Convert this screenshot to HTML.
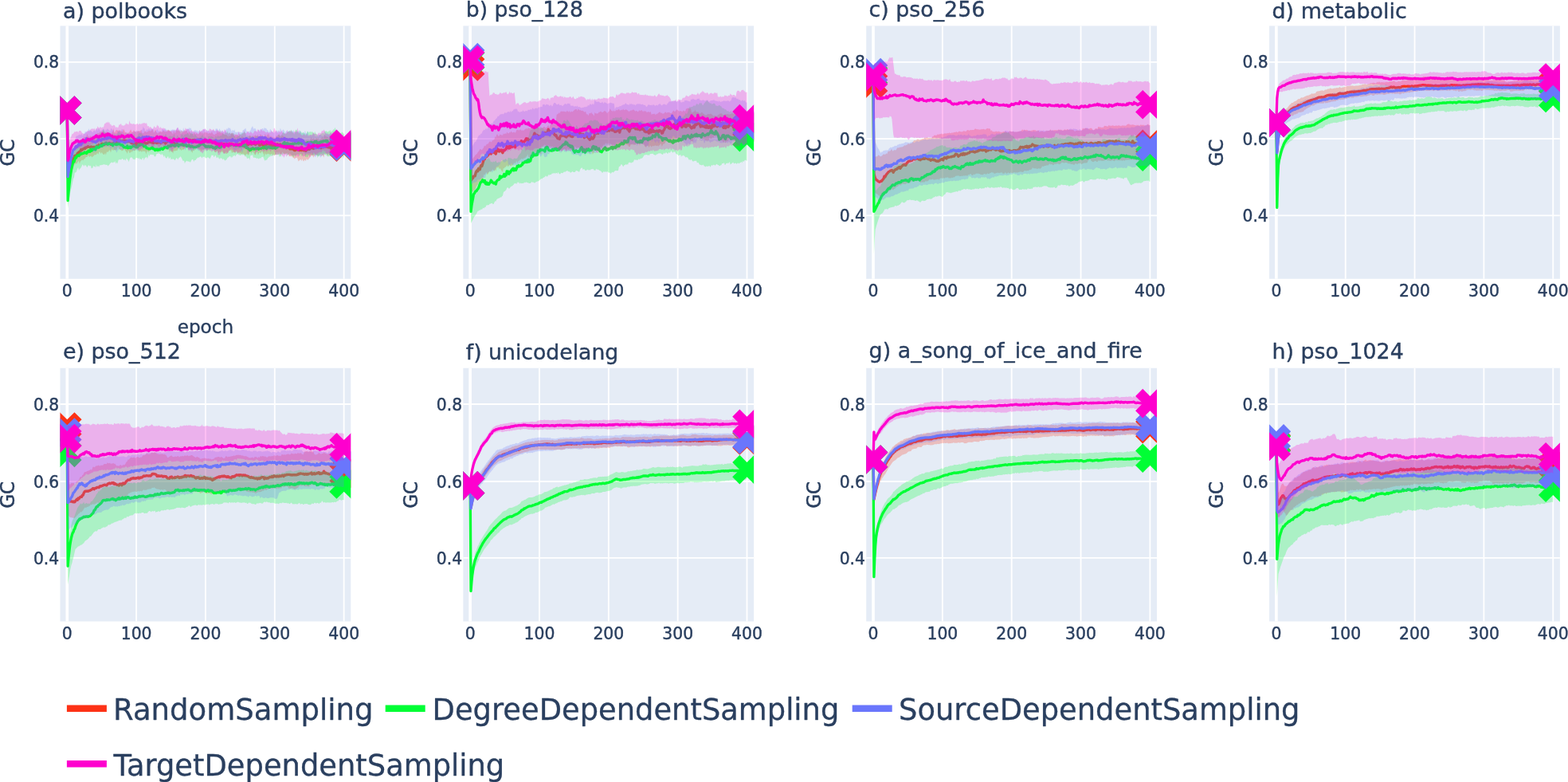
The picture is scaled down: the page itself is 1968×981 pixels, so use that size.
<!DOCTYPE html>
<html lang="en"><head><meta charset="utf-8"><title>GC vs epoch</title>
<style>html,body{margin:0;padding:0;background:#fff}body{width:1968px;height:981px;overflow:hidden}svg{display:block}text{font-family:"DejaVu Sans","Liberation Sans",sans-serif;white-space:pre}.bR{fill:#FD3216;fill-opacity:0.25;stroke:none}.lR{fill:none;stroke:#FD3216;stroke-width:3.333;stroke-linejoin:round;stroke-linecap:butt;vector-effect:non-scaling-stroke}.bG{fill:#00FE35;fill-opacity:0.25;stroke:none}.lG{fill:none;stroke:#00FE35;stroke-width:3.333;stroke-linejoin:round;stroke-linecap:butt;vector-effect:non-scaling-stroke}.bB{fill:#6A76FC;fill-opacity:0.25;stroke:none}.lB{fill:none;stroke:#6A76FC;stroke-width:3.333;stroke-linejoin:round;stroke-linecap:butt;vector-effect:non-scaling-stroke}.bM{fill:#FE00CE;fill-opacity:0.25;stroke:none}.lM{fill:none;stroke:#FE00CE;stroke-width:3.333;stroke-linejoin:round;stroke-linecap:butt;vector-effect:non-scaling-stroke}</style></head><body>
<svg width="1968" height="981" viewBox="0 0 1968 981">
<rect width="1968" height="981" fill="#fff"/>
<defs>
<clipPath id="ca"><rect x="75.48" y="32.44" width="364.8" height="317.35"/></clipPath>
<clipPath id="cb"><rect x="581.35" y="32.44" width="364.8" height="317.35"/></clipPath>
<clipPath id="cc"><rect x="1087.22" y="32.44" width="364.8" height="317.35"/></clipPath>
<clipPath id="cd"><rect x="1593.09" y="32.44" width="364.8" height="317.35"/></clipPath>
<clipPath id="ce"><rect x="75.48" y="461.72" width="364.8" height="317.8"/></clipPath>
<clipPath id="cf"><rect x="581.35" y="461.72" width="364.8" height="317.8"/></clipPath>
<clipPath id="cg"><rect x="1087.22" y="461.72" width="364.8" height="317.8"/></clipPath>
<clipPath id="ch"><rect x="1593.09" y="461.72" width="364.8" height="317.8"/></clipPath>
</defs>
<g id="p_a">
<rect x="75.48" y="32.44" width="364.8" height="317.35" fill="#E5ECF6"/>
<path d="M171.12,32.44v317.35M257.96,32.44v317.35M344.8,32.44v317.35M431.64,32.44v317.35M75.48,270.42h364.8M75.48,174.1h364.8M75.48,77.85h364.8" stroke="#fff" stroke-width="1.85" fill="none"/>
<path d="M84.28,32.44v317.35" stroke="#fff" stroke-width="3.6" fill="none"/>
<g clip-path="url(#ca)">
<g transform="translate(84.28,463.26) scale(0.8684,-0.24095)">
<path class="bR" d="M0 1348l1-328 1 19 1 14 1 13 1 13 1 13 1 10 1 14 1 11 1 3 1 17 1 0 1 3 1 10 1 0 1 0 1 7 1 8 1 13 1 5 1 6 1 0 1-3 1 14 1 0 1-3 1 4 1 4 1 11 1-11 1-4 1 1 1-3 1 9 1-6 1 0 1-3 1-1 1 6 1-4 1 12 1 2 1 1 1 6 1-2 1 1 1 4 1 2 1-1 1 3 1 3 1-1 1-1 1-7 1 3 1-2 1 2 1 3 1-7 1 1 1-1 1 1 1-2 1-3 1 10 1 0 1 18 1-21 1 0 1 8 1 3 1 2 1-5 1 2 1-2 1 2 1-2 1-4 1 2 1-6 1 15 1 0 1-7 1-9 1 1 1-3 1-5 1 8 1-4 1 7 1 6 1 6 1-9 1-6 1 3 1 8 1-3 1-6 1 2 1-6 1 10 1-5 1 3 1 2 1-3 1 3 1 5 1-14 1-3 1-1 1 3 1 6 1 3 1-7 1 1 1 2 1 0 1 6 1 0 1-5 1 3 1 2 1 4 1 1 1-16 1 1 1 16 1-5 1-10 1-1 1-7 1 6 1 4 1-2 1 5 1-3 1 0 1 1 1 7 1-3 1-4 1-1 1 3 1-4 1 10 1 0 1 3 1-6 1-5 1 4 1-7 1-6 1-5 1 18 1-6 1-6 1 7 1 12 1-5 1-3 1 8 1-9 1-2 1 2 1 5 1-3 1-4 1 4 1-4 1 10 1-8 1 3 1 2 1-13 1-3 1 15 1-11 1 1 1-8 1-1 1 1 1 1 1 1 1 11 1-15 1 2 1 2 1 2 1-7 1 3 1 10 1-6 1 9 1-4 1-9 1 12 1-12 1 7 1 4 1-3 1 0 1-1 1-1 1-6 1 6 1-3 1 2 1-3 1 10 1-6 1-8 1 0 1-4 1 6 1 1 1 0 1 17 1-13 1 5 1 4 1-1 1 3 1-12 1-1 1 5 1-10 1 1 1-4 1 1 1 0 1-3 1-4 1-5 1 10 1-7 1 2 1 16 1 1 1-5 1-6 1-3 1-4 1 4 1 13 1-11 1 1 1-2 1-4 1 4 1-12 1 0 1 5 1 4 1-5 1 0 1-8 1 0 1 8 1-4 1 4 1-3 1-3 1 11 1 3 1 0 1-12 1 7 1-2 1 2 1 5 1-4 1 9 1-10 1 5 1-5 1 11 1-15 1 3 1 12 1-2 1-4 1-1 1-17 1 5 1 6 1 15 1-6 1-10 1 14 1-5 1 11 1-11 1-8 1 4 1-1 1-5 1 3 1-7 1 4 1-4 1 1 1 11 1-4 1 4 1 6 1-3 1-3 1 0 1-14 1 18 1-5 1-1 1-2 1-4 1 2 1-1 1-6 1 2 1-4 1-8 1 1 1-5 1-7 1-1 1 6 1 5 1 2 1-7 1-4 1-6 1 6 1 11 1-7 1 1 1-2 1 8 1 0 1-9 1 6 1 1 1-13 1 2 1 6 1-2 1 6 1 4 1-11 1 15 1-10 1 0 1 3 1 10 1 7 1-14 1 5 1 3 1-3 1-5 1 0 1 10 1-3 1-4 1 8 1-16 1 7 1-1 1 2 1 9 1 3 1-10 1 8 1 10 1-3 1-5 1 2 1-3 1 0 1-7 1 8 1-4 1 1 1 12 1-9 1-6 1-11 1 6 1 4 1-4 1 5 1-4 1-13 1-2 1 0 1 2 1 9 1 2 1 8 1-6 1-3 1 5 0-87-1-1-1-5-1 5-1-16-1 3-1 1-1 4-1-3-1 9-1 2-1-5-1-3-1-2-1 15-1-8-1 11-1-15-1 16-1-10-1 0-1 11-1-6-1-8-1-1-1 15-1-5-1 0-1 6-1-24-1 7-1 6-1-2-1-5-1 10-1-4-1 6-1-7-1-1-1 3-1 0-1 2-1-7-1 1-1-9-1 8-1 4-1-3-1-4-1 0-1-9-1-3-1-6-1 3-1 5-1-13-1 4-1 3-1-9-1 3-1 12-1-14-1 9-1 2-1-8-1 1-1-5-1 15-1 6-1-3-1 1-1-7-1 5-1 2-1 2-1 7-1-3-1 2-1 0-1-2-1 8-1 8-1 3-1-4-1 3-1-2-1-5-1 6-1 4-1 4-1-10-1 0-1-1-1 5-1 9-1-22-1 16-1 2-1-14-1-1-1-5-1 4-1 7-1-12-1 13-1-2-1-2-1-3-1 7-1-3-1 4-1-3-1-2-1 0-1 8-1-23-1 19-1 1-1 12-1-4-1-8-1 3-1 3-1-6-1-10-1 14-1 8-1-15-1-6-1 2-1 8-1 7-1-3-1 3-1-12-1 13-1 0-1-13-1-6-1 3-1 6-1-3-1-4-1-4-1 5-1 7-1-3-1 3-1-4-1 2-1 4-1-4-1 6-1-5-1 5-1 9-1-2-1-10-1 3-1 4-1-2-1-1-1-3-1 13-1 1-1-2-1 0-1-5-1-5-1-6-1 0-1 3-1 0-1 1-1 1-1 2-1 5-1-6-1 4-1-4-1 6-1-8-1 2-1 11-1-7-1 0-1 0-1-2-1 12-1 3-1 6-1-2-1-1-1-3-1-10-1 9-1 3-1-9-1 0-1 6-1 0-1 4-1-2-1-3-1 2-1-7-1-3-1 8-1-5-1 8-1-1-1 2-1 4-1 2-1-9-1 0-1-3-1-5-1 7-1-17-1 7-1 5-1 9-1 3-1-6-1 7-1 6-1-1-1 9-1-14-1 3-1-7-1-6-1 3-1-2-1-4-1 8-1-6-1 15-1-5-1-3-1-10-1 2-1-1-1-2-1 0-1 2-1-15-1 9-1 1-1 0-1 7-1-12-1 14-1 2-1 0-1-1-1 0-1 3-1-4-1 5-1 3-1 5-1-8-1-7-1 0-1-6-1 0-1 1-1-9-1 15-1 2-1 8-1 3-1-4-1-6-1-5-1 13-1-10-1 1-1-6-1 0-1-6-1 1-1 7-1-8-1-11-1 14-1 1-1 0-1-1-1 4-1-8-1 4-1 3-1-3-1-1-1 5-1 6-1 3-1-4-1-2-1-3-1-1-1 3-1-1-1-10-1 8-1-8-1-1-1-2-1 12-1-1-1-15-1 8-1 4-1 4-1 7-1 0-1-5-1-2-1-2-1 5-1 1-1 3-1 1-1 12-1-1-1-9-1-9-1 2-1 0-1 1-1-2-1-1-1 6-1-5-1-12-1 11-1 2-1-6-1-5-1 3-1-3-1-16-1 13-1-7-1-3-1 3-1 4-1 7-1-8-1 4-1 7-1-4-1-11-1 6-1-1-1-8-1 2-1-3-1 1-1-7-1-1-1-5-1 6-1 1-1-1-1-5-1 9-1 0-1-8-1 0-1 0-1-7-1-2-1-3-1-7-1 5-1-2-1-5-1-3-1-12-1 14-1 0-1-6-1-7-1 3-1-5-1 3-1-10-1-11-1-10-1-11-1-7-1-3-1-10-1-11-1-9-1-9-1 368z"/>
<path class="lR" d="M0 1348l1-348 1 16 1 14 1 11 1 12 1 8 1 14 1 6 1 13 1 8 1 10 1 1 1 1 1 0 1 11 1 3 1 1 1 5 1 1 1 9 1-4 1 4 1 3 1 1 1 4 1-3 1 6 1 0 1 1 1 4 1-2 1-1 1-1 1 2 1 1 1-1 1-2 1 0 1 2 1-1 1 0 1 1 1 6 1 0 1-2 1 6 1-5 1 3 1 2 1 6 1 1 1-2 1-5 1 6 1 1 1-2 1 0 1-1 1 1 1 2 1 4 1-4 1-5 1 5 1 0 1-3 1 5 1 3 1 4 1 3 1 1 1-2 1 5 1-1 1-5 1 3 1 2 1-2 1-1 1 1 1 2 1-3 1 4 1-6 1 5 1-5 1 0 1 2 1 2 1-3 1-1 1-3 1-4 1-2 1 5 1-2 1-4 1 1 1-1 1-6 1 10 1 2 1 0 1 0 1 5 1-5 1-4 1 1 1 7 1-3 1-1 1 0 1-4 1-2 1 1 1 2 1 3 1 1 1 2 1-1 1 0 1-2 1 2 1-5 1 0 1 4 1 3 1-1 1-6 1 4 1-3 1 7 1-4 1 0 1-4 1 2 1 2 1 1 1 2 1 2 1-3 1-8 1 5 1 2 1 5 1-1 1 0 1-2 1 1 1-5 1 1 1 6 1-5 1 6 1-6 1-7 1 3 1 6 1-5 1 6 1 6 1-4 1 3 1 0 1 2 1-4 1 8 1-6 1 4 1 3 1-2 1 1 1-3 1 1 1 2 1-2 1 0 1-2 1-6 1 1 1 5 1 1 1-2 1 3 1-1 1-1 1 1 1-1 1-8 1 3 1 7 1-8 1 11 1-5 1-7 1 0 1-4 1 1 1 9 1-2 1 2 1-7 1 1 1 0 1 1 1-2 1 2 1-3 1-1 1 2 1 0 1 3 1-3 1-8 1 4 1-7 1 9 1-1 1 1 1-6 1 1 1-4 1-5 1 6 1-3 1-3 1 4 1-5 1 0 1 2 1-3 1 6 1-2 1 2 1 2 1-8 1 6 1 2 1-4 1-1 1 0 1-2 1-2 1 0 1 3 1 2 1-6 1 4 1 3 1-8 1 6 1-1 1 3 1-2 1 0 1-10 1 4 1 5 1-4 1 8 1-3 1-1 1 5 1 2 1 2 1-7 1 1 1 6 1-1 1-3 1 1 1-5 1 3 1 7 1-1 1-4 1-1 1-8 1 1 1 3 1 4 1 3 1-10 1 3 1-8 1 7 1 7 1-6 1 9 1-7 1 2 1-2 1 0 1-8 1 3 1-2 1-1 1 6 1-3 1-6 1 0 1 9 1 1 1 2 1-9 1 4 1-3 1 6 1-9 1 4 1-4 1 1 1 0 1 3 1-5 1-2 1 3 1 4 1-7 1-4 1-4 1-4 1 0 1 0 1 1 1-2 1 0 1-5 1-1 1 1 1 6 1 1 1-5 1 3 1-5 1-1 1 6 1-5 1-1 1 5 1-3 1-3 1 6 1-2 1-6 1 10 1-4 1 7 1-5 1 0 1 3 1 9 1 3 1-7 1-2 1-2 1 8 1 5 1-5 1 10 1 1 1-8 1-3 1 1 1-2 1 2 1-6 1 4 1 3 1-3 1 2 1 7 1-7 1 7 1-2 1-6 1-1 1-1 1 4 1-3 1-6 1 5 1 1 1-4 1-8 1 4 1 1 1-1 1-1 1-1 1-3 1-3 1 5 1 4 1-2 1 5 1 8 1-9 1 5 1 0"/>
</g>
<path fill="#FD3216" d="M84.28,147.61l9.15,9.15l9.15,-9.15l-9.15,-9.15l9.15,-9.15l-9.15,-9.15l-9.15,9.15l-9.15,-9.15l-9.15,9.15l9.15,9.15l-9.15,9.15l9.15,9.15ZM431.64,193.87l9.15,9.15l9.15,-9.15l-9.15,-9.15l9.15,-9.15l-9.15,-9.15l-9.15,9.15l-9.15,-9.15l-9.15,9.15l9.15,9.15l-9.15,9.15l9.15,9.15Z"/>
<g transform="translate(84.28,463.26) scale(0.8684,-0.24095)">
<path class="bG" d="M0 1348l1-450 1 52 1 45 1 38 1 28 1 28 1 19 1 21 1 11 1 0 1 9 1 9 1-3 1 7 1-3 1 11 1-5 1 10 1-2 1 4 1 3 1-5 1 8 1 5 1 2 1 1 1 1 1-10 1 0 1 2 1 10 1-16 1-1 1 15 1-1 1 3 1 0 1 0 1 11 1 10 1-10 1 1 1 9 1-5 1 2 1 0 1 10 1 6 1 0 1-2 1 1 1 21 1-1 1-10 1-7 1-1 1 2 1-5 1-7 1 7 1-4 1 0 1-1 1-2 1-6 1 1 1 0 1 11 1-6 1 0 1-1 1 4 1 6 1 8 1 0 1-1 1-10 1 8 1-8 1-11 1 1 1-5 1 4 1 1 1 0 1 4 1 16 1-13 1 5 1-13 1 6 1-2 1 4 1-2 1-2 1 1 1 10 1-26 1 4 1 1 1 6 1-1 1 12 1 6 1-3 1 2 1 1 1-6 1-5 1 1 1-10 1 6 1-3 1-6 1-7 1-11 1 3 1 1 1 7 1 2 1 0 1-6 1 6 1-11 1 3 1 8 1-9 1 1 1-7 1 5 1-15 1 16 1-4 1 5 1 8 1 4 1 3 1-10 1 23 1-8 1 1 1 8 1 0 1-11 1-13 1 11 1 0 1 2 1 5 1-7 1 3 1 1 1-4 1 10 1 5 1-21 1-3 1 6 1 10 1-1 1-7 1-4 1-5 1 11 1 13 1-6 1 8 1-16 1 10 1 2 1 0 1 1 1-1 1 11 1-8 1-6 1-6 1 14 1 1 1 5 1-4 1-10 1-10 1 12 1 2 1-6 1-5 1-3 1-4 1 3 1-7 1 14 1-11 1 14 1-4 1 8 1-13 1-1 1 2 1 0 1-6 1-3 1-4 1 17 1-4 1 4 1-6 1 3 1 2 1-4 1 0 1-6 1 2 1 2 1 10 1-11 1 5 1 7 1-7 1 0 1 4 1 0 1-1 1 6 1 8 1-4 1-4 1 7 1 5 1 1 1-5 1 14 1-15 1 0 1 7 1-11 1 2 1 4 1-2 1 0 1 2 1-15 1-8 1-3 1 7 1-2 1 6 1-3 1 11 1-1 1 1 1 3 1 5 1 0 1 1 1 5 1-3 1-10 1-13 1 8 1-5 1 1 1 1 1-4 1 3 1-5 1 6 1 2 1-7 1-8 1-3 1 15 1 0 1-3 1 6 1-7 1-11 1 4 1 11 1-5 1 0 1 10 1-6 1 0 1-1 1 1 1-4 1-16 1 6 1 12 1-2 1-6 1 3 1-5 1-5 1 6 1-5 1 3 1-11 1 3 1 2 1 6 1 13 1-7 1 13 1 1 1 5 1-11 1 0 1 6 1 7 1 4 1 5 1-9 1 1 1-7 1 5 1 6 1 3 1 2 1 5 1-6 1 4 1 7 1-12 1 1 1-4 1-11 1 8 1 16 1 1 1 0 1-14 1-3 1 9 1-7 1 12 1-8 1-4 1-2 1 5 1-2 1-6 1 2 1-9 1 7 1 12 1 0 1-7 1 3 1 4 1-2 1-3 1 5 1-5 1-2 1-5 1 12 1-11 1-4 1 0 1-6 1-9 1 10 1 2 1 0 1 9 1-5 1 6 1 1 1-7 1 14 1-1 1 4 1-3 1-1 1-3 1 6 1-2 1 7 1-5 1-7 1 12 1-5 1 10 1-5 1 14 1-10 1-8 1-1 1-3 1-6 1-2 1-3 1 2 1 1 1 6 1-3 1-2 1-8 0-115-1-11-1 13-1 5-1-6-1-3-1-3-1-1-1 10-1-5-1-5-1 7-1 2-1-10-1 1-1 10-1 6-1 7-1-7-1-5-1-6-1 3-1 0-1-6-1 13-1-9-1 14-1-9-1 8-1-2-1 9-1-16-1 10-1 1-1-2-1-8-1-4-1 0-1-8-1 11-1 7-1-5-1 10-1-9-1-1-1 2-1-2-1 0-1 3-1 2-1-8-1 4-1-7-1-6-1 6-1-3-1 1-1 10-1 11-1-17-1 2-1-4-1 11-1 2-1-12-1 6-1 5-1-1-1 1-1-7-1-1-1 0-1-1-1-8-1 5-1 5-1 1-1 4-1 8-1-7-1-2-1 0-1-5-1 13-1-4-1 0-1 3-1-2-1 1-1-7-1 6-1-16-1 5-1-7-1 11-1 5-1-4-1 1-1 4-1-4-1 1-1-5-1 3-1-3-1-4-1 2-1-1-1-4-1 2-1-7-1-1-1-8-1-3-1 0-1-4-1 6-1 9-1 7-1-2-1 0-1-7-1 2-1-1-1-4-1 2-1 4-1-5-1 5-1 0-1 2-1-2-1 2-1 14-1-4-1 0-1 0-1-25-1 12-1-1-1 0-1-2-1 10-1 1-1-1-1 9-1 0-1-1-1 1-1 4-1-8-1 2-1 1-1 0-1 7-1-4-1 4-1-9-1-5-1 7-1-5-1 3-1-11-1 6-1-8-1 9-1 0-1-2-1-4-1-1-1-6-1-7-1 0-1-4-1 7-1 5-1-7-1 7-1 2-1 0-1 0-1-5-1 5-1 7-1-5-1-1-1 10-1 5-1-8-1-3-1 11-1-2-1 3-1-8-1-8-1-5-1 6-1 2-1 1-1-3-1-2-1 1-1 4-1 4-1-3-1 2-1-8-1 5-1 5-1-4-1 1-1-6-1 4-1-5-1-2-1-8-1-1-1 0-1-8-1 12-1 2-1-3-1-8-1-7-1 6-1-2-1 3-1-1-1 4-1-4-1-2-1-9-1 15-1-1-1 1-1 10-1 6-1 7-1-6-1 0-1-5-1-8-1 9-1 2-1-6-1-8-1 3-1 4-1 2-1-2-1 1-1-3-1 13-1-6-1-3-1 13-1-3-1-8-1 2-1 2-1 12-1-10-1 9-1 3-1 7-1-8-1 2-1 6-1-1-1 7-1-8-1 3-1-4-1-11-1-2-1 1-1 8-1 3-1-4-1 4-1-2-1 2-1-12-1 13-1-13-1-11-1 9-1-1-1-2-1-3-1-12-1 13-1 2-1-11-1 2-1 4-1-5-1 11-1-8-1 5-1 1-1 0-1-2-1-10-1 6-1-2-1 2-1 8-1-1-1 2-1-4-1-9-1-12-1 12-1 1-1 8-1-7-1-8-1 10-1-7-1 5-1 4-1-2-1-4-1 1-1 1-1-2-1-1-1-20-1 10-1-10-1 6-1 8-1-8-1 3-1-5-1 4-1-1-1-2-1-4-1-5-1-3-1-6-1 8-1-1-1 2-1-2-1 4-1-2-1 1-1-3-1 1-1-3-1 0-1 0-1-10-1 6-1 0-1-6-1 15-1-17-1 6-1 0-1 3-1-10-1-2-1-1-1 15-1-4-1 2-1 5-1-6-1-7-1 4-1 10-1-7-1 8-1-11-1 9-1 3-1-11-1-6-1-5-1-2-1-9-1 16-1-4-1-11-1-9-1-2-1 0-1-25-1-6-1-17-1-18-1-16-1-13-1-17-1-23-1-26-1-26-1 511z"/>
<path class="lG" d="M0 1348l1-470 1 44 1 37 1 31 1 26 1 23 1 17 1 14 1 13 1-3 1 14 1 9 1-2 1 8 1 5 1 0 1-3 1 6 1 1 1 6 1-3 1 2 1 1 1 0 1 6 1-2 1-1 1-3 1 8 1-1 1 7 1-3 1-2 1 12 1-7 1 1 1 8 1-2 1 1 1 1 1-3 1 14 1 1 1-5 1 0 1 2 1 3 1 7 1 0 1-4 1 4 1 5 1 0 1 2 1 0 1 6 1-1 1-3 1-4 1 4 1 1 1-2 1-1 1-1 1-2 1-5 1 10 1 4 1-4 1-5 1 3 1-4 1 3 1 7 1-7 1 0 1-1 1-4 1 1 1 0 1-7 1-5 1 1 1-2 1-1 1 1 1 8 1-11 1 4 1-2 1 5 1-6 1 5 1 1 1 3 1 1 1 3 1-7 1-1 1-2 1 3 1-2 1 11 1 0 1-2 1 2 1 4 1-3 1 1 1-5 1-5 1 2 1 1 1-7 1-5 1 0 1-1 1-3 1 1 1 0 1 3 1 0 1 4 1-7 1 1 1-4 1-5 1 5 1-3 1 4 1-5 1 4 1 1 1-3 1 4 1 3 1 0 1-5 1 3 1 5 1 4 1 1 1-3 1 0 1-3 1 11 1-3 1 2 1 3 1-2 1 4 1 2 1-2 1-2 1-1 1-1 1 6 1-2 1 3 1 1 1-9 1 7 1 0 1 1 1-1 1 1 1 4 1-8 1 2 1-2 1 3 1-1 1-7 1 2 1 1 1 3 1-5 1-3 1 0 1 3 1-3 1 0 1-3 1 1 1 1 1-1 1 1 1 3 1 2 1-2 1 3 1 9 1-4 1 6 1 1 1 1 1-8 1-2 1-3 1-5 1-1 1 3 1-3 1 3 1 0 1-4 1 1 1 4 1-4 1 0 1-6 1 0 1 2 1-4 1 7 1-3 1 9 1 2 1-1 1-10 1 2 1 0 1 4 1 6 1 1 1-2 1 0 1 3 1 2 1-2 1 1 1 5 1-2 1-2 1 3 1-4 1 0 1 3 1-1 1-3 1 2 1-3 1-1 1-2 1 6 1-1 1-1 1 0 1-5 1 0 1 2 1 1 1-3 1 2 1 1 1-1 1 3 1-7 1-8 1 3 1-3 1-6 1-1 1-6 1 7 1-3 1 5 1 3 1-2 1-4 1 2 1-1 1 4 1-2 1-1 1 4 1-6 1 4 1-1 1 0 1 3 1 2 1 2 1-5 1 1 1 7 1-2 1-8 1 3 1 4 1 3 1-3 1-2 1 2 1-4 1 1 1-2 1 2 1-1 1 1 1-3 1 3 1 1 1 4 1 5 1-2 1 3 1-1 1-1 1 2 1 4 1 7 1-1 1 8 1-9 1 3 1-1 1 2 1-9 1 7 1-5 1-2 1 5 1-1 1 0 1 3 1-3 1 2 1 2 1 5 1-5 1 9 1-8 1 2 1-3 1 6 1-1 1-1 1-6 1 3 1 4 1 0 1-5 1 0 1-4 1 3 1 5 1 1 1-3 1 1 1 1 1-8 1 11 1-4 1-2 1 4 1-2 1 7 1-2 1 3 1-7 1-3 1 0 1 4 1-4 1 4 1 4 1-2 1 4 1-2 1 4 1-1 1-1 1 4 1-6 1 5 1-12 1 3 1-8 1 3 1-6 1 6 1 7 1-1 1-1 1-1 1 4 1-5 1-10 1 2 1 0 1-2 1-6 1-2 1-4 1 2 1 2 1-5 1 7 1 3"/>
</g>
<path fill="#00FE35" d="M84.28,147.61l9.15,9.15l9.15,-9.15l-9.15,-9.15l9.15,-9.15l-9.15,-9.15l-9.15,9.15l-9.15,-9.15l-9.15,9.15l9.15,9.15l-9.15,9.15l9.15,9.15ZM431.64,191.46l9.15,9.15l9.15,-9.15l-9.15,-9.15l9.15,-9.15l-9.15,-9.15l-9.15,9.15l-9.15,-9.15l-9.15,9.15l9.15,9.15l-9.15,9.15l9.15,9.15Z"/>
<g transform="translate(84.28,463.26) scale(0.8684,-0.24095)">
<path class="bB" d="M0 1348l1-325 1 32 1 20 1 20 1 26 1 23 1 13 1 16 1 13 1 3 1 4 1 9 1 12 1 1 1 0 1 2 1 5 1-3 1 5 1-7 1 11 1-12 1 1 1 12 1-5 1 15 1-3 1 4 1-6 1 6 1 13 1-7 1-2 1-2 1-2 1-3 1-4 1 8 1 2 1 2 1-9 1 13 1 7 1-15 1 11 1 2 1-9 1-2 1-5 1 8 1 1 1 3 1 1 1-5 1-9 1 14 1-8 1 10 1-3 1-4 1-3 1-5 1 11 1 7 1-9 1 0 1-4 1-15 1-2 1 5 1-6 1 5 1 14 1-8 1 8 1 1 1-10 1 6 1 10 1-2 1-12 1-7 1-4 1 5 1 5 1-10 1-5 1 7 1 4 1 1 1-4 1 1 1 2 1 0 1 3 1-1 1 6 1-3 1 2 1 1 1 5 1-10 1 7 1-5 1-1 1-2 1 15 1-6 1 7 1 15 1-12 1 1 1-17 1 4 1 10 1-5 1 1 1 8 1-3 1-8 1 10 1-5 1 4 1-4 1 0 1-15 1 6 1 1 1 4 1 5 1-4 1-6 1-1 1 3 1-2 1-10 1 17 1 3 1-1 1-3 1 2 1 8 1-7 1-13 1 10 1 2 1-11 1 8 1-8 1 11 1-4 1 6 1-5 1 3 1-3 1 3 1-6 1 2 1 15 1-1 1-12 1-7 1 13 1-7 1 1 1-5 1 1 1 17 1-15 1 0 1-5 1 3 1 8 1 4 1-5 1 9 1-1 1-5 1 6 1-17 1-4 1-3 1 6 1 4 1 2 1-2 1-2 1 2 1-5 1-2 1 9 1-6 1-4 1 11 1-9 1 7 1 5 1-5 1 11 1-6 1-8 1 4 1-9 1 7 1-2 1-5 1 0 1 10 1-10 1 8 1 0 1-4 1-1 1 4 1 11 1-5 1 4 1-14 1 3 1 10 1-6 1-4 1-6 1 9 1-6 1-5 1 1 1 3 1 6 1 2 1 9 1-8 1 12 1-6 1 4 1-6 1-7 1-8 1 10 1-3 1-3 1 8 1-15 1 2 1-1 1-2 1 6 1-6 1 3 1 0 1-3 1 2 1-1 1 11 1 0 1 4 1 3 1 3 1-13 1-7 1 1 1 4 1-5 1 7 1 1 1 13 1 5 1 6 1-11 1-6 1 6 1-3 1-6 1-10 1-4 1 13 1 0 1-3 1 7 1-4 1 3 1 5 1 0 1-8 1 14 1-6 1 1 1-2 1-7 1 0 1-5 1-8 1 14 1 4 1-10 1-5 1 2 1-5 1-5 1 9 1 1 1-6 1 15 1-11 1 6 1 3 1-11 1 22 1-8 1-13 1 8 1 6 1-4 1-3 1-17 1 15 1-1 1 8 1-14 1 7 1 2 1 1 1-10 1 8 1-1 1 2 1 2 1-8 1-4 1 5 1-6 1 9 1-2 1-2 1 7 1 1 1-7 1 2 1-14 1 5 1 5 1-12 1 10 1 10 1-16 1 3 1 2 1 8 1-25 1-4 1 9 1-1 1-2 1-2 1 6 1 4 1 1 1-15 1 1 1 3 1-6 1 5 1 10 1-5 1-1 1 4 1-2 1-5 1 1 1-4 1 9 1 1 1-1 1 13 1-4 1-4 1-2 1-2 1 0 1 3 1 8 1-13 1 5 1 1 1-2 1-7 1-1 1-5 1-4 1 2 1 10 1-12 1 5 1-7 1 1 1 5 1 0 1-3 1 5 1-6 0-83-1-11-1 6-1 0-1 3-1-2-1-5-1-4-1-6-1 16-1 2-1 5-1 2-1-4-1 6-1-3-1-10-1-5-1 10-1 4-1-1-1-2-1 1-1-2-1-9-1 6-1 4-1 2-1-5-1-10-1 6-1-4-1-5-1-3-1-4-1 9-1 4-1-8-1 7-1 2-1-6-1-3-1-4-1 18-1-2-1-1-1 8-1 3-1-3-1-2-1 0-1 3-1-7-1 7-1-3-1-4-1 0-1 8-1 11-1 3-1 0-1 6-1-3-1 3-1 2-1 2-1 6-1-10-1-4-1-6-1 7-1 10-1-2-1 6-1-4-1-9-1-1-1 0-1 3-1-2-1 5-1-3-1 5-1-9-1 0-1-1-1 7-1-2-1 7-1-10-1 3-1 0-1 11-1-9-1 9-1-14-1 8-1 1-1-19-1 29-1-6-1-1-1-14-1 10-1-4-1 8-1-1-1-18-1 5-1 0-1 6-1-6-1 5-1 3-1 9-1 5-1 8-1-8-1 8-1-21-1 5-1 2-1-4-1 1-1-4-1-3-1-7-1 4-1-3-1 9-1 4-1 2-1-8-1-1-1 8-1-3-1-3-1 1-1 3-1-15-1 11-1-1-1-1-1 8-1-7-1-4-1-9-1-11-1 9-1 10-1 5-1-1-1-3-1-2-1 7-1-10-1 2-1-1-1-4-1 6-1 4-1 7-1 2-1-3-1 2-1-9-1 1-1 4-1 4-1 4-1-3-1-3-1 0-1-1-1 0-1 1-1-9-1 3-1-9-1 5-1-1-1 5-1-6-1-2-1 2-1 6-1-2-1-12-1 10-1 5-1-12-1 14-1 6-1-7-1 4-1-13-1 4-1 2-1-13-1 1-1 14-1-2-1-1-1-5-1 2-1 1-1 1-1 1-1 9-1-16-1-2-1 4-1 5-1 1-1-6-1 7-1-1-1-8-1-2-1 3-1 1-1-10-1 11-1-4-1 10-1-7-1 12-1 2-1-4-1-11-1 3-1 19-1 4-1-7-1-2-1 2-1-13-1 5-1-5-1 6-1-8-1 16-1-6-1 3-1-1-1-3-1-2-1 4-1-10-1-3-1-2-1-3-1 6-1 2-1 1-1-3-1 8-1-8-1 10-1 4-1 5-1-3-1-4-1-3-1-6-1-10-1 14-1 2-1-7-1 0-1 11-1 1-1-7-1 0-1 5-1-4-1 6-1-4-1 4-1 1-1-2-1 0-1 8-1-8-1-12-1 18-1-12-1-4-1 11-1 5-1 3-1-5-1-7-1-1-1 1-1 1-1 3-1-17-1-5-1 9-1-9-1 14-1-7-1-5-1 4-1-4-1 5-1 2-1-2-1 0-1 6-1 7-1 1-1 1-1-1-1-7-1 3-1 6-1-5-1-13-1 4-1 3-1-3-1 0-1 0-1 5-1-9-1 1-1-13-1 3-1 14-1-4-1 0-1 13-1-1-1 2-1 0-1-18-1 17-1 5-1-2-1 3-1 0-1 0-1-5-1 6-1-2-1-1-1-7-1 6-1-2-1-4-1-1-1 7-1-1-1-7-1-4-1-4-1-7-1-3-1 2-1-2-1-4-1 9-1 10-1-1-1 4-1 4-1-9-1 9-1 1-1-5-1 3-1-8-1-6-1-1-1-6-1 5-1-1-1-7-1-7-1 1-1 9-1 7-1-19-1 2-1 6-1-12-1-4-1 1-1-8-1-3-1-2-1-11-1-17-1-18-1-17-1-18-1-13-1-22-1 365z"/>
<path class="lB" d="M0 1348l1-345 1 26 1 22 1 15 1 24 1 15 1 13 1 16 1 9 1 1 1 4 1 8 1 5 1-4 1 4 1 7 1 7 1-8 1 6 1-4 1 6 1 5 1 0 1 6 1 2 1 2 1 6 1 6 1-6 1 0 1 1 1-7 1 3 1 2 1-5 1 1 1-5 1-1 1 1 1-2 1-3 1 4 1 3 1 1 1 8 1 1 1-2 1-2 1-4 1 8 1 0 1 1 1-1 1 3 1 1 1 1 1-3 1 6 1-4 1 2 1 4 1-4 1-2 1 4 1-6 1-2 1 1 1-10 1-2 1 11 1-3 1-2 1 3 1-7 1 6 1-8 1-1 1 0 1 0 1-1 1-1 1-2 1 0 1-2 1 4 1 1 1 2 1 4 1-2 1 1 1 3 1-7 1 3 1 0 1-5 1-1 1 7 1 1 1 6 1 0 1 2 1-5 1 9 1 3 1-5 1 0 1 1 1-2 1 8 1-2 1 1 1 2 1-7 1 0 1 9 1-4 1-1 1 4 1-6 1-1 1 3 1-1 1-2 1 1 1 0 1-7 1-9 1 1 1-1 1 1 1 1 1 1 1-5 1 0 1 0 1-5 1 11 1 1 1 2 1-6 1 1 1 2 1 3 1-6 1 6 1-4 1-5 1 3 1-8 1 8 1-5 1 7 1-3 1 6 1-2 1 0 1-6 1 9 1 0 1-8 1 0 1-1 1 5 1 2 1-2 1 2 1-4 1 10 1-11 1-1 1-6 1 5 1 2 1 0 1 4 1-2 1-3 1 0 1 2 1-9 1 6 1-3 1 5 1 3 1 2 1-1 1 3 1-2 1 3 1-5 1 4 1 0 1 1 1 1 1-6 1 2 1-7 1 2 1 8 1 0 1-8 1 2 1 2 1 0 1-9 1 9 1 0 1 0 1-5 1 1 1-1 1-1 1 1 1 3 1 3 1-7 1 0 1 2 1-1 1 1 1-1 1 5 1 0 1-2 1 1 1-1 1-1 1 3 1 2 1-7 1 4 1-2 1 4 1-1 1 0 1 1 1-3 1 0 1 7 1-6 1 0 1-2 1 2 1-8 1 1 1 2 1 8 1-1 1 0 1 5 1-1 1-7 1-2 1 7 1 3 1 0 1 1 1 1 1 2 1-3 1-4 1 1 1-1 1 1 1 0 1 4 1 0 1 1 1 1 1-6 1-1 1 2 1 1 1 0 1 0 1-4 1 11 1-1 1 3 1-8 1 1 1 7 1-4 1-1 1 4 1-1 1 0 1-7 1 0 1 0 1-8 1 2 1 4 1 6 1-3 1-8 1 5 1-2 1 0 1-4 1 5 1 0 1 5 1-6 1 6 1-3 1-6 1 5 1-3 1 6 1-3 1 0 1 3 1 3 1-7 1 3 1 0 1-1 1-4 1 3 1 1 1 0 1-5 1 5 1-6 1 7 1-5 1-4 1 6 1-2 1-7 1 8 1-2 1 4 1 3 1-6 1-4 1 7 1-2 1-8 1 5 1-12 1-4 1-2 1-4 1 2 1 1 1 1 1-2 1 7 1-4 1-2 1 0 1-7 1-2 1 2 1-6 1-4 1-3 1 2 1 3 1-2 1 3 1-5 1 2 1 3 1 6 1-3 1-4 1 3 1-3 1 4 1-2 1 6 1 3 1-5 1 9 1 1 1-5 1 2 1 2 1-4 1 3 1-6 1 0 1 7 1-6 1 2 1-4 1-6 1 4 1-3 1 4 1-4 1-6 1 9 1-2 1 3 1-2 1-1"/>
</g>
<path fill="#6A76FC" d="M84.28,147.61l9.15,9.15l9.15,-9.15l-9.15,-9.15l9.15,-9.15l-9.15,-9.15l-9.15,9.15l-9.15,-9.15l-9.15,9.15l9.15,9.15l-9.15,9.15l9.15,9.15ZM431.64,192.91l9.15,9.15l9.15,-9.15l-9.15,-9.15l9.15,-9.15l-9.15,-9.15l-9.15,9.15l-9.15,-9.15l-9.15,9.15l9.15,9.15l-9.15,9.15l9.15,9.15Z"/>
<g transform="translate(84.28,463.26) scale(0.8684,-0.24095)">
<path class="bM" d="M0 1348l1-206 1 21 1 17 1 20 1 8 1 4 1 12 1 1 1 4 1 4 1 6 1-4 1 3 1 1 1 0 1-7 1 9 1 1 1 0 1-1 1-7 1-4 1-1 1-5 1 5 1-3 1 8 1-1 1 7 1 3 1-3 1-1 1 6 1 4 1 2 1 2 1-2 1 2 1-4 1 9 1-15 1 10 1 1 1 12 1-5 1-6 1 4 1 5 1-5 1-2 1 5 1-3 1 6 1 14 1-1 1 6 1 3 1-5 1 9 1-10 1 8 1-16 1 5 1-10 1 1 1-2 1 5 1-1 1-3 1-8 1 0 1 3 1-6 1 4 1 12 1 0 1 3 1 3 1-10 1 1 1-1 1-1 1 4 1 0 1 11 1-8 1 4 1-5 1 0 1 22 1-14 1-4 1 1 1-3 1 0 1 3 1-2 1-3 1 1 1 2 1 1 1 1 1-7 1 5 1 3 1-6 1 5 1-3 1 7 1-4 1 4 1-1 1-3 1 2 1 0 1-14 1-2 1 2 1-9 1 5 1-2 1-4 1-6 1 1 1 9 1 6 1-7 1-2 1 3 1 13 1-9 1 4 1-11 1-2 1 7 1-8 1 1 1-3 1 6 1-6 1 3 1-12 1 1 1 2 1-8 1 5 1-1 1-1 1 0 1-5 1 5 1 2 1-4 1 10 1-10 1 4 1 1 1 7 1 4 1 5 1-10 1-9 1 3 1-20 1 1 1 9 1-4 1 13 1-10 1 12 1 12 1-7 1 0 1-3 1 2 1 0 1-12 1 1 1 3 1 4 1-8 1 2 1 0 1-9 1 9 1-4 1-3 1 3 1-11 1 4 1 18 1-8 1 0 1 2 1 1 1 7 1 2 1-2 1-1 1 5 1-16 1 10 1-7 1-1 1 7 1 8 1-4 1 0 1-6 1 0 1 7 1-2 1-7 1-3 1 1 1 4 1 5 1-7 1 0 1-7 1-4 1-2 1 12 1-5 1 9 1-12 1 13 1 3 1-7 1-4 1-8 1 4 1-10 1 8 1-2 1-1 1-2 1-6 1 13 1-5 1-6 1 1 1-3 1-1 1-3 1 5 1 2 1 16 1-15 1-1 1-4 1 1 1 7 1-2 1 5 1 13 1-15 1 2 1-4 1 7 1 7 1-6 1-7 1 3 1 5 1-1 1-4 1-6 1 6 1 3 1 8 1-2 1 0 1-4 1 9 1 6 1-8 1-6 1 1 1 14 1-3 1-11 1 8 1-8 1 4 1-6 1-1 1-3 1 6 1-4 1 1 1-7 1 8 1-4 1 13 1-6 1-6 1 6 1 18 1-3 1-11 1-1 1-2 1-7 1-3 1 14 1-8 1-3 1 5 1 7 1-10 1-2 1-6 1 1 1-3 1 8 1-3 1 15 1-10 1 4 1-4 1 0 1 9 1-2 1-7 1-3 1-1 1 9 1-6 1 9 1-6 1 2 1 19 1-16 1-15 1 3 1 2 1-12 1 0 1-4 1 4 1 6 1-5 1-2 1-3 1 8 1 2 1-13 1 7 1-1 1 3 1-3 1 3 1-1 1 10 1 2 1-8 1-1 1 4 1-4 1-5 1 6 1 3 1 5 1-3 1-3 1 7 1 6 1 3 1-3 1 8 1-5 1-8 1-5 1-6 1-2 1 13 1-15 1 5 1 5 1 5 1-3 1-5 1 8 1 3 1-9 1 4 1 10 1-8 1 0 1-6 1 3 1 7 1-9 1 2 1-7 1-2 1-2 1-2 1 9 0-97-1 3-1-2-1-16-1 0-1 1-1-3-1-6-1 11-1-6-1 5-1 0-1-1-1 21-1-19-1 16-1-9-1 14-1-7-1-12-1-7-1 6-1 5-1-3-1 4-1-3-1 2-1 10-1 2-1-4-1 13-1-10-1-3-1-6-1 6-1-3-1-2-1 0-1-6-1 3-1-4-1-6-1 8-1 3-1 3-1-19-1 7-1 1-1-2-1-15-1 6-1 16-1-11-1 12-1-7-1-1-1-7-1 2-1-1-1-4-1 9-1 4-1 5-1-4-1 5-1-15-1-3-1 2-1 5-1-2-1-9-1 16-1-6-1 0-1 1-1-3-1 9-1-6-1-2-1 2-1 10-1-9-1-2-1-8-1 13-1-3-1-9-1-4-1 11-1-5-1 11-1-4-1 1-1 5-1-2-1 2-1-3-1-3-1 3-1-1-1 14-1 5-1 11-1-5-1 0-1-2-1-10-1 11-1 6-1-7-1-2-1-3-1-4-1 10-1-5-1 2-1-9-1 6-1 9-1-11-1 6-1 4-1-2-1 2-1-6-1-2-1-6-1 2-1-10-1 29-1-1-1-8-1-3-1 7-1-3-1-6-1-5-1 2-1-6-1-7-1 21-1 5-1 4-1-2-1-4-1 7-1 8-1-15-1-3-1-9-1-1-1 2-1-2-1-4-1-1-1 10-1-6-1 2-1-2-1-1-1 9-1 2-1 6-1-3-1 3-1-8-1 2-1-12-1-2-1 0-1 7-1-2-1-9-1 0-1 0-1 14-1 6-1-7-1 0-1-20-1 2-1-2-1 0-1 21-1 3-1-15-1 11-1 0-1 5-1-2-1-3-1-4-1 6-1 3-1 7-1 3-1-9-1-2-1 10-1-6-1-8-1 10-1-9-1-4-1-9-1 5-1 2-1 2-1 2-1 13-1 4-1-5-1 5-1 6-1-5-1 1-1 6-1-5-1-6-1 2-1-2-1 1-1-5-1-3-1-6-1 7-1 13-1 5-1 9-1-17-1 5-1-5-1-5-1 10-1 0-1 2-1-1-1 5-1-4-1-1-1 4-1 1-1-9-1 0-1-5-1 3-1-1-1-13-1-6-1 1-1 18-1-3-1 9-1-5-1 2-1 4-1 7-1-1-1 3-1-7-1-3-1 7-1 2-1 3-1-2-1-3-1-5-1-3-1 3-1 4-1 5-1 5-1-4-1 3-1-7-1-8-1 2-1 2-1-3-1 16-1-2-1-4-1-4-1 3-1-1-1 5-1-3-1-3-1-3-1 3-1-10-1-8-1 1-1 2-1-11-1 2-1 2-1-2-1 3-1 5-1 6-1-4-1 4-1 4-1-9-1 7-1 6-1 6-1 0-1 3-1 6-1 0-1-2-1 9-1-3-1-2-1 1-1-7-1 0-1 9-1 1-1 3-1-4-1 4-1-13-1 3-1-2-1 5-1-6-1 5-1-2-1-8-1 1-1 1-1 2-1 10-1-6-1 0-1-1-1 7-1 2-1-8-1 1-1-4-1-1-1-4-1 8-1 0-1 15-1-7-1 0-1-3-1-6-1 5-1-6-1-1-1 1-1-8-1 14-1 6-1-11-1 5-1-6-1-5-1 0-1 5-1-11-1-2-1-3-1 0-1-4-1 3-1-13-1 3-1 2-1 2-1-3-1 19-1-18-1-7-1 2-1 9-1-3-1 0-1 2-1 0-1-7-1-2-1 2-1-4-1 10-1-12-1-4-1-1-1-4-1-9-1-6-1-22-1-17-1-6-1 277z"/>
<path class="lM" d="M0 1348l1-261 1 7 1 20 1 25 1 12 1 9 1 8 1 8 1 0 1 5 1 0 1 1 1 8 1 0 1 1 1-5 1-1 1 0 1 0 1 3 1 1 1 0 1 6 1-5 1-4 1-4 1 3 1 7 1 0 1 7 1-4 1-2 1 3 1 3 1 2 1-1 1 1 1 7 1-3 1 5 1 4 1 3 1-7 1 3 1-2 1-3 1 6 1 1 1-2 1 2 1 11 1-5 1-1 1-7 1 3 1 6 1 1 1-5 1 8 1-5 1 2 1-5 1-2 1-1 1 1 1-7 1 0 1 0 1 1 1 0 1-2 1-7 1 6 1 5 1 0 1-2 1 0 1 2 1 5 1-1 1-2 1-8 1 2 1 2 1 3 1 0 1 4 1 0 1-6 1 5 1 1 1-1 1 2 1-8 1 0 1-6 1-4 1-2 1-8 1 5 1-1 1-6 1 2 1 3 1-6 1 1 1 0 1-2 1-2 1 7 1 6 1-2 1-2 1 7 1-1 1-4 1 4 1-1 1 4 1-5 1 2 1-10 1 3 1 3 1 5 1 2 1 0 1 0 1 7 1 3 1-7 1 1 1-2 1 6 1-1 1-1 1 1 1-5 1-2 1-2 1 5 1 0 1-6 1 2 1-8 1 1 1-2 1 2 1-5 1 1 1-8 1 1 1 8 1 9 1-3 1-2 1 0 1-5 1 0 1 6 1-4 1 7 1-5 1-5 1 0 1 5 1-6 1-4 1 0 1 4 1 7 1 6 1-4 1-6 1-5 1-3 1 8 1-3 1 0 1 2 1-1 1-6 1 3 1 2 1 3 1-8 1 1 1 1 1-2 1 2 1-1 1-3 1 2 1-3 1 3 1 6 1-1 1-5 1 12 1-2 1-4 1 1 1-6 1 1 1 0 1 8 1-4 1 1 1-7 1-4 1 2 1 2 1-4 1 4 1-10 1-2 1 5 1-2 1-3 1-8 1 8 1 3 1 2 1-2 1-4 1-7 1-6 1 8 1 9 1-2 1 0 1-7 1-3 1 13 1-4 1 3 1 0 1-1 1 0 1-2 1-5 1 2 1 3 1-2 1 2 1-2 1-3 1 1 1 2 1 2 1-3 1 5 1 7 1 5 1-6 1 7 1-2 1 4 1-2 1 5 1-12 1-3 1 4 1 0 1 6 1-9 1 5 1-6 1 3 1 5 1-1 1-6 1 5 1-2 1 1 1-1 1 5 1-3 1-1 1 4 1 1 1-1 1-1 1-9 1 5 1-2 1 7 1 2 1-1 1-6 1 1 1-5 1 2 1 4 1 2 1-1 1-7 1 0 1-1 1 0 1-4 1-2 1-2 1 1 1 0 1-1 1-1 1-2 1-4 1 4 1-4 1 2 1-6 1 3 1 0 1 3 1-10 1 5 1 3 1-4 1 5 1-3 1 3 1-2 1-3 1 4 1-4 1-4 1-2 1 1 1 3 1-4 1 2 1-10 1 7 1 4 1 0 1-3 1 8 1-7 1-5 1 0 1 3 1 1 1-6 1 6 1 5 1-2 1 15 1-9 1-5 1 3 1 4 1 0 1-2 1 9 1-6 1 2 1 1 1 1 1-2 1-7 1 7 1-1 1 2 1-1 1 3 1-1 1 3 1-3 1 3 1 0 1-1 1 1 1-6 1 4 1 0 1 3 1 4 1 4 1 0 1 7 1-2 1-2 1 0 1-7 1 2 1-2 1 0 1-4 1-2 1 1 1-2 1-5 1 3 1 0 1-2 1 8 1-1 1 2"/>
</g>
<path fill="#FE00CE" d="M84.28,147.61l9.15,9.15l9.15,-9.15l-9.15,-9.15l9.15,-9.15l-9.15,-9.15l-9.15,9.15l-9.15,-9.15l-9.15,9.15l9.15,9.15l-9.15,9.15l9.15,9.15ZM431.64,190.02l9.15,9.15l9.15,-9.15l-9.15,-9.15l9.15,-9.15l-9.15,-9.15l-9.15,9.15l-9.15,-9.15l-9.15,9.15l9.15,9.15l-9.15,9.15l9.15,9.15Z"/>
</g>
</g>
<g id="p_b">
<rect x="581.35" y="32.44" width="364.8" height="317.35" fill="#E5ECF6"/>
<path d="M676.99,32.44v317.35M763.83,32.44v317.35M850.67,32.44v317.35M937.51,32.44v317.35M581.35,270.42h364.8M581.35,174.1h364.8M581.35,77.85h364.8" stroke="#fff" stroke-width="1.85" fill="none"/>
<path d="M590.15,32.44v317.35" stroke="#fff" stroke-width="3.6" fill="none"/>
<g clip-path="url(#cb)">
<g transform="translate(590.15,463.26) scale(0.8684,-0.24095)">
<path class="bR" d="M0 1576l1-491 1 5 1 4 1 4 1 6 1 2 1 7 1 4 1 3 1 3 1 7 1 3 1 5 1 9 1-2 1-2 1-2 1 7 1 3 1 9 1 5 1-5 1 8 1 3 1 3 1 0 1 7 1 4 1 2 1-5 1 2 1 7 1 1 1 2 1 3 1 16 1-7 1 13 1 6 1-7 1-5 1 3 1 7 1-2 1-2 1 1 1-3 1 11 1-5 1 3 1 2 1-4 1 12 1-5 1-3 1 0 1 7 1-3 1 8 1-4 1-4 1 2 1 1 1 0 1-4 1 5 1 9 1 2 1-2 1 0 1-1 1 3 1 2 1-6 1 1 1 0 1-2 1 4 1 3 1 2 1 4 1-6 1 8 1-4 1 4 1-4 1-2 1 8 1 2 1 0 1-5 1 4 1 1 1-1 1 0 1-3 1 1 1 3 1-2 1-3 1-5 1 4 1 2 1 0 1-2 1 8 1 0 1-2 1-4 1 2 1 3 1 5 1 4 1-9 1 0 1 13 1 1 1 0 1 5 1-3 1 1 1-4 1 1 1 21 1 28 1 3 1 1 1 8 1-7 1 8 1 5 1 1 1-2 1 1 1 0 1-1 1 1 1-3 1 1 1 6 1-4 1-5 1 8 1-5 1-4 1 8 1-4 1 0 1 4 1 3 1 3 1 2 1 1 1-1 1-8 1 11 1-3 1-5 1 3 1-4 1-1 1 1 1-1 1-3 1-5 1 3 1 1 1-16 1 4 1-4 1-6 1 13 1 0 1-2 1 7 1-7 1-2 1-4 1-7 1 21 1-7 1 0 1-1 1 0 1 2 1 7 1-2 1 4 1 2 1-7 1 2 1-1 1 4 1 4 1-1 1-3 1-3 1-8 1 7 1 3 1 4 1 13 1-6 1-6 1 1 1-6 1 8 1-5 1 0 1 1 1 6 1-3 1 2 1 2 1 3 1-7 1 0 1 1 1 3 1-4 1 8 1-5 1-2 1 2 1 2 1-2 1-1 1-5 1-1 1-2 1 4 1 2 1 0 1 0 1 4 1 0 1-3 1-3 1-3 1 4 1-2 1-4 1 1 1 6 1 0 1-3 1 4 1 0 1-4 1-5 1 7 1-4 1 1 1 1 1-6 1-2 1 5 1-1 1-5 1 6 1-2 1-15 1 3 1 2 1-2 1 3 1-2 1-6 1 8 1-3 1 4 1 3 1 2 1 4 1-5 1-3 1 2 1-5 1 1 1 1 1 3 1 6 1-4 1-4 1 6 1-3 1 2 1-2 1-2 1-1 1-1 1 6 1 6 1 4 1-5 1-1 1 4 1 4 1 3 1-4 1-3 1-3 1 1 1 2 1 0 1-6 1 3 1 6 1-4 1-1 1 0 1 11 1 2 1 2 1 0 1-1 1-1 1 3 1-7 1-16 1-1 1 4 1 1 1 1 1 10 1-8 1-4 1-1 1 2 1-2 1-6 1-2 1 0 1 7 1-2 1-1 1-6 1 1 1-6 1 0 1-2 1 4 1 1 1 3 1-2 1 0 1 2 1 0 1-2 1-5 1 0 1-6 1 5 1-1 1-2 1 0 1 0 1 5 1 2 1 1 1 4 1 0 1 1 1-1 1-8 1 2 1 1 1 1 1 2 1-2 1 2 1-2 1 4 1-7 1 4 1 0 1 1 1 3 1 1 1-4 1 1 1 4 1-5 1-16 1-6 1 3 1 0 1 5 1 0 1-1 1 3 1 0 1 0 1 2 1 3 1 9 1 1 1-7 1-2 1 4 0-157-1 2-1-6-1 20-1-1-1-8-1 12-1 1-1-3-1-2-1-2-1 5-1 0-1 1-1 6-1 1-1 1-1-7-1-4-1 5-1 0-1 5-1 3-1-4-1 2-1 0-1 2-1-9-1-3-1 1-1-3-1-7-1 12-1-3-1-8-1 8-1 5-1-2-1 2-1 0-1 6-1-9-1 14-1 10-1 3-1-5-1 3-1 4-1-14-1 4-1-1-1-6-1 0-1 0-1 8-1-16-1-2-1-2-1 5-1-4-1 3-1 0-1 7-1-3-1 1-1 2-1 7-1-8-1 11-1 5-1 3-1-4-1-6-1-4-1 1-1 2-1-12-1 14-1-26-1 6-1 0-1-4-1 8-1 5-1-1-1-3-1 6-1-4-1-7-1 4-1 13-1-10-1 9-1-9-1-6-1 12-1-3-1-2-1 2-1 1-1-2-1 4-1-3-1-3-1 2-1 2-1-7-1-9-1 8-1-6-1-9-1-1-1 5-1 2-1 7-1 6-1-8-1-1-1-5-1-7-1-1-1 0-1-8-1-7-1 13-1 4-1-12-1 4-1-8-1 4-1 0-1-2-1 3-1 0-1-2-1-2-1 3-1-3-1-4-1 5-1 4-1-8-1-2-1 10-1-3-1 2-1-10-1 4-1 3-1 10-1-2-1 1-1 7-1 2-1-6-1-9-1 7-1 2-1-1-1-1-1 5-1-9-1 5-1-7-1 2-1 6-1-5-1 2-1-1-1-11-1 0-1 0-1 9-1-2-1 6-1-4-1 4-1-2-1 2-1 3-1-3-1-3-1-4-1-6-1-8-1 9-1 0-1 1-1-8-1 10-1-4-1 3-1 2-1 8-1-12-1 5-1 7-1 0-1 7-1-12-1 8-1 5-1-11-1 8-1 2-1-7-1-5-1 3-1-4-1-10-1-5-1 7-1-3-1-4-1 6-1-10-1-2-1-2-1 3-1 1-1-6-1-13-1-3-1-6-1 11-1 2-1 3-1-13-1 7-1-1-1 7-1 0-1 0-1-2-1-2-1 1-1 6-1 4-1-1-1 7-1-1-1 2-1 5-1 1-1-1-1 3-1-8-1 7-1 4-1-1-1-12-1 0-1-6-1 3-1-1-1 1-1 8-1-7-1-2-1 7-1 1-1-16-1 8-1 6-1-1-1-2-1-1-1-11-1 7-1 0-1 3-1-11-1 5-1 1-1-4-1 4-1 7-1-2-1 2-1 3-1 7-1 5-1 0-1-4-1 5-1 1-1-7-1 12-1-3-1 0-1-1-1 1-1 4-1 0-1-6-1-8-1 6-1-37-1-2-1-2-1 8-1-5-1 2-1 5-1-4-1-1-1 2-1 7-1-13-1 0-1-1-1-15-1 0-1-7-1 8-1-3-1 3-1 15-1-13-1-1-1-5-1-3-1 2-1-7-1 3-1-3-1 4-1-7-1 1-1-7-1 0-1-5-1-7-1 13-1-8-1-8-1 7-1-5-1-6-1-3-1-1-1-5-1 1-1 9-1-11-1 3-1-6-1 11-1-8-1-4-1 0-1-7-1 3-1-23-1 6-1 3-1 9-1 4-1-6-1 13-1-6-1 5-1-6-1-16-1 10-1-10-1 3-1 8-1-5-1-2-1-7-1-1-1 5-1-6-1-7-1-6-1 8-1 6-1-9-1-6-1 4-1-16-1-9-1-10-1-2-1-5-1-9-1 4-1 6-1-13-1-4-1-4-1-12-1-6-1-4-1-1-1-6-1 3-1-5-1 1-1 652z"/>
<path class="lR" d="M0 1576l1-593 1 4 1 7 1 2 1 9 1 1 1 0 1 16 1 9 1 4 1-4 1 14 1-2 1-3 1 15 1 8 1-5 1 12 1 13 1 16 1-5 1 9 1 12 1-7 1 4 1 3 1 9 1 6 1-4 1-4 1 5 1 4 1 4 1-3 1-5 1 7 1-13 1 19 1 9 1-13 1 7 1-9 1 6 1 1 1 1 1-10 1-5 1 14 1-2 1 2 1 4 1 2 1 14 1-7 1 4 1-7 1 12 1-9 1 9 1-3 1-2 1 5 1 3 1-4 1-6 1 9 1 14 1-5 1 1 1 5 1-7 1 4 1 4 1 8 1-3 1-8 1-4 1 12 1 2 1 7 1 7 1-8 1 7 1-7 1 1 1-9 1-4 1 13 1-8 1 19 1 3 1 9 1 11 1-11 1 3 1-1 1-2 1-6 1-1 1 2 1-8 1 4 1 6 1 4 1-5 1 16 1-2 1 4 1-6 1 3 1 2 1 7 1 11 1-13 1 4 1-2 1-7 1 4 1-1 1-3 1-4 1-7 1-3 1 2 1-8 1-7 1-3 1 2 1-5 1 13 1 6 1 1 1-2 1 1 1 2 1-4 1 5 1-10 1-1 1 14 1-7 1 3 1 1 1 4 1-10 1 5 1-8 1 0 1 8 1 3 1 19 1 0 1-3 1-11 1 3 1-3 1 6 1 0 1-3 1-8 1-1 1-3 1 6 1-7 1-11 1 10 1-1 1-4 1 2 1-2 1-8 1-4 1-4 1 17 1-4 1-7 1-1 1 3 1 6 1 14 1 3 1 4 1-2 1 2 1-2 1 12 1-1 1-5 1 8 1-12 1 12 1 4 1 16 1-14 1 3 1 8 1-8 1-11 1 11 1-2 1-7 1 15 1-6 1-2 1-5 1 0 1 9 1-8 1-9 1 0 1 14 1-11 1 15 1-7 1 3 1-17 1 15 1 6 1 0 1 2 1 7 1-5 1-3 1 2 1 2 1 1 1-9 1-1 1-6 1-6 1 10 1 7 1 2 1 1 1 4 1-4 1 1 1 1 1-9 1 13 1-8 1-6 1 6 1 0 1-9 1 1 1 16 1-2 1-13 1 0 1 1 1-11 1 1 1-5 1 1 1 0 1 6 1-13 1 1 1 18 1-1 1-12 1 4 1 6 1-8 1 4 1-3 1-3 1 5 1 2 1-4 1-3 1 8 1 0 1-2 1-1 1-11 1 1 1 11 1 5 1 6 1 11 1 2 1-3 1 12 1-10 1-9 1 2 1-5 1 2 1 3 1 10 1-2 1 6 1 5 1-4 1 1 1 3 1 13 1-14 1 0 1-1 1 3 1 4 1-5 1-16 1 7 1 13 1-12 1 8 1-13 1-1 1 10 1 3 1-6 1 2 1 0 1-8 1-4 1-4 1 6 1-2 1 8 1-8 1 15 1 3 1-4 1 6 1 1 1-1 1 1 1-6 1-11 1 13 1-10 1-2 1 1 1-1 1-3 1 6 1-9 1 12 1-11 1-2 1 4 1 5 1-8 1-4 1 3 1 17 1 0 1-10 1 9 1-3 1-3 1 6 1-9 1 5 1 3 1 10 1-2 1-4 1 4 1-3 1-11 1-9 1 3 1 7 1-11 1 4 1 7 1-4 1-1 1 11 1-3 1 6 1-4 1 3 1-2 1-11 1-6 1 1 1 7 1 12 1-6 1 5 1-8 1-6 1-2 1-6 1 2 1-7 1 8 1 2 1-2 1 18 1 4 1-22 1 6 1-2"/>
</g>
<path fill="#FD3216" d="M590.15,92.67l9.15,9.15l9.15,-9.15l-9.15,-9.15l9.15,-9.15l-9.15,-9.15l-9.15,9.15l-9.15,-9.15l-9.15,9.15l9.15,9.15l-9.15,9.15l9.15,9.15ZM937.51,168.81l9.15,9.15l9.15,-9.15l-9.15,-9.15l9.15,-9.15l-9.15,-9.15l-9.15,9.15l-9.15,-9.15l-9.15,9.15l9.15,9.15l-9.15,9.15l9.15,9.15Z"/>
<g transform="translate(590.15,463.26) scale(0.8684,-0.24095)">
<path class="bG" d="M0 1609l1-727 1 52 1 40 1 29 1 15 1 10 1 7 1 2 1 9 1 1 1 2 1 8 1 3 1 6 1-6 1 6 1 6 1-1 1 11 1-1 1 0 1 8 1 3 1-3 1 12 1-6 1 6 1-6 1-9 1-8 1 4 1-4 1 0 1 5 1-5 1 4 1 5 1-8 1-4 1 1 1 2 1 3 1-6 1 6 1 2 1 1 1 5 1 3 1-2 1 3 1 4 1-1 1-9 1 6 1 9 1-1 1-2 1 1 1-2 1-1 1-4 1 1 1 2 1 4 1-3 1 1 1-1 1 2 1 7 1 8 1 4 1 5 1 2 1 11 1 11 1-6 1 12 1 6 1 8 1 10 1 8 1 8 1 5 1 11 1 11 1 15 1 9 1 2 1 0 1 5 1 4 1 10 1 5 1 1 1 1 1 0 1 0 1-2 1-7 1 0 1 2 1-4 1-2 1-4 1 4 1-8 1-5 1 2 1-1 1 3 1-2 1 0 1 3 1-2 1 0 1-6 1 5 1-6 1 0 1 2 1-4 1-2 1-3 1-3 1 11 1-2 1 4 1 9 1 4 1 0 1 10 1 5 1 9 1 2 1 11 1 2 1-2 1-5 1 2 1 9 1-4 1-3 1-5 1-9 1-2 1-5 1-10 1-6 1 2 1-2 1 2 1-2 1 10 1 4 1-8 1-3 1-8 1 6 1-5 1 0 1 3 1 9 1 3 1 3 1 5 1 5 1-1 1 0 1 2 1 2 1 0 1 9 1 1 1 2 1 1 1-2 1-2 1 1 1 5 1-2 1 2 1-4 1 0 1 1 1-6 1-3 1-10 1 5 1-4 1 6 1-14 1 0 1-1 1 0 1 2 1 3 1 7 1-1 1 4 1-2 1 3 1 8 1 8 1-1 1-2 1 11 1-2 1 0 1 1 1 3 1 2 1-5 1 4 1 1 1-6 1 3 1 3 1 0 1 2 1-18 1 4 1 0 1-5 1 0 1 5 1 8 1-1 1-2 1-5 1-1 1 0 1-2 1 4 1-3 1 1 1-3 1 1 1-2 1 1 1-1 1 1 1 2 1-5 1-5 1 5 1-3 1 5 1-2 1-2 1-2 1-7 1 5 1-5 1-2 1 0 1 0 1 8 1-2 1 5 1-4 1 1 1 2 1 6 1-5 1 4 1 6 1-5 1 4 1-8 1 1 1 2 1-4 1 4 1-3 1 5 1-9 1-5 1-1 1-7 1 0 1-3 1-2 1 0 1-3 1 1 1 4 1 1 1 2 1-1 1-7 1 1 1 7 1 0 1-2 1 5 1-2 1-2 1 3 1-5 1 11 1-1 1 3 1 5 1 3 1 9 1 4 1 10 1-3 1 8 1-1 1 12 1-2 1-2 1 5 1 12 1 15 1 6 1-3 1 1 1 2 1-1 1 4 1 3 1 1 1-4 1 6 1 5 1 2 1-4 1-2 1 6 1 5 1-5 1 5 1-6 1-8 1 3 1 7 1 3 1 5 1 3 1 5 1-3 1-3 1-5 1-3 1-2 1 2 1-6 1 2 1 0 1 3 1-1 1-3 1-9 1 1 1-1 1-2 1 4 1 2 1-3 1-3 1-1 1-9 1 1 1-4 1 1 1-6 1 2 1-3 1-6 1 0 1-1 1-1 1-5 1 4 1 6 1-10 1 3 1-5 1-1 1-3 1 1 1 3 1-5 1 5 1 1 1-4 1-1 1 0 1-5 1-1 1-1 1-2 1-1 1 4 1 1 1-7 1 0 1 0 0-235-1 1-1 3-1 0-1-5-1-4-1 5-1-11-1 7-1-5-1 1-1-6-1 1-1 3-1-3-1-3-1 4-1 1-1-3-1 1-1 6-1-3-1-3-1-3-1-3-1 14-1-4-1-5-1 4-1-3-1 1-1-7-1-2-1 13-1-6-1 1-1 0-1-9-1-1-1-3-1-1-1 6-1 0-1 3-1 2-1-4-1-5-1 4-1 2-1-3-1-3-1 5-1-7-1-6-1 7-1 0-1-4-1 3-1-3-1 3-1-5-1 4-1 1-1 8-1-2-1-1-1 0-1 2-1 0-1 3-1 8-1 1-1-3-1 10-1 2-1-2-1 1-1-3-1 0-1 2-1 8-1 1-1-6-1 6-1-2-1 8-1 5-1-1-1 3-1-4-1 8-1 1-1 4-1-5-1 3-1-8-1 14-1-4-1-1-1-3-1 6-1 3-1 1-1 3-1 9-1-2-1 1-1-4-1 1-1 8-1-3-1-5-1-3-1 5-1-7-1-1-1 4-1 3-1-5-1-3-1 6-1-7-1-4-1 3-1 3-1 1-1 2-1-3-1 2-1-4-1-1-1-1-1-6-1 3-1 0-1 3-1 5-1-2-1 1-1-2-1 2-1-9-1 0-1 2-1-2-1 4-1-1-1-3-1 3-1-6-1-5-1-5-1-3-1 0-1 0-1-6-1 3-1 0-1-7-1 1-1 1-1-1-1 3-1-2-1-9-1-4-1 1-1-4-1 1-1 3-1-3-1 3-1-13-1 4-1-5-1 5-1-5-1 1-1-6-1-5-1 8-1 5-1 0-1-9-1-2-1-2-1-19-1-1-1-1-1 1-1 0-1-2-1-3-1-5-1 2-1 1-1-5-1-4-1 7-1-2-1 1-1 3-1 4-1-5-1 3-1-1-1-1-1 3-1-4-1-4-1 5-1 4-1 2-1 1-1 4-1 2-1 1-1-1-1 5-1-10-1 2-1-1-1 7-1 1-1-3-1 2-1-3-1-4-1 3-1-3-1 5-1-3-1-1-1-2-1 1-1 6-1 1-1-5-1 11-1 0-1-3-1-4-1-13-1-2-1 4-1 1-1 1-1 3-1-8-1-2-1 0-1 0-1 5-1-4-1-1-1-4-1 6-1 1-1 0-1 3-1 3-1-5-1 1-1-6-1 4-1-3-1-4-1-1-1 2-1-2-1-5-1 1-1 3-1 7-1-9-1 4-1 1-1-4-1 1-1 3-1-4-1 1-1-1-1-5-1-1-1 1-1-4-1 4-1-10-1-1-1 1-1 5-1-8-1-1-1-2-1-2-1-5-1 2-1-2-1-4-1-3-1-5-1 1-1-2-1-2-1-1-1-4-1 0-1-1-1 5-1-3-1 5-1-6-1-2-1-1-1 0-1 3-1 0-1 1-1 3-1-4-1 3-1-4-1 0-1-2-1 0-1-1-1 4-1-5-1 3-1 7-1-7-1 6-1-12-1 6-1-3-1 3-1-7-1-3-1-4-1-1-1-3-1-3-1-6-1-2-1 5-1 1-1-2-1-10-1-3-1-4-1-1-1-6-1-16-1-2-1-8-1 3-1-4-1-2-1-1-1-2-1-1-1-5-1-8-1 2-1-7-1-8-1-2-1 4-1 2-1-2-1-2-1 0-1-6-1 1-1-3-1 3-1-5-1-8-1 2-1-8-1 4-1-4-1-6-1 3-1-4-1-2-1 0-1-4-1 0-1-6-1-9-1-4-1-7-1-3-1-6-1-10-1-6-1-6-1-6-1 848z"/>
<path class="lG" d="M0 1609l1-788 1 30 1 21 1 19 1 21 1 3 1 8 1 5 1 0 1 7 1 3 1 6 1 9 1 12 1 7 1 4 1 2 1 8 1-10 1 1 1 6 1-16 1-3 1 8 1-9 1 4 1-4 1 7 1 2 1 12 1-4 1-5 1-4 1-3 1 4 1-1 1-7 1 14 1 5 1 3 1 1 1 1 1 18 1-10 1 3 1 5 1-1 1 2 1 11 1-12 1 11 1-4 1 20 1-1 1 0 1-13 1 10 1-2 1 9 1 3 1 6 1 3 1-11 1 10 1-5 1-3 1 8 1 12 1-2 1 6 1-5 1 3 1-1 1 6 1 0 1 11 1-2 1 4 1 4 1-3 1 6 1-6 1 10 1 3 1-11 1 7 1-2 1 15 1 13 1-6 1 19 1-12 1 0 1 1 1 4 1-4 1 2 1 20 1-3 1 1 1 9 1-4 1 3 1-1 1 0 1-2 1 2 1-8 1 18 1 4 1 2 1-4 1-12 1-1 1-2 1 0 1 0 1-1 1 8 1-6 1 1 1 7 1-3 1 5 1-8 1-1 1 6 1-4 1 5 1 7 1 0 1 5 1 4 1 4 1 2 1 3 1-2 1 12 1-9 1 5 1-9 1-5 1 2 1-2 1-8 1 5 1 0 1-5 1-16 1-5 1-7 1 6 1 4 1-3 1-3 1 2 1-3 1 3 1 10 1 6 1 5 1-10 1-13 1 12 1-7 1-9 1 5 1 12 1-5 1-1 1 8 1-5 1-4 1 2 1 0 1 3 1 14 1 3 1-9 1 6 1-13 1 12 1-8 1-4 1 3 1 2 1-11 1-5 1 0 1-3 1 7 1 4 1 6 1 1 1 6 1-5 1-9 1 5 1-3 1 5 1-1 1 3 1 1 1 5 1 0 1-8 1 8 1-2 1 3 1-4 1 4 1 9 1-5 1 0 1 1 1 8 1 2 1 0 1 7 1-3 1-4 1 3 1 15 1-4 1 2 1-6 1 6 1-4 1 18 1 3 1 3 1-4 1-2 1 5 1-9 1 8 1 0 1 1 1-12 1-10 1 0 1-3 1 3 1 0 1-3 1 8 1-1 1-7 1 5 1 9 1 8 1-6 1 1 1 2 1 0 1-3 1-4 1 10 1-6 1 1 1 6 1 2 1-3 1 13 1-3 1 0 1-4 1 12 1 5 1-5 1 2 1-3 1-12 1 2 1-2 1-2 1-4 1-11 1 10 1-2 1 2 1-4 1 5 1-5 1-5 1 0 1-6 1 0 1 5 1-5 1-1 1-4 1-3 1 13 1-8 1 6 1-2 1 0 1 3 1 0 1-2 1 11 1-7 1 4 1-4 1 6 1-2 1 16 1-2 1 3 1-14 1 11 1 2 1 4 1 0 1-6 1-2 1-5 1 6 1 10 1-10 1 3 1 2 1 4 1 2 1-6 1 9 1-5 1-5 1 4 1 0 1-2 1 3 1-11 1 10 1 9 1-6 1-2 1-2 1 1 1 3 1 1 1 4 1-5 1 6 1 2 1 5 1 9 1-2 1-11 1 3 1-6 1-2 1 0 1 14 1-6 1-4 1-8 1-9 1-16 1 4 1-1 1 5 1 5 1 9 1 1 1-1 1-16 1-3 1 12 1 5 1-2 1 2 1-6 1 1 1-4 1-8 1 8 1-6 1 2 1 3 1-3 1 8 1-6 1-14 1 5 1 2 1-2 1-4 1 5 1-6 1 5 1 2 1 5 1 1 1 1 1-4 1 10 1 1 1-4"/>
</g>
<path fill="#00FE35" d="M590.15,84.82l9.15,9.15l9.15,-9.15l-9.15,-9.15l9.15,-9.15l-9.15,-9.15l-9.15,9.15l-9.15,-9.15l-9.15,9.15l9.15,9.15l-9.15,9.15l9.15,9.15ZM937.51,181.34l9.15,9.15l9.15,-9.15l-9.15,-9.15l9.15,-9.15l-9.15,-9.15l-9.15,9.15l-9.15,-9.15l-9.15,9.15l9.15,9.15l-9.15,9.15l9.15,9.15Z"/>
<g transform="translate(590.15,463.26) scale(0.8684,-0.24095)">
<path class="bB" d="M0 1623l1-476 1 7 1 5 1 8 1 5 1 8 1 4 1 1 1 7 1 6 1 10 1 6 1 6 1-3 1 9 1-1 1 6 1 9 1 3 1 5 1-4 1 7 1 4 1-8 1 7 1 5 1 16 1 3 1-3 1 5 1-1 1-1 1 7 1 8 1 1 1 4 1 6 1 1 1 7 1 8 1-4 1 6 1 4 1 2 1-1 1 3 1-1 1-2 1 5 1 5 1-3 1 0 1 2 1 4 1 2 1-1 1-4 1 10 1-10 1 7 1 0 1 3 1 8 1-3 1 5 1-3 1 3 1-4 1-13 1 4 1-4 1-3 1 5 1 0 1-1 1 8 1-4 1-3 1 1 1 2 1 2 1-4 1 5 1 4 1-2 1 1 1 2 1 0 1-2 1 9 1-1 1-7 1 4 1 3 1 0 1 1 1-4 1 6 1 1 1 4 1-4 1 5 1-1 1-2 1 14 1 0 1 1 1-3 1-3 1 6 1-1 1-1 1-1 1-2 1-5 1 6 1 1 1-8 1 2 1 8 1 7 1 1 1 0 1-5 1-4 1 0 1 2 1 3 1-7 1-2 1 3 1-2 1-4 1 1 1 4 1 3 1 4 1-1 1-3 1 2 1 3 1 0 1-3 1 4 1-12 1-1 1 1 1-1 1 1 1-7 1 4 1 1 1-3 1 1 1 4 1-10 1 4 1 0 1-4 1-1 1-3 1 4 1-1 1 1 1 2 1 0 1-1 1 6 1-5 1 9 1 0 1-1 1 8 1 0 1-4 1 1 1 6 1-6 1 2 1 24 1-7 1-3 1-2 1 1 1-2 1 4 1-6 1-2 1 0 1 1 1 6 1-7 1-4 1 8 1-3 1 0 1-3 1-2 1-2 1 5 1-1 1 1 1 2 1-2 1 0 1-3 1 2 1-2 1-30 1 7 1 6 1-3 1 2 1 0 1 0 1 6 1-1 1 0 1 4 1 1 1 3 1 0 1 0 1 5 1 3 1-6 1-2 1 1 1-3 1 1 1 8 1-7 1 6 1-6 1 4 1-6 1 3 1-1 1-5 1 6 1 2 1 0 1 1 1-2 1 2 1-1 1-2 1-1 1 3 1-3 1-2 1-1 1 1 1-7 1-2 1 3 1 7 1 1 1-1 1-2 1 0 1 2 1-4 1 6 1-3 1 1 1-5 1 1 1 2 1 2 1-5 1 7 1 1 1 3 1-3 1-4 1-3 1 4 1 2 1 2 1-1 1-2 1-1 1-1 1 8 1 1 1 7 1 3 1-1 1 2 1-2 1 5 1-6 1 0 1 4 1 2 1-4 1 0 1-3 1 7 1-4 1 3 1 4 1-11 1-2 1 0 1 2 1 2 1-3 1 11 1-2 1 2 1-3 1 2 1-4 1 1 1-2 1-3 1 15 1-4 1 3 1 3 1-3 1-2 1 1 1-4 1 4 1 2 1 2 1-1 1 2 1-9 1 1 1-4 1 3 1 0 1 2 1-3 1-2 1 0 1 5 1-4 1 6 1-7 1-6 1 3 1 3 1 1 1 1 1 0 1 1 1 2 1-2 1-3 1 0 1 0 1-3 1 4 1-8 1 9 1-7 1-2 1 3 1 1 1 1 1 1 1 3 1-4 1 1 1 1 1-3 1 5 1-1 1-4 1-2 1 5 1 1 1 12 1 4 1 1 1-2 1 0 1 0 1 0 1-6 1-1 1 3 1-8 1 2 1-1 1-6 1 1 1 2 1 3 1-7 1 3 1 1 1-8 1-4 1 2 0-215-1 1-1 10-1-21-1 2-1-3-1-1-1 16-1 1-1-4-1-2-1-3-1-1-1 8-1 0-1 1-1 7-1 4-1 1-1-2-1-1-1-1-1-7-1-5-1 0-1 8-1-1-1 2-1-8-1 5-1 1-1-3-1 2-1 0-1 0-1-3-1 4-1-5-1 3-1-2-1 11-1-9-1 9-1-5-1 3-1 2-1 3-1-1-1 0-1-5-1 0-1-2-1 0-1-6-1 8-1-2-1 11-1-9-1-2-1 8-1-3-1-11-1 0-1 14-1 0-1-3-1 1-1 3-1-2-1 7-1 1-1 1-1-4-1-9-1-12-1 8-1-3-1-3-1 4-1 8-1-1-1-1-1-17-1 2-1 3-1 3-1-5-1-9-1 11-1-1-1 6-1 0-1 10-1-4-1 6-1 1-1 9-1 14-1-3-1-13-1 6-1-3-1 2-1-7-1 12-1 2-1 3-1 0-1-6-1-11-1 2-1 1-1-3-1 0-1-3-1 8-1-12-1 1-1 0-1 3-1-7-1 2-1-6-1 5-1 16-1-11-1 3-1-20-1 2-1 7-1 4-1-5-1-8-1 8-1 1-1 12-1-6-1-6-1 5-1 4-1-7-1 4-1-21-1-9-1 2-1-8-1 6-1-1-1 7-1 2-1 3-1-2-1 3-1-2-1 1-1 1-1 4-1-4-1-6-1-5-1 12-1-7-1 2-1 1-1 1-1 5-1-10-1 7-1 0-1-6-1-2-1 10-1-2-1 6-1-2-1 10-1 1-1-7-1-6-1 3-1 3-1 0-1-5-1 2-1 2-1 0-1-2-1 7-1-9-1 6-1-20-1-5-1 7-1-1-1 5-1-1-1 2-1 0-1-7-1 2-1 2-1-1-1 2-1-7-1 0-1-3-1-2-1-3-1 3-1 7-1-18-1 6-1-13-1-3-1 9-1 2-1-6-1-7-1-4-1-4-1 2-1 1-1 2-1 5-1-6-1-9-1 1-1 0-1-1-1 7-1-2-1-4-1 9-1-10-1-7-1 7-1 7-1-6-1 2-1-7-1-6-1-2-1 2-1 4-1 2-1 3-1-1-1-3-1 3-1 2-1-5-1 3-1 3-1-1-1 15-1-2-1 2-1 4-1-6-1 4-1-1-1-8-1 8-1-5-1 3-1 4-1 2-1-5-1-5-1-3-1 11-1-11-1 14-1-3-1 0-1 4-1-7-1-3-1 6-1 3-1 1-1-15-1 9-1 5-1-3-1-4-1-15-1 3-1 1-1-17-1 2-1-4-1 1-1 2-1 13-1 6-1-12-1-2-1-8-1 8-1 5-1-1-1-1-1 0-1 10-1-14-1 5-1 7-1-3-1-3-1-15-1-3-1 7-1-4-1-13-1 3-1-17-1 10-1-3-1 5-1-5-1-2-1-1-1 7-1-2-1-11-1 2-1 9-1-9-1-7-1 4-1-13-1 3-1 5-1-5-1 2-1 3-1-2-1-3-1 3-1 7-1 1-1-12-1 5-1-1-1 2-1 29-1-13-1 1-1-5-1-1-1 0-1 1-1 8-1 2-1-2-1-10-1-11-1 0-1-7-1-2-1 0-1-2-1-6-1-6-1-7-1-1-1-2-1-9-1 4-1 5-1-5-1 2-1-4-1-1-1-2-1-8-1 2-1-17-1-3-1 1-1-3-1 2-1-1-1 1-1-5-1-4-1 1-1-2-1 2-1-10-1-4-1 1-1-4-1 0-1-1-1-1-1-3-1-2-1-1-1 659z"/>
<path class="lB" d="M0 1623l1-578 1 5 1 2 1 9 1 2 1 7 1 0 1 10 1-1 1 1 1 8 1-3 1 1 1-5 1 9 1 2 1 4 1 6 1-7 1 6 1 0 1 6 1 10 1-5 1 16 1 4 1-3 1 15 1-10 1 7 1-10 1 0 1 6 1 8 1 1 1 2 1 1 1 12 1 1 1 5 1 9 1-8 1-3 1 0 1 10 1 4 1-8 1-12 1 12 1-3 1 4 1 1 1 0 1 14 1-10 1-3 1 2 1-2 1 3 1 3 1-9 1-3 1 10 1 2 1 8 1-8 1 1 1-15 1 3 1 12 1-5 1-3 1 4 1-9 1-5 1 8 1 2 1-1 1-2 1-2 1 2 1-3 1 15 1-5 1 3 1-11 1 21 1 1 1-6 1 13 1 12 1-5 1 8 1-5 1-4 1 12 1-13 1-4 1 4 1 7 1-2 1 2 1 7 1-2 1 19 1-17 1 11 1-3 1-3 1 3 1-3 1 7 1 2 1-10 1-3 1 11 1 8 1-5 1-2 1 22 1-1 1-2 1-11 1 1 1 7 1-3 1 3 1 5 1-14 1 2 1 2 1-8 1-7 1 0 1-1 1-1 1 1 1 10 1-13 1 12 1-1 1-4 1 7 1-4 1-2 1-2 1-4 1 1 1 3 1-7 1-1 1 2 1-1 1 2 1 2 1-14 1 2 1 1 1-3 1 7 1-7 1 8 1-1 1-2 1 3 1-6 1 10 1 8 1-3 1-1 1-5 1-11 1 6 1 16 1-4 1 6 1 6 1-6 1 1 1-5 1-1 1 6 1-1 1 11 1-4 1-1 1-8 1 4 1-5 1-2 1 9 1-8 1-3 1 10 1 1 1 9 1-4 1 12 1-4 1 7 1-5 1 1 1 13 1-2 1 1 1 1 1-5 1 2 1-13 1-2 1 3 1 1 1 12 1-10 1 8 1-3 1-4 1 3 1 7 1 4 1-3 1 7 1 1 1 10 1 0 1-19 1 4 1-3 1 2 1-3 1 2 1 1 1 2 1-9 1 14 1-9 1 8 1-9 1-1 1 11 1-13 1 10 1 3 1 1 1 2 1 0 1-6 1 0 1-7 1 5 1-2 1-5 1-6 1-6 1-4 1 10 1 3 1 12 1-3 1-5 1 13 1-3 1-6 1 8 1 2 1 0 1-2 1-5 1 10 1 0 1-2 1-1 1-1 1 4 1-2 1 8 1-5 1 8 1 4 1 3 1-3 1-13 1 2 1 5 1 10 1-11 1 15 1 1 1-1 1 2 1-1 1 15 1-14 1 2 1-8 1-1 1-17 1 6 1 0 1 8 1-3 1 14 1 7 1-20 1 1 1 5 1-8 1 7 1-7 1 2 1 3 1-2 1-10 1 11 1 3 1-1 1-4 1-8 1 14 1 0 1-9 1-7 1 1 1 1 1 8 1-6 1 1 1 6 1 11 1-9 1 1 1-8 1 2 1-7 1-4 1 1 1 2 1-7 1 5 1 5 1-2 1-1 1 4 1 12 1-15 1-4 1 1 1 13 1-9 1-2 1 1 1 8 1-9 1 4 1-5 1 2 1-13 1 5 1-3 1 11 1-20 1 10 1-7 1 8 1 8 1-6 1 4 1-1 1 0 1 6 1-10 1 4 1 0 1 1 1 4 1-6 1-5 1 4 1 8 1-1 1 0 1 0 1-3 1-3 1-7 1 3 1 3 1-7 1 3 1 5 1 1 1 4 1-2 1-10 1 2 1-3 1 3 1 1 1-5 1-3"/>
</g>
<path fill="#6A76FC" d="M590.15,81.30l9.15,9.15l9.15,-9.15l-9.15,-9.15l9.15,-9.15l-9.15,-9.15l-9.15,9.15l-9.15,-9.15l-9.15,9.15l9.15,9.15l-9.15,9.15l9.15,9.15ZM937.51,166.89l9.15,9.15l9.15,-9.15l-9.15,-9.15l9.15,-9.15l-9.15,-9.15l-9.15,9.15l-9.15,-9.15l-9.15,9.15l9.15,9.15l-9.15,9.15l9.15,9.15Z"/>
<g transform="translate(590.15,463.26) scale(0.8684,-0.24095)">
<path class="bM" d="M0 1611l1-64 1-1 1-4 1-2 1-1 1 0 1-4 1-3 1 0 1 7 1 2 1 4 1-1 1-2 1 2 1-3 1 6 1 2 1 3 1-2 1-2 1 5 1-2 1-3 1-2 1 4 1-70 1-59 1 9 1-3 1 6 1-3 1 10 1 0 1-1 1-6 1 0 1 1 1-6 1 4 1-2 1 4 1 6 1 0 1-5 1 1 1 2 1 0 1 4 1-4 1 4 1 3 1-9 1-5 1 3 1 3 1 10 1-11 1 6 1-4 1-1 1-2 1 5 1 1 1-34 1-30 1 5 1 3 1 1 1-2 1-7 1-3 1 5 1 1 1 2 1 5 1-1 1 6 1-3 1 1 1-5 1 1 1 0 1 3 1 0 1 7 1-1 1 0 1-5 1 6 1-5 1 7 1-3 1-1 1 3 1-6 1 4 1-1 1 4 1 0 1 4 1-3 1 6 1 7 1-3 1 1 1-2 1 0 1-2 1 1 1 2 1 4 1-3 1-2 1-10 1 15 1 0 1 1 1 2 1-4 1 10 1 2 1 3 1 1 1-4 1-5 1 0 1-2 1 3 1 1 1 3 1-4 1-4 1 8 1-13 1 8 1-1 1-4 1 0 1 1 1-1 1 0 1 3 1 2 1 1 1-5 1-4 1 6 1 4 1-10 1-4 1 1 1-2 1 8 1-3 1 1 1 10 1-8 1 7 1-3 1 3 1-2 1-3 1 2 1-3 1-4 1-3 1-9 1 8 1-1 1 0 1-2 1 8 1-12 1 8 1-10 1 12 1-7 1-1 1 7 1-6 1 2 1-1 1 3 1 4 1-1 1 0 1-4 1 3 1 1 1-3 1 6 1 1 1-2 1 1 1-3 1 2 1-2 1-1 1 2 1 6 1 0 1 3 1-2 1 1 1 3 1-4 1-3 1-3 1 2 1 16 1 2 1-8 1 5 1 2 1 0 1 5 1 3 1-1 1 2 1-3 1-1 1 0 1-2 1 1 1 5 1-1 1 0 1 2 1-5 1 0 1 1 1 2 1 6 1-4 1 0 1-2 1 3 1-2 1 2 1-4 1-8 1 7 1 0 1-10 1 4 1-3 1 1 1 0 1-2 1 3 1-4 1 5 1 0 1-6 1 4 1-4 1 1 1-5 1 7 1-5 1 0 1 1 1-2 1-1 1 6 1 0 1-4 1-6 1 5 1 5 1 6 1 3 1-7 1-3 1 3 1-4 1 1 1 0 1-3 1 0 1-1 1 4 1-1 1 4 1-8 1 0 1-5 1-4 1-8 1-12 1 6 1-1 1 3 1-1 1-2 1 9 1-7 1-8 1 11 1 4 1-3 1 2 1-3 1-1 1 4 1 7 1 2 1-2 1 3 1 3 1 9 1-2 1-3 1-1 1-2 1 7 1 2 1-1 1 7 1 0 1-2 1-1 1 0 1 0 1-4 1 4 1 1 1 9 1-7 1-5 1 7 1 3 1 4 1 0 1 9 1-9 1 1 1-6 1 1 1-3 1 5 1-1 1-4 1-7 1 6 1 2 1 2 1-1 1-4 1 1 1 0 1 6 1-2 1 0 1-3 1 5 1-25 1 4 1-3 1 1 1 6 1-9 1 6 1-5 1 6 1-3 1 10 1-5 1 2 1-3 1-4 1 8 1-2 1 1 1 10 1-5 1-2 1-4 1 4 1 0 1 0 1-6 1-2 1 22 1 6 1 2 1 0 1-3 1-6 1 4 1 7 1 1 1 1 1 0 1-9 1 4 1-10 1 3 1-1 0-273-1 8-1-2-1-1-1-6-1 5-1-1-1 0-1 8-1 0-1-14-1-3-1-3-1 2-1 3-1-3-1-5-1 1-1 7-1 3-1-2-1-1-1 0-1-1-1 6-1-5-1-3-1-2-1 1-1 2-1-11-1 0-1 8-1-5-1 2-1-3-1 3-1-4-1 3-1-5-1-1-1 14-1 0-1-3-1-4-1 2-1 1-1-1-1-4-1 2-1 2-1-3-1 2-1-4-1 3-1-5-1-1-1 8-1-6-1 3-1-6-1 6-1-5-1-3-1 10-1-6-1 6-1-1-1-3-1-1-1-1-1 6-1-8-1 3-1-1-1 5-1-4-1 1-1 18-1-2-1 6-1-8-1 3-1-6-1-5-1 8-1-11-1 4-1 3-1 0-1-6-1 0-1 5-1 4-1-25-1-3-1 1-1 9-1-7-1-1-1-6-1 3-1 4-1 0-1-7-1 9-1 3-1-2-1 8-1-11-1 0-1 12-1-6-1-4-1 1-1 4-1 1-1-2-1-3-1-1-1-6-1 12-1-7-1-1-1 4-1 1-1-2-1 2-1-8-1 0-1-3-1 2-1-2-1 0-1-1-1 5-1 3-1-9-1 5-1 0-1-4-1-1-1 3-1-3-1-2-1-3-1 4-1-4-1-2-1-2-1 1-1 1-1 0-1-5-1 0-1-5-1 6-1 1-1-9-1 3-1-4-1 15-1-1-1 12-1 2-1-2-1 5-1-1-1 1-1-7-1 0-1 4-1 0-1 5-1-2-1-8-1 5-1 3-1 3-1-5-1-1-1 8-1-6-1-2-1 3-1-3-1-1-1-1-1 0-1 2-1-1-1 0-1 2-1-2-1-3-1 2-1 4-1 0-1-4-1 1-1 4-1-3-1-5-1-3-1 2-1 1-1 1-1 2-1-1-1-1-1 0-1 5-1-2-1-7-1-5-1 1-1-4-1 2-1 3-1 9-1 2-1-1-1 1-1-1-1-5-1 4-1 4-1 13-1-4-1-4-1-3-1-6-1 2-1-15-1 1-1 3-1-4-1 7-1 2-1-1-1 3-1 15-1-6-1 7-1-6-1 2-1-5-1-2-1-1-1 2-1-2-1 4-1-3-1-1-1-1-1-6-1 2-1 3-1 0-1-1-1 1-1-6-1 4-1 3-1 4-1-3-1 0-1-7-1 2-1-1-1 3-1-1-1 3-1 0-1 11-1-3-1 5-1 0-1-2-1-3-1 4-1-1-1-1-1 2-1-4-1 6-1-1-1 1-1 9-1-7-1 5-1-4-1-5-1 3-1 7-1-2-1-1-1 1-1-10-1-3-1 1-1 1-1 2-1-1-1-1-1 3-1-5-1 3-1-6-1-3-1-5-1 5-1 0-1-6-1 5-1 0-1 2-1 2-1-4-1 1-1-10-1 24-1 1-1-3-1-2-1-9-1-3-1 4-1 5-1-9-1-2-1 3-1 7-1-5-1 2-1-5-1 5-1 4-1 0-1-2-1-2-1-4-1-5-1 8-1 2-1-9-1-5-1 5-1 1-1-7-1-2-1 3-1-3-1 5-1-2-1 4-1 5-1-6-1 3-1-5-1 2-1 10-1-6-1 1-1-13-1 6-1-1-1-6-1-7-1 5-1-4-1 5-1 2-1-11-1 2-1-3-1 10-1 4-1-11-1 2-1 1-1 1-1 1-1 0-1-4-1-4-1-23-1 7-1 0-1-10-1-10-1 3-1 0-1 3-1-3-1-9-1 2-1-6-1-2-1-2-1 546z"/>
<path class="lM" d="M0 1611l1-99 1-25 1-22 1-15 1-16 1-4 1-7 1-11 1-2 1-8 1 3 1-17 1-29 1-21 1-15 1-8 1-6 1 4 1-2 1-3 1-4 1-7 1-6 1-8 1-9 1 1 1-8 1 0 1 0 1-8 1 4 1-19 1 13 1 10 1-1 1-12 1 6 1 2 1 0 1-9 1-7 1 8 1 7 1 15 1-10 1 1 1 8 1-7 1 11 1-12 1 4 1 12 1 0 1-20 1 15 1-3 1 1 1-18 1 12 1-6 1 2 1-2 1 11 1-12 1-2 1-1 1 7 1 9 1 1 1-4 1-6 1 11 1 0 1 0 1 1 1 9 1 6 1-5 1-4 1-7 1 0 1 0 1-3 1 9 1-6 1-8 1 0 1-1 1-6 1 1 1-4 1 3 1-6 1 3 1 12 1-10 1 11 1-2 1 0 1 9 1 0 1 12 1 10 1-3 1-8 1 4 1-5 1-2 1 11 1-6 1 9 1 9 1-11 1-9 1-3 1 3 1-3 1-5 1 9 1 6 1-5 1-8 1 4 1-2 1-6 1 0 1-7 1-3 1 2 1-7 1-1 1-5 1 0 1 10 1-7 1 10 1-9 1-8 1-5 1 6 1-1 1-6 1 0 1 10 1-13 1 11 1-12 1 6 1 5 1-16 1-2 1 1 1-4 1 10 1-6 1-2 1 6 1 3 1 3 1-6 1-3 1 12 1-1 1-8 1 9 1-2 1-5 1 2 1 7 1 2 1 6 1 1 1-3 1-14 1 0 1-10 1 9 1-1 1-13 1 13 1-2 1-2 1 8 1-10 1 5 1 0 1-2 1 10 1 10 1-9 1 0 1 6 1 3 1-11 1 10 1-11 1 5 1 8 1 5 1-2 1 7 1-9 1 14 1 2 1 7 1-2 1 3 1-6 1 0 1 1 1 4 1 4 1-10 1-3 1-7 1 9 1-11 1 12 1-5 1 6 1-9 1 1 1-9 1-2 1-1 1 3 1 4 1-1 1 3 1-11 1-2 1 13 1 1 1 5 1-10 1-2 1 12 1-9 1 4 1 1 1 4 1-12 1 4 1-10 1-4 1 5 1 5 1 4 1-3 1 5 1-2 1 3 1 0 1 0 1 2 1 2 1 0 1-6 1 1 1-1 1-2 1-3 1-11 1 14 1-1 1 1 1 6 1 3 1-5 1 0 1 7 1-13 1 11 1 1 1 0 1-3 1-1 1 4 1 4 1-14 1 8 1 3 1 1 1 10 1-10 1-3 1 1 1 9 1-4 1-12 1-3 1 5 1-12 1 7 1-2 1-12 1 11 1-9 1-7 1 10 1 9 1 2 1 15 1-16 1 7 1-1 1 10 1 7 1-8 1 9 1 4 1 1 1 4 1-11 1 4 1-6 1 10 1 8 1-2 1 16 1-15 1 8 1-12 1 1 1 1 1-5 1 7 1-9 1 26 1-18 1 0 1 3 1 0 1 0 1 0 1 4 1-8 1 3 1-9 1 5 1-8 1 2 1 9 1-17 1-6 1 8 1 1 1 6 1 2 1 1 1-5 1-10 1 14 1 4 1 4 1-4 1 1 1-6 1 1 1 1 1-6 1 13 1-6 1 1 1-5 1 8 1-2 1 12 1-20 1 7 1 3 1-17 1 13 1-10 1-11 1 21 1-5 1 0 1-6 1 5 1-4 1 1 1-17 1 1 1 3 1-2 1 9 1 3 1-1 1 0 1 9 1 6 1-8 1 7 1 2 1 2 1 1 1-6 1 4 1-2"/>
</g>
<path fill="#FE00CE" d="M590.15,84.14l9.15,9.15l9.15,-9.15l-9.15,-9.15l9.15,-9.15l-9.15,-9.15l-9.15,9.15l-9.15,-9.15l-9.15,9.15l9.15,9.15l-9.15,9.15l9.15,9.15ZM937.51,158.21l9.15,9.15l9.15,-9.15l-9.15,-9.15l9.15,-9.15l-9.15,-9.15l-9.15,9.15l-9.15,-9.15l-9.15,9.15l9.15,9.15l-9.15,9.15l9.15,9.15Z"/>
</g>
</g>
<g id="p_c">
<rect x="1087.22" y="32.44" width="364.8" height="317.35" fill="#E5ECF6"/>
<path d="M1182.86,32.44v317.35M1269.7,32.44v317.35M1356.54,32.44v317.35M1443.38,32.44v317.35M1087.22,270.42h364.8M1087.22,174.1h364.8M1087.22,77.85h364.8" stroke="#fff" stroke-width="1.85" fill="none"/>
<path d="M1096.02,32.44v317.35" stroke="#fff" stroke-width="3.6" fill="none"/>
<g clip-path="url(#cc)">
<g transform="translate(1096.02,463.26) scale(0.8684,-0.24095)">
<path class="bR" d="M0 1488l1-382 1 0 1 0 1 1 1 2 1-2 1 8 1-1 1-2 1-4 1 0 1 2 1 2 1 5 1 3 1 0 1-2 1 3 1 4 1-4 1 10 1 6 1-3 1 2 1 2 1 7 1-1 1-8 1 1 1 5 1-2 1 1 1 0 1 8 1 5 1-1 1 1 1 0 1 4 1-3 1 3 1-1 1 3 1 1 1 5 1-1 1 0 1 3 1 0 1 7 1 0 1-2 1 2 1 1 1 1 1 2 1 3 1 6 1 3 1 2 1-2 1 1 1 4 1 2 1 0 1-3 1-1 1 1 1 2 1 1 1 3 1 0 1 1 1 3 1 0 1 1 1 1 1 0 1 0 1-2 1 0 1 1 1-1 1 0 1 1 1 8 1-2 1 7 1-1 1 0 1 0 1 1 1 4 1 0 1-2 1 4 1-1 1 0 1 5 1-6 1 1 1 2 1 2 1-1 1 1 1-1 1 1 1 3 1-2 1 4 1-3 1 0 1 1 1 2 1-2 1 2 1 2 1-1 1 1 1 2 1-1 1-3 1 4 1 2 1 0 1-1 1-2 1 2 1-2 1 4 1 1 1-1 1-1 1-1 1 5 1 2 1 1 1-2 1-1 1 2 1 1 1-1 1 1 1 0 1 0 1 1 1 5 1 0 1-2 1-1 1-1 1 3 1-6 1 4 1-1 1 0 1 3 1-3 1 3 1-1 1-1 1-2 1 4 1 1 1 3 1-3 1 1 1 0 1-2 1-11 1 5 1-6 1-1 1-1 1 0 1 0 1 2 1 0 1-1 1-1 1 3 1-3 1 1 1-4 1 2 1-2 1 2 1 2 1-1 1-1 1 4 1-4 1 0 1-5 1 5 1-2 1 7 1 0 1-4 1 1 1 0 1 0 1-1 1-2 1 2 1-1 1 0 1 0 1 1 1 1 1 1 1-1 1 3 1 0 1 6 1 1 1-5 1 5 1-2 1 0 1-2 1 3 1-2 1-5 1 1 1 1 1-1 1 2 1 0 1 1 1 1 1 1 1-1 1 0 1-1 1-2 1-3 1 6 1-2 1-8 1 2 1 2 1 0 1 1 1 0 1-4 1 1 1-1 1 4 1 1 1 0 1 0 1 1 1 0 1 1 1 6 1-4 1-3 1 2 1 1 1-2 1 3 1-1 1 0 1 0 1-1 1 2 1 3 1-3 1 1 1 0 1 0 1-4 1 1 1 1 1 2 1 2 1-2 1-2 1 5 1-1 1-2 1-1 1 2 1-1 1-1 1 2 1-1 1-2 1-1 1-5 1 0 1 4 1-1 1 2 1-1 1 0 1-1 1 1 1 0 1-1 1 6 1 9 1-5 1 0 1 3 1 0 1-1 1 0 1-2 1 0 1 0 1 1 1 2 1 0 1-1 1-8 1-2 1 2 1 3 1 4 1 0 1 0 1-3 1 13 1-1 1 0 1-2 1 1 1-3 1 3 1-3 1 4 1 6 1-1 1 0 1-1 1-1 1-1 1 6 1 0 1-3 1 2 1-2 1 2 1 1 1-2 1 0 1-1 1 0 1 4 1-4 1 1 1 1 1 1 1-1 1-3 1 2 1-1 1 3 1-1 1 0 1 0 1-1 1 0 1 3 1 4 1 1 1 1 1 0 1-5 1 1 1 1 1-3 1 4 1-2 1-1 1-1 1 0 1-3 1 5 1-3 1 3 1-5 1 1 1 4 1 0 1-2 1 2 1-2 1 2 1-4 1 0 1 0 1 2 1 2 1 4 1-4 1-1 1-1 0-177-1-1-1 4-1-1-1 0-1-1-1-6-1 0-1 1-1 4-1 0-1-1-1-2-1-3-1 2-1 1-1-1-1 4-1-5-1-1-1 0-1 1-1 2-1-2-1 1-1 3-1-3-1 0-1 3-1-2-1 0-1-1-1 2-1-3-1 1-1-1-1-1-1-3-1 2-1 1-1-4-1 3-1 1-1-2-1 1-1 0-1 0-1 0-1 0-1 3-1-2-1-4-1-1-1 3-1 1-1 1-1-4-1 1-1 0-1 1-1 1-1-1-1 1-1 5-1-1-1-4-1-1-1 0-1-2-1 1-1-1-1 3-1-1-1-1-1 2-1-2-1-5-1 0-1 3-1 2-1-2-1-1-1-3-1 1-1 3-1 1-1 10-1-2-1-1-1-3-1-6-1-8-1 1-1-1-1 0-1 1-1-3-1 0-1-2-1-3-1 4-1 3-1-3-1 1-1 0-1-5-1 2-1 3-1-1-1-5-1-1-1 2-1 0-1 2-1-2-1 4-1-1-1 3-1-3-1 2-1 4-1-1-1 2-1-2-1-1-1 1-1 0-1 3-1-3-1-4-1-2-1-2-1 2-1 2-1-1-1 2-1-6-1 4-1-1-1-4-1-2-1 3-1 1-1 1-1-2-1 5-1-3-1-7-1 2-1-2-1 0-1-2-1 0-1-1-1-3-1 2-1-1-1-7-1-3-1-2-1 2-1 0-1-1-1-2-1 1-1 4-1-4-1 3-1-1-1 3-1 0-1-8-1 0-1-3-1 1-1-2-1-4-1 2-1 0-1-4-1 3-1 1-1-3-1-4-1-2-1 1-1 1-1 0-1 1-1-3-1 0-1-2-1 0-1 1-1-2-1 2-1 0-1 0-1-2-1-1-1-1-1 4-1-3-1-1-1 1-1 3-1-4-1-2-1 1-1 6-1-4-1-4-1 2-1-1-1 7-1-3-1 2-1-4-1 2-1-1-1 2-1-1-1-1-1-1-1-2-1 1-1 0-1 6-1-3-1 4-1-5-1 1-1-4-1-1-1 0-1 3-1-5-1 0-1 0-1 2-1 0-1-4-1-1-1 0-1 1-1 0-1 4-1-1-1 2-1 1-1-2-1 2-1-2-1-4-1 1-1 1-1-6-1 1-1 1-1 6-1-1-1-4-1 1-1-2-1-6-1 1-1 3-1-2-1-1-1 2-1-1-1-3-1 2-1-2-1 0-1-1-1 4-1-1-1 0-1 0-1-1-1 0-1-4-1-3-1 1-1-3-1-1-1 3-1-5-1 2-1-1-1 0-1 5-1-1-1-2-1 2-1-2-1-3-1 2-1 0-1-3-1 3-1-1-1 0-1-3-1-7-1 6-1-1-1-3-1 4-1-4-1 0-1 0-1 0-1 4-1-2-1 0-1-3-1 4-1-2-1-4-1-4-1-2-1 0-1 2-1-2-1-5-1 1-1 0-1-1-1 1-1 0-1-5-1 13-1 2-1-2-1 0-1-3-1 1-1 2-1-5-1 0-1 2-1-2-1 0-1 1-1-4-1-5-1 1-1 0-1-1-1-1-1 0-1-3-1-3-1 3-1 0-1-1-1 2-1-3-1-5-1 0-1 3-1-2-1-5-1-3-1-2-1-1-1-6-1-2-1-1-1-6-1 2-1 3-1-3-1-3-1-3-1 0-1-2-1-6-1 0-1-6-1-2-1-1-1 0-1-2-1-2-1-7-1-4-1 2-1-1-1 4-1 3-1 3-1 4-1 1-1 2-1 3-1 2-1 3-1 565z"/>
<path class="lR" d="M0 1488l1-469 1-15 1-10 1-6 1-3 1-2 1-4 1-2 1-2 1 2 1 3 1-1 1 5 1 4 1 4 1 13 1-4 1 6 1 8 1 3 1 5 1 4 1 2 1 2 1 3 1 1 1 2 1-4 1-8 1 8 1 3 1 4 1 2 1-1 1 6 1 0 1 5 1 1 1-7 1 5 1 5 1 3 1 5 1-1 1 4 1-4 1-1 1 8 1 6 1 3 1 4 1 1 1 1 1 1 1 1 1 1 1 6 1 1 1 0 1-2 1 3 1 0 1 2 1 2 1-4 1-4 1 1 1-3 1 10 1-6 1 4 1 2 1-5 1 0 1 3 1 0 1 1 1-2 1-2 1-2 1 0 1-1 1-5 1 4 1 0 1 3 1-5 1 2 1-1 1-5 1 0 1-2 1 2 1-2 1 2 1 2 1 4 1 1 1 3 1-4 1-2 1 10 1 4 1-3 1 2 1-5 1 8 1 1 1-3 1 1 1 1 1 1 1 0 1 2 1 1 1 1 1-1 1 5 1 7 1-1 1-1 1-4 1-7 1 5 1 0 1 3 1 5 1 0 1-5 1 8 1-1 1-6 1 6 1-2 1 0 1 3 1 2 1 0 1 1 1 6 1 1 1 1 1-1 1 1 1-3 1 0 1-2 1 4 1-1 1 3 1-1 1 7 1-3 1 9 1-1 1-6 1 1 1-3 1 3 1-1 1 1 1 0 1-8 1 4 1 1 1 0 1 2 1 7 1-1 1-5 1 4 1 2 1 2 1-3 1-2 1-1 1-3 1 5 1 0 1-3 1 2 1 0 1-8 1-1 1-1 1 2 1-1 1 4 1-3 1 0 1 3 1-1 1-2 1-6 1 8 1-2 1 2 1-4 1 1 1-2 1 2 1 1 1 3 1-2 1 2 1-2 1-2 1 3 1 3 1-3 1 2 1 12 1 5 1-3 1 1 1 1 1-5 1 4 1 3 1 1 1-4 1 6 1-1 1-8 1 2 1 7 1-1 1 1 1 4 1 5 1-3 1-1 1-5 1 0 1 2 1-1 1-5 1 4 1-2 1-1 1 0 1 3 1-2 1 3 1-1 1-4 1 2 1 2 1 2 1-3 1-1 1 0 1-1 1 3 1 4 1-1 1-1 1-3 1-3 1 3 1 1 1 4 1-6 1-2 1 2 1 3 1 4 1-2 1-5 1 6 1-3 1 6 1 2 1-4 1 3 1 2 1 0 1 2 1-2 1 1 1 1 1-3 1 4 1 1 1 1 1-4 1 3 1-2 1 0 1-3 1 1 1 0 1 3 1-4 1 3 1 3 1 2 1-3 1 4 1-3 1-4 1 4 1 2 1-2 1-1 1-3 1-2 1 7 1-8 1 0 1 3 1-1 1 3 1 2 1 2 1-3 1 0 1-2 1 0 1 1 1 1 1 1 1 0 1 0 1 4 1 0 1-1 1 0 1-5 1-1 1 2 1 0 1 3 1 1 1-3 1 4 1 2 1 2 1-2 1 2 1 3 1-3 1 2 1-6 1 5 1 1 1-4 1 1 1 0 1-3 1 8 1-5 1-5 1 7 1 1 1-3 1-8 1 5 1-2 1 1 1 1 1-1 1-3 1-1 1 0 1 9 1-8 1 6 1 2 1-4 1-4 1 1 1 2 1 0 1 8 1-8 1-2 1 0 1-1 1-1 1-2 1 1 1-1 1-3 1-3 1-1 1 0 1-1 1 9 1-2 1 3 1-5 1-1 1 1 1 4 1 1 1-2 1 3 1-3 1-2"/>
</g>
<path fill="#FD3216" d="M1096.02,113.88l9.15,9.15l9.15,-9.15l-9.15,-9.15l9.15,-9.15l-9.15,-9.15l-9.15,9.15l-9.15,-9.15l-9.15,9.15l9.15,9.15l-9.15,9.15l9.15,9.15ZM1443.38,190.02l9.15,9.15l9.15,-9.15l-9.15,-9.15l9.15,-9.15l-9.15,-9.15l-9.15,9.15l-9.15,-9.15l-9.15,9.15l9.15,9.15l-9.15,9.15l9.15,9.15Z"/>
<g transform="translate(1096.02,463.26) scale(0.8684,-0.24095)">
<path class="bG" d="M0 1530l1-518 1-51 1-33 1 4 1 3 1 6 1 2 1 6 1 4 1-3 1 10 1 10 1 5 1 6 1 7 1 7 1 3 1 4 1 5 1 6 1 6 1 4 1 3 1 7 1 3 1 5 1 0 1 2 1 8 1 4 1 4 1-2 1 4 1-1 1 4 1 2 1 2 1 2 1 0 1 2 1-1 1 0 1 1 1-5 1 4 1-4 1 1 1 0 1 0 1 3 1 2 1-5 1 1 1 1 1 4 1-2 1 4 1 3 1 0 1 1 1 7 1 2 1-1 1 4 1 1 1 10 1 6 1-3 1 3 1 1 1 0 1 5 1 3 1 4 1-1 1 4 1 2 1 0 1 3 1 3 1 0 1 4 1 6 1-3 1 4 1 2 1 2 1 2 1 3 1-1 1 5 1 3 1-2 1 2 1 1 1 2 1 2 1-1 1 3 1-1 1-1 1-6 1 5 1 0 1-8 1 1 1-3 1 1 1-1 1 2 1-1 1-2 1 1 1-2 1-1 1 3 1 2 1-2 1 2 1-1 1-3 1 1 1-2 1 2 1 2 1 10 1 0 1-1 1 2 1 4 1 1 1 0 1-1 1-2 1 5 1 0 1 10 1-2 1 2 1 2 1 1 1 0 1 1 1 2 1 0 1 3 1-1 1-4 1 2 1 2 1-4 1-4 1 3 1 1 1-6 1 2 1-5 1-2 1 6 1 1 1 1 1 1 1 3 1 2 1-1 1 3 1 2 1 2 1 0 1 0 1 3 1 7 1 2 1 3 1-3 1 4 1 1 1 5 1 2 1 1 1-1 1 5 1-4 1 2 1 3 1 5 1-1 1 3 1-2 1 4 1-3 1 1 1 1 1-3 1 4 1-5 1-3 1-7 1 1 1-5 1 1 1-4 1-1 1-5 1-6 1-9 1-3 1 2 1-4 1 0 1-1 1 10 1 2 1 2 1-1 1 0 1 2 1 1 1 5 1 0 1 0 1 1 1-1 1 2 1 4 1-1 1-3 1 3 1 0 1-2 1 5 1 3 1-10 1 3 1-2 1-1 1 2 1-2 1 0 1-1 1 0 1 0 1-2 1 1 1 1 1 3 1-6 1-6 1 0 1 2 1 3 1-4 1 1 1-1 1 4 1-3 1 1 1 4 1-1 1 0 1 0 1 3 1-2 1 4 1-2 1 1 1-6 1 1 1 0 1 3 1-3 1 0 1-2 1 3 1-6 1 4 1-1 1 2 1 5 1 1 1 2 1 2 1-1 1-1 1 1 1-3 1-1 1-2 1 0 1-3 1-2 1 5 1-4 1 1 1 2 1-3 1-1 1-6 1 0 1 0 1 1 1-1 1-7 1-2 1 0 1-3 1 0 1-1 1 4 1 0 1 0 1-1 1 2 1-5 1 2 1-1 1 0 1 2 1-2 1 5 1 0 1-4 1 3 1 0 1 1 1-1 1 1 1 1 1-6 1 3 1 8 1 8 1-6 1 5 1-3 1-3 1 1 1-1 1 2 1-4 1 2 1 1 1-1 1 1 1-1 1 1 1-1 1 1 1-1 1 0 1 5 1-2 1 4 1 0 1 4 1 0 1-8 1-2 1-3 1 1 1 0 1-1 1 1 1 2 1-2 1-2 1 5 1 3 1 7 1 3 1 3 1 7 1-1 1-1 1-1 1 2 1-3 1-4 1-1 1 4 1-2 1 0 1 1 1-1 1-2 1-1 1 1 1-6 1 2 1-1 1 0 1 0 1-1 1 2 1 0 1-3 1 3 1-6 1 8 1 1 0-233-1 0-1 7-1-3-1 2-1-1-1-1-1 0-1-1-1 1-1-6-1-1-1-4-1 0-1-1-1 1-1 1-1-2-1 0-1 2-1-2-1 0-1 1-1-4-1-1-1-1-1-3-1-2-1 1-1 6-1 6-1 9-1 4-1 8-1 7-1-5-1 3-1-1-1-7-1 2-1 2-1 2-1-3-1 5-1 1-1-3-1 5-1-1-1-1-1-3-1-3-1 0-1 1-1 1-1-1-1 1-1-3-1 1-1-2-1 1-1 1-1-3-1-5-1 0-1 2-1 2-1-1-1 1-1 2-1-1-1-1-1 3-1 0-1-2-1 0-1 4-1-2-1 0-1-3-1-2-1 0-1 1-1-1-1 0-1 3-1-1-1 0-1 0-1-6-1 1-1-1-1-3-1 2-1-1-1-1-1-6-1 0-1 5-1 3-1-2-1-4-1 3-1-5-1 3-1-6-1-2-1-2-1-2-1 1-1-4-1-3-1-1-1-1-1-1-1 3-1-2-1-2-1-3-1 5-1 2-1-1-1-1-1 3-1 0-1 0-1-1-1 1-1 1-1 1-1-1-1-5-1 2-1 0-1 0-1-9-1-4-1-1-1-1-1 6-1-1-1-2-1-1-1 2-1-2-1 1-1 0-1 1-1 0-1 5-1-1-1 5-1-2-1 1-1 0-1-1-1-2-1-2-1-2-1 0-1 1-1-3-1 5-1-2-1-2-1 1-1 1-1 0-1-1-1 0-1-1-1-8-1 2-1-1-1-1-1 0-1 1-1 1-1 0-1-5-1-1-1 4-1-3-1 1-1 0-1 2-1-3-1-1-1 1-1-1-1 0-1 4-1 5-1-1-1-1-1-2-1-5-1 1-1-3-1 3-1 0-1 3-1 3-1-4-1-1-1 4-1 3-1-1-1 1-1 2-1-2-1 0-1 3-1-2-1-1-1 2-1 3-1 2-1-4-1-1-1 3-1-2-1-2-1 1-1 1-1-3-1 2-1-2-1 1-1 1-1 3-1-5-1 1-1-1-1 2-1 2-1 2-1-6-1 2-1 1-1-3-1-3-1 1-1 1-1-4-1 3-1 0-1 1-1-3-1-2-1 1-1 2-1-2-1 2-1-1-1-3-1 1-1-1-1 0-1-2-1 0-1 2-1 0-1 0-1 1-1 2-1-1-1-3-1 1-1 2-1 0-1-2-1-3-1 1-1-3-1-3-1 1-1 0-1 0-1-7-1 3-1 1-1-2-1-2-1 0-1-2-1 0-1-2-1 0-1-3-1 3-1 0-1 0-1 3-1-2-1 2-1-3-1-8-1-1-1-3-1-5-1-3-1-2-1 6-1-2-1 2-1 2-1-5-1 3-1-5-1 2-1 2-1-6-1 0-1-2-1-1-1-6-1 1-1-2-1 0-1 2-1-2-1-1-1 1-1-4-1-2-1-3-1 0-1-1-1 2-1 0-1-1-1-4-1-5-1 4-1 2-1 2-1 3-1 0-1 0-1-2-1 0-1 5-1-3-1 3-1-2-1 2-1-2-1 5-1-4-1 0-1-1-1 1-1-5-1-3-1-3-1-4-1 1-1 0-1 5-1-2-1-6-1-4-1-4-1 0-1-4-1 1-1-3-1 0-1 3-1-3-1-5-1 1-1-1-1-1-1-1-1 0-1-3-1-1-1-2-1-5-1 1-1 2-1-3-1 3-1-7-1-5-1-7-1-5-1-1-1-3-1-3-1-9-1-10-1-10-1-11-1-12-1-12-1-14-1-54-1-73-1 931z"/>
<path class="lG" d="M0 1530l1-709 1 6 1 7 1 8 1 7 1 7 1 8 1 2 1 13 1 6 1 7 1 9 1 4 1 8 1-1 1 7 1 2 1 1 1 3 1 7 1 4 1 6 1 1 1-2 1 8 1 2 1 5 1 4 1-1 1 0 1-1 1 6 1 4 1 0 1 1 1 4 1 1 1-2 1 2 1 0 1 8 1 0 1-1 1 2 1 0 1 2 1 1 1-4 1 2 1-2 1-5 1 5 1 8 1 0 1 4 1-3 1 1 1-7 1 2 1 2 1 1 1-2 1 2 1 0 1 0 1-1 1-4 1 5 1 2 1 6 1-1 1 3 1 0 1 5 1 3 1-2 1 5 1 4 1-2 1 2 1 1 1 0 1 2 1 4 1 0 1 7 1 2 1-3 1 3 1 10 1-2 1 3 1 6 1-1 1 4 1-1 1-3 1 6 1-2 1 1 1 5 1-2 1-3 1-2 1 0 1 3 1 0 1 1 1-3 1-6 1 2 1-2 1 0 1 5 1 3 1-1 1 2 1 3 1-3 1-1 1-2 1 0 1-4 1 2 1-1 1-4 1 8 1 5 1-3 1 0 1 4 1 3 1 2 1 6 1-3 1 6 1-4 1-3 1 5 1 4 1-8 1 3 1 2 1-4 1 4 1 1 1 1 1 5 1 1 1-2 1 2 1-2 1 8 1-1 1-4 1 3 1-3 1 3 1 2 1 0 1 3 1 2 1-6 1 1 1 2 1-4 1 0 1-2 1 1 1 4 1 1 1-3 1 1 1 0 1 1 1-2 1 9 1 2 1-1 1 2 1 6 1-3 1 5 1 5 1-5 1 3 1-2 1-6 1 7 1-5 1 1 1-2 1-2 1-4 1 1 1-2 1-1 1-2 1 0 1-1 1-5 1-6 1 0 1 2 1 1 1 3 1 1 1-5 1-2 1-2 1 6 1 2 1-2 1-4 1-3 1 4 1 3 1 2 1 1 1-3 1 0 1 2 1 5 1 1 1 1 1-4 1 6 1 4 1 1 1-3 1 1 1 3 1-3 1 1 1 4 1-4 1-4 1 0 1-1 1 0 1 5 1-2 1-1 1 2 1-4 1 0 1 1 1 4 1 1 1 0 1-3 1-2 1-3 1 1 1-1 1 2 1-2 1-2 1 4 1-1 1-6 1 4 1-3 1 0 1 4 1-1 1 4 1-1 1 3 1-3 1 8 1 1 1 3 1-5 1 5 1-3 1-5 1 8 1-8 1-1 1-2 1 2 1-4 1 3 1-5 1 0 1 2 1 0 1 3 1 3 1 1 1-5 1 3 1-4 1 0 1 6 1-1 1 1 1 1 1 2 1-4 1-1 1 3 1 2 1 1 1 5 1-1 1-1 1-4 1-1 1 5 1-1 1-1 1 4 1-2 1 3 1 0 1-1 1 6 1-5 1 0 1 9 1-2 1 0 1-1 1-2 1 0 1 1 1 2 1-6 1 1 1-2 1-2 1-3 1-3 1-1 1 5 1-1 1 6 1 5 1-6 1-3 1 0 1-4 1 2 1 3 1-2 1 1 1-3 1 1 1 2 1 0 1 1 1-1 1-6 1 4 1 1 1 9 1 2 1-4 1-1 1 3 1-3 1-1 1-2 1 5 1-4 1 1 1 0 1-3 1 1 1-2 1-3 1 2 1 1 1-3 1-1 1 3 1 0 1-6 1 0 1 0 1 2 1-4 1 3 1-1 1 3 1-2 1 2 1-2 1 8 1-1 1 1 1 1 1-3 1 6 1-2 1 5 1-6 1-2"/>
</g>
<path fill="#00FE35" d="M1096.02,103.76l9.15,9.15l9.15,-9.15l-9.15,-9.15l9.15,-9.15l-9.15,-9.15l-9.15,9.15l-9.15,-9.15l-9.15,9.15l9.15,9.15l-9.15,9.15l9.15,9.15ZM1443.38,205.92l9.15,9.15l9.15,-9.15l-9.15,-9.15l9.15,-9.15l-9.15,-9.15l-9.15,9.15l-9.15,-9.15l-9.15,9.15l9.15,9.15l-9.15,9.15l9.15,9.15Z"/>
<g transform="translate(1096.02,463.26) scale(0.8684,-0.24095)">
<path class="bB" d="M0 1545l1-345 1-9 1-9 1-6 1-10 1-9 1-7 1-3 1-9 1-6 1-6 1 7 1-2 1 4 1 4 1-2 1 3 1 0 1 0 1 0 1 0 1 3 1 7 1 2 1 5 1-3 1 1 1 3 1 0 1 2 1 3 1 1 1-2 1 2 1 5 1-1 1 5 1 0 1-1 1 2 1 1 1 1 1 0 1 1 1 2 1 2 1 3 1-2 1-1 1 1 1-1 1-4 1 5 1 1 1-2 1 4 1 0 1-2 1-4 1 1 1 4 1 1 1 3 1-1 1-1 1-2 1 3 1 4 1-2 1 3 1 0 1 3 1-1 1 3 1 2 1-2 1-3 1 0 1 2 1 1 1 3 1-3 1 1 1 4 1-2 1 4 1-3 1-2 1 0 1 2 1 2 1-1 1 1 1-4 1 3 1 2 1-1 1 3 1 2 1 0 1-1 1 2 1 1 1 2 1-2 1 4 1 3 1 0 1 3 1-2 1 3 1-2 1 0 1 0 1 1 1 0 1-1 1-1 1-3 1 1 1 0 1 2 1 4 1-3 1 0 1 2 1 1 1-2 1-3 1 1 1 2 1 1 1-2 1-3 1 3 1-2 1 4 1 6 1-11 1 2 1-4 1-1 1-1 1 3 1-1 1 3 1-2 1 0 1 3 1 1 1 2 1 0 1-4 1 3 1 1 1-1 1 1 1 1 1 1 1 2 1-2 1 0 1 0 1-5 1-9 1 6 1 2 1 0 1 0 1 6 1 1 1 3 1-4 1-1 1 1 1-2 1 3 1 4 1 0 1-2 1 1 1 3 1-3 1-1 1-2 1 5 1 0 1 2 1-1 1 11 1 0 1 2 1-4 1 2 1-2 1 0 1-1 1 0 1 0 1 0 1-1 1 3 1-1 1-2 1-2 1 2 1-1 1 1 1 0 1 0 1 3 1-1 1 3 1-3 1 0 1-2 1 4 1 4 1-3 1 1 1-4 1 2 1-1 1 3 1 1 1-3 1-1 1-2 1 0 1-3 1 5 1 0 1-1 1-2 1 0 1 4 1-1 1 4 1-2 1 3 1-2 1 0 1 0 1-2 1 1 1 3 1-4 1 1 1-3 1 4 1 0 1 0 1-2 1 3 1-1 1 2 1-1 1-2 1 2 1 0 1-4 1 1 1-3 1 4 1-1 1-1 1 4 1 1 1 2 1-4 1 2 1-1 1-1 1-1 1 0 1 2 1 3 1-4 1 2 1-1 1 4 1-2 1 2 1 3 1 1 1 0 1-2 1-3 1 7 1-3 1 0 1 0 1-1 1 0 1-2 1-6 1 4 1 3 1 0 1-3 1-2 1 1 1 2 1 2 1 2 1 1 1 5 1 0 1 1 1-3 1-3 1-5 1 1 1-3 1 0 1 1 1 2 1-3 1 0 1 1 1 1 1 5 1-2 1-3 1 4 1 2 1-1 1-1 1-2 1-2 1 2 1-1 1 2 1 0 1-4 1 1 1-1 1 4 1 0 1 0 1 3 1 5 1 0 1-4 1 1 1-1 1-1 1-1 1 0 1 2 1-3 1 3 1-5 1 7 1-2 1 1 1-1 1 5 1-1 1-2 1 0 1-1 1 5 1-3 1-1 1 0 1 3 1 0 1-2 1 0 1 1 1-3 1 8 1-3 1 1 1-1 1 0 1 2 1 1 1 4 1-1 1 0 1 2 1-2 1 1 1-6 1 5 1 0 1 2 1-4 1 2 1 0 1 6 1-3 1 3 1 2 1-2 1-3 1 0 1 1 0-215-1 2-1 1-1-2-1 0-1 1-1 3-1-2-1 2-1-2-1 2-1-1-1-1-1-1-1 2-1-1-1 0-1-1-1 0-1 2-1-1-1-3-1-4-1 0-1 0-1 0-1-1-1 3-1 2-1 1-1 1-1 1-1 2-1-10-1-2-1-1-1 1-1 2-1-3-1 1-1 1-1 0-1 2-1-4-1 3-1-2-1 1-1-4-1 2-1 6-1-1-1-2-1-2-1 0-1-2-1 0-1 2-1 0-1 3-1-1-1-4-1 0-1-2-1-3-1-1-1 3-1 1-1-1-1 1-1-3-1 3-1-3-1 3-1 3-1 0-1 0-1 3-1 1-1-1-1-4-1-2-1-4-1-2-1 1-1 2-1 1-1 0-1-1-1 2-1 1-1-2-1 3-1-7-1 3-1-2-1 7-1 0-1-4-1 2-1-6-1 2-1 1-1 0-1-2-1-4-1-3-1-2-1 1-1 1-1 0-1 2-1 3-1-3-1 2-1 6-1 0-1-1-1 2-1 2-1-5-1 1-1-1-1-1-1 1-1 2-1 0-1-2-1-5-1 1-1 0-1 2-1-1-1 0-1 0-1-5-1 1-1 0-1 1-1-5-1 3-1-1-1 1-1-1-1-1-1-1-1-2-1 4-1-2-1-3-1 0-1-2-1 3-1-2-1-1-1-3-1 3-1-1-1 2-1 1-1-1-1-2-1 1-1-2-1-2-1 0-1 0-1 0-1 0-1-1-1 1-1-3-1 1-1 2-1-1-1-5-1 5-1 0-1-3-1 1-1 1-1 1-1 0-1-1-1 0-1-6-1 1-1 0-1 4-1-4-1-3-1 0-1 1-1-1-1 8-1-4-1 2-1 2-1 2-1-1-1-5-1-1-1 3-1-2-1 1-1-4-1 0-1-1-1-1-1 1-1 2-1 1-1-3-1 0-1-1-1 0-1 1-1-1-1 3-1-3-1-2-1-3-1 2-1-4-1 1-1 1-1-2-1-5-1 3-1-1-1-2-1-2-1-4-1 1-1-1-1 4-1-5-1 7-1 3-1 1-1-4-1 3-1-1-1 0-1 1-1 0-1-6-1 2-1-2-1 1-1 1-1 4-1-3-1-1-1-2-1 2-1 1-1 0-1-2-1 2-1 5-1 2-1-1-1 2-1-13-1-1-1 0-1 0-1-2-1-2-1 4-1-2-1 1-1-2-1 0-1-5-1 4-1-5-1 1-1 0-1-2-1 2-1-3-1 2-1 1-1-1-1-1-1-1-1 0-1 3-1-3-1 0-1 0-1-3-1 0-1-1-1 0-1 1-1-4-1-2-1-1-1 3-1-2-1-2-1 0-1-1-1 1-1-5-1 1-1 2-1 3-1-1-1-1-1-2-1-5-1 4-1 1-1-1-1 0-1-2-1 1-1 0-1-3-1-1-1 0-1-1-1 4-1-3-1 2-1-2-1-4-1 1-1-1-1 4-1-1-1-2-1-4-1-1-1-3-1-2-1-1-1 3-1-5-1-2-1-2-1 3-1-4-1 3-1-2-1-1-1-4-1-8-1 6-1-4-1-1-1 0-1-2-1-1-1-2-1 1-1 0-1-1-1-4-1-2-1 0-1-3-1-2-1-2-1 1-1-1-1-3-1-1-1-4-1-1-1 1-1-2-1-1-1-6-1 4-1 0-1-4-1 3-1 0-1-6-1 2-1-8-1 0-1-2-1 1-1-3-1-4-1-3-1 4-1 4-1 6-1 4-1 1-1 3-1 2-1 3-1 3-1 642z"/>
<path class="lB" d="M0 1545l1-500 1-4 1-1 1 4 1-1 1 0 1-1 1 2 1-5 1 0 1 1 1 7 1-2 1 5 1 1 1 0 1 9 1-2 1 6 1-3 1-7 1 8 1-1 1-5 1 7 1-6 1 8 1-1 1 2 1 6 1-2 1 0 1 1 1 0 1 10 1 3 1 3 1-2 1 4 1 3 1-3 1-4 1 2 1 0 1 2 1 4 1 3 1-1 1 5 1-2 1 5 1 1 1-2 1 0 1-7 1 6 1 0 1 3 1-2 1-3 1-1 1 6 1 1 1 2 1-3 1-1 1 3 1 3 1-4 1 4 1-1 1 6 1 1 1-1 1 2 1-5 1-3 1 1 1-3 1 4 1 2 1-3 1 1 1 2 1 0 1-2 1-6 1 4 1 2 1 0 1 0 1 0 1-2 1-7 1 5 1 8 1 2 1-2 1 4 1 1 1-1 1 1 1 5 1 1 1-5 1 3 1 4 1 1 1 2 1 3 1 1 1 4 1-3 1 3 1 3 1 2 1-4 1 1 1-1 1-5 1 5 1-2 1 4 1-5 1 3 1-3 1 3 1 2 1 1 1 0 1 8 1-5 1 0 1 0 1 1 1 6 1 0 1-2 1-2 1 1 1-5 1 2 1 0 1 4 1 1 1-1 1-1 1-2 1 1 1 2 1 2 1 2 1-1 1 2 1 1 1 2 1-5 1 2 1 1 1 2 1-1 1-1 1 1 1-5 1 1 1-3 1 0 1 1 1-2 1 1 1 1 1 4 1 0 1-2 1-5 1 2 1 1 1-1 1 4 1-6 1 1 1 3 1 3 1 0 1-4 1 5 1-4 1 4 1-8 1-2 1-10 1-1 1 2 1 1 1-7 1-3 1 1 1 0 1 2 1 0 1 0 1 1 1 0 1 2 1-8 1 5 1 1 1-5 1 6 1-2 1 3 1-5 1 7 1-4 1 2 1 2 1 6 1-3 1 2 1-3 1 0 1 2 1-1 1 1 1 3 1 0 1-2 1 3 1-7 1-1 1 7 1-1 1 7 1-1 1 1 1 3 1-6 1 7 1 3 1 4 1-4 1 4 1 0 1 1 1 0 1 3 1-4 1 1 1 2 1 1 1 5 1-7 1 6 1-2 1-2 1 3 1-3 1-4 1 2 1-2 1-2 1-5 1 3 1 3 1-3 1 2 1 2 1 6 1-2 1-1 1 1 1 2 1-2 1-2 1-3 1 4 1 2 1-1 1 3 1-2 1 0 1-3 1 0 1 3 1 0 1-1 1 0 1-2 1-3 1-3 1 1 1 3 1-1 1 2 1-3 1 3 1-1 1 6 1-5 1-1 1-2 1 0 1 2 1 8 1 1 1 1 1 1 1-8 1 5 1-2 1 1 1 0 1 1 1-5 1 5 1-2 1-2 1-1 1 1 1 5 1-1 1-1 1-1 1 0 1-2 1 4 1 0 1 0 1 1 1-3 1-1 1 6 1-3 1 0 1-2 1-1 1-2 1 7 1 0 1 2 1 3 1 1 1 0 1 3 1-3 1-1 1 0 1-3 1 1 1-1 1 3 1-2 1-1 1 7 1-4 1 1 1 1 1-2 1-1 1 1 1-2 1-1 1 3 1-4 1-3 1 3 1 2 1 1 1-3 1 1 1 0 1-4 1-2 1-5 1 3 1 2 1 0 1 0 1-1 1 5 1 4 1-1 1 6 1-8 1-2 1-2 1-3 1 0 1 0 1 1 1-2 1 4 1 4 1-1 1-1 1 1 1-6 1 0 1-4 1 0"/>
</g>
<path fill="#6A76FC" d="M1096.02,100.19l9.15,9.15l9.15,-9.15l-9.15,-9.15l9.15,-9.15l-9.15,-9.15l-9.15,9.15l-9.15,-9.15l-9.15,9.15l9.15,9.15l-9.15,9.15l9.15,9.15ZM1443.38,192.91l9.15,9.15l9.15,-9.15l-9.15,-9.15l9.15,-9.15l-9.15,-9.15l-9.15,9.15l-9.15,-9.15l-9.15,9.15l9.15,9.15l-9.15,9.15l9.15,9.15Z"/>
<g transform="translate(1096.02,463.26) scale(0.8684,-0.24095)">
<path class="bM" d="M0 1522l1 71 1 0 1 2 1-1 1 1 1 0 1 2 1 2 1 3 1-2 1 1 1-1 1 0 1 3 1-2 1 0 1 1 1 1 1-1 1 0 1 2 1 10 1 5 1 7 1-5 1 1 1 2 1 1 1-31 1-31 1-24 1 0 1-2 1-4 1 1 1-4 1 1 1 1 1-6 1-5 1 2 1-2 1 1 1 2 1 1 1-3 1 2 1-6 1 2 1 0 1 0 1 2 1-3 1 0 1 2 1-6 1 2 1-5 1 1 1 2 1-3 1 1 1 1 1 0 1-4 1 1 1 4 1-2 1-1 1-1 1 3 1-4 1-4 1-1 1 1 1-3 1 0 1 1 1 0 1 4 1-2 1-1 1 1 1 0 1 0 1-8 1 9 1 0 1 0 1-2 1 0 1 2 1-1 1 1 1-2 1 0 1-2 1 3 1-4 1 3 1 1 1 3 1 0 1 1 1 1 1-2 1 0 1-3 1-1 1 5 1 1 1-12 1-2 1 0 1 0 1-2 1 6 1-1 1 2 1-5 1-2 1 0 1 1 1 2 1-4 1 10 1-4 1 3 1-2 1 0 1 3 1-3 1-3 1 5 1 1 1-5 1-1 1 0 1 0 1 0 1-4 1 4 1 3 1 1 1-2 1-1 1 1 1 1 1 2 1-1 1 1 1-1 1 3 1 1 1 0 1 3 1-2 1 1 1 3 1 1 1 3 1-1 1-1 1 0 1-1 1 2 1-2 1-1 1-1 1 3 1 3 1-13 1 1 1 0 1 4 1 2 1 2 1 0 1-1 1 0 1-2 1 5 1-1 1-1 1 3 1 1 1 3 1-2 1 1 1 0 1-1 1-3 1-1 1 1 1-10 1 3 1-1 1 1 1 7 1 0 1 0 1-1 1-3 1 13 1-4 1 0 1 4 1-7 1-1 1-1 1 1 1 4 1-1 1-1 1 0 1-6 1 3 1 3 1 2 1 2 1 1 1-8 1 0 1-4 1 4 1-3 1 2 1 0 1-3 1 2 1 1 1 1 1-3 1-1 1-1 1 2 1 2 1-2 1-3 1 4 1-3 1 0 1 0 1-2 1 1 1-1 1-2 1 5 1-1 1-2 1-1 1-4 1-3 1 0 1-7 1-3 1-1 1-4 1 2 1-1 1 3 1-2 1 2 1-2 1 3 1-1 1-1 1 3 1-3 1 2 1 3 1 1 1-2 1 0 1 1 1 4 1-3 1 1 1-2 1-2 1 5 1 0 1-5 1 2 1 0 1-2 1 0 1 0 1 6 1 1 1-1 1 0 1-1 1 4 1-1 1-5 1-1 1 1 1 3 1 3 1-5 1-5 1 6 1 0 1-2 1 0 1 1 1 3 1-4 1-1 1-1 1 2 1 2 1-5 1 0 1 1 1 1 1-2 1 1 1-3 1-3 1 2 1 1 1-1 1-1 1 3 1-4 1-3 1 2 1-6 1 1 1 4 1-4 1 3 1-1 1 2 1-2 1 3 1-4 1-1 1 1 1 4 1-1 1 4 1-4 1-2 1 1 1 8 1 0 1 3 1-1 1 1 1 1 1 3 1-1 1 2 1-4 1 0 1 0 1 1 1 2 1-4 1 1 1-3 1 4 1-4 1 3 1 2 1 6 1-1 1 0 1-1 1 2 1-4 1-2 1 0 1 3 1-2 1 0 1 6 1-3 1-2 1 0 1 0 1 0 1 1 1-1 1-1 1-2 1 2 1 0 1 3 1-1 1 2 1-5 1 3 1 0 1-2 1-5 1-3 0-279-1 1-1 7-1 0-1-1-1-1-1 1-1-1-1 1-1-6-1-1-1 2-1 0-1 1-1-2-1 3-1-1-1 3-1-1-1 2-1-1-1 1-1 5-1 0-1-5-1-2-1-4-1-1-1 12-1-2-1 0-1-1-1-2-1 2-1-1-1-3-1 3-1 1-1-2-1 0-1-1-1 1-1 1-1 4-1 1-1-2-1 2-1-5-1 2-1-1-1 1-1 1-1-4-1 2-1 1-1-4-1 5-1-3-1-1-1 3-1 0-1-3-1 3-1 1-1 1-1-1-1 1-1 5-1-7-1-2-1-5-1-1-1 0-1 6-1 6-1 3-1 0-1 1-1-2-1-3-1-3-1 4-1 2-1-3-1 7-1-3-1-1-1 2-1 0-1-6-1 5-1-5-1 3-1-9-1-3-1 0-1 0-1 2-1 0-1 0-1 0-1-2-1 1-1-2-1 1-1 2-1 2-1-1-1-2-1 0-1 1-1-1-1-2-1 3-1-1-1 1-1 4-1-2-1 5-1-3-1 2-1 2-1-5-1-1-1 1-1 1-1-1-1 1-1 0-1 4-1-4-1 1-1 9-1 0-1-5-1 6-1 0-1-7-1-11-1-3-1-1-1 2-1-6-1-1-1 4-1-1-1-2-1 1-1 1-1 1-1 0-1 2-1 0-1-2-1-3-1 1-1-1-1-2-1 2-1 2-1-1-1-1-1 2-1 1-1 2-1-4-1-2-1-3-1 0-1 4-1 2-1-3-1 0-1 2-1-1-1 3-1 3-1-2-1 2-1 1-1-6-1-1-1-1-1-1-1 0-1 1-1-1-1-1-1 3-1-3-1 2-1-7-1 1-1 3-1-3-1 4-1-2-1 0-1 2-1-13-1 0-1-2-1 3-1-2-1 3-1-2-1 2-1 1-1-4-1 1-1 2-1-1-1 2-1-4-1 1-1-1-1 0-1 2-1-1-1 0-1-3-1 5-1 1-1-3-1 3-1-1-1-1-1-1-1-1-1 5-1 0-1-2-1 0-1 1-1 0-1-2-1 4-1 7-1-3-1 1-1 3-1 3-1-3-1-1-1-3-1 3-1-1-1-1-1 0-1-1-1 0-1 0-1 7-1-2-1-2-1 6-1-6-1 1-1 4-1-5-1 6-1 0-1-5-1-6-1 3-1-3-1 0-1 2-1-3-1 0-1 5-1-4-1 2-1-2-1 2-1 0-1-1-1-1-1-3-1 2-1 1-1 0-1-2-1-2-1 0-1 0-1 1-1-1-1 11-1 1-1 1-1-3-1-1-1 3-1-1-1-1-1 2-1-1-1-2-1 3-1-2-1-3-1 4-1 2-1 0-1 1-1 1-1-1-1-1-1 0-1 1-1 2-1-1-1 1-1-2-1 0-1 1-1 2-1 0-1-1-1 3-1-2-1-1-1-2-1 3-1-5-1 0-1 5-1-2-1-1-1 1-1 1-1-5-1 4-1-2-1 3-1-2-1 0-1 1-1 1-1-1-1-3-1 5-1-1-1 2-1-1-1 0-1-3-1-9-1-2-1 3-1 8-1 1-1 2-1-6-1 4-1-1-1 1-1-2-1 4-1 0-1 0-1-1-1-3-1 3-1-3-1 2-1 1-1 0-1 0-1 0-1 16-1 39-1 40-1 14-1 0-1 4-1-11-1 3-1 0-1-1-1 2-1-2-1 1-1-1-1 0-1 1-1-5-1 0-1 2-1-4-1 1-1 4-1-1-1-1-1 0-1 1-1-6-1-8-1-6-1 233z"/>
<path class="lM" d="M0 1522l1-61 1-18 1-11 1-10 1-7 1-6 1 1 1 0 1 2 1-4 1 1 1 4 1-5 1 7 1-1 1-1 1 1 1 1 1 6 1-9 1 2 1 4 1 4 1 5 1-5 1 1 1 0 1 2 1 1 1 2 1 0 1 1 1-4 1-1 1 1 1 0 1 0 1 1 1 1 1 1 1 1 1 0 1 1 1-4 1 0 1 0 1 0 1-4 1 1 1-2 1-1 1 0 1-7 1 5 1 2 1 1 1-1 1-1 1-8 1-4 1-2 1 2 1-6 1-1 1 2 1-3 1 9 1-5 1 0 1 3 1 2 1-6 1-4 1 0 1 0 1-1 1-2 1 5 1 1 1 0 1-2 1 3 1 2 1-1 1-2 1-3 1-2 1 5 1-2 1 3 1 2 1-2 1 1 1-1 1-1 1-1 1-1 1-2 1-1 1 3 1 2 1-2 1-1 1 8 1 1 1-7 1 1 1-5 1-3 1 3 1 0 1-8 1-2 1-5 1 0 1-2 1 4 1-1 1-1 1 1 1-2 1 2 1 0 1 5 1-2 1 3 1 0 1 0 1-4 1 3 1 0 1 4 1-1 1 3 1-2 1-1 1-3 1-6 1 5 1-1 1 2 1 2 1 0 1 2 1 4 1-5 1-1 1 2 1-3 1-3 1 5 1-1 1 1 1 0 1-3 1 3 1 2 1-1 1 12 1-9 1 0 1-2 1-2 1-1 1-8 1 3 1 0 1 0 1-3 1-2 1 5 1-9 1 0 1 1 1 6 1 0 1-4 1 4 1-2 1-3 1-1 1 0 1-2 1 1 1 0 1 0 1 0 1 3 1-2 1-2 1-1 1 2 1 1 1-4 1-3 1 5 1-5 1 5 1 3 1 5 1-4 1 1 1-2 1 5 1 0 1 3 1-1 1-1 1 0 1 1 1-2 1 12 1-4 1-2 1-2 1-3 1 0 1 6 1 1 1-4 1 5 1 1 1-4 1-1 1-1 1-3 1 0 1-4 1 0 1 3 1-3 1-1 1-1 1 4 1-3 1 1 1 3 1-8 1 1 1 6 1-2 1-4 1-1 1 0 1-1 1 3 1-1 1 2 1-3 1 1 1 0 1-5 1 6 1 1 1-1 1 0 1-3 1-1 1 1 1-1 1 0 1-1 1 3 1 1 1-3 1 4 1 0 1-5 1-3 1 3 1 3 1-3 1 5 1-4 1-1 1 2 1-5 1 0 1 4 1 2 1 0 1 4 1-9 1 1 1-1 1-2 1-3 1 1 1 0 1 2 1-4 1 1 1-2 1 6 1-4 1-2 1-1 1-1 1 6 1 3 1 2 1-3 1 2 1-5 1 2 1 5 1-5 1 1 1-2 1 2 1-1 1 7 1 1 1-4 1 1 1 1 1 0 1 3 1-1 1 3 1-2 1 0 1 2 1 4 1-5 1-2 1 4 1-3 1-1 1-3 1 3 1 0 1-5 1 2 1 1 1 2 1-5 1 2 1-5 1 1 1 10 1-5 1 1 1 1 1-6 1 1 1 4 1-1 1 4 1 2 1-3 1 4 1 2 1-2 1-3 1 2 1 0 1-2 1 1 1-3 1 4 1-2 1 0 1-1 1-1 1 2 1 6 1-5 1 4 1 4 1-1 1 0 1 0 1-6 1 0 1 2 1 9 1-5 1-2 1 1 1-3 1-5 1 1 1 5 1 3 1-4 1 5 1-5 1 1 1 2 1-2 1 10 1-2 1 1 1-3 1 1 1-3 1-1 1-6 1-1"/>
</g>
<path fill="#FE00CE" d="M1096.02,105.68l9.15,9.15l9.15,-9.15l-9.15,-9.15l9.15,-9.15l-9.15,-9.15l-9.15,9.15l-9.15,-9.15l-9.15,9.15l9.15,9.15l-9.15,9.15l9.15,9.15ZM1443.38,140.38l9.15,9.15l9.15,-9.15l-9.15,-9.15l9.15,-9.15l-9.15,-9.15l-9.15,9.15l-9.15,-9.15l-9.15,9.15l9.15,9.15l-9.15,9.15l9.15,9.15Z"/>
</g>
</g>
<g id="p_d">
<rect x="1593.09" y="32.44" width="364.8" height="317.35" fill="#E5ECF6"/>
<path d="M1688.73,32.44v317.35M1775.57,32.44v317.35M1862.41,32.44v317.35M1949.25,32.44v317.35M1593.09,270.42h364.8M1593.09,174.1h364.8M1593.09,77.85h364.8" stroke="#fff" stroke-width="1.85" fill="none"/>
<path d="M1601.89,32.44v317.35" stroke="#fff" stroke-width="3.6" fill="none"/>
<g clip-path="url(#cd)">
<g transform="translate(1601.89,463.26) scale(0.8684,-0.24095)">
<path class="bR" d="M0 1284l1-141 1 46 1 34 1 26 1 23 1 18 1 16 1 9 1 11 1 6 1 7 1 6 1 4 1 6 1 3 1 3 1 6 1 4 1 5 1 3 1 2 1 6 1 0 1 0 1 4 1 3 1 2 1 1 1 2 1 3 1 3 1 3 1-1 1 1 1 3 1 4 1-1 1 0 1 1 1 2 1 2 1 2 1 2 1 2 1 1 1 0 1 1 1 2 1 2 1 0 1 5 1 0 1-3 1 3 1 0 1 0 1 3 1 6 1 1 1 2 1-1 1 1 1 1 1 2 1 1 1 0 1 1 1-3 1 1 1 4 1 1 1 0 1 0 1 3 1 2 1-2 1 2 1 3 1-2 1-1 1-1 1 2 1 0 1 2 1-1 1 1 1 1 1 1 1-2 1 2 1 2 1 2 1-4 1-1 1 2 1 1 1 0 1 1 1 1 1 1 1 0 1 2 1 1 1 0 1-1 1 1 1 3 1 0 1 0 1-1 1 1 1-3 1 1 1 0 1 2 1-1 1 1 1 0 1 1 1 0 1 2 1 0 1 0 1 3 1 1 1 0 1 0 1 2 1-1 1-3 1 1 1 1 1 2 1 0 1 2 1 1 1 1 1 1 1 0 1 1 1 0 1-1 1-1 1-1 1 4 1 4 1-4 1 4 1 0 1-3 1-2 1 4 1-2 1 0 1 0 1-1 1 1 1 0 1 2 1-1 1 0 1-1 1 3 1 1 1 1 1 0 1 0 1-1 1 2 1 2 1-3 1-3 1 0 1-1 1 1 1 3 1 1 1-2 1 1 1-2 1 5 1 1 1 1 1 0 1 1 1-2 1 0 1 2 1 0 1 5 1-4 1 2 1-1 1 0 1-2 1 3 1 0 1 1 1-3 1 3 1-1 1 3 1-2 1 2 1 1 1-1 1-2 1 8 1 0 1 0 1 1 1 5 1 2 1-1 1-1 1 0 1-2 1-1 1 3 1-3 1 1 1-1 1-2 1 0 1 1 1 0 1 0 1-1 1 0 1 0 1 0 1 0 1 1 1-1 1 0 1-2 1 1 1-1 1-1 1 1 1 0 1 0 1-3 1 1 1 1 1 0 1 0 1-2 1-1 1-1 1 2 1-1 1 0 1 1 1-2 1 1 1 1 1-9 1 1 1-2 1 1 1-1 1 0 1 1 1 2 1-2 1 3 1 0 1 0 1 0 1 2 1-1 1-1 1 3 1-4 1 2 1 0 1 2 1-1 1-2 1 2 1 2 1 0 1 0 1-1 1 0 1 3 1 0 1-2 1-2 1-3 1 2 1 3 1-5 1 1 1 0 1 1 1 2 1 1 1-1 1-1 1 1 1-1 1-3 1 1 1 1 1 0 1-3 1-1 1 1 1 0 1 0 1-1 1 5 1-1 1-1 1 2 1-2 1 1 1 0 1-1 1 4 1 1 1 2 1 0 1-4 1-3 1-3 1 0 1-1 1-6 1 2 1-4 1-1 1 4 1-1 1-1 1 1 1 2 1-1 1 1 1 0 1 1 1 0 1 2 1-2 1 1 1 2 1-1 1 1 1 0 1 2 1 1 1 2 1-1 1 0 1 0 1 1 1-1 1-1 1 0 1-1 1 3 1 2 1-2 1 2 1 1 1 0 1-3 1 0 1 0 1 4 1-2 1-1 1 1 1-1 1-2 1 0 1 1 1 0 1 0 1 2 1-1 1 0 1 2 1 1 1-2 1 2 1 0 1-2 1 1 1-3 1-1 1 2 1 0 1 1 1 0 1 3 1-2 1 1 0-57-1 0-1 1-1-3-1 2-1-3-1 2-1-2-1 1-1-2-1 0-1 1-1 1-1 1-1-2-1 2-1 1-1-1-1 1-1 1-1-2-1 2-1-2-1 3-1-3-1 0-1-2-1 2-1 2-1 0-1 2-1-1-1 0-1 0-1 0-1-3-1 4-1 2-1-4-1-1-1 4-1-5-1-2-1-2-1-1-1 2-1 0-1-2-1 1-1 0-1 0-1 1-1 0-1-1-1 1-1-1-1 0-1-1-1-2-1-1-1 2-1-5-1 7-1 3-1 1-1 0-1 0-1-2-1-1-1-2-1 0-1 2-1 0-1 1-1-2-1-1-1-1-1 1-1 1-1 3-1-1-1-1-1-1-1 3-1-2-1-1-1 3-1 0-1 0-1 1-1-1-1 2-1-2-1 2-1 0-1-1-1 1-1-1-1 2-1-1-1 0-1-1-1-3-1-1-1 1-1 3-1-2-1 0-1 0-1 0-1 0-1-1-1 2-1 1-1-2-1 3-1 1-1 1-1-1-1-2-1 0-1 2-1 0-1-1-1 1-1-3-1-2-1-3-1 1-1-1-1 0-1-2-1-1-1 3-1 0-1-1-1-3-1 2-1 7-1-1-1-5-1 2-1 3-1-1-1 0-1 2-1 1-1-1-1 0-1-2-1 0-1 1-1 0-1-2-1 2-1 0-1 2-1-1-1-2-1 2-1-2-1 1-1 0-1-1-1 0-1 0-1 0-1-2-1 0-1 4-1 0-1-1-1-3-1-1-1 3-1 2-1-1-1 1-1-4-1 1-1 0-1 1-1-1-1 0-1 2-1 0-1 1-1-4-1 0-1 3-1-2-1 1-1 1-1-1-1-1-1-2-1-1-1-2-1 1-1-1-1 1-1-1-1-1-1 0-1-1-1 0-1 0-1-2-1-2-1 3-1 0-1-2-1-1-1 1-1-1-1 0-1-4-1 2-1 1-1-2-1-4-1 0-1-1-1 6-1-3-1 1-1 1-1-3-1 2-1-2-1 3-1 0-1-2-1 1-1 2-1-1-1-1-1-1-1-1-1 1-1 0-1-2-1-1-1-1-1-1-1 0-1 3-1-1-1 2-1-2-1 0-1 0-1 1-1-2-1-1-1 1-1 1-1 0-1-2-1-5-1 2-1-1-1 5-1-1-1 1-1-2-1-3-1 2-1-2-1-2-1-1-1 1-1 0-1-1-1-1-1-2-1 1-1-1-1-1-1 4-1-1-1 0-1-3-1 0-1-1-1 0-1 0-1 1-1-4-1-1-1 1-1-1-1 1-1 2-1-4-1 0-1 1-1-1-1-4-1 1-1-1-1-2-1 0-1-1-1 0-1-1-1 1-1-3-1 2-1 0-1-1-1-2-1-1-1 1-1-5-1 0-1 1-1-3-1 2-1-2-1 0-1 0-1-4-1 0-1-1-1 0-1-2-1-1-1 1-1-3-1 7-1-5-1-2-1 0-1 1-1-1-1 0-1 1-1-2-1 2-1-3-1 1-1-2-1-2-1 0-1-5-1 0-1-2-1 2-1-1-1-1-1-5-1-2-1-2-1-1-1-3-1-2-1-1-1-5-1 0-1-5-1-4-1-1-1 0-1-2-1-2-1 1-1-2-1 2-1-7-1 0-1-1-1-3-1 0-1 0-1-4-1-3-1 0-1 1-1-4-1-4-1 2-1-3-1-1-1-3-1 0-1-5-1-2-1-6-1-5-1-8-1-4-1-7-1-9-1-13-1-16-1-20-1-23-1-30-1-41-1 165z"/>
<path class="lR" d="M0 1284l1-153 1 43 1 32 1 26 1 20 1 17 1 13 1 10 1 10 1 5 1 7 1 5 1 4 1 4 1 6 1 0 1 4 1 4 1 3 1 4 1 3 1 4 1 1 1 2 1 3 1 2 1 0 1 1 1 1 1 3 1 1 1 6 1-2 1 1 1 2 1 1 1 1 1 1 1 3 1 2 1 3 1 0 1 3 1 2 1 2 1 1 1 2 1 0 1 3 1-1 1 3 1 0 1 0 1 3 1 0 1 1 1 2 1 2 1 1 1 3 1 1 1 1 1 0 1 0 1 1 1-1 1 1 1-2 1 2 1 3 1 0 1 3 1 2 1 0 1 2 1-1 1 1 1 1 1-2 1 1 1 2 1-2 1 0 1 1 1-1 1 1 1-1 1 3 1 0 1 5 1-1 1 3 1-1 1-1 1 0 1 0 1 0 1 1 1 1 1 0 1 2 1 1 1 2 1 0 1-1 1 1 1 2 1 0 1 1 1 0 1 0 1-2 1 3 1-2 1 1 1 1 1 0 1 0 1 2 1-2 1 2 1-1 1 1 1 2 1 0 1 2 1-1 1 1 1 0 1 0 1 2 1 0 1 0 1 0 1 3 1 1 1 0 1 1 1-1 1 1 1 0 1-1 1 1 1 0 1 1 1 0 1-1 1 2 1 0 1-2 1 0 1 2 1-2 1 1 1-1 1 1 1 1 1-1 1 3 1 0 1 1 1 1 1 0 1 1 1 2 1 2 1-2 1-1 1 2 1 1 1-3 1-1 1 0 1 0 1 1 1 0 1 1 1-2 1 1 1 1 1 2 1 2 1 1 1-1 1 2 1-1 1-1 1 1 1 0 1 1 1 0 1-1 1 0 1 0 1-1 1 3 1-2 1 0 1 0 1 2 1-1 1 1 1-2 1 3 1-2 1 3 1 0 1 1 1-1 1 1 1 2 1-1 1 1 1-1 1-1 1 1 1-2 1 0 1 1 1-1 1 1 1-2 1 2 1-2 1 1 1-1 1-1 1 0 1 1 1 1 1 0 1-2 1 0 1 1 1-2 1 2 1 0 1 1 1 0 1 0 1 1 1-1 1 0 1 1 1 1 1-1 1-1 1-2 1 2 1 0 1 0 1 2 1 1 1 0 1-3 1 2 1 0 1 0 1-1 1 0 1 1 1-2 1 1 1-1 1 1 1-2 1 1 1-3 1 4 1 0 1 1 1-1 1 0 1 2 1-2 1 2 1-1 1 0 1 1 1 0 1 0 1 1 1 1 1-1 1 1 1 0 1 0 1 1 1-2 1 2 1-1 1 2 1 0 1-3 1 3 1-1 1-1 1 1 1 0 1 0 1 0 1-1 1 0 1 0 1 0 1 1 1-1 1-1 1-2 1 0 1 2 1-1 1-1 1 0 1-2 1 0 1 0 1-1 1 1 1 1 1 0 1 0 1-1 1 0 1 0 1 1 1-2 1 1 1 1 1-2 1 0 1 2 1-2 1 2 1 0 1-1 1-1 1-2 1 3 1 0 1-1 1 3 1-1 1-1 1 2 1 0 1-1 1 2 1 0 1-1 1-1 1 0 1 0 1 3 1-1 1 0 1 2 1-1 1 1 1 0 1-2 1 1 1 1 1-1 1 0 1 1 1 1 1-2 1 0 1 0 1 1 1 1 1-2 1-2 1 1 1 2 1 1 1 0 1 0 1 0 1-1 1 1 1-1 1 0 1-2 1 1 1-1 1 0 1 1 1-2 1 0 1 3 1-2 1 2 1-1 1 1 1-1 1 2 1 0 1 1"/>
</g>
<path fill="#FD3216" d="M1601.89,163.03l9.15,9.15l9.15,-9.15l-9.15,-9.15l9.15,-9.15l-9.15,-9.15l-9.15,9.15l-9.15,-9.15l-9.15,9.15l9.15,9.15l-9.15,9.15l9.15,9.15ZM1949.25,114.84l9.15,9.15l9.15,-9.15l-9.15,-9.15l9.15,-9.15l-9.15,-9.15l-9.15,9.15l-9.15,-9.15l-9.15,9.15l9.15,9.15l-9.15,9.15l9.15,9.15Z"/>
<g transform="translate(1601.89,463.26) scale(0.8684,-0.24095)">
<path class="bG" d="M0 1284l1-430 1 147 1 75 1 28 1 16 1 15 1 14 1 16 1 10 1 11 1 9 1 8 1 5 1 6 1 5 1 5 1 5 1 6 1 5 1 2 1 2 1 3 1 5 1 3 1 3 1 5 1 2 1 6 1 0 1 2 1 3 1 0 1 2 1 2 1 3 1-1 1 0 1 4 1-3 1-1 1 1 1 3 1 3 1-3 1 0 1 5 1 2 1-2 1 1 1 1 1 1 1 0 1 1 1 2 1 2 1 3 1 1 1 3 1 1 1-1 1 2 1 3 1 2 1 1 1 4 1-1 1 6 1 2 1 0 1 4 1 4 1 2 1 5 1 2 1 3 1 2 1 1 1 2 1 2 1-1 1 1 1-1 1 3 1 0 1-2 1 1 1 3 1 0 1 1 1 2 1 0 1 2 1 0 1 1 1-1 1 0 1 0 1 1 1 1 1 1 1 1 1 1 1-1 1 3 1 1 1-3 1 1 1 0 1 1 1 1 1 0 1 4 1 0 1-5 1-1 1 2 1-1 1 1 1 0 1 1 1 2 1 0 1 0 1 0 1 1 1 4 1-2 1 2 1 4 1 1 1-1 1 1 1 0 1 0 1 2 1 0 1 1 1 0 1-3 1 2 1 0 1 1 1 1 1-1 1-1 1-2 1 4 1-4 1 1 1 3 1-3 1 2 1 5 1-1 1 2 1 0 1-1 1 0 1 2 1 0 1 6 1 3 1-1 1-4 1 0 1 1 1 0 1-4 1 1 1 0 1 3 1-2 1 1 1-2 1-2 1 0 1 0 1 3 1 2 1-1 1-1 1 1 1 2 1 0 1 1 1 0 1-1 1 0 1 1 1 1 1-1 1 3 1 1 1-2 1-1 1 0 1 3 1-1 1 1 1-1 1 2 1 0 1-1 1 8 1 1 1-1 1-2 1-1 1 3 1-1 1 1 1-2 1-1 1 2 1 1 1 7 1 0 1 0 1 1 1 0 1 0 1 0 1-4 1 1 1 1 1-7 1 3 1 1 1 0 1-1 1-1 1-2 1-3 1 6 1-4 1 2 1-1 1 0 1 2 1-1 1-1 1-5 1 2 1 0 1 3 1 1 1-1 1 1 1 2 1 0 1-1 1 1 1 1 1 0 1-3 1 5 1-3 1 3 1-3 1 0 1 2 1 1 1 3 1-1 1-2 1-1 1-2 1 3 1 0 1 0 1 1 1-6 1 0 1 1 1 0 1 1 1 2 1 3 1-1 1 0 1-1 1-1 1 1 1-1 1-3 1 2 1 0 1 0 1 2 1-3 1 2 1 0 1 2 1 1 1 3 1 0 1 1 1-2 1 0 1 2 1 4 1-2 1 1 1 0 1-1 1 0 1 2 1 2 1 1 1-2 1 4 1 0 1 0 1 0 1 0 1 6 1 1 1-1 1-2 1 3 1 3 1-3 1 2 1 0 1 2 1-1 1 2 1-3 1 0 1 0 1 0 1 1 1-2 1 1 1-1 1-1 1 1 1-1 1-5 1 1 1 1 1 0 1 1 1 0 1 0 1 0 1 1 1-3 1 2 1-3 1 0 1 0 1 3 1 0 1-1 1 0 1 4 1-2 1-1 1-3 1-2 1 2 1 0 1 0 1 2 1-3 1 1 1 0 1 1 1-3 1 5 1-1 1-1 1 0 1-1 1-2 1 3 1 0 1-1 1 1 1 0 1-3 1 1 1 1 1 0 1 1 1 1 1 3 1-1 1 0 1 0 1 0 1 0 1 3 1 0 1 1 1 0 1-2 1 2 1 1 0-69-1-2-1 2-1-1-1 0-1 1-1 4-1-4-1-1-1 2-1 0-1 0-1-2-1 1-1 1-1 0-1-2-1-2-1-1-1 2-1 1-1-3-1-6-1 0-1 2-1-1-1 5-1 1-1-4-1 2-1-1-1 1-1 1-1-1-1-1-1 0-1-5-1 2-1 2-1-3-1 3-1-2-1 5-1-1-1 3-1 0-1-1-1 0-1-1-1 4-1-3-1 3-1 0-1-1-1-1-1-1-1 0-1 2-1-2-1 2-1-1-1-1-1-2-1 1-1 1-1-1-1 2-1 0-1 2-1 0-1-4-1 3-1 0-1 2-1-2-1-1-1-1-1 0-1 0-1 3-1-4-1-1-1 2-1-5-1 1-1-3-1 0-1 0-1 1-1 0-1-3-1-1-1 1-1-1-1 0-1 2-1-2-1 0-1-1-1 1-1-2-1 2-1 0-1 0-1-1-1-1-1-1-1-2-1 0-1-2-1 1-1 4-1-1-1 1-1-9-1 2-1 1-1-2-1-1-1 1-1 0-1 1-1 1-1-3-1-3-1-1-1-2-1 5-1 1-1-2-1-3-1 2-1 1-1 0-1 1-1-2-1 1-1-2-1 0-1-1-1-2-1 4-1-2-1 1-1 0-1-4-1 3-1-1-1 2-1-2-1-1-1-1-1 1-1 1-1-4-1 1-1 0-1 4-1 1-1 1-1-1-1 1-1-2-1 1-1 0-1-1-1 4-1-4-1-2-1 1-1 0-1-1-1-2-1 3-1-4-1 3-1-1-1-3-1 0-1 1-1-1-1-2-1 0-1-1-1-1-1 0-1-2-1 2-1 0-1-2-1-1-1-2-1 1-1-3-1 6-1 1-1-2-1 0-1 1-1-2-1-1-1 5-1-3-1 1-1-1-1 2-1-1-1-1-1-4-1-1-1 0-1 2-1-1-1-1-1 0-1 4-1-5-1 3-1-4-1 2-1 4-1 2-1-2-1-1-1 0-1 0-1 2-1 0-1-4-1-3-1-3-1 1-1 0-1 3-1-5-1 2-1 1-1 2-1-1-1-3-1 2-1-1-1-2-1 2-1 0-1-1-1-3-1 1-1 0-1-1-1 0-1 0-1 2-1-2-1-2-1 2-1-1-1 1-1-1-1 0-1-2-1 1-1 0-1-2-1 0-1-1-1 2-1-3-1 1-1 0-1 1-1-3-1 2-1-2-1-3-1 1-1-2-1-1-1-1-1-1-1 2-1-4-1 0-1-1-1-1-1 0-1-1-1 0-1 1-1 0-1-3-1 4-1-3-1-1-1 1-1 0-1-1-1-1-1-1-1 0-1 1-1-2-1-2-1-1-1 1-1-4-1 0-1 0-1 0-1 0-1-2-1-2-1 0-1-3-1 2-1 1-1-2-1 2-1-1-1-3-1-1-1 1-1-3-1-1-1-1-1 2-1-4-1-3-1 2-1-2-1-6-1-2-1-2-1-5-1-2-1 3-1-3-1 0-1-2-1-1-1-2-1-3-1-2-1-4-1-1-1 0-1-1-1-1-1-4-1 1-1-4-1 0-1 1-1-1-1-1-1-2-1 0-1 2-1 0-1-1-1-3-1-1-1 1-1-2-1-1-1 0-1-3-1 3-1-4-1-1-1-2-1-2-1-2-1-2-1-5-1-3-1-4-1-4-1-3-1-1-1-3-1-2-1-3-1-5-1-2-1-3-1-5-1-4-1-9-1-6-1-12-1-8-1-9-1-12-1-11-1-12-1-14-1-25-1-73-1-141-1 454z"/>
<path class="lG" d="M0 1284l1-442 1 145 1 75 1 26 1 15 1 15 1 15 1 12 1 10 1 9 1 10 1 6 1 6 1 5 1 6 1 5 1 1 1 7 1 5 1 2 1 2 1 3 1 3 1 3 1 4 1 5 1 4 1 3 1 3 1 1 1 3 1 1 1 3 1 1 1 2 1 1 1-1 1 3 1 0 1 1 1 1 1 2 1 2 1-2 1 1 1-1 1 3 1-2 1 2 1-1 1 3 1 0 1 1 1 1 1 1 1 2 1 3 1 3 1 0 1 4 1 2 1 1 1 3 1 2 1 2 1 2 1 3 1 2 1 1 1 2 1 2 1 2 1 0 1 4 1 1 1 2 1 1 1 1 1 2 1 1 1-1 1 0 1 4 1-1 1 1 1 0 1 1 1 0 1 1 1 1 1 2 1 1 1 1 1 1 1 0 1 2 1-1 1 2 1 1 1 0 1 0 1 1 1-1 1 2 1 0 1 0 1 1 1 0 1 1 1 1 1 1 1 4 1-1 1 0 1 0 1 0 1-1 1 0 1 1 1 0 1 3 1 0 1-1 1 1 1 1 1-1 1 1 1 3 1 0 1 4 1 0 1 0 1 0 1 1 1 0 1 0 1 0 1 3 1-1 1 0 1 0 1 0 1 0 1 0 1-1 1-2 1 3 1-1 1-1 1 1 1 0 1-1 1 1 1 0 1-1 1 3 1-2 1 1 1 2 1 0 1 1 1 0 1 0 1-1 1 0 1-1 1 1 1 1 1 0 1-2 1 2 1 1 1 3 1-4 1 0 1 2 1 1 1-1 1 2 1 0 1 0 1 1 1 2 1-1 1 0 1 0 1-1 1 1 1 0 1-1 1 1 1 1 1 2 1-1 1 0 1 0 1 1 1 1 1-1 1 0 1 2 1 2 1 0 1 0 1 1 1 0 1-2 1 0 1 0 1 0 1 2 1-1 1 1 1 1 1 1 1-1 1 0 1 0 1 1 1 2 1 0 1-1 1 1 1 0 1 1 1-2 1 3 1-1 1 1 1 1 1 0 1-1 1 0 1 3 1-1 1 2 1 0 1 0 1 0 1 1 1 1 1-1 1 1 1-1 1 0 1 0 1 2 1 0 1 0 1 0 1 1 1 0 1-1 1 0 1-2 1 3 1 0 1 0 1-1 1-2 1 2 1 1 1 2 1 1 1 0 1-1 1-1 1-1 1 0 1 0 1 1 1 0 1-1 1 1 1 0 1 1 1 0 1 2 1-1 1-1 1 0 1-1 1 1 1 0 1-2 1 0 1 0 1 1 1 1 1-3 1 2 1 0 1 1 1 0 1 1 1 0 1 4 1-1 1 1 1-1 1 1 1 0 1 1 1 0 1 0 1 0 1 1 1 2 1 0 1 2 1 2 1-1 1 0 1-1 1 3 1 1 1-2 1 0 1-1 1 0 1 4 1 2 1-1 1 3 1-1 1 2 1 0 1-3 1 0 1 0 1 0 1-1 1-2 1 2 1-1 1 0 1 1 1 0 1 1 1 0 1 0 1 0 1 0 1 0 1 1 1-1 1 2 1-1 1 1 1-2 1 1 1 0 1 0 1-2 1 0 1-1 1 2 1 0 1 0 1-1 1-2 1 1 1 0 1-2 1 3 1-3 1 1 1 2 1 0 1-1 1 1 1-1 1 1 1 1 1-2 1 0 1 0 1 1 1-1 1 1 1 0 1-3 1 1 1 1 1 1 1-1 1 0 1 0 1 0 1 0 1 1 1 0 1-1 1 4 1 0 1 1 1 0 1-1 1 0 1 0"/>
</g>
<path fill="#00FE35" d="M1601.89,163.03l9.15,9.15l9.15,-9.15l-9.15,-9.15l9.15,-9.15l-9.15,-9.15l-9.15,9.15l-9.15,-9.15l-9.15,9.15l9.15,9.15l-9.15,9.15l9.15,9.15ZM1949.25,132.19l9.15,9.15l9.15,-9.15l-9.15,-9.15l9.15,-9.15l-9.15,-9.15l-9.15,9.15l-9.15,-9.15l-9.15,9.15l9.15,9.15l-9.15,9.15l9.15,9.15Z"/>
<g transform="translate(1601.89,463.26) scale(0.8684,-0.24095)">
<path class="bB" d="M0 1284l1-146 1 46 1 33 1 27 1 21 1 17 1 15 1 10 1 11 1 1 1 7 1 9 1 7 1 0 1 8 1 0 1 3 1 3 1 2 1 4 1 1 1 4 1 2 1 1 1 2 1 2 1 5 1 1 1 1 1 3 1 0 1 0 1 2 1 3 1 4 1 1 1-1 1 4 1 2 1 1 1 2 1 2 1 1 1-3 1 3 1 3 1-2 1 2 1 1 1 0 1 1 1 5 1 3 1-4 1 4 1 0 1-2 1 3 1 1 1 2 1-2 1 2 1 1 1 1 1-4 1 3 1 0 1 3 1-1 1 0 1-1 1 4 1 1 1 3 1 0 1 0 1 2 1 0 1 1 1 0 1 1 1 3 1-1 1 2 1-3 1 0 1 2 1 2 1 0 1 1 1 3 1 1 1 0 1-1 1 0 1 1 1 0 1 0 1 0 1 0 1 1 1 0 1 1 1 0 1 1 1 4 1-2 1 0 1 4 1 0 1 3 1-1 1 2 1-1 1-4 1 3 1 0 1 2 1-1 1 1 1 0 1 3 1 3 1 0 1 0 1 1 1-3 1 0 1-1 1 7 1 1 1-3 1 5 1 0 1 1 1 2 1 1 1-2 1-1 1 2 1 0 1 3 1 1 1 1 1-1 1 0 1-2 1-2 1 1 1 2 1 3 1 1 1-1 1 0 1-1 1-1 1 2 1 1 1 1 1-5 1 1 1-2 1 1 1 0 1-2 1-1 1-1 1 0 1-1 1 2 1-2 1 1 1 1 1-1 1 1 1 0 1 0 1-2 1 0 1 1 1 1 1-6 1 2 1 0 1-2 1-1 1 2 1 0 1 1 1 1 1 0 1 0 1 2 1 3 1 1 1 1 1-4 1 1 1 0 1 3 1 0 1-1 1-2 1 1 1 0 1 3 1-1 1 3 1-1 1-2 1 0 1 1 1 1 1-1 1 0 1-1 1 1 1-1 1-1 1 3 1-1 1 1 1 1 1 1 1 2 1-3 1 3 1-2 1 2 1 1 1 0 1-1 1-1 1 0 1-1 1 2 1 1 1 2 1 0 1 1 1-3 1 1 1 0 1-1 1 2 1 1 1 1 1 0 1-7 1 0 1 1 1 1 1-5 1-1 1 1 1 1 1-3 1 1 1 1 1-2 1 2 1 5 1-1 1 2 1 1 1 0 1-1 1-1 1 1 1 2 1-1 1 0 1 2 1-1 1 3 1 3 1-1 1-2 1 2 1-2 1 0 1 0 1 1 1 0 1 1 1-1 1-1 1 3 1-1 1 0 1 2 1 0 1 0 1-1 1 2 1-1 1 1 1 0 1-3 1 0 1 1 1-2 1 5 1-1 1 2 1 0 1 1 1-1 1-1 1 2 1-1 1 0 1 0 1-2 1 0 1 2 1-1 1-3 1 5 1-7 1 2 1 0 1 0 1 0 1 0 1 1 1-2 1 1 1 1 1 1 1-4 1 2 1 0 1-1 1 1 1 1 1 2 1-1 1 0 1 0 1 0 1 1 1-2 1 3 1-2 1 0 1-1 1 3 1-3 1 1 1-1 1-1 1-1 1 1 1 2 1 3 1-1 1 4 1 0 1-1 1 2 1 0 1-2 1-1 1-1 1 0 1 3 1 0 1-2 1-1 1-2 1 1 1-4 1 2 1 0 1 1 1-1 1 0 1 2 1-4 1 0 1-1 1 0 1 2 1 1 1-2 1-1 1-1 1 2 1-1 1-2 1 3 1-2 1 3 1 0 1-1 1 0 1-1 1-1 1 2 0-83-1 2-1-2-1 1-1-1-1 1-1 0-1 1-1-2-1 2-1 0-1 0-1-1-1-1-1-1-1 1-1 1-1 0-1 0-1-1-1 0-1-2-1 0-1 2-1-4-1 1-1 0-1-1-1 0-1 1-1 0-1 2-1-1-1 3-1 4-1-1-1-2-1-1-1 2-1 1-1-1-1-2-1 6-1-3-1 0-1 4-1-3-1-1-1 2-1 0-1 2-1 0-1-2-1-1-1 0-1 1-1-1-1 1-1 0-1 3-1 0-1-3-1 1-1 0-1 2-1 0-1-3-1-1-1 2-1 0-1 2-1-2-1 3-1-4-1 1-1 2-1-1-1-1-1-1-1 0-1 2-1 2-1 1-1-2-1 1-1 1-1-1-1 2-1 1-1 0-1-1-1 1-1 0-1 1-1-2-1 1-1-1-1 1-1 2-1 0-1-1-1-2-1-1-1 1-1-1-1 2-1 0-1 1-1-1-1 0-1 0-1 1-1-1-1-1-1-2-1 1-1 1-1 0-1-1-1-1-1 1-1 1-1 1-1 0-1-3-1 0-1 1-1 1-1-2-1 2-1 0-1-2-1 0-1 0-1-1-1 0-1-4-1-1-1 2-1 0-1 1-1 1-1 1-1-2-1-2-1 0-1-1-1 0-1 0-1 1-1 0-1 0-1 0-1 0-1-3-1 0-1-2-1 3-1 2-1 2-1-1-1 1-1-2-1-2-1-1-1 1-1-1-1 1-1 2-1 0-1 1-1 1-1-4-1 4-1 2-1-1-1-1-1-2-1 2-1 1-1-1-1 1-1-1-1 3-1-4-1-1-1-2-1-1-1 3-1-1-1 0-1 0-1 1-1 0-1 2-1 0-1 0-1 0-1 1-1-2-1 2-1-4-1-1-1 3-1 1-1 0-1-2-1 2-1-1-1-1-1-1-1 1-1-6-1 2-1-3-1 1-1 1-1-1-1-1-1 1-1-1-1 2-1-1-1 1-1 0-1 0-1-1-1 0-1 3-1-1-1-8-1-3-1 0-1 3-1 1-1-7-1-2-1 1-1 0-1 1-1 4-1 1-1-4-1 1-1-2-1 0-1 2-1 0-1 1-1-1-1-3-1 1-1-2-1 2-1 0-1 1-1 1-1-2-1 0-1-1-1 3-1 0-1-1-1 0-1-1-1-1-1 2-1 1-1-2-1-1-1 0-1 1-1-1-1-7-1 1-1 1-1 0-1-2-1-2-1 0-1 0-1-1-1-1-1 0-1-1-1 1-1 1-1-2-1-2-1 1-1 0-1 0-1-1-1 0-1-3-1-1-1-2-1-2-1-1-1 0-1 0-1 2-1 0-1 1-1-1-1 1-1-2-1 1-1-3-1-2-1-2-1-1-1-3-1-1-1 1-1-2-1-1-1 1-1 5-1-1-1-1-1 0-1-1-1-3-1 0-1-1-1 0-1-1-1-2-1 1-1-3-1 3-1-2-1 1-1-2-1-2-1 0-1-2-1 0-1-3-1 2-1-3-1-1-1-1-1-1-1 0-1 1-1 0-1-9-1-1-1-2-1 3-1-2-1-3-1-2-1 0-1 1-1-2-1-4-1-1-1 0-1-2-1 1-1-3-1-1-1-4-1-3-1-2-1-3-1 2-1-2-1-1-1-1-1-2-1-1-1 0-1 0-1-1-1-3-1-2-1-3-1-2-1-1-1-4-1 1-1-6-1-2-1-1-1-5-1-4-1-5-1-6-1-7-1-11-1-11-1-15-1-18-1-23-1-29-1-38-1 178z"/>
<path class="lB" d="M0 1284l1-158 1 43 1 32 1 25 1 20 1 17 1 13 1 11 1 10 1 9 1 6 1 4 1 5 1 1 1 2 1 7 1 1 1 2 1 4 1 2 1 4 1 3 1 0 1 3 1 1 1 2 1 0 1 2 1 2 1 2 1 0 1 1 1 3 1 2 1 1 1 2 1 1 1 4 1 2 1 0 1 1 1-1 1 3 1 3 1-1 1 2 1 1 1 2 1 0 1-1 1 4 1 1 1 2 1 2 1 1 1 0 1-1 1 3 1-1 1 1 1-1 1 2 1 2 1 0 1 1 1 3 1 0 1 0 1 2 1-1 1 0 1 2 1 0 1 0 1 3 1 1 1 2 1 0 1 0 1-2 1 2 1 2 1 0 1-2 1 1 1-1 1 0 1 1 1 2 1 2 1 1 1 1 1 2 1-1 1 1 1 1 1 0 1-2 1 1 1 0 1 1 1 1 1 1 1 0 1 4 1 1 1-2 1 2 1 1 1-2 1 1 1 0 1 1 1 2 1-2 1 1 1 1 1-1 1 2 1 1 1 0 1 1 1 2 1-1 1 1 1 1 1 0 1-1 1 0 1 2 1 1 1 1 1 2 1 2 1 1 1 0 1-2 1 0 1 0 1 1 1 0 1 0 1-2 1 4 1-3 1 2 1-1 1-1 1 0 1 2 1 1 1 1 1 0 1 0 1-2 1 1 1-1 1 2 1 2 1 0 1 0 1-3 1 1 1 0 1 0 1 1 1-1 1 0 1 1 1 0 1 0 1 1 1 1 1 2 1-3 1 2 1 1 1-2 1 0 1 0 1 1 1 0 1 1 1 1 1 0 1-3 1 3 1 0 1 0 1 3 1 1 1-1 1 1 1 1 1 1 1 2 1-3 1-2 1-1 1 3 1-2 1 3 1-2 1 0 1 1 1 1 1-2 1 1 1-1 1 1 1 0 1 1 1 0 1 0 1 1 1 1 1 2 1-2 1 0 1-1 1 1 1-1 1 0 1 1 1 2 1-1 1 0 1-3 1 1 1 1 1 0 1-1 1-1 1 0 1 0 1 1 1 2 1 1 1-1 1 0 1-1 1 1 1-1 1 0 1 1 1-1 1 3 1-1 1 2 1-1 1-2 1 1 1 2 1-1 1 0 1-1 1 1 1-1 1 1 1 0 1 2 1-1 1-1 1 2 1-2 1 1 1 1 1 0 1 1 1 2 1-1 1-2 1 1 1 1 1 0 1 1 1 1 1-2 1 1 1-1 1 1 1 0 1 1 1 2 1-1 1-2 1 0 1 2 1 0 1-1 1 0 1 0 1 0 1-2 1 2 1-1 1 1 1 0 1-1 1-1 1 1 1-1 1 1 1 0 1 1 1-1 1 1 1 0 1 0 1-1 1-1 1 2 1-2 1-1 1 2 1 1 1-2 1 0 1 1 1-3 1 1 1-1 1 0 1 0 1 1 1-3 1 0 1 3 1-1 1 2 1-3 1 1 1 0 1 0 1 0 1 0 1-2 1 1 1 0 1 2 1-1 1-1 1 1 1-1 1 0 1-1 1-1 1 1 1 1 1-1 1-1 1 0 1-1 1 2 1 2 1-3 1 0 1 1 1 0 1 2 1 0 1 0 1-1 1 0 1 0 1 1 1 2 1-4 1 2 1-2 1-2 1 0 1-2 1 2 1-2 1 3 1-1 1-1 1 1 1 0 1 0 1 1 1-2 1 0 1 2 1-1 1 0 1 1 1 0 1-2 1 0 1 0 1 0 1 1 1 0 1 0 1 0 1-1 1-1 1 1"/>
</g>
<path fill="#6A76FC" d="M1601.89,163.03l9.15,9.15l9.15,-9.15l-9.15,-9.15l9.15,-9.15l-9.15,-9.15l-9.15,9.15l-9.15,-9.15l-9.15,9.15l9.15,9.15l-9.15,9.15l9.15,9.15ZM1949.25,120.14l9.15,9.15l9.15,-9.15l-9.15,-9.15l9.15,-9.15l-9.15,-9.15l-9.15,9.15l-9.15,-9.15l-9.15,9.15l9.15,9.15l-9.15,9.15l9.15,9.15Z"/>
<g transform="translate(1601.89,463.26) scale(0.8684,-0.24095)">
<path class="bM" d="M0 1284l1 139 1 36 1 19 1 7 1 6 1 1 1 3 1 3 1 4 1 2 1 2 1 0 1 2 1 3 1 3 1 0 1 0 1 5 1 2 1 3 1-2 1 3 1 0 1 7 1 0 1 2 1-1 1 0 1 2 1 2 1-2 1 1 1 2 1 2 1 1 1-1 1 0 1 1 1 2 1-1 1-1 1 1 1-1 1 1 1-1 1 3 1 0 1-5 1 5 1 0 1 0 1-2 1 2 1-4 1 1 1-2 1 4 1-4 1 1 1 2 1 0 1 0 1 1 1-1 1-1 1 2 1-1 1-1 1 2 1-1 1 1 1-1 1 2 1 1 1 3 1-3 1 2 1-2 1 0 1 1 1-5 1 0 1 1 1 0 1 0 1 0 1 0 1 0 1 4 1 0 1 1 1 2 1-1 1 0 1 0 1 1 1-1 1-1 1-1 1 1 1-2 1 3 1 0 1 0 1-4 1 1 1 2 1 0 1 0 1 0 1 2 1-2 1-1 1 0 1-2 1 2 1 0 1 0 1 0 1 0 1-1 1 0 1 1 1 1 1-6 1 8 1 1 1-4 1 1 1 0 1 2 1 1 1-9 1 1 1 1 1 1 1-1 1 4 1-4 1-1 1 2 1 0 1 0 1 0 1 1 1-6 1-2 1 2 1-2 1 2 1 0 1-2 1 2 1 1 1-5 1 3 1 1 1 0 1-2 1 0 1-3 1 0 1-1 1 0 1-1 1 1 1 5 1-2 1 3 1-1 1 0 1 1 1-2 1 1 1 4 1-1 1 2 1-1 1 0 1-1 1-3 1 1 1 1 1 1 1-2 1 1 1-1 1-1 1 0 1 0 1-1 1 4 1-3 1-2 1-1 1 0 1 1 1-1 1 1 1 4 1 1 1 0 1 1 1-4 1 2 1 0 1-3 1-2 1 1 1 3 1-1 1 1 1 0 1 2 1-2 1 3 1-1 1 0 1 2 1 0 1 2 1 3 1 0 1-2 1-1 1 2 1 0 1 1 1-2 1 0 1-1 1 2 1-1 1-1 1 0 1-1 1 0 1-1 1 1 1-4 1 4 1 0 1-2 1 1 1 4 1 0 1 2 1-1 1-1 1 0 1 1 1-1 1 1 1-1 1 2 1 2 1-3 1 1 1-1 1 2 1-3 1-1 1 1 1-2 1 2 1 0 1-1 1 0 1 0 1 0 1 1 1 1 1 0 1-1 1 2 1-2 1 0 1 1 1-1 1 1 1-1 1 0 1 2 1-1 1-1 1 1 1 1 1-2 1-2 1 4 1-1 1 0 1 1 1-1 1-2 1 4 1 0 1 3 1-4 1 3 1 1 1-2 1-1 1 0 1-6 1 1 1-1 1-1 1 1 1-2 1-1 1-2 1-2 1 0 1 1 1-1 1 6 1-1 1 2 1 1 1 0 1-2 1-2 1 2 1 3 1 0 1-1 1-2 1 0 1 3 1-3 1 1 1-1 1 1 1 2 1 1 1-1 1-2 1 3 1-1 1 0 1-3 1 0 1 1 1-2 1-1 1 1 1 2 1-1 1 0 1-1 1-1 1 0 1 1 1 2 1 0 1-1 1 0 1-3 1 0 1-1 1 3 1 1 1 2 1-2 1 1 1 0 1-1 1 1 1 2 1-1 1 2 1-2 1 1 1 0 1-2 1 0 1 2 1-1 1 1 1 0 1 0 1 2 1-2 1 2 1 1 1 0 1 1 1 0 1-4 1 0 1 1 1 3 1-1 1 2 1 1 1 0 1 1 1 0 1-5 0-72-1 0-1 0-1-1-1-2-1 2-1-1-1-1-1 0-1-2-1-1-1 2-1 0-1 3-1 2-1-1-1-3-1 2-1-2-1 1-1 2-1-4-1 2-1 0-1-1-1 3-1-2-1 1-1-1-1-2-1 1-1 0-1 0-1-2-1 3-1-1-1-2-1 3-1-1-1 1-1-3-1 3-1-4-1 1-1-1-1 0-1-1-1 0-1-1-1 5-1 2-1-1-1 0-1-1-1-2-1-1-1 2-1 1-1 0-1 1-1-1-1-1-1 1-1-1-1-2-1 2-1-1-1 0-1 1-1 1-1-2-1 3-1 3-1-2-1-3-1 1-1-1-1 1-1 2-1 0-1-2-1 0-1-1-1 0-1 2-1 4-1 0-1 1-1 1-1-1-1-1-1 0-1 0-1-2-1 1-1 1-1 0-1-1-1 3-1-1-1 0-1-2-1 2-1-2-1-1-1 0-1 0-1-4-1-2-1-1-1 2-1 1-1-1-1 2-1-1-1-2-1 1-1 1-1-2-1-3-1 3-1 1-1 0-1-1-1 0-1 0-1-1-1-1-1-1-1 2-1-1-1-1-1-1-1-1-1 3-1 4-1-1-1-1-1-2-1 2-1-1-1 4-1 0-1 3-1 1-1-1-1 1-1 0-1 0-1 0-1-2-1 0-1 1-1 0-1-1-1 1-1-3-1-2-1-1-1-1-1 2-1 1-1 0-1 0-1 4-1 1-1-2-1 2-1-1-1 1-1 0-1 0-1 1-1 0-1-2-1 1-1 2-1 1-1 0-1-2-1 0-1 0-1-1-1 0-1 2-1-2-1 1-1-2-1-4-1 1-1 0-1 2-1 4-1 1-1 1-1-4-1-1-1-1-1 1-1 2-1-1-1 0-1 0-1 2-1-1-1-1-1 0-1 0-1 0-1-3-1 4-1 1-1-1-1 3-1-1-1-2-1 4-1-6-1 0-1-3-1 0-1-1-1 1-1 3-1-2-1-1-1 1-1-2-1 1-1-2-1 1-1 1-1 0-1-2-1-1-1 0-1 5-1-2-1 2-1 1-1 2-1-1-1 2-1 1-1 0-1 1-1 0-1 1-1-1-1 0-1 0-1 2-1 0-1 1-1-1-1 1-1 2-1-1-1-2-1 1-1-1-1 2-1 3-1-2-1-1-1 1-1-1-1 0-1-1-1 1-1 1-1 0-1 0-1 1-1 1-1-2-1 1-1-1-1-1-1 3-1 0-1 4-1-2-1-2-1 1-1-2-1-1-1 2-1-2-1 1-1 2-1-5-1-1-1-5-1-1-1-2-1 1-1 1-1-1-1-3-1 0-1 3-1 3-1 0-1-2-1-2-1 2-1-2-1 3-1 2-1 0-1-2-1 0-1 0-1-3-1 3-1-1-1-2-1 3-1 0-1 2-1-1-1-2-1 0-1-4-1 1-1-2-1 2-1-1-1-2-1 2-1 1-1-1-1-1-1 2-1 2-1 0-1-1-1-1-1-1-1 2-1-3-1 0-1 1-1-1-1 2-1-1-1-3-1 1-1-1-1 0-1-1-1-1-1 2-1 0-1-2-1-2-1 0-1 2-1-5-1 0-1 0-1-2-1 0-1 0-1 0-1-1-1 2-1-2-1 0-1 1-1-1-1-1-1-2-1 2-1 1-1-1-1-1-1-2-1 0-1 0-1-4-1 1-1 2-1-3-1-2-1 1-1-2-1-2-1 1-1-1-1-2-1-2-1 2-1-1-1 1-1 0-1-5-1-13-1-29-1-114z"/>
<path class="lM" d="M0 1284l1 126 1 33 1 17 1 6 1 2 1 1 1 1 1 3 1 3 1 1 1 0 1 1 1 3 1 3 1 1 1 2 1 2 1 0 1 3 1 0 1 0 1 2 1 2 1 0 1 2 1 1 1 0 1 0 1 1 1 1 1 1 1 1 1 0 1 0 1 2 1 0 1 1 1 1 1 2 1 0 1 0 1 1 1-2 1 3 1 0 1 3 1-1 1 0 1 1 1 1 1 0 1 1 1 0 1 2 1-2 1 0 1 1 1 0 1 2 1 1 1-2 1 2 1 2 1 1 1-1 1-2 1-1 1-1 1-1 1 1 1-1 1 1 1 0 1 0 1 0 1 1 1 2 1 0 1-3 1 1 1 1 1-2 1 1 1 0 1 2 1 0 1 0 1 1 1 3 1-1 1 1 1-1 1-1 1 1 1-1 1 1 1-1 1 1 1-1 1-2 1 0 1 2 1 0 1 1 1-1 1 0 1 0 1-2 1 1 1 2 1-1 1 0 1 2 1-2 1 1 1 0 1-3 1 1 1 2 1-1 1 0 1-2 1 0 1 1 1-1 1 0 1 1 1 0 1 0 1 0 1 0 1 2 1-1 1 0 1-1 1 2 1 0 1 2 1-2 1-2 1 1 1-1 1 1 1 0 1-1 1 1 1-1 1-1 1 0 1 0 1 0 1-1 1 1 1-2 1-3 1 0 1 0 1-2 1 1 1-1 1 0 1-1 1-2 1-1 1 0 1 0 1 3 1 1 1 1 1-1 1 0 1 1 1-2 1 1 1 0 1 2 1 0 1-1 1-1 1 1 1 1 1 1 1-3 1 4 1-2 1-1 1 1 1-1 1 0 1 0 1-2 1 0 1 1 1-2 1 1 1-1 1 0 1 1 1 0 1 2 1-1 1-2 1 1 1 0 1 0 1-1 1 0 1 0 1-1 1 1 1 0 1 0 1-2 1 2 1 1 1 1 1-1 1 1 1 1 1 0 1 0 1 2 1 1 1-1 1-1 1-1 1 1 1 1 1-3 1 2 1 0 1-1 1-1 1 0 1 1 1-1 1 0 1-2 1 1 1 0 1 0 1-1 1-1 1 1 1 1 1-1 1 3 1-1 1 0 1 0 1 1 1-1 1 1 1 1 1-1 1-1 1-2 1 0 1 0 1-2 1 0 1-3 1 3 1-1 1 1 1 1 1-2 1 0 1 0 1 3 1-1 1 0 1 0 1 0 1 2 1-1 1 0 1 0 1 0 1 2 1-4 1 1 1 1 1 1 1 0 1-1 1 1 1-1 1 0 1-1 1 1 1 2 1 1 1-2 1 0 1-1 1 1 1 1 1-3 1 2 1 2 1-2 1 0 1 1 1-1 1 2 1 0 1 2 1-1 1 1 1 1 1 2 1-3 1 0 1 0 1-1 1-1 1-3 1 1 1 0 1 0 1 0 1-1 1 1 1 2 1 0 1 1 1-2 1-1 1 2 1 0 1 1 1-3 1 1 1 2 1 0 1 0 1 0 1-1 1 1 1 0 1-2 1-1 1 0 1 0 1 0 1 1 1 0 1 0 1-2 1 2 1 0 1-1 1 0 1-1 1 1 1 0 1 1 1-2 1 1 1 0 1-1 1 0 1 1 1 2 1-1 1 0 1 0 1 1 1 0 1-1 1 2 1 1 1-1 1 0 1-1 1 3 1-1 1-2 1 1 1-1 1 2 1 1 1-3 1 1 1 1 1-1 1 1 1 1 1-4 1 1 1 1 1 0 1 1 1-2 1-1 1 2 1 4 1-1 1-1"/>
</g>
<path fill="#FE00CE" d="M1601.89,163.03l9.15,9.15l9.15,-9.15l-9.15,-9.15l9.15,-9.15l-9.15,-9.15l-9.15,9.15l-9.15,-9.15l-9.15,9.15l9.15,9.15l-9.15,9.15l9.15,9.15ZM1949.25,106.65l9.15,9.15l9.15,-9.15l-9.15,-9.15l9.15,-9.15l-9.15,-9.15l-9.15,9.15l-9.15,-9.15l-9.15,9.15l9.15,9.15l-9.15,9.15l9.15,9.15Z"/>
</g>
</g>
<g id="p_e">
<rect x="75.48" y="461.72" width="364.8" height="317.8" fill="#E5ECF6"/>
<path d="M171.12,461.72v317.8M257.96,461.72v317.8M344.8,461.72v317.8M431.64,461.72v317.8M75.48,699.94h364.8M75.48,604h364.8M75.48,506.96h364.8" stroke="#fff" stroke-width="1.85" fill="none"/>
<path d="M84.28,461.72v317.8" stroke="#fff" stroke-width="3.6" fill="none"/>
<g clip-path="url(#ce)">
<g transform="translate(84.28,892.77) scale(0.8684,-0.24095)">
<path class="bR" d="M0 1483l1-295 1-1 1-2 1-1 1 0 1 6 1-1 1 1 1 1 1-3 1-6 1 6 1 8 1 4 1-1 1 6 1 1 1 9 1 7 1 1 1-1 1 10 1 1 1 8 1 6 1 1 1 0 1 2 1 2 1 1 1 2 1 2 1 1 1 5 1-5 1 4 1 11 1 2 1-3 1 1 1 4 1 3 1-1 1 1 1 3 1-1 1-5 1 6 1-1 1 1 1 0 1 1 1 5 1 1 1 0 1 0 1-1 1 8 1-3 1-1 1 1 1 1 1-4 1-1 1 4 1-3 1 4 1-5 1 2 1-5 1-5 1-4 1 3 1-2 1-1 1 6 1 1 1-1 1-5 1 2 1 6 1-3 1 2 1 3 1 8 1 4 1 3 1 10 1-2 1 4 1 4 1 5 1-2 1 0 1-1 1 2 1 1 1-4 1-1 1 5 1 0 1 3 1-3 1-3 1 0 1 4 1-2 1 2 1 6 1 2 1 1 1-1 1 4 1 4 1 2 1-2 1 0 1-2 1 2 1-1 1 6 1 0 1 3 1-2 1-1 1 4 1 0 1-4 1-1 1-4 1 1 1-1 1-3 1 2 1 1 1-1 1 2 1-2 1-1 1 0 1 1 1-4 1-1 1-6 1-7 1 0 1 2 1 3 1 3 1 1 1 2 1-6 1-1 1-1 1 1 1 2 1-1 1-1 1 2 1 2 1-2 1-5 1 4 1 3 1-3 1 4 1-2 1-1 1 3 1 1 1 0 1-2 1 2 1 2 1-5 1 1 1 1 1 0 1 3 1 0 1-1 1-3 1-2 1-3 1-1 1-3 1 4 1 2 1-4 1 0 1-2 1-5 1-1 1 1 1 1 1 1 1-1 1 3 1-1 1 0 1-2 1-1 1 0 1 2 1-3 1 1 1 0 1-3 1 0 1 0 1 2 1 0 1 5 1 2 1 1 1 1 1 0 1 2 1 0 1-1 1-3 1 2 1 2 1-3 1-2 1-4 1 2 1 0 1 10 1-1 1-1 1-4 1 4 1-1 1 0 1 2 1-1 1 3 1-1 1 1 1 3 1-3 1 2 1 2 1 0 1 2 1-2 1 3 1-3 1 1 1-2 1 0 1-2 1 2 1-3 1-2 1 2 1-2 1 2 1-5 1 1 1-3 1-3 1 1 1-1 1 2 1-1 1 3 1-4 1 0 1 6 1-1 1 1 1-2 1-5 1 5 1 1 1-4 1 8 1 0 1-2 1 2 1 1 1-1 1-4 1 5 1-5 1-1 1-1 1 2 1 3 1 1 1-1 1 0 1 0 1 2 1-1 1 0 1 6 1-4 1 1 1-3 1 5 1-1 1 0 1-4 1 2 1 0 1-2 1 10 1-1 1 0 1-4 1 6 1-5 1 2 1 2 1 1 1 0 1 2 1-6 1 3 1 0 1 7 1-4 1 1 1-2 1 0 1 2 1 1 1-2 1 0 1 4 1-1 1 0 1-1 1 1 1 2 1-6 1-1 1-3 1 7 1 9 1-1 1 3 1-1 1 1 1-3 1 0 1 1 1 2 1 0 1 3 1-6 1 0 1 1 1-11 1-4 1-1 1 0 1 2 1 2 1 3 1 4 1-4 1-1 1-4 1 4 1 1 1-1 1 6 1-3 1-2 1 1 1-4 1-1 1 1 1 2 1 0 1 1 1-1 1 1 1 2 1-4 1 3 1-6 1 0 1-1 1 1 1 0 1 3 1-1 1 0 1 0 1-3 1-3 1 6 1-2 1-1 1-1 0-170-1-1-1 2-1 0-1-3-1-1-1 4-1-2-1 6-1-4-1-3-1 1-1 5-1 2-1 0-1 2-1 2-1-1-1 1-1-1-1 1-1-3-1 5-1 0-1 0-1 0-1 2-1-1-1 4-1 4-1-6-1-9-1 3-1 1-1 6-1-6-1 9-1-2-1-3-1 4-1-4-1 1-1-4-1 1-1 0-1 2-1-3-1 6-1-8-1 3-1-7-1-2-1-1-1 5-1-1-1-1-1 2-1-2-1 3-1 3-1-2-1-1-1-1-1 3-1-1-1-2-1-9-1-1-1-1-1-5-1 3-1-5-1 2-1 2-1 3-1-1-1 2-1-4-1 0-1 3-1-3-1 13-1-1-1 3-1-2-1-3-1-1-1-2-1 2-1 5-1-10-1-3-1 1-1 2-1-7-1 5-1 1-1-5-1 3-1 0-1 1-1 8-1-10-1-1-1 2-1-2-1 2-1 0-1-2-1 0-1-2-1 0-1-6-1 2-1 1-1 0-1-5-1 0-1 0-1-4-1-1-1-2-1 0-1 0-1 1-1-4-1 1-1-5-1 1-1 2-1 1-1 2-1-2-1 2-1 2-1-3-1 2-1 0-1 0-1 3-1-1-1 3-1 1-1 4-1-2-1-1-1 4-1 1-1 0-1 0-1 3-1 2-1 1-1-3-1 1-1 2-1-2-1 0-1-9-1 1-1-5-1 6-1-3-1-5-1 2-1 2-1 3-1 2-1-3-1-2-1 2-1 3-1-1-1 1-1-3-1 1-1-2-1-1-1 0-1 0-1-1-1 1-1-1-1-4-1 1-1-1-1-5-1 5-1-5-1 0-1-4-1-3-1 4-1-1-1 1-1 4-1-3-1 1-1-2-1 1-1-2-1 9-1 3-1-1-1-3-1-2-1-1-1-3-1 2-1 3-1 3-1 0-1 0-1 1-1-2-1 1-1 1-1 3-1 1-1 0-1 1-1 0-1-3-1 1-1 2-1-1-1 1-1 2-1-1-1 8-1-2-1-3-1-1-1-4-1 1-1-3-1 1-1 2-1-7-1 0-1 3-1 0-1 0-1-1-1-4-1-2-1 4-1 1-1-5-1 9-1-2-1-1-1-1-1-5-1 1-1 6-1 0-1 6-1 4-1 1-1-1-1 0-1-4-1 5-1-1-1-2-1 3-1-1-1 3-1-1-1 1-1 1-1 2-1 2-1 4-1-3-1 0-1 1-1-3-1-4-1 1-1-1-1-1-1 1-1-2-1-2-1-1-1 0-1-1-1 3-1-2-1-2-1-6-1 3-1 1-1-2-1-2-1 4-1-2-1-3-1 0-1 0-1 3-1-2-1 0-1-2-1 0-1-3-1 0-1-1-1-4-1 1-1-7-1-4-1-5-1-1-1-6-1-4-1-1-1 1-1-4-1-3-1 4-1-6-1 2-1-5-1 1-1 5-1-1-1 3-1 1-1 5-1-1-1-1-1-2-1 1-1 2-1-4-1-3-1 6-1-2-1-1-1-2-1-5-1 1-1-1-1-2-1-2-1-1-1-1-1 1-1-3-1 3-1-6-1-4-1-1-1 6-1-2-1-5-1 0-1-2-1-3-1 2-1 1-1-3-1-2-1 3-1-8-1 1-1-4-1-1-1 0-1-3-1-3-1 4-1-6-1-3-1-9-1-2-1-6-1 1-1 0-1-7-1-3-1 0-1-8-1 0-1-7-1-1-1-7-1 3-1-1-1-1-1 4-1-1-1 0-1 2-1 4-1 5-1 6-1 455z"/>
<path class="lR" d="M0 1483l1-375 1-6 1-3 1-3 1-2 1 1 1 0 1-3 1 3 1-4 1 1 1 5 1 4 1 5 1-4 1 9 1-3 1 6 1 4 1 1 1-1 1 9 1 0 1 11 1 6 1 4 1 0 1-1 1 2 1-2 1 2 1 2 1 0 1 3 1 1 1 3 1 4 1 0 1-4 1 4 1 2 1 0 1 4 1 0 1 0 1-1 1 6 1 2 1-2 1 3 1 0 1 3 1 0 1 2 1-1 1-1 1-1 1 5 1 4 1 0 1 3 1-3 1 2 1 0 1 3 1-3 1 3 1-7 1 3 1-3 1-2 1-2 1-1 1 0 1-2 1 7 1 0 1 1 1-7 1 5 1 6 1-5 1 1 1 4 1 7 1 4 1 2 1 4 1-1 1 0 1 2 1 5 1 0 1 2 1 0 1 2 1-3 1 1 1-1 1 2 1 1 1 0 1 2 1-4 1 1 1 4 1-1 1 0 1 3 1 3 1 3 1-2 1 1 1 1 1 1 1-1 1 0 1-1 1 2 1-2 1 1 1 5 1 5 1-1 1 1 1-1 1-1 1 0 1-3 1-7 1 0 1 3 1-3 1 1 1-1 1 2 1 0 1-4 1-1 1 3 1-1 1-1 1 1 1-5 1-5 1 0 1-1 1 0 1 8 1-1 1 2 1-7 1 2 1 0 1-1 1 4 1-3 1 3 1 1 1 2 1-4 1-3 1 4 1-1 1-1 1 4 1-2 1 3 1-1 1 6 1 1 1-7 1 4 1 1 1 0 1-1 1-2 1 2 1 3 1-2 1-4 1 2 1-1 1-4 1-3 1-3 1 4 1-1 1 2 1 0 1-6 1 0 1 0 1 2 1 0 1-2 1 3 1 4 1-1 1-7 1 2 1 1 1-2 1 0 1-1 1-1 1 2 1-3 1-3 1-3 1 6 1-2 1 5 1-1 1 4 1 1 1 2 1 0 1 3 1-3 1 5 1-2 1 2 1 2 1-3 1 1 1 3 1-4 1 1 1-3 1-1 1 4 1-1 1-4 1 0 1-1 1-3 1 6 1 3 1-3 1 4 1-2 1 4 1 3 1 2 1-2 1 0 1 2 1-4 1 4 1-2 1 1 1-4 1 3 1 1 1-3 1 3 1-4 1 0 1-1 1-1 1-1 1-4 1-1 1-2 1 3 1-2 1-1 1 1 1-3 1-1 1-1 1 1 1 0 1-4 1 4 1 0 1-2 1 2 1 4 1 0 1 2 1 0 1-1 1-8 1 6 1-3 1-1 1 2 1-1 1 2 1 2 1 3 1 0 1-1 1 4 1-4 1 1 1 7 1-4 1 1 1-3 1 4 1 0 1-3 1 0 1 4 1 0 1-3 1 2 1 4 1-2 1-4 1 7 1-2 1 2 1 2 1-1 1 1 1 0 1 0 1 0 1-2 1 1 1-2 1 2 1-1 1 1 1-1 1 1 1-1 1 1 1 3 1-1 1 4 1-1 1 2 1 0 1-1 1-1 1-1 1 1 1-3 1 2 1 1 1-3 1 3 1-2 1 2 1 1 1 1 1 1 1 3 1-8 1 3 1-1 1 4 1-5 1 2 1 0 1 3 1-1 1 4 1 0 1-7 1 3 1-3 1 3 1 0 1 2 1 9 1-6 1-5 1 2 1-2 1-2 1-1 1 0 1-2 1 2 1 1 1 2 1 2 1-2 1 4 1-2 1-2 1 0 1-2 1-1 1 2 1 1 1-3 1 2 1-4 1 2 1 3 1-1 1-1 1 1"/>
</g>
<path fill="#FD3216" d="M84.28,544.59l9.15,9.15l9.15,-9.15l-9.15,-9.15l9.15,-9.15l-9.15,-9.15l-9.15,9.15l-9.15,-9.15l-9.15,9.15l9.15,9.15l-9.15,9.15l9.15,9.15ZM431.64,603.14l9.15,9.15l9.15,-9.15l-9.15,-9.15l9.15,-9.15l-9.15,-9.15l-9.15,9.15l-9.15,-9.15l-9.15,9.15l9.15,9.15l-9.15,9.15l9.15,9.15Z"/>
<g transform="translate(84.28,892.77) scale(0.8684,-0.24095)">
<path class="bG" d="M0 1348l1-530 1 47 1 33 1 32 1 22 1 20 1 17 1 10 1 5 1 10 1 8 1 10 1 10 1 10 1 9 1 7 1 3 1 6 1 4 1 4 1-6 1 5 1 0 1 9 1-10 1-3 1 6 1 0 1-3 1 0 1 1 1-2 1 2 1 8 1 4 1 0 1 4 1 6 1 5 1 5 1 6 1 8 1 5 1 3 1 10 1-1 1 2 1 6 1-2 1 6 1 8 1 0 1 1 1 1 1 0 1 3 1 3 1-3 1-2 1-3 1 1 1 2 1 2 1 3 1 0 1 2 1-4 1 3 1 0 1-4 1 2 1 6 1 3 1-3 1 3 1 0 1 2 1-4 1 4 1 1 1-6 1 4 1-1 1-2 1 0 1 2 1 12 1-2 1-1 1-1 1-1 1-1 1 2 1-2 1-1 1 4 1 0 1 0 1-3 1 0 1 2 1 2 1 1 1-2 1 0 1 4 1-2 1 10 1 0 1 2 1-1 1-4 1-1 1 1 1 2 1 0 1 3 1 1 1 3 1 3 1-3 1-3 1 2 1-1 1 1 1 4 1 0 1 0 1 1 1-3 1 7 1-5 1-1 1-2 1 0 1 6 1-6 1 2 1 0 1-1 1 0 1 0 1 7 1 0 1-1 1-1 1 0 1-2 1 1 1 1 1 0 1 5 1 0 1-3 1-1 1 3 1 9 1-3 1-3 1 4 1-4 1-1 1 3 1-1 1 2 1-1 1 1 1 1 1-2 1 1 1 1 1-3 1 3 1 3 1 0 1-4 1-4 1 4 1-4 1-1 1 4 1 2 1-3 1 3 1-2 1 1 1 0 1 0 1-3 1 9 1 0 1 3 1-1 1-3 1-1 1-3 1 3 1 3 1-4 1-2 1-2 1 1 1-1 1 3 1-4 1 1 1 2 1-4 1 3 1-2 1-2 1-7 1-1 1 1 1 0 1-5 1 0 1 2 1-3 1 0 1-3 1-6 1 0 1 7 1 2 1-1 1-2 1 2 1-2 1 1 1 2 1-4 1 2 1 7 1 0 1 0 1 3 1 4 1-3 1 0 1-2 1 2 1-2 1 3 1 2 1 1 1 3 1 1 1 0 1 3 1 2 1 2 1-4 1 0 1-3 1 0 1 1 1-1 1 0 1-1 1 0 1 4 1 0 1 0 1-5 1 4 1-6 1 2 1 2 1 3 1 1 1-2 1 0 1-2 1 0 1-1 1 6 1-1 1-1 1 7 1-1 1-3 1-8 1 6 1 2 1 1 1-5 1 4 1 1 1-3 1 0 1 3 1 0 1 1 1 3 1-2 1 1 1 1 1-2 1 2 1 1 1-1 1 1 1 2 1 0 1 1 1-1 1-2 1-1 1 5 1 4 1-3 1 2 1-1 1 2 1 4 1 2 1-1 1 2 1 1 1 1 1 1 1 0 1-1 1-5 1 0 1-1 1 0 1 5 1-4 1 6 1-2 1 0 1 4 1 0 1 1 1-2 1-1 1 5 1-7 1 7 1-2 1-6 1 2 1 3 1 0 1-1 1-5 1 1 1-1 1-3 1 2 1 6 1-2 1 1 1-3 1-1 1 6 1-1 1-2 1-4 1 0 1 1 1 0 1-2 1 5 1-5 1 2 1-1 1-2 1 4 1-3 1-4 1 3 1 0 1-1 1 1 1-1 1-10 1-3 1 2 1 5 1-7 1 6 1-1 1 2 1 1 1-2 1 0 1 3 1-1 1 2 1-4 1-1 1 10 1 0 1-7 1 3 1 0 1-11 0-134-1 2-1 0-1-2-1-1-1 3-1 1-1 1-1-8-1 1-1-3-1-2-1-3-1 2-1 0-1-3-1 2-1 0-1-2-1 0-1 0-1 0-1 0-1 1-1-1-1 1-1-3-1 2-1 3-1-3-1 1-1 7-1-1-1-9-1 1-1-2-1-5-1 4-1 2-1-2-1 0-1-1-1 4-1-2-1-5-1 2-1 1-1-4-1-1-1-3-1 2-1 0-1 1-1 3-1 0-1-1-1 1-1-1-1-2-1-1-1 4-1 0-1-1-1-3-1 9-1-2-1-2-1-3-1 0-1 1-1 1-1-2-1 1-1 0-1-1-1 4-1 5-1-4-1-3-1-1-1 4-1 0-1-1-1 3-1-1-1 0-1 0-1 1-1 2-1-1-1-3-1 0-1 1-1 0-1-6-1 3-1 0-1 1-1-1-1 0-1 1-1 1-1 3-1-2-1 2-1-2-1 0-1 2-1 2-1 0-1 0-1 3-1 1-1-5-1 5-1-3-1 1-1-8-1 0-1-1-1 4-1-2-1 2-1-3-1 1-1-2-1 2-1-6-1-1-1 2-1 1-1 1-1-2-1 3-1 0-1 4-1 0-1 2-1-3-1-4-1 1-1 5-1-2-1 1-1 3-1-1-1 0-1-1-1-2-1 1-1 1-1 1-1 1-1 3-1-2-1-3-1 0-1-2-1 5-1-3-1 0-1 0-1 2-1-1-1-2-1 4-1 0-1-7-1 3-1 2-1 0-1-1-1 2-1-2-1 1-1-5-1-2-1 0-1-2-1 1-1-1-1-2-1 3-1 0-1 3-1-4-1 4-1-6-1 1-1 1-1 2-1-1-1-1-1 0-1-3-1-1-1 5-1-2-1 0-1 0-1-1-1-5-1 6-1-2-1 1-1-4-1 2-1 1-1-2-1 1-1 2-1-3-1-2-1 0-1 3-1 0-1-1-1-1-1-1-1-1-1-1-1-5-1 2-1 4-1 2-1-4-1-3-1-1-1-1-1-3-1-3-1 2-1 1-1-1-1 3-1-3-1-2-1 4-1-2-1 1-1 1-1-2-1 0-1-3-1-1-1-2-1 0-1-2-1 1-1-2-1 1-1-2-1-1-1 1-1 2-1 1-1-3-1 0-1-3-1 2-1-1-1-2-1 0-1 2-1-2-1-2-1-5-1 4-1-1-1 0-1-3-1 1-1-4-1 10-1-3-1-1-1 1-1 0-1-1-1-4-1 6-1 0-1-2-1-2-1-7-1 0-1 0-1-1-1-2-1 2-1 4-1 0-1 0-1-2-1-4-1 5-1-5-1 1-1 1-1-1-1-2-1 3-1 0-1-3-1-3-1-4-1-1-1 1-1-2-1 0-1-2-1-3-1-2-1 3-1-3-1-7-1 3-1-1-1-3-1-4-1 0-1-5-1-1-1 1-1-2-1 1-1-3-1-1-1-2-1 0-1-3-1 1-1-3-1-1-1-3-1 0-1-1-1-5-1-2-1-1-1 1-1-2-1-6-1-1-1-1-1-4-1 1-1 0-1 0-1-3-1-1-1-3-1-4-1 0-1 0-1 0-1-5-1-5-1 0-1 1-1-2-1-3-1-3-1-6-1-5-1-5-1-4-1 1-1-6-1-4-1-4-1-4-1-2-1-2-1-3-1-4-1-7-1-1-1-4-1-3-1 0-1-4-1-1-1-4-1 1-1-4-1-3-1-5-1-1-1-15-1-16-1-17-1-10-1-17-1-9-1-16-1-19-1-24-1-21-1-23-1 687z"/>
<path class="lG" d="M0 1348l1-590 1 44 1 33 1 30 1 22 1 19 1 14 1 11 1 5 1 12 1 4 1 13 1 9 1 8 1 7 1 6 1 2 1 7 1-1 1 4 1 0 1 3 1 1 1 4 1-2 1 1 1 2 1-1 1 1 1-1 1 2 1 0 1 1 1 4 1 3 1 5 1 2 1 6 1 10 1 2 1 6 1 8 1 4 1-1 1 8 1 1 1 3 1 4 1 2 1 5 1 6 1 4 1 1 1 0 1-1 1 0 1 4 1-3 1 3 1-1 1-1 1 1 1 1 1 3 1 0 1 2 1-5 1 2 1-1 1-5 1 2 1 3 1 4 1-2 1 6 1-6 1 1 1 1 1 4 1 2 1-6 1 1 1 1 1 4 1-5 1 3 1 4 1 0 1-1 1-4 1-1 1-1 1 4 1 0 1-2 1 4 1-2 1 6 1-4 1-1 1 0 1 3 1 0 1 4 1 0 1-3 1 2 1 1 1-1 1 2 1-2 1-2 1-1 1 0 1 3 1-1 1 3 1 0 1 0 1 4 1-3 1 2 1-2 1 1 1-1 1 5 1 3 1-4 1 4 1-2 1 4 1-4 1 0 1 1 1 4 1 4 1-1 1-3 1 0 1 1 1 1 1-1 1 2 1 1 1 0 1 1 1 0 1-3 1 0 1 2 1 0 1 2 1-1 1 3 1-1 1 7 1 5 1-2 1 1 1 3 1-4 1-3 1 3 1-1 1 0 1 0 1-1 1 4 1-3 1 2 1 1 1 0 1 0 1 2 1 0 1-2 1-3 1 0 1-3 1 2 1 1 1 5 1-2 1 5 1-6 1 0 1 2 1 0 1-4 1 3 1-2 1 2 1-1 1 1 1 0 1-1 1 0 1 2 1-5 1 2 1-5 1 4 1 2 1 1 1-6 1 2 1 2 1-3 1 2 1-5 1-3 1-5 1 1 1 1 1-2 1 2 1 2 1-1 1 1 1-1 1 4 1-7 1 1 1 6 1 4 1-2 1-1 1 3 1-4 1-1 1 2 1 3 1-3 1 7 1 0 1 0 1-1 1-2 1 1 1 2 1-1 1-1 1 2 1 1 1 0 1 2 1 3 1 1 1-3 1 3 1-5 1 2 1 2 1-2 1 1 1 1 1 0 1 3 1-2 1-2 1 1 1 4 1-1 1-1 1-5 1 2 1-1 1 0 1 0 1 1 1-1 1-4 1 4 1 1 1 1 1 1 1 4 1 2 1-2 1 3 1 1 1 2 1-4 1 5 1-2 1 5 1-4 1 6 1-2 1-3 1 1 1-4 1 1 1 4 1-1 1 1 1-1 1 4 1-4 1-1 1 4 1 0 1 0 1 4 1 0 1-4 1 1 1 1 1 2 1 1 1 2 1 3 1-2 1-1 1 5 1-4 1 3 1-4 1 3 1 3 1-6 1 0 1 5 1 0 1-3 1 0 1-2 1-1 1 5 1-4 1 2 1 3 1-1 1 5 1-4 1 6 1-3 1 1 1 1 1-4 1 2 1 1 1-4 1 2 1 0 1 1 1 0 1-4 1 2 1 2 1-1 1 2 1 2 1 1 1-3 1-1 1-2 1 4 1-3 1-2 1-7 1 2 1-1 1 3 1 1 1 4 1-3 1 1 1-1 1-3 1-1 1 3 1-5 1 1 1 2 1-4 1 4 1 0 1-1 1-1 1 0 1 4 1-1 1 3 1-6 1 5 1 0 1-2 1 5 1 3 1-3 1 3 1-4 1-1 1-2 1-1 1-3 1 2 1 0 1 1"/>
</g>
<path fill="#00FE35" d="M84.28,577.12l9.15,9.15l9.15,-9.15l-9.15,-9.15l9.15,-9.15l-9.15,-9.15l-9.15,9.15l-9.15,-9.15l-9.15,9.15l9.15,9.15l-9.15,9.15l9.15,9.15ZM431.64,616.64l9.15,9.15l9.15,-9.15l-9.15,-9.15l9.15,-9.15l-9.15,-9.15l-9.15,9.15l-9.15,-9.15l-9.15,9.15l9.15,9.15l-9.15,9.15l9.15,9.15Z"/>
<g transform="translate(84.28,892.77) scale(0.8684,-0.24095)">
<path class="bB" d="M0 1454l1-144 1 3 1 4 1 3 1 6 1 1 1-1 1 4 1-1 1-1 1 1 1 1 1-2 1-1 1-1 1 2 1-4 1 2 1-1 1 3 1-2 1-1 1-2 1 2 1 2 1-2 1 7 1-3 1-3 1 0 1 2 1-4 1 4 1-1 1-3 1 3 1 0 1 3 1-8 1 1 1-6 1-1 1-1 1 3 1 1 1 3 1 1 1-4 1 1 1 3 1-1 1 3 1-1 1-2 1-2 1 3 1 0 1 3 1 2 1 1 1 1 1 1 1-3 1 1 1-2 1-1 1 3 1 0 1 1 1 4 1-3 1-2 1 0 1-4 1 2 1 1 1 0 1 0 1 2 1-2 1 3 1-3 1 0 1-1 1-3 1 3 1 2 1 4 1 2 1-1 1-4 1 4 1 0 1 1 1 2 1-2 1 1 1-2 1 6 1-2 1 1 1 1 1 0 1-4 1 1 1 4 1 2 1-1 1-4 1 2 1 2 1-1 1-1 1 4 1 6 1-2 1 2 1 1 1-3 1 0 1 0 1 4 1-5 1 3 1-2 1 1 1 0 1 0 1 1 1 1 1-4 1 3 1-1 1 2 1 0 1-1 1-6 1 5 1-1 1 0 1 3 1-2 1 2 1 1 1 1 1 6 1-3 1-2 1 3 1-3 1 1 1-1 1 0 1 0 1 2 1-3 1 0 1 1 1-1 1-1 1 1 1 4 1-2 1-1 1 0 1 3 1-2 1 0 1-3 1-3 1-1 1 4 1 2 1 1 1-3 1 2 1 2 1 0 1-3 1 3 1 0 1-1 1-2 1 2 1 0 1 4 1-3 1 1 1-1 1 1 1 0 1 5 1-1 1-2 1-1 1-1 1 2 1 1 1 2 1-1 1-1 1 1 1-1 1-3 1 2 1-1 1 2 1-3 1-1 1 4 1-1 1-4 1 2 1-2 1-2 1 0 1 3 1-5 1 4 1 0 1 1 1 1 1 2 1 0 1 0 1-3 1 0 1 3 1-1 1 1 1-4 1 3 1 1 1 2 1 1 1 1 1-2 1-2 1-1 1 0 1-3 1 4 1 4 1 0 1-1 1 0 1 0 1-3 1 1 1-2 1 2 1 1 1 3 1-1 1 1 1-2 1 0 1-1 1 0 1 0 1-5 1 1 1 3 1-3 1-2 1 1 1-3 1 2 1 3 1 0 1 0 1 0 1 0 1-4 1 0 1 1 1 1 1 1 1-1 1 0 1-2 1-1 1 1 1 1 1-1 1 2 1 0 1-1 1 4 1-3 1 1 1-2 1-1 1-2 1-4 1 2 1 3 1-1 1 0 1 0 1-1 1-3 1 1 1 5 1 1 1-2 1-1 1-4 1 8 1 3 1 1 1-1 1 1 1 3 1-3 1 0 1-4 1 2 1 2 1-3 1 2 1 2 1-3 1-2 1 1 1 0 1 7 1 0 1 1 1 2 1-3 1 0 1-1 1-2 1 2 1-1 1 1 1-2 1 2 1-7 1-3 1-2 1 3 1-1 1 0 1 0 1 3 1-4 1 1 1 2 1-2 1 1 1-2 1-3 1 1 1 9 1 0 1 0 1 1 1-4 1 1 1-1 1 0 1 1 1-1 1-1 1 2 1-5 1 0 1 1 1 1 1-2 1 1 1-1 1-4 1-1 1 1 1 7 1 0 1-1 1-2 1 6 1-1 1-7 1 3 1 2 1 0 1-1 1 0 1 1 1-1 1 3 1 2 1-3 1-2 1-1 1 1 1 3 1 0 1 0 0-185-1-3-1 0-1 0-1 2-1 2-1-5-1-1-1 2-1 3-1-1-1 2-1 0-1-1-1-8-1 0-1 1-1 1-1 0-1 0-1 0-1 0-1 2-1 1-1 1-1 0-1-1-1 1-1-11-1 4-1-3-1-1-1 1-1 0-1 1-1-4-1-3-1 2-1-1-1 4-1 0-1-6-1 1-1 5-1 0-1 0-1 2-1-1-1-1-1-2-1 3-1 0-1-2-1 3-1-3-1 3-1-2-1-1-1 4-1-4-1 1-1-1-1-1-1 2-1 2-1-5-1-1-1 1-1 2-1 0-1-6-1 4-1-1-1 1-1 0-1 2-1 1-1 2-1-5-1 1-1-2-1 1-1 0-1-4-1-2-1 0-1 0-1 1-1-2-1 0-1 0-1-6-1 0-1-3-1-2-1-13-1-11-1-6-1 0-1 0-1 0-1 5-1 0-1 2-1-2-1 2-1-1-1 0-1-2-1-1-1 0-1 0-1 2-1 3-1-5-1 1-1 0-1-1-1 5-1 2-1-3-1-5-1 13-1 0-1 3-1-3-1-4-1 5-1 1-1-3-1-1-1-1-1-1-1 0-1 3-1 1-1 2-1-3-1-5-1 3-1 3-1-1-1 2-1 2-1-3-1 0-1 0-1 0-1 3-1-2-1 3-1 0-1-1-1-3-1 5-1 0-1 0-1 4-1-2-1-1-1-4-1 1-1 1-1 1-1 0-1-1-1-2-1 1-1-5-1 4-1 6-1 3-1 10-1 8-1-1-1-1-1 1-1 0-1 0-1-7-1 1-1 2-1-8-1 2-1 2-1-1-1 3-1-1-1 2-1-2-1 1-1 0-1 0-1 1-1-3-1 0-1 5-1 5-1-2-1 1-1-6-1 1-1-4-1-1-1 0-1 0-1 3-1 0-1 1-1 1-1-1-1 1-1 0-1-2-1-2-1 5-1-1-1-5-1 3-1-13-1 2-1-1-1 0-1 3-1-2-1-1-1-1-1 0-1 3-1-5-1-3-1 4-1 1-1 0-1-1-1-1-1 4-1-11-1 3-1-2-1 4-1-5-1-1-1 1-1-8-1 0-1 3-1 0-1-1-1-1-1 2-1 2-1-5-1 0-1 4-1 1-1 0-1-4-1 2-1-3-1-2-1 2-1 0-1-2-1 1-1-3-1-3-1 3-1 3-1-1-1 4-1-3-1-2-1 3-1-1-1-5-1-3-1-2-1 2-1-2-1 1-1 0-1-1-1 2-1-3-1-2-1 1-1-8-1 5-1-3-1-2-1 3-1 0-1-5-1-2-1 0-1-2-1 3-1-4-1 6-1 1-1 0-1-2-1-2-1-4-1 2-1 3-1-2-1-1-1-7-1 4-1-3-1-2-1 3-1-1-1-3-1-2-1-2-1-2-1 2-1 3-1-6-1 1-1 0-1-3-1 0-1 1-1-4-1 2-1-1-1 1-1-1-1 3-1 0-1-3-1-2-1 0-1-2-1-3-1-5-1-3-1-2-1-1-1 1-1 0-1-2-1 0-1-2-1-2-1-1-1-4-1-3-1 0-1 2-1-3-1 1-1 0-1-4-1-2-1-3-1-2-1 0-1 2-1-3-1 2-1 0-1-4-1-4-1-3-1-3-1-1-1-4-1-2-1 0-1 2-1-1-1-2-1-3-1-2-1-1-1-1-1-3-1-2-1-2-1 0-1-10-1 3-1-5-1-2-1-2-1-1-1-2-1-5-1-6-1-1-1-2-1-4-1-4-1-3-1-1-1 508z"/>
<path class="lB" d="M0 1454l1-366 1 4 1 6 1 6 1 5 1 7 1 4 1 9 1 11 1 2 1 5 1 6 1 4 1 8 1 0 1 12 1 2 1 8 1-5 1 5 1 3 1-2 1-7 1-2 1-1 1-4 1 7 1-4 1 8 1 2 1 3 1 3 1 4 1 3 1 0 1 4 1-2 1 4 1 1 1-2 1 2 1 7 1-2 1 5 1 0 1-1 1 6 1-2 1 0 1 1 1 2 1 1 1 6 1-3 1 4 1 3 1-2 1 1 1 2 1 0 1 3 1 3 1 0 1 4 1-4 1 5 1-1 1 0 1-6 1 8 1-2 1-2 1-2 1-3 1 4 1 1 1-1 1-1 1 0 1 3 1-5 1-1 1 1 1 5 1-5 1 5 1 1 1 0 1 2 1-1 1 3 1-2 1 7 1 0 1-4 1-1 1 6 1 0 1-1 1 2 1-1 1 2 1-2 1-2 1 5 1-1 1 3 1 1 1-3 1 0 1-1 1 2 1-5 1 6 1 1 1 1 1 2 1-3 1-1 1 4 1-3 1 5 1-2 1-1 1 2 1 3 1-1 1-2 1 5 1 2 1 2 1-5 1 0 1 0 1-2 1 3 1-3 1 5 1 1 1-3 1 0 1-2 1-2 1 2 1 1 1 0 1-1 1 0 1 2 1 1 1 0 1 0 1-1 1-1 1-1 1-2 1 2 1-3 1 3 1 2 1 1 1 3 1-1 1-1 1-1 1 0 1 1 1 2 1-6 1-3 1 1 1 1 1 3 1 4 1-3 1-1 1 0 1 0 1 0 1 6 1-2 1-3 1-2 1 4 1 5 1-3 1-3 1 3 1-1 1 0 1 5 1-1 1 1 1-1 1-1 1-2 1 3 1 0 1 5 1 0 1-7 1-1 1 2 1-4 1 0 1-1 1 3 1-4 1 2 1 4 1 2 1 0 1 2 1 0 1 1 1-7 1 8 1-9 1 4 1 0 1-2 1 9 1 2 1 1 1 0 1-1 1-1 1 3 1-3 1 4 1-2 1 1 1 2 1-2 1 5 1-1 1-2 1-1 1 1 1-1 1 0 1 3 1-1 1-4 1 0 1 2 1-3 1-2 1 2 1-2 1-1 1 5 1 0 1 0 1 3 1-4 1 5 1-1 1-7 1-1 1-2 1-3 1 5 1 1 1 1 1 4 1-5 1 2 1 1 1 2 1 0 1 1 1-1 1-5 1 4 1 0 1 1 1 2 1-4 1 2 1 2 1-2 1 2 1 1 1-2 1-2 1 5 1-4 1 8 1 0 1-2 1 0 1 3 1-1 1-3 1 2 1 2 1-3 1 0 1 3 1-4 1-4 1-3 1 8 1 0 1 2 1 0 1-5 1 3 1 1 1 0 1-5 1 3 1-4 1 1 1 0 1-6 1 10 1 0 1-2 1-1 1-1 1 4 1-3 1 3 1-1 1-5 1 5 1-3 1-1 1 5 1-3 1 1 1-1 1 4 1 0 1-5 1-1 1 0 1 1 1-7 1 0 1 8 1 2 1-3 1-2 1 4 1-4 1-1 1 3 1-3 1-4 1 1 1 2 1-1 1 1 1-1 1-5 1 0 1 0 1 9 1-8 1 4 1-2 1-1 1 7 1 2 1 2 1-2 1-2 1 3 1-5 1 2 1-4 1 3 1 0 1-1 1 3 1-5 1 2 1-2 1 4 1-4 1-1 1 0 1-1 1 1 1 1 1 1 1-3 1 0 1-2 1-2 1-1 1 2 1 2 1-5 1 0 1-2 1 3"/>
</g>
<path fill="#6A76FC" d="M84.28,551.58l9.15,9.15l9.15,-9.15l-9.15,-9.15l9.15,-9.15l-9.15,-9.15l-9.15,9.15l-9.15,-9.15l-9.15,9.15l9.15,9.15l-9.15,9.15l9.15,9.15ZM431.64,593.50l9.15,9.15l9.15,-9.15l-9.15,-9.15l9.15,-9.15l-9.15,-9.15l-9.15,9.15l-9.15,-9.15l-9.15,9.15l9.15,9.15l-9.15,9.15l9.15,9.15Z"/>
<g transform="translate(84.28,892.77) scale(0.8684,-0.24095)">
<path class="bM" d="M0 1422l1 67 1 0 1 0 1-1 1 1 1 3 1 0 1 2 1-4 1 2 1 0 1 2 1-6 1 2 1-1 1-1 1 0 1 3 1 5 1-3 1 3 1-1 1 3 1-4 1 2 1 1 1 1 1 1 1-2 1 1 1 0 1-3 1 0 1-5 1 5 1 0 1 4 1-1 1-1 1-1 1-1 1-4 1 6 1 2 1 0 1-4 1-1 1 4 1-2 1 1 1-1 1 2 1-2 1 4 1-2 1-1 1 0 1 5 1-5 1 0 1-1 1-1 1 1 1 2 1-4 1 0 1-1 1 9 1-2 1-2 1-1 1 3 1-1 1 1 1 1 1-7 1 6 1 0 1 1 1-1 1-1 1 1 1-3 1 3 1 0 1-1 1 0 1-1 1 2 1-1 1-4 1-8 1-6 1 1 1-5 1 2 1-1 1 0 1 2 1-1 1 5 1-1 1 1 1 0 1-7 1-2 1 3 1 5 1-1 1-2 1 3 1 3 1 2 1 3 1-3 1 2 1-3 1-2 1 4 1 0 1 3 1 4 1-2 1-3 1-5 1 2 1-2 1 1 1 1 1-1 1 0 1 3 1 0 1-3 1-2 1 1 1 0 1-1 1-1 1-1 1-1 1-3 1 2 1 6 1-2 1 3 1-2 1-4 1 3 1-6 1-1 1 0 1 2 1 1 1 0 1-2 1-3 1 5 1 1 1-1 1 1 1-3 1 8 1 2 1-3 1 1 1 0 1 2 1 2 1-1 1-1 1 1 1 2 1-4 1 3 1 1 1-3 1 4 1-4 1-1 1 0 1 1 1-3 1 5 1-3 1 2 1-4 1 0 1 1 1-2 1-1 1 2 1 1 1 1 1 8 1-10 1 1 1-2 1 2 1-1 1 3 1-2 1 2 1-4 1 2 1-2 1-2 1 3 1 0 1 2 1 0 1-2 1 0 1-2 1-1 1-3 1 8 1-1 1-3 1-1 1-1 1 0 1-1 1 3 1-2 1 2 1-6 1 0 1-1 1 3 1-4 1 1 1 0 1 0 1-1 1 1 1-1 1-3 1 2 1-3 1 4 1-4 1 4 1-3 1-2 1-1 1 3 1 0 1 1 1-3 1 4 1-1 1-4 1 3 1-3 1 2 1 2 1-1 1 0 1 2 1-1 1 0 1 1 1 0 1-1 1 0 1-1 1 1 1 2 1-3 1 2 1-11 1 2 1 0 1-4 1 3 1 2 1 0 1-3 1 0 1-2 1 0 1 0 1 5 1 0 1-7 1 1 1 0 1 3 1 1 1 1 1-4 1 4 1-4 1 1 1 3 1-2 1 3 1-1 1-1 1 1 1-2 1 2 1 0 1-5 1 3 1 1 1-7 1-3 1-4 1-4 1-5 1 4 1-1 1-1 1-5 1 3 1 2 1 10 1-2 1 0 1 1 1-2 1 0 1 0 1-2 1 2 1-1 1-1 1-3 1 2 1 1 1-2 1-1 1-2 1 2 1 0 1 5 1 0 1 0 1-1 1-1 1-2 1 2 1-3 1 1 1 0 1 0 1 0 1 1 1-1 1-3 1 3 1 1 1 0 1-5 1 2 1-1 1 0 1 5 1-4 1-1 1-2 1 0 1 0 1 2 1 0 1 0 1 4 1-2 1 2 1-2 1-2 1 1 1 2 1-2 1 2 1 0 1-1 1 8 1-1 1 2 1-3 1 0 1-2 1-2 1 2 1-3 1 2 1 0 1 5 1-5 1-1 1 3 1-1 1 0 1 1 1-2 1 0 1-2 0-137-1-2-1 0-1 3-1-4-1 0-1 0-1 0-1-2-1 3-1-4-1 4-1 3-1-1-1 2-1-1-1 2-1-3-1 4-1-3-1-1-1-6-1 5-1 0-1-5-1 1-1 0-1 0-1-3-1 1-1 0-1 0-1-4-1 3-1 0-1-1-1 5-1 1-1 1-1 0-1 1-1 1-1 0-1-2-1 0-1 1-1-1-1-1-1-4-1 2-1-2-1 1-1-1-1 0-1 0-1 4-1 2-1 0-1 0-1 2-1 2-1 0-1 1-1-2-1-1-1-3-1-1-1 1-1 0-1 2-1 0-1-1-1 3-1-1-1 0-1 2-1-1-1-6-1 0-1 2-1-1-1 0-1 0-1-5-1 0-1 2-1-1-1 4-1 0-1-1-1 3-1-4-1-1-1 1-1 5-1-4-1 0-1 0-1 3-1 0-1-1-1 2-1 1-1-3-1 0-1 1-1-1-1 0-1-2-1-2-1 0-1-2-1-1-1 5-1-4-1-2-1 3-1 5-1-1-1 1-1-3-1 0-1-1-1 1-1 5-1 1-1 3-1 0-1-4-1-2-1-2-1 2-1-2-1 6-1-2-1-1-1 1-1 0-1 0-1 0-1 4-1-2-1-1-1 1-1 3-1 0-1 2-1-1-1-1-1 4-1-2-1 1-1-1-1 2-1 0-1-9-1 3-1 3-1-3-1 0-1-9-1 3-1-1-1-3-1 4-1-4-1-1-1 3-1-1-1 2-1-1-1 0-1 1-1 1-1-3-1 6-1-3-1-6-1 0-1 0-1 4-1-4-1-2-1 1-1 11-1-4-1 3-1 2-1-7-1 1-1-1-1-3-1 3-1-3-1 3-1 1-1-3-1 4-1-2-1 2-1-2-1 2-1-1-1 0-1-9-1 3-1-1-1 1-1 5-1-4-1-2-1 9-1-3-1-2-1 0-1 1-1 0-1 1-1-1-1 0-1 2-1 1-1 0-1-2-1 0-1 0-1 1-1-1-1 1-1-2-1 3-1-6-1 0-1-1-1 1-1-1-1-1-1 1-1 3-1 2-1-2-1 3-1-2-1-1-1 0-1-1-1 1-1-2-1 0-1 0-1 4-1 1-1-1-1 2-1-5-1-3-1-4-1 3-1 1-1-3-1 1-1-1-1-1-1-2-1 0-1 0-1 4-1-1-1-3-1 1-1 3-1-3-1-5-1 1-1-2-1 1-1 0-1-2-1-1-1 0-1 5-1 1-1-10-1 6-1-2-1-3-1 5-1-1-1-1-1 2-1-2-1 0-1-2-1 1-1 0-1 0-1-2-1-2-1 1-1 0-1-2-1-3-1 5-1-2-1 0-1-6-1 3-1-1-1 5-1-7-1 0-1 1-1-5-1 1-1 2-1 5-1-4-1-4-1 2-1-2-1 2-1-4-1-1-1-1-1-2-1 3-1 3-1-4-1 0-1 5-1 0-1-5-1-3-1 2-1-3-1-1-1 0-1-2-1 0-1 1-1-2-1 2-1 3-1-4-1-4-1 4-1 1-1-2-1 0-1 2-1-1-1 0-1-3-1 1-1 0-1-6-1 1-1-2-1 1-1-1-1 0-1 0-1-1-1-4-1-1-1-1-1-2-1-2-1-1-1-4-1 1-1 0-1 4-1-3-1-5-1-3-1-5-1 1-1-8-1 3-1-7-1 0-1-6-1-1-1-6-1-4-1-3-1 0-1-3-1-3-1-6-1 0-1-5-1-3-1-5-1-2-1-3-1-5-1-5-1-3-1 273z"/>
<path class="lM" d="M0 1422l1-90 1-2 1 0 1-1 1 0 1 1 1-1 1-2 1-1 1-3 1-2 1 2 1 0 1 1 1-1 1 0 1 3 1 5 1 5 1 1 1 3 1 0 1 5 1-5 1 3 1 8 1 0 1 3 1-3 1-3 1 1 1-1 1-6 1-3 1 1 1-9 1 1 1 1 1-2 1 2 1-3 1-1 1-1 1 3 1-3 1 3 1 0 1 6 1 0 1-2 1 5 1 1 1-5 1 4 1-2 1 1 1 0 1 5 1-1 1-1 1 4 1-5 1 1 1 3 1-4 1-4 1 1 1 6 1-4 1-1 1 4 1 2 1-1 1 6 1 4 1-2 1 2 1 0 1-2 1 5 1-3 1 2 1-3 1 2 1 1 1 0 1 1 1-4 1 2 1 0 1-1 1 5 1-5 1 8 1-6 1 1 1 0 1-2 1 1 1 0 1-1 1 1 1 1 1 0 1 4 1-3 1-1 1 1 1 1 1 0 1 1 1 1 1 0 1 5 1-5 1 1 1 0 1-4 1 7 1-3 1 2 1 2 1-2 1 4 1-5 1 1 1 3 1-5 1-1 1 6 1-5 1 6 1-3 1 2 1 1 1 0 1-3 1 1 1 2 1-2 1-1 1-3 1 1 1 1 1 0 1 7 1-4 1-3 1 1 1 1 1-1 1-1 1 5 1 0 1 1 1-3 1 1 1 0 1 1 1-3 1 2 1-1 1-2 1 1 1-4 1 5 1-2 1 1 1 2 1 6 1-7 1 1 1-2 1 0 1 3 1 4 1-1 1 1 1-3 1 2 1-3 1 2 1 0 1 0 1 4 1-4 1 0 1-2 1 4 1 0 1-2 1 2 1 0 1-4 1 3 1 0 1-1 1 1 1 4 1-1 1 2 1 0 1 2 1-4 1 2 1-2 1 1 1 1 1 1 1 0 1 4 1-4 1 5 1 4 1-5 1 1 1 1 1-4 1-3 1 3 1 0 1 1 1-4 1 9 1-3 1-3 1 0 1 1 1-1 1 1 1 0 1 2 1 4 1-2 1 1 1 2 1-5 1 2 1-3 1 2 1 1 1-2 1 4 1-8 1 1 1 0 1-4 1 1 1 2 1-3 1 2 1-3 1 1 1 3 1-2 1 1 1 3 1 0 1-1 1 0 1-1 1-1 1 1 1 2 1 0 1-1 1 2 1-1 1 5 1-6 1 6 1-2 1 1 1 2 1 1 1 2 1 0 1-1 1-1 1-3 1 3 1-6 1 4 1-1 1-2 1 1 1-1 1-7 1 0 1 6 1 2 1-5 1 2 1-3 1 0 1 2 1 1 1 0 1 0 1-2 1 1 1-3 1-1 1 2 1 0 1 2 1 2 1 1 1-1 1 1 1-4 1 0 1 1 1-3 1-4 1 2 1 5 1 0 1-1 1 3 1 2 1-3 1-4 1 2 1 6 1-1 1-2 1-1 1-1 1-5 1 3 1 5 1 1 1-3 1 0 1 0 1 3 1 4 1-4 1 5 1-5 1 1 1-6 1 2 1-2 1-5 1 3 1 0 1 1 1-5 1-3 1-2 1 5 1 0 1-1 1-2 1 3 1 2 1-1 1 0 1-4 1 1 1-3 1 0 1-5 1 3 1 0 1 1 1 1 1 1 1 3 1-4 1 6 1-4 1 7 1-1 1 5 1-2 1-2 1 5 1 1 1 4 1-5 1-2 1-1 1-2 1 1 1-1 1 3 1-7 1 4 1-3 1 1 1 3 1 3 1-2 1 0 1-2 1 1 1-2"/>
</g>
<path fill="#FE00CE" d="M84.28,559.29l9.15,9.15l9.15,-9.15l-9.15,-9.15l9.15,-9.15l-9.15,-9.15l-9.15,9.15l-9.15,-9.15l-9.15,9.15l9.15,9.15l-9.15,9.15l9.15,9.15ZM431.64,570.37l9.15,9.15l9.15,-9.15l-9.15,-9.15l9.15,-9.15l-9.15,-9.15l-9.15,9.15l-9.15,-9.15l-9.15,9.15l9.15,9.15l-9.15,9.15l9.15,9.15Z"/>
</g>
</g>
<g id="p_f">
<rect x="581.35" y="461.72" width="364.8" height="317.8" fill="#E5ECF6"/>
<path d="M676.99,461.72v317.8M763.83,461.72v317.8M850.67,461.72v317.8M937.51,461.72v317.8M581.35,699.94h364.8M581.35,604h364.8M581.35,506.96h364.8" stroke="#fff" stroke-width="1.85" fill="none"/>
<path d="M590.15,461.72v317.8" stroke="#fff" stroke-width="3.6" fill="none"/>
<g clip-path="url(#cf)">
<g transform="translate(590.15,892.77) scale(0.8684,-0.24095)">
<path class="bR" d="M0 1176l1-104 1 21 1 18 1 17 1 15 1 14 1 15 1 12 1 12 1 8 1 7 1 10 1 7 1 6 1 6 1 2 1 6 1 7 1 4 1 6 1 6 1 3 1 5 1 4 1 5 1 5 1 5 1 5 1 4 1 5 1 6 1 4 1 5 1 2 1 2 1 4 1 3 1 4 1 3 1 2 1 5 1 1 1 1 1 1 1 3 1 2 1-1 1 4 1 0 1 0 1 2 1 3 1-1 1 1 1 3 1 1 1 0 1 1 1 2 1 3 1 2 1 0 1 0 1 3 1 1 1 1 1-1 1 2 1 1 1 1 1 2 1 0 1 3 1 1 1 0 1 3 1 1 1 0 1 2 1 2 1 1 1-1 1 2 1 1 1-1 1 0 1 2 1 0 1 1 1 1 1-2 1 0 1 2 1 3 1-1 1 1 1-1 1 2 1 2 1-2 1 0 1 1 1 0 1 1 1 0 1 0 1-1 1 3 1-2 1-1 1 2 1-1 1-1 1 2 1-2 1 0 1 0 1 0 1 2 1-2 1-1 1 0 1-1 1 2 1 0 1-1 1 6 1 0 1 0 1-1 1 0 1 1 1 0 1 0 1 1 1 0 1 0 1 1 1 0 1 0 1 0 1-1 1 0 1 1 1 0 1-1 1 1 1 1 1 2 1-1 1 0 1 1 1-1 1 0 1 0 1 0 1 0 1-2 1 4 1 1 1 3 1-3 1-1 1 0 1-3 1 1 1 0 1-1 1 3 1 0 1 0 1-1 1 1 1-1 1-1 1 0 1-5 1 1 1-2 1 1 1 0 1 2 1 1 1-2 1 1 1 2 1 0 1 1 1-2 1 1 1 1 1 1 1-2 1 2 1 0 1 1 1-1 1 0 1 1 1-1 1 0 1 0 1 2 1 0 1 0 1 2 1 0 1 1 1 1 1-1 1-2 1 2 1-1 1 0 1-1 1-2 1 1 1 1 1 4 1 1 1 0 1 0 1-1 1 0 1 1 1-1 1 0 1 0 1 1 1-1 1 1 1-1 1 0 1-2 1 3 1-4 1 1 1 0 1 2 1 0 1 1 1-2 1 1 1 0 1 2 1-1 1 0 1-2 1 2 1 1 1 0 1 1 1-1 1-2 1 1 1 1 1 0 1-4 1 1 1 1 1-1 1-1 1 6 1 0 1 0 1 1 1 1 1-2 1 1 1 1 1-2 1 0 1 1 1 1 1 1 1 0 1 0 1-1 1 2 1-1 1 0 1 0 1 1 1-2 1 0 1 3 1-2 1-2 1 1 1 0 1-1 1 2 1 0 1-1 1 2 1-2 1 1 1-1 1 0 1 0 1 0 1 1 1 2 1 1 1 0 1 0 1 1 1 1 1-2 1-1 1 0 1-1 1-2 1 1 1-1 1 1 1 0 1-1 1 3 1 2 1 1 1 2 1-2 1 1 1 0 1 0 1-1 1-1 1-1 1-1 1 0 1 0 1 0 1 2 1-2 1 1 1-2 1 0 1 1 1-1 1 0 1 1 1-1 1 2 1-1 1 0 1 0 1 0 1-3 1 1 1-1 1 2 1 2 1 0 1-1 1 0 1 0 1 1 1-1 1 1 1 0 1-2 1 0 1 1 1 1 1 1 1 0 1 0 1-1 1 0 1 0 1-1 1 0 1 2 1-1 1 0 1 1 1-1 1 1 1-2 1 1 1 1 1 1 1-2 1 1 1-1 1-1 1-1 1-3 1 0 1 0 1-1 1 2 1 1 1-3 1 2 1 2 1-2 1-1 1-4 0-48-1 2-1 0-1 0-1-1-1 1-1 1-1-1-1 1-1 1-1 1-1 0-1 1-1 0-1 1-1 1-1 0-1 1-1-2-1 1-1-2-1-3-1 0-1 0-1-1-1 0-1 2-1-1-1 2-1-1-1-1-1 1-1-1-1 1-1 0-1-2-1-1-1 0-1-2-1 2-1 0-1-1-1 2-1-2-1 3-1-1-1 1-1-1-1 0-1 1-1-3-1 3-1 0-1 1-1 0-1-1-1 0-1 1-1 0-1 1-1-3-1 1-1-1-1-1-1-1-1 0-1 2-1-2-1 0-1-1-1-1-1 2-1 1-1 0-1 1-1 0-1 0-1-2-1 1-1 1-1-2-1-2-1 0-1 1-1 0-1 0-1 2-1 0-1 1-1-1-1 3-1-2-1 3-1-1-1-4-1 0-1-1-1 0-1 1-1 0-1-1-1-1-1 2-1 1-1-2-1 2-1-3-1 1-1 4-1-3-1 2-1-1-1-1-1 0-1 0-1 0-1-2-1 3-1 3-1-1-1 1-1 1-1-2-1 1-1-2-1-4-1 1-1-1-1 1-1-1-1 2-1 0-1-1-1 0-1 1-1-1-1 0-1 1-1-3-1-1-1 0-1 1-1 1-1 1-1-2-1 0-1 0-1 0-1 2-1-1-1 1-1-1-1 0-1 0-1 1-1 0-1-2-1 1-1-2-1 1-1 0-1 1-1-2-1 1-1-1-1 1-1 0-1 0-1-1-1-2-1-1-1-1-1 1-1 1-1 6-1-2-1 0-1 0-1 1-1 1-1-3-1 1-1-1-1 0-1 2-1 0-1-1-1-1-1 1-1 0-1 2-1 1-1-2-1-1-1-2-1-1-1 0-1 0-1-5-1 1-1 0-1 1-1 0-1-2-1 0-1 2-1-1-1 1-1 0-1-2-1 0-1 0-1 0-1-1-1-1-1 0-1 0-1 2-1-2-1-1-1 0-1 1-1 2-1 0-1-1-1-1-1 2-1 1-1-2-1 0-1 0-1 2-1-3-1 2-1-1-1-1-1 0-1 1-1-1-1 2-1-2-1 0-1-1-1 3-1-1-1 0-1-1-1 1-1 0-1 0-1 0-1-1-1 2-1-3-1 0-1 1-1 0-1 0-1-1-1 2-1 1-1-1-1 0-1-4-1-4-1 1-1-2-1 0-1 1-1-2-1 2-1 0-1 1-1 0-1-1-1-1-1 0-1 0-1 0-1-1-1 1-1 2-1-3-1 2-1-2-1 2-1-1-1 2-1 0-1 0-1-1-1-1-1 0-1 2-1 0-1-1-1 1-1-1-1 1-1-1-1 1-1 0-1 0-1-3-1 1-1-1-1 0-1 1-1-2-1 0-1-1-1-1-1 0-1-1-1 1-1-2-1-2-1-1-1-1-1 0-1-1-1-1-1 0-1-1-1-1-1-2-1 0-1-2-1-1-1 0-1-2-1 1-1-1-1-1-1-1-1-4-1 0-1-1-1-2-1-1-1-2-1-1-1-2-1 1-1-1-1-2-1-2-1-2-1 0-1-2-1 0-1-4-1 0-1-2-1-5-1 0-1-2-1-1-1 0-1-3-1-2-1-3-1-3-1-4-1-2-1-2-1-4-1-4-1-3-1-5-1-5-1-4-1-4-1-7-1-5-1-5-1-4-1-3-1-8-1-3-1-8-1-5-1-5-1-3-1-4-1-2-1-6-1-7-1-4-1-8-1-9-1-8-1-10-1-11-1-11-1-12-1-11-1-14-1-16-1-16-1 124z"/>
<path class="lR" d="M0 1176l1-114 1 19 1 16 1 15 1 14 1 13 1 13 1 12 1 9 1 8 1 8 1 8 1 5 1 7 1 6 1 3 1 3 1 6 1 4 1 7 1 6 1 5 1 7 1 4 1 4 1 4 1 6 1 5 1 5 1 5 1 6 1 4 1 4 1 2 1 4 1 4 1 2 1 5 1 2 1 3 1 3 1 2 1 0 1 1 1 1 1 2 1 3 1 2 1 0 1 2 1 1 1 0 1 1 1 1 1 2 1 3 1 2 1-1 1 2 1 2 1 2 1 1 1 1 1 2 1 1 1 0 1 0 1 2 1 1 1-1 1 3 1 1 1 3 1 1 1 0 1 1 1 1 1 2 1 1 1 1 1 0 1 0 1 2 1 0 1 1 1 4 1-1 1 2 1 1 1 0 1 0 1 0 1 2 1 0 1 0 1 0 1-1 1 2 1 1 1 0 1-1 1 1 1 0 1 1 1 0 1 1 1-1 1 2 1-1 1 1 1 1 1-1 1 0 1 0 1-1 1-1 1 0 1-2 1 4 1-2 1-1 1 0 1-1 1 1 1 1 1 0 1 1 1-1 1 0 1-1 1-1 1 1 1 1 1 0 1 1 1 0 1-1 1 2 1-1 1 0 1 1 1 0 1 0 1 1 1 0 1-2 1 1 1 2 1 0 1-2 1 1 1 1 1-2 1 0 1 2 1 1 1 0 1-2 1 1 1 1 1 2 1-1 1 0 1-1 1-1 1 2 1 0 1-1 1 2 1-2 1 2 1-1 1 1 1-2 1 1 1 1 1-1 1 0 1-3 1 1 1 0 1 2 1 0 1-1 1 0 1 1 1 0 1 2 1-2 1 1 1 1 1 1 1 1 1-1 1 1 1 0 1-2 1 1 1-1 1 0 1 1 1-1 1 0 1 0 1 0 1 1 1 1 1 1 1 0 1 1 1-2 1 1 1 1 1-1 1 0 1 0 1 0 1 0 1 3 1 0 1 0 1 0 1-1 1 0 1 0 1 0 1 2 1-2 1 0 1 1 1 1 1-1 1 0 1 0 1 1 1-1 1 1 1 0 1 1 1-1 1 1 1-1 1 0 1 0 1 2 1-1 1 0 1-1 1 0 1 2 1-2 1 1 1-2 1-1 1 1 1-1 1 1 1 0 1-1 1 1 1 1 1 1 1 1 1 0 1 0 1 3 1 0 1-1 1 0 1 1 1-2 1 1 1-1 1 2 1-1 1 0 1 2 1-2 1 2 1-1 1-1 1 0 1 1 1-1 1 1 1 1 1-1 1-1 1 2 1-1 1 0 1 0 1 1 1-1 1 1 1-2 1 2 1-1 1 0 1-1 1 1 1 0 1-1 1-1 1 1 1 2 1 0 1 1 1-2 1 2 1-2 1-1 1-1 1 1 1 0 1 0 1 1 1-2 1 0 1 3 1 0 1-1 1-1 1 2 1 1 1-1 1-2 1 1 1 0 1-2 1 1 1 1 1-2 1 1 1-1 1 1 1 0 1 1 1 1 1 1 1 0 1-1 1 1 1-1 1 0 1 2 1-1 1-1 1-1 1-1 1 1 1 1 1 1 1 0 1-1 1 1 1-2 1 3 1-1 1 1 1 1 1 0 1 0 1 1 1 0 1 1 1 0 1-1 1 1 1 0 1-1 1 1 1 0 1 1 1-1 1 1 1-1 1 0 1 0 1-2 1 1 1 1 1 1 1 0 1 0 1-1 1-1 1 1 1 0 1-2 1 1 1-2 1 0 1 0 1-1 1 1 1 1 1-1 1-1 1-1"/>
</g>
<path fill="#FD3216" d="M590.15,618.56l9.15,9.15l9.15,-9.15l-9.15,-9.15l9.15,-9.15l-9.15,-9.15l-9.15,9.15l-9.15,-9.15l-9.15,9.15l9.15,9.15l-9.15,9.15l9.15,9.15ZM937.51,561.70l9.15,9.15l9.15,-9.15l-9.15,-9.15l9.15,-9.15l-9.15,-9.15l-9.15,9.15l-9.15,-9.15l-9.15,9.15l9.15,9.15l-9.15,9.15l9.15,9.15Z"/>
<g transform="translate(590.15,892.77) scale(0.8684,-0.24095)">
<path class="bG" d="M0 1176l1-536 1 53 1 41 1 30 1 24 1 19 1 17 1 11 1 7 1 12 1 8 1 6 1 9 1 7 1 7 1 8 1 4 1 7 1 6 1 5 1 6 1 5 1 7 1 2 1 8 1 6 1 8 1 4 1 5 1 4 1 5 1 3 1 5 1 3 1 5 1 3 1 4 1 2 1 5 1 4 1 4 1 2 1 4 1 3 1 4 1 5 1 5 1 0 1 4 1 0 1 1 1 1 1 4 1 2 1 4 1 1 1 3 1-1 1 1 1 0 1 2 1 0 1 3 1 1 1 1 1 3 1 0 1 1 1 4 1 1 1 3 1 2 1 7 1 5 1 2 1 1 1 1 1 4 1 0 1 1 1 3 1 2 1 3 1 1 1 2 1 0 1 0 1 0 1 0 1 2 1-1 1 4 1-1 1 4 1 1 1 2 1-1 1 3 1 2 1 2 1-1 1 1 1 0 1 3 1 2 1 1 1 5 1 0 1 2 1 0 1 2 1 0 1 3 1 1 1 2 1 2 1 1 1 1 1 2 1 5 1-1 1 2 1 2 1 2 1 1 1 1 1-4 1 2 1 1 1 3 1 0 1 2 1 1 1 1 1 0 1 3 1 0 1-1 1 3 1 0 1 2 1-1 1 4 1 1 1 1 1-1 1 2 1 0 1 3 1 0 1 1 1 1 1 1 1 3 1 1 1 1 1 1 1 1 1 4 1 1 1-2 1 1 1 1 1 0 1 3 1-1 1 0 1 0 1-1 1 2 1 0 1 1 1 1 1 2 1-1 1 2 1 0 1 1 1 1 1-1 1 2 1-3 1 1 1 2 1 3 1 1 1-1 1 1 1 0 1-1 1 2 1-1 1 0 1 1 1 0 1 0 1 0 1 1 1 0 1 3 1 2 1 4 1 0 1 2 1 2 1 0 1 3 1 2 1 1 1 3 1 1 1 0 1-2 1-1 1 0 1 0 1 0 1 2 1 1 1-1 1 1 1-2 1-1 1 1 1 0 1 1 1 2 1 2 1 1 1-2 1 2 1 1 1-1 1 1 1 1 1 2 1 0 1 1 1 0 1 1 1 3 1-2 1 0 1-1 1 3 1-2 1 1 1 1 1 1 1 3 1 1 1-2 1 2 1-3 1 1 1-1 1 1 1 1 1 1 1 2 1-1 1 3 1 1 1 2 1 0 1-2 1-1 1 1 1 0 1 2 1 1 1 0 1 0 1-1 1-1 1 0 1-1 1 1 1 0 1-1 1 1 1-1 1 1 1 1 1 2 1-1 1-1 1 0 1 2 1-1 1-1 1 2 1 0 1-2 1 0 1-1 1-1 1 3 1-1 1 0 1 2 1 0 1 1 1-2 1 0 1-4 1 0 1 6 1-2 1 2 1 0 1 0 1 1 1-1 1 1 1 1 1 0 1 1 1 0 1 1 1 1 1-1 1 0 1-1 1 1 1-2 1 1 1 0 1-1 1 1 1 3 1-1 1 1 1 0 1 0 1 6 1 1 1-3 1 1 1 2 1-2 1 1 1-4 1 0 1 2 1-2 1-1 1 2 1-1 1 1 1 0 1 1 1 1 1-1 1 1 1 1 1 0 1 0 1 0 1 1 1-1 1 0 1 1 1 2 1-4 1 0 1 1 1 3 1-1 1-1 1 3 1 0 1 0 1 1 1-1 1 2 1-1 1-2 1 0 1 1 1-1 1 0 1 1 1 0 1 0 1-1 1 2 1-1 1 2 1 2 1 1 1-2 1 2 1 0 1-1 1 2 1-2 1 2 1-1 1 1 0-86-1-2-1-1-1 0-1 0-1 0-1 1-1-2-1-1-1 3-1 0-1-2-1-1-1 1-1-2-1 1-1 0-1-1-1 0-1-1-1 3-1-1-1-2-1 2-1-2-1 0-1-1-1-2-1 2-1 0-1-1-1 0-1-2-1-1-1 1-1 0-1-2-1 1-1-2-1 0-1-3-1 2-1-2-1 0-1-1-1 0-1 7-1 0-1-2-1-3-1 2-1 2-1 0-1-2-1 0-1-1-1-1-1 1-1-1-1 0-1 1-1 0-1 1-1-2-1 1-1-2-1-1-1 1-1-1-1 1-1-2-1 1-1-1-1 0-1 1-1-1-1 0-1 2-1 1-1-1-1 1-1 1-1-1-1-2-1 1-1-2-1 1-1-1-1 0-1 1-1-1-1-2-1-1-1 0-1 0-1 0-1 0-1 0-1-2-1 2-1-1-1 2-1-2-1 0-1-1-1-1-1 1-1 2-1 0-1 0-1 0-1 0-1-1-1-1-1 0-1 2-1-1-1 1-1 1-1-2-1 1-1-1-1-1-1 1-1 0-1-1-1 1-1 3-1-2-1-1-1 0-1 0-1-3-1 2-1-1-1 3-1 0-1-1-1 1-1 0-1 0-1-4-1 0-1-2-1 0-1 0-1 1-1 1-1-1-1 0-1-1-1 0-1-1-1 0-1-4-1 0-1-2-1 1-1-3-1 1-1-1-1 0-1 0-1 0-1 0-1 1-1-3-1 2-1-1-1-1-1-3-1 2-1-1-1-2-1-1-1-2-1 2-1-1-1 0-1 0-1-2-1-3-1 1-1-1-1 4-1-1-1 2-1-1-1 2-1 0-1-2-1 0-1-2-1-1-1-3-1-3-1-4-1-1-1 0-1-3-1 1-1-2-1 2-1-3-1 0-1-3-1 0-1 1-1-1-1-1-1-3-1 0-1-1-1 0-1-1-1 3-1-1-1 1-1-1-1-1-1-2-1-2-1 1-1 0-1 1-1-3-1-1-1-2-1 1-1 0-1-1-1-1-1 0-1-1-1-3-1 1-1 2-1-2-1 2-1-1-1 0-1-1-1-1-1 0-1-1-1 0-1-1-1-2-1-1-1-2-1 0-1 0-1-3-1 0-1 1-1 1-1-1-1-5-1-5-1-2-1-1-1-2-1 0-1-1-1 1-1-2-1 0-1-3-1-2-1 1-1-2-1-2-1 0-1-2-1-3-1-2-1-1-1-1-1-3-1-2-1 3-1-3-1-2-1-2-1-2-1-3-1 1-1-1-1-2-1-1-1-2-1 0-1-3-1-6-1-1-1-4-1-1-1-3-1 2-1-4-1 0-1-4-1 0-1-2-1-1-1 1-1-2-1-4-1-1-1 0-1-2-1 0-1 1-1-2-1-1-1-1-1-1-1-2-1-1-1-3-1 0-1-3-1-1-1-4-1-2-1-1-1-2-1-6-1-2-1-2-1-4-1-3-1-2-1-2-1 0-1-3-1-2-1-2-1-2-1-1-1-3-1 1-1 0-1 0-1-2-1-4-1-1-1 1-1-4-1-1-1-3-1-2-1-1-1-4-1-3-1-3-1-3-1-3-1-6-1-3-1-1-1-5-1-4-1-4-1-3-1-3-1-2-1-5-1-5-1-3-1-3-1-6-1-8-1-3-1-5-1-5-1-5-1-3-1-6-1-3-1-5-1-8-1-5-1-7-1-6-1-6-1-8-1-9-1-8-1-7-1-7-1-9-1-8-1-6-1-10-1-14-1-17-1-23-1-30-1-40-1 560z"/>
<path class="lG" d="M0 1176l1-548 1 47 1 36 1 26 1 22 1 16 1 14 1 8 1 11 1 9 1 9 1 5 1 9 1 8 1 7 1 7 1 6 1 8 1 5 1 6 1 6 1 4 1 6 1 3 1 6 1 4 1 5 1 4 1 5 1 3 1 5 1 3 1 4 1 6 1 4 1 1 1 5 1 3 1 4 1 3 1 5 1 2 1 5 1 3 1 3 1 3 1 3 1 3 1 2 1 2 1 2 1 0 1 5 1 2 1 1 1 1 1 3 1 0 1 0 1-1 1 3 1 1 1 3 1 2 1 1 1 3 1 0 1 2 1 2 1 2 1 4 1 2 1 3 1 5 1 2 1 1 1 2 1 5 1-1 1 3 1 2 1 2 1 2 1 2 1 1 1 1 1 0 1 0 1 1 1 3 1 0 1 1 1 1 1 3 1 0 1 2 1 1 1 1 1 1 1 4 1 1 1 1 1-1 1 4 1 1 1 1 1 3 1 1 1 2 1 2 1 3 1 0 1 2 1 2 1 0 1 4 1 1 1 1 1 1 1 3 1 1 1 1 1 2 1 2 1 2 1 0 1 2 1 4 1 0 1 1 1 2 1 2 1 0 1 4 1-1 1 4 1 0 1 0 1 0 1 0 1 3 1 0 1 4 1 2 1 1 1-2 1 1 1 1 1 1 1 2 1 1 1 1 1 2 1 2 1 0 1 1 1 2 1-1 1 1 1 2 1-1 1 0 1 2 1 2 1 0 1-1 1 2 1 1 1 0 1 0 1 1 1 1 1 2 1 1 1 0 1 2 1 0 1 1 1 1 1-1 1 2 1 0 1-1 1 0 1 1 1 2 1 1 1-1 1 0 1 0 1 2 1 0 1 0 1-1 1 0 1 2 1 0 1 2 1 0 1 1 1 1 1 2 1 0 1 2 1 1 1 3 1 2 1 2 1 2 1 2 1 1 1 0 1-2 1-1 1 0 1-1 1-2 1 1 1 0 1 1 1 2 1 0 1 0 1 0 1 0 1 1 1 1 1 0 1 1 1 0 1 3 1 0 1 1 1 0 1 2 1-1 1 0 1 1 1 0 1 0 1 2 1-2 1 3 1-2 1 3 1-1 1 3 1 0 1 2 1 1 1 1 1-1 1 1 1 0 1-1 1-1 1 0 1 3 1 1 1 2 1 0 1-1 1 1 1 3 1-2 1-2 1 0 1-1 1 1 1 1 1 1 1 0 1 2 1-2 1-1 1 1 1 0 1 0 1 0 1 1 1-2 1 2 1 1 1-1 1 2 1-1 1-1 1 0 1 2 1 0 1-1 1 2 1 0 1-1 1-1 1 0 1 0 1 1 1 1 1-1 1 1 1-2 1 1 1 0 1 0 1 1 1 0 1 1 1-1 1 1 1 0 1-1 1 0 1 0 1 1 1 0 1 0 1 2 1 1 1 1 1-1 1 0 1 1 1 0 1 0 1 2 1 0 1 1 1-1 1-1 1 1 1-1 1 0 1 1 1-1 1 3 1-1 1-2 1 0 1 2 1-1 1 1 1 0 1 0 1 0 1 1 1-1 1 1 1-1 1 2 1 1 1-1 1 2 1 0 1 0 1 1 1 0 1 1 1 1 1-1 1 0 1 1 1 1 1 0 1 0 1 1 1-2 1 1 1 1 1-1 1 0 1 1 1-2 1 2 1 1 1 0 1 0 1 0 1 1 1 0 1-2 1 1 1 0 1-1 1 1 1-1 1 1 1-2 1 2 1 1 1 2 1-1 1 1 1 1 1-1 1 1 1 0 1 0 1 0 1 1"/>
</g>
<path fill="#00FE35" d="M590.15,618.56l9.15,9.15l9.15,-9.15l-9.15,-9.15l9.15,-9.15l-9.15,-9.15l-9.15,9.15l-9.15,-9.15l-9.15,9.15l9.15,9.15l-9.15,9.15l9.15,9.15ZM937.51,598.32l9.15,9.15l9.15,-9.15l-9.15,-9.15l9.15,-9.15l-9.15,-9.15l-9.15,9.15l-9.15,-9.15l-9.15,9.15l9.15,9.15l-9.15,9.15l9.15,9.15Z"/>
<g transform="translate(590.15,892.77) scale(0.8684,-0.24095)">
<path class="bB" d="M0 1176l1-108 1 24 1 20 1 19 1 16 1 14 1 15 1 13 1 14 1 8 1 13 1 6 1 7 1 9 1 5 1 6 1 4 1 6 1 3 1 5 1 5 1 6 1 6 1 5 1 4 1 6 1 3 1 5 1 6 1 3 1 5 1 5 1 5 1 5 1 2 1 5 1 6 1 3 1 2 1 3 1-3 1 4 1 1 1 0 1 1 1 1 1 1 1 4 1 2 1 0 1 3 1 2 1 1 1 2 1 0 1 1 1 2 1 3 1-1 1 1 1 2 1 1 1 1 1 0 1 2 1 3 1 0 1-3 1 2 1 0 1 3 1 3 1 0 1 2 1 2 1 1 1 1 1 2 1 1 1 0 1 1 1 2 1 2 1 0 1 2 1-1 1 2 1 0 1 2 1 1 1 0 1-1 1 2 1 1 1-1 1 0 1 2 1 0 1 1 1 0 1 0 1 0 1-2 1 0 1 0 1 1 1-1 1 1 1-1 1 0 1 0 1 1 1-1 1-2 1 4 1-2 1-4 1 1 1 0 1-1 1 1 1-2 1 0 1 1 1 0 1 1 1 2 1-1 1 1 1 2 1 0 1 0 1-1 1 2 1 1 1-2 1-1 1 3 1-2 1 1 1-1 1 0 1 1 1 2 1 1 1-1 1-1 1-1 1 1 1-1 1 2 1-2 1 0 1 2 1 0 1 0 1 1 1 1 1-3 1 1 1 3 1 2 1-2 1 2 1 0 1-1 1 2 1 0 1 0 1 0 1-1 1 0 1 0 1 1 1 0 1-1 1 2 1-1 1-3 1 3 1-1 1 3 1 0 1 0 1-1 1-1 1-3 1 2 1 0 1 2 1-1 1 2 1-2 1 0 1 0 1 1 1 0 1-2 1 3 1-2 1 1 1 0 1-1 1 1 1-1 1-1 1 1 1 0 1 2 1 2 1 0 1-1 1-1 1 0 1 0 1 1 1 1 1-1 1 0 1 1 1 2 1 0 1 2 1-1 1-1 1 0 1-1 1 0 1 0 1-1 1 1 1 2 1-1 1-1 1-1 1 1 1-1 1 0 1 3 1 0 1 0 1 1 1-1 1 0 1 0 1-1 1 1 1 2 1-2 1 3 1 0 1-2 1 0 1 2 1-1 1-2 1 0 1 1 1 1 1-1 1 2 1-1 1-3 1 1 1 1 1 3 1 0 1-3 1 1 1-2 1 3 1-1 1 0 1 0 1-1 1-1 1 1 1 0 1-1 1 1 1 0 1-1 1-1 1 1 1-1 1-5 1 0 1 0 1 2 1 1 1 0 1 0 1 0 1 4 1-2 1-4 1 3 1 1 1-2 1 3 1 0 1 1 1 1 1 0 1 2 1-1 1 1 1 0 1 0 1 1 1-1 1 0 1 0 1-1 1 0 1 0 1 0 1 3 1 0 1 2 1 0 1-2 1 1 1 0 1 2 1-1 1-2 1 1 1 0 1 0 1 1 1-1 1 0 1 1 1 1 1 0 1 0 1 0 1-3 1 0 1 3 1-1 1-1 1 0 1-3 1 1 1 1 1-2 1 0 1 0 1 1 1-2 1-1 1 2 1-1 1 0 1 0 1 0 1 1 1 1 1 0 1-1 1-1 1 2 1-1 1 2 1-1 1 0 1 0 1 1 1-1 1 2 1-1 1-1 1-1 1 1 1 0 1 0 1-4 1 2 1 0 1-1 1 0 1-1 1 1 1 0 1 0 1 0 1 4 1-2 1 1 1 0 1-1 1 0 1 2 1 1 1-1 1-3 1 2 1 2 0-65-1-1-1 0-1 0-1 1-1 0-1-2-1 1-1 3-1 1-1-2-1 1-1 0-1 0-1 0-1 2-1-2-1 0-1-2-1 3-1 0-1 2-1 0-1 0-1 1-1-1-1-1-1 0-1 1-1 0-1 2-1-3-1 0-1 0-1 2-1-1-1-1-1 1-1 0-1 1-1 0-1 0-1-4-1-2-1 1-1-1-1 0-1 0-1 2-1-2-1 0-1 0-1 1-1 1-1-1-1 1-1 0-1 0-1-2-1 0-1 0-1 0-1 2-1-1-1 0-1 0-1-1-1-1-1-2-1 3-1-1-1-2-1 1-1 0-1 1-1 1-1 1-1 0-1-1-1 1-1-1-1-2-1 1-1 0-1 2-1-3-1 2-1 0-1 0-1 0-1 2-1 0-1-2-1-1-1-1-1 2-1-1-1 1-1 2-1-3-1 0-1-2-1 1-1 1-1 0-1-2-1 1-1 0-1-2-1 1-1 0-1-1-1 1-1 0-1 0-1-2-1 4-1 1-1-1-1-1-1-1-1 1-1 1-1 0-1-1-1-1-1 2-1-3-1 1-1 0-1-1-1-1-1-2-1 0-1 1-1-1-1 0-1 5-1 1-1-2-1-1-1 1-1 0-1-2-1 1-1-1-1 2-1-1-1 0-1 1-1 1-1-2-1-1-1 1-1 0-1 0-1 3-1-1-1 0-1-2-1 1-1-1-1-2-1-1-1 1-1 2-1-3-1 2-1 1-1-1-1-1-1 1-1 2-1-2-1 1-1 0-1 1-1 1-1 0-1-1-1-2-1 2-1 1-1 1-1-1-1-1-1 2-1-1-1 0-1 1-1-1-1-3-1 1-1-2-1 2-1 0-1 1-1-1-1-1-1 0-1-2-1 0-1 1-1-4-1 2-1 0-1 0-1-1-1 1-1-1-1-1-1 1-1 3-1-1-1-3-1 1-1-1-1 1-1-3-1-1-1-1-1 1-1-1-1 0-1 0-1 1-1 1-1 0-1-3-1 0-1 2-1 0-1 0-1 2-1-2-1 1-1 0-1-4-1-2-1-1-1-1-1 0-1 0-1 0-1 0-1 3-1 0-1 1-1-1-1 1-1-1-1 0-1-1-1 1-1 0-1-1-1 1-1 1-1-1-1-1-1 2-1-2-1 1-1-3-1 0-1 1-1-1-1-2-1 0-1-1-1 3-1 0-1-2-1 1-1 0-1 0-1-2-1 0-1-2-1 2-1-5-1 0-1 1-1-1-1 1-1 0-1-1-1 2-1-1-1 0-1 0-1-1-1 1-1 1-1-1-1-2-1 1-1-1-1 0-1 0-1-1-1 1-1 1-1-2-1-1-1 0-1 0-1-3-1 0-1-1-1-3-1 1-1 1-1-2-1 0-1 2-1-2-1-1-1-2-1 4-1 0-1 0-1-3-1-1-1-4-1 0-1 0-1-1-1 0-1-3-1-1-1-4-1 0-1 0-1-2-1-3-1 0-1-1-1-4-1-3-1-1-1 1-1 0-1-6-1 1-1-1-1-3-1-2-1 1-1-4-1-3-1-1-1 0-1-2-1 1-1-3-1-1-1-1-1-2-1 0-1-2-1-3-1-3-1-3-1-5-1-5-1-2-1-7-1-4-1-4-1-5-1-4-1-4-1-5-1-5-1-6-1-5-1-6-1-6-1-5-1-5-1-2-1-6-1-4-1 0-1-6-1-6-1-4-1-7-1-6-1-8-1-7-1-12-1-9-1-11-1-10-1-12-1-11-1-14-1-15-1 128z"/>
<path class="lB" d="M0 1176l1-118 1 19 1 17 1 16 1 15 1 13 1 13 1 10 1 14 1 6 1 12 1 4 1 7 1 7 1 5 1 6 1 3 1 5 1 3 1 4 1 5 1 5 1 6 1 6 1 3 1 6 1 4 1 5 1 4 1 4 1 4 1 5 1 4 1 7 1 1 1 7 1 5 1 1 1 3 1 3 1 2 1 2 1 2 1 0 1 0 1 0 1 2 1 2 1 2 1 0 1 2 1 3 1 3 1 0 1 1 1 2 1-1 1 4 1 0 1 1 1 2 1 2 1 1 1 1 1 1 1 3 1 1 1 0 1 2 1 2 1 1 1 2 1 1 1 1 1 2 1 1 1 1 1 1 1 2 1 0 1 2 1-1 1 1 1 1 1 0 1-1 1 2 1 1 1 0 1 0 1 3 1-1 1-1 1 2 1 1 1-1 1 0 1 2 1 0 1-1 1 1 1 0 1 0 1 0 1-1 1 1 1 1 1 1 1-2 1 1 1-2 1 0 1 2 1-2 1 2 1-1 1 0 1 0 1-1 1 1 1 1 1-3 1 1 1 1 1 1 1 1 1 0 1 0 1 1 1 1 1 0 1 0 1 1 1 0 1 1 1 0 1 0 1 3 1 0 1 1 1-1 1 1 1-1 1 1 1 0 1-1 1 1 1-1 1 0 1-2 1 1 1 0 1 1 1 1 1-1 1-1 1 1 1 0 1-1 1-1 1 1 1 2 1 1 1 2 1-1 1-2 1 2 1 0 1 0 1 0 1 0 1 0 1 0 1 1 1 1 1-2 1 1 1 0 1-1 1 0 1 0 1 2 1 0 1-1 1 2 1-1 1 0 1 1 1 0 1 1 1 0 1 1 1-1 1 0 1 0 1 1 1-2 1-1 1 0 1 1 1 0 1 1 1-2 1 0 1-1 1 2 1-1 1 1 1 1 1 2 1 0 1 0 1-1 1 0 1-1 1 2 1 0 1 1 1-1 1-1 1 3 1-2 1 1 1-2 1-1 1-2 1 1 1 1 1-1 1 0 1-1 1 2 1-1 1 0 1 1 1 0 1-1 1 0 1 1 1 3 1-2 1 2 1-1 1 2 1-1 1 0 1 0 1 1 1 0 1 2 1-1 1-2 1-1 1 0 1-1 1 1 1 0 1 3 1-2 1 0 1 2 1-2 1 0 1 1 1 0 1 2 1 0 1 0 1 2 1-2 1 2 1-1 1 1 1-2 1-1 1 0 1-1 1 1 1 0 1 0 1 0 1 2 1 0 1 0 1-1 1 1 1 0 1-2 1 0 1 0 1 0 1-1 1 2 1 3 1-1 1 0 1 0 1 0 1 1 1 0 1 1 1 1 1 0 1 0 1 1 1-1 1 0 1-1 1 0 1 2 1-3 1 1 1 0 1 0 1-2 1 3 1-1 1 1 1 0 1-1 1 1 1 0 1 0 1 1 1 1 1-1 1-2 1 0 1 1 1 0 1 2 1-1 1 1 1-1 1 0 1 1 1 1 1 0 1-2 1 2 1 0 1-1 1 1 1 0 1-1 1 0 1 2 1-2 1-1 1 0 1 1 1 0 1-1 1 0 1 0 1 0 1-1 1 1 1 1 1 0 1 0 1-1 1 1 1-2 1 1 1 1 1-1 1 0 1 0 1 2 1-2 1 1 1-2 1 0 1 1 1 0 1 0 1-1 1 0 1 0 1 1 1-2 1 0 1-1 1 2 1-2 1 1 1-2 1 1 1 0 1 1 1 0 1 0 1-2 1 1 1 0 1 0 1-1 1 3 1 1"/>
</g>
<path fill="#6A76FC" d="M590.15,618.56l9.15,9.15l9.15,-9.15l-9.15,-9.15l9.15,-9.15l-9.15,-9.15l-9.15,9.15l-9.15,-9.15l-9.15,9.15l9.15,9.15l-9.15,9.15l9.15,9.15ZM937.51,560.49l9.15,9.15l9.15,-9.15l-9.15,-9.15l9.15,-9.15l-9.15,-9.15l-9.15,9.15l-9.15,-9.15l-9.15,9.15l9.15,9.15l-9.15,9.15l9.15,9.15Z"/>
<g transform="translate(590.15,892.77) scale(0.8684,-0.24095)">
<path class="bM" d="M0 1176l1 46 1 28 1 22 1 17 1 15 1 11 1 11 1 8 1 8 1 8 1 7 1 6 1 6 1 8 1 9 1 9 1 6 1 5 1 5 1 5 1 5 1 3 1 4 1 6 1 5 1 8 1 4 1 6 1 6 1 3 1 4 1 5 1 4 1 3 1 2 1 2 1 3 1 1 1 1 1 0 1 1 1 0 1 3 1 2 1 0 1-2 1 3 1 1 1-1 1 2 1-1 1 2 1-1 1 1 1 1 1 1 1 0 1 2 1 2 1 0 1-1 1 0 1 0 1 3 1-5 1-1 1 1 1 0 1 1 1 0 1 2 1-3 1 1 1 1 1 1 1 1 1 1 1 0 1-2 1 2 1-1 1 0 1 0 1-1 1 1 1 1 1 0 1 2 1-1 1 1 1-1 1-2 1 2 1-1 1 0 1 2 1 3 1 1 1 1 1 0 1 2 1 1 1-1 1 0 1-1 1 2 1 1 1-1 1-1 1 1 1-1 1 1 1 0 1-1 1-1 1 0 1 0 1 1 1 1 1 0 1-2 1-1 1 2 1-2 1 1 1 1 1 2 1-2 1 1 1 0 1 1 1 1 1 0 1 2 1-2 1 1 1-1 1 0 1 1 1-1 1 0 1 0 1 0 1-1 1 0 1-2 1 0 1-2 1 1 1-2 1 1 1 1 1-1 1 1 1 0 1 0 1 2 1 1 1-2 1 1 1-2 1 0 1-2 1 0 1 1 1 1 1 2 1-1 1-1 1 0 1-2 1 3 1 0 1 2 1-1 1 0 1-2 1 0 1 1 1-1 1 0 1 0 1 1 1 0 1-1 1 1 1 0 1-1 1 2 1-3 1 2 1 2 1 0 1-1 1 0 1 0 1-2 1 2 1 0 1-1 1 1 1 0 1 0 1-1 1 3 1-2 1 2 1-1 1 1 1 1 1-1 1 1 1 0 1 0 1-1 1-2 1-3 1 3 1 2 1-1 1 1 1-1 1-3 1-1 1 0 1 1 1 0 1-1 1 0 1 0 1 0 1 0 1 2 1 0 1-1 1 0 1 0 1-1 1 1 1 1 1-2 1 0 1 1 1 0 1 0 1 2 1-1 1 0 1-1 1-1 1 2 1-1 1-3 1 1 1 1 1-3 1-1 1 2 1 0 1-1 1 1 1-1 1 1 1 2 1 0 1 0 1 1 1-1 1 3 1 0 1-1 1 3 1-1 1 0 1-2 1 0 1 1 1-3 1 3 1 5 1 1 1-2 1 1 1-1 1-1 1 1 1 0 1 2 1-1 1-3 1 3 1-1 1 0 1 0 1-1 1 1 1-1 1 2 1-1 1 0 1 0 1 1 1 0 1-1 1 0 1 0 1-1 1 1 1 2 1-2 1 0 1-1 1 1 1-1 1 1 1 0 1 0 1 2 1 1 1 0 1-2 1 1 1-2 1 0 1 4 1-1 1 2 1-1 1 0 1 1 1 0 1 1 1-1 1 0 1 1 1-1 1-1 1 2 1-2 1 0 1-2 1-1 1 1 1 0 1-1 1-3 1 4 1 0 1 0 1 1 1-1 1 0 1 0 1 1 1-1 1 0 1 0 1-3 1 0 1 0 1-2 1 3 1-1 1-6 1 3 1-1 1-1 1 0 1 2 1 0 1 1 1-1 1-1 1 0 1 3 1-3 1 1 1-1 1 6 1 1 1-2 1 0 1-2 1 1 1 0 1 2 1 0 1 2 1-1 1-1 1 0 1 0 1 1 1 0 1-1 1-1 1 3 1 0 1-4 1 1 0-47-1 2-1 1-1 1-1-2-1 3-1-1-1 0-1 1-1-2-1 1-1 1-1-1-1 0-1-2-1 1-1-1-1-1-1 2-1-1-1 1-1-1-1 1-1-2-1 1-1 1-1-5-1 1-1 3-1-1-1 2-1 0-1-2-1 1-1-1-1 2-1-2-1 0-1-1-1 0-1 3-1 1-1-3-1 1-1-1-1 2-1-2-1-1-1 2-1 0-1 2-1-1-1 0-1-2-1 0-1 0-1 0-1-3-1-2-1 1-1 1-1-1-1 0-1-3-1 4-1 1-1 0-1-1-1 1-1 0-1 1-1-1-1-2-1 0-1 2-1-2-1 0-1 0-1 0-1 1-1 1-1 3-1-1-1-2-1 0-1-1-1-2-1 1-1 0-1 1-1 0-1 1-1-3-1 0-1 1-1-2-1 0-1 0-1 1-1 0-1 1-1 0-1 0-1-3-1 2-1 0-1 0-1 5-1-2-1 1-1 1-1-1-1-3-1 2-1 1-1-3-1 2-1 0-1-1-1 1-1 0-1 0-1 2-1 2-1-1-1-2-1 1-1-1-1-1-1-1-1 1-1 0-1 1-1-2-1 1-1-1-1 0-1-1-1 2-1 2-1 0-1-1-1 2-1-3-1 0-1-1-1 3-1 0-1-2-1 4-1 0-1 1-1 1-1-1-1 2-1 0-1-2-1-2-1 4-1 0-1 1-1-4-1-1-1 0-1-1-1 1-1 2-1 0-1-1-1-2-1 0-1-1-1 1-1 2-1 1-1 0-1-1-1-2-1 0-1 1-1 1-1 1-1-6-1-1-1 2-1 0-1 0-1-2-1 1-1-1-1 0-1-1-1-1-1 0-1 0-1 0-1-2-1 1-1 0-1 1-1-1-1 0-1-1-1 2-1 1-1-1-1 1-1 2-1-1-1 0-1-2-1 0-1 1-1 3-1-3-1 1-1 1-1-1-1 1-1 1-1-2-1 0-1 0-1 0-1 0-1 1-1-1-1-1-1-3-1 1-1 2-1-1-1-1-1 0-1 1-1 2-1 0-1-2-1 0-1-1-1 3-1 0-1-1-1 0-1 0-1-2-1-1-1 3-1 0-1-3-1 1-1-2-1-1-1-1-1 2-1-1-1 0-1 0-1 5-1-1-1-1-1-2-1 1-1 2-1 0-1-2-1 3-1-1-1 1-1-1-1 1-1-1-1 0-1-2-1 2-1 0-1 0-1 0-1-4-1 1-1 2-1 0-1-1-1 1-1-2-1 1-1-1-1 1-1-2-1 1-1 0-1 2-1 0-1 0-1-1-1-2-1 0-1 1-1 1-1-2-1 1-1-2-1 1-1 0-1 2-1 0-1-1-1-1-1-1-1 3-1-1-1-1-1 2-1 0-1-1-1 0-1 0-1 2-1 0-1 1-1 1-1-2-1 2-1 0-1-1-1-1-1 0-1-4-1 2-1 1-1 0-1 0-1-1-1-1-1-1-1 0-1-1-1 0-1 1-1-3-1-1-1 1-1 0-1-3-1 2-1-1-1 1-1-2-1-1-1 1-1-1-1-1-1-1-1 0-1-2-1 2-1 3-1-2-1 1-1-1-1-1-1-3-1 1-1-2-1-3-1 0-1-2-1-5-1-3-1-6-1-3-1-4-1-5-1-7-1-4-1-5-1-5-1-3-1-5-1-7-1-3-1-3-1-6-1-5-1-8-1-8-1-9-1-5-1-8-1-6-1-9-1-7-1-6-1-6-1-9-1-10-1-12-1-16-1-20-1-24-1-30z"/>
<path class="lM" d="M0 1176l1 38 1 26 1 20 1 16 1 14 1 11 1 10 1 7 1 7 1 7 1 7 1 7 1 8 1 7 1 9 1 9 1 5 1 4 1 6 1 4 1 4 1 4 1 3 1 5 1 6 1 6 1 5 1 7 1 6 1 3 1 2 1 7 1 4 1 3 1 2 1 1 1 2 1 2 1 0 1 2 1 1 1 1 1 0 1 2 1 0 1-2 1 2 1 0 1 1 1 3 1-1 1 1 1-1 1 1 1 0 1 2 1-2 1 3 1 1 1 1 1-1 1 2 1 0 1 2 1 1 1 0 1-1 1 1 1 1 1 0 1 1 1-1 1 0 1 1 1-1 1 1 1 2 1-1 1 0 1 0 1-1 1-1 1 0 1 0 1-1 1 1 1 0 1-1 1 0 1 0 1-1 1-2 1 3 1 0 1 0 1 0 1 0 1-1 1 0 1 1 1 1 1 0 1 0 1-1 1-2 1 2 1 2 1-2 1 1 1 0 1 1 1-1 1 0 1-1 1-1 1 1 1 1 1 0 1 0 1 0 1-2 1-1 1 3 1-1 1 2 1 1 1-1 1-1 1 2 1-1 1 0 1 0 1-1 1-1 1 0 1 2 1-1 1 1 1 0 1 0 1 0 1 0 1 0 1 0 1-1 1-1 1 0 1 0 1 1 1 0 1 1 1 0 1 0 1 0 1 0 1 1 1 1 1-1 1 1 1-1 1 0 1 0 1-1 1 0 1 0 1 0 1 0 1 1 1-2 1 1 1-2 1 1 1 1 1 2 1 0 1 0 1-1 1 1 1 0 1-1 1 1 1 0 1 0 1-1 1-1 1 1 1 3 1-2 1 0 1-3 1 4 1 0 1-1 1 0 1-1 1-1 1 0 1 1 1 1 1 0 1 1 1 0 1-1 1 0 1 1 1-2 1 2 1-1 1 2 1 1 1 0 1 0 1 0 1-2 1 0 1-1 1-1 1 3 1 0 1-2 1 2 1 0 1-1 1 1 1 0 1 2 1-2 1 0 1-1 1-1 1 1 1 1 1 2 1-1 1-2 1 0 1 2 1-1 1 0 1 0 1 0 1 2 1 0 1 0 1-1 1 3 1-3 1-1 1 0 1 0 1 1 1-1 1 1 1 0 1-1 1-1 1 0 1 1 1-2 1 0 1 1 1 0 1-1 1 1 1 1 1-1 1 1 1-1 1-1 1 2 1-1 1 2 1 0 1 0 1-2 1 3 1-1 1 0 1 0 1-1 1 3 1-2 1 1 1-2 1 0 1 3 1-2 1 1 1 1 1-2 1-1 1-1 1 2 1 1 1-1 1-1 1 1 1 2 1 0 1 0 1 0 1 1 1-1 1-2 1 1 1 0 1 1 1 0 1 3 1-2 1 0 1-1 1-1 1 0 1 2 1 0 1 2 1 0 1 0 1-1 1-1 1 0 1 0 1-1 1 0 1-1 1 0 1-1 1 2 1 1 1-2 1-1 1 1 1 0 1-1 1 0 1 0 1 2 1-1 1 1 1-1 1-1 1 0 1 0 1 0 1-3 1 3 1 0 1 2 1 0 1-2 1 1 1 0 1 1 1 0 1 0 1 0 1-2 1 0 1 0 1-2 1 2 1 1 1-2 1 4 1-3 1 1 1 0 1 0 1 0 1 0 1 0 1 0 1 0 1 1 1 0 1 0 1 2 1 0 1-1 1 0 1 1 1-2 1 0 1 1 1 1 1 0 1 0 1 0 1 1 1-1 1 0 1 1 1 1 1 0 1-2 1 1 1-1 1-1 1-1"/>
</g>
<path fill="#FE00CE" d="M590.15,618.56l9.15,9.15l9.15,-9.15l-9.15,-9.15l9.15,-9.15l-9.15,-9.15l-9.15,9.15l-9.15,-9.15l-9.15,9.15l9.15,9.15l-9.15,9.15l9.15,9.15ZM937.51,540.98l9.15,9.15l9.15,-9.15l-9.15,-9.15l9.15,-9.15l-9.15,-9.15l-9.15,9.15l-9.15,-9.15l-9.15,9.15l9.15,9.15l-9.15,9.15l9.15,9.15Z"/>
</g>
</g>
<g id="p_g">
<rect x="1087.22" y="461.72" width="364.8" height="317.8" fill="#E5ECF6"/>
<path d="M1182.86,461.72v317.8M1269.7,461.72v317.8M1356.54,461.72v317.8M1443.38,461.72v317.8M1087.22,699.94h364.8M1087.22,604h364.8M1087.22,506.96h364.8" stroke="#fff" stroke-width="1.85" fill="none"/>
<path d="M1096.02,461.72v317.8" stroke="#fff" stroke-width="3.6" fill="none"/>
<g clip-path="url(#cg)">
<g transform="translate(1096.02,892.77) scale(0.8684,-0.24095)">
<path class="bR" d="M0 1312l1-196 1 23 1 19 1 18 1 18 1 16 1 14 1 14 1 10 1 11 1 11 1 9 1 8 1 9 1 6 1 8 1 5 1 11 1 5 1 6 1 7 1 4 1 5 1 5 1 4 1 5 1 6 1 6 1 1 1 3 1 4 1 3 1 4 1 1 1 3 1 4 1 0 1 3 1 3 1 2 1 1 1 0 1 2 1 5 1 1 1 1 1 2 1 2 1 0 1 0 1 2 1 0 1 1 1 1 1 2 1 2 1 3 1 1 1-1 1-1 1 3 1 1 1 2 1 2 1 0 1 1 1 0 1 1 1 0 1 0 1 1 1 2 1 3 1-1 1 1 1 0 1 1 1 2 1-2 1 2 1-1 1-1 1-1 1 1 1 2 1 0 1 1 1 0 1 1 1 1 1 0 1 0 1 2 1 0 1 0 1 1 1 0 1 2 1-1 1 2 1 0 1 2 1-1 1 0 1 2 1 2 1-1 1 1 1-1 1-3 1 3 1 0 1 1 1 2 1-2 1 2 1 3 1-2 1-1 1-2 1 0 1 0 1 2 1 0 1 0 1 1 1 1 1-1 1 0 1 0 1 1 1-1 1-1 1 2 1 0 1 1 1 1 1 1 1-1 1-2 1-1 1-1 1 1 1-1 1 1 1 0 1 2 1 1 1-1 1-2 1 3 1 2 1 0 1-1 1 2 1-1 1 1 1 1 1 0 1 0 1-1 1 0 1-1 1-1 1 0 1 0 1 1 1 1 1 0 1 2 1 1 1-1 1-1 1 1 1-2 1 2 1 3 1-1 1 0 1 1 1 1 1 1 1 0 1 0 1-1 1 3 1-1 1 2 1-2 1 3 1 0 1-1 1 2 1 0 1 0 1 2 1-3 1 1 1-1 1 2 1-1 1 1 1 0 1 1 1-2 1 1 1 2 1-3 1-1 1 2 1 0 1-3 1 0 1 1 1 0 1 1 1 1 1 1 1-1 1-2 1-2 1 6 1-1 1 1 1 1 1 1 1-1 1-1 1-1 1-2 1-1 1 2 1 1 1-1 1 1 1 0 1-2 1 2 1-1 1 3 1-1 1 1 1-2 1-2 1 2 1 2 1 0 1-2 1 2 1 0 1-2 1 3 1-1 1-1 1 0 1 2 1 2 1-2 1 0 1 0 1 0 1-2 1 1 1 2 1-3 1 0 1 0 1 3 1 0 1-1 1 3 1 2 1-1 1 0 1 1 1 0 1-1 1 1 1-3 1-1 1 2 1-1 1-1 1 2 1 0 1 1 1 0 1 1 1 0 1-1 1 0 1 1 1-3 1 1 1 1 1 0 1 0 1 0 1 0 1-1 1 4 1-2 1 2 1-1 1 0 1-2 1 1 1 2 1-2 1 2 1 1 1 1 1-1 1-1 1 2 1 0 1 1 1-1 1 2 1-1 1-1 1 0 1 1 1 2 1-2 1 1 1-3 1 1 1-2 1 1 1 2 1 0 1-3 1 1 1 0 1 1 1 0 1 0 1 0 1 0 1 0 1 0 1 1 1 1 1-2 1-1 1 1 1 1 1 0 1 0 1-1 1 1 1 3 1-2 1-3 1 0 1 0 1 0 1-1 1 3 1 0 1 2 1-1 1 1 1-1 1 1 1-1 1-1 1-2 1 3 1 2 1-2 1 1 1 0 1 2 1-2 1 1 1-3 1-2 1 0 1-1 1 2 1 0 1 1 1 0 1-1 1 1 1-1 1-1 1 4 1-1 1-3 1 1 1 0 1 1 1 1 1-1 1 2 1-1 1-2 0-63-1 0-1-1-1 0-1-1-1 0-1 0-1 2-1-2-1 2-1 2-1-1-1 1-1-2-1-1-1-1-1 0-1 0-1 2-1-1-1 0-1 1-1-1-1 4-1 0-1 1-1 0-1-1-1-2-1 1-1 1-1-1-1 0-1 1-1-2-1 0-1-1-1 0-1 3-1-2-1 2-1 0-1 0-1-1-1-1-1 0-1 1-1-3-1 1-1-1-1 0-1-2-1-1-1-2-1 1-1 1-1-1-1 1-1-1-1 0-1 1-1 0-1-1-1 0-1 0-1-1-1 0-1 3-1 3-1 0-1-3-1 1-1 1-1-1-1-2-1 1-1 0-1 1-1-2-1 1-1 0-1 1-1 0-1-1-1 1-1 1-1-1-1 0-1-1-1 0-1 2-1-3-1-3-1 1-1 2-1-1-1-3-1 2-1 0-1 1-1 1-1 0-1 0-1-1-1 0-1-1-1-1-1 2-1 1-1-1-1 2-1-1-1 1-1-1-1 0-1-1-1 0-1 0-1-1-1 0-1 1-1-1-1 2-1 0-1-2-1 1-1 0-1 0-1 2-1 1-1-3-1 3-1-2-1-1-1 0-1 1-1-1-1-1-1 1-1 3-1 0-1-2-1-2-1 1-1 0-1-2-1 0-1-1-1-1-1 1-1-1-1 1-1 0-1-1-1 1-1-1-1-1-1 0-1-2-1 0-1 0-1-2-1 1-1 0-1-1-1 2-1-3-1 1-1 0-1 0-1 2-1-1-1 0-1 2-1 2-1-3-1 2-1-4-1-1-1 0-1 0-1 1-1-2-1 0-1 3-1-2-1-1-1 0-1 0-1 0-1 2-1-2-1 1-1-1-1-1-1 0-1 1-1 0-1-2-1-1-1 2-1 0-1 3-1-2-1 0-1 0-1 0-1-2-1-1-1 1-1-3-1 0-1 2-1 0-1 0-1-2-1 0-1-2-1 0-1 0-1 1-1-2-1 1-1 1-1-2-1-1-1 0-1 1-1 0-1 0-1 1-1-2-1 1-1-2-1 1-1 1-1-1-1 0-1 0-1-3-1 0-1-1-1 1-1-3-1 2-1 0-1 0-1-6-1 1-1 1-1-2-1 2-1 0-1 0-1 1-1-2-1-1-1-1-1-1-1 1-1 0-1 0-1 0-1-1-1-2-1-1-1-2-1 1-1-1-1 2-1 3-1 0-1 0-1 0-1-1-1-2-1 3-1-1-1 0-1-2-1 0-1 1-1-2-1 3-1 0-1-2-1 0-1 0-1-2-1 1-1-1-1 0-1 0-1 3-1-1-1-1-1 0-1 2-1-3-1 2-1 0-1-2-1 0-1-1-1-1-1-1-1 0-1 1-1-2-1-1-1 0-1 0-1-1-1-2-1-1-1 0-1-1-1 1-1-1-1 2-1-1-1 1-1 1-1 0-1-3-1 1-1-1-1 1-1-3-1-1-1-6-1-1-1 0-1 1-1 0-1 0-1-1-1-5-1-2-1 0-1-1-1 0-1-1-1-1-1-2-1-7-1-2-1-1-1 0-1-1-1-2-1-4-1-3-1-2-1-1-1-1-1-1-1-3-1 0-1-3-1-3-1-2-1-4-1-1-1-2-1-1-1-4-1-4-1-3-1-3-1-2-1-3-1-3-1-5-1-5-1-7-1-3-1-7-1-4-1-7-1-7-1-6-1-7-1-5-1-4-1-6-1-6-1-4-1-6-1-7-1-9-1-9-1-9-1-11-1-11-1-12-1-13-1-11-1-13-1-13-1 220z"/>
<path class="lR" d="M0 1312l1-208 1 19 1 17 1 16 1 16 1 13 1 15 1 13 1 10 1 11 1 9 1 8 1 8 1 7 1 7 1 6 1 5 1 6 1 6 1 7 1 6 1 5 1 5 1 6 1 3 1 7 1 6 1 3 1 3 1 4 1 3 1 4 1 4 1 1 1 3 1 2 1 1 1 3 1 4 1 1 1 2 1 1 1 0 1 4 1 0 1 1 1 2 1 2 1 2 1 1 1 2 1 1 1 0 1 0 1 2 1 2 1 3 1 2 1 1 1-1 1 1 1 0 1 3 1 1 1 1 1 0 1 1 1 0 1 1 1-1 1 3 1 0 1 3 1 0 1 2 1 0 1 0 1 2 1-2 1 0 1 1 1 0 1-1 1 0 1 3 1 0 1 2 1 1 1 0 1-1 1 0 1 2 1 4 1-3 1 0 1 0 1 1 1 2 1 0 1 1 1 1 1 1 1 1 1-2 1 2 1 1 1 1 1-2 1-1 1 0 1 0 1-1 1 1 1 3 1-3 1 3 1 0 1-1 1 1 1-2 1 0 1 0 1 2 1 1 1-1 1 1 1 1 1 0 1-1 1 1 1 2 1-2 1 2 1-1 1 1 1 1 1 1 1 1 1-1 1 0 1-1 1 0 1-1 1 1 1 1 1 1 1 1 1 0 1-1 1-1 1 2 1 0 1-1 1 0 1 0 1-1 1-1 1 4 1 0 1-2 1 0 1 1 1-1 1 2 1 1 1 1 1 0 1 2 1-2 1 1 1 0 1 0 1 0 1 1 1-1 1 2 1 2 1 0 1-1 1 2 1 0 1 0 1 0 1 1 1-1 1 1 1 0 1 1 1-1 1-1 1 3 1-1 1 0 1 3 1 0 1 0 1 1 1 0 1-2 1 1 1-1 1-2 1 3 1 1 1-2 1 0 1 1 1 1 1 0 1 1 1-1 1 0 1-1 1 1 1 1 1 0 1-2 1 1 1 0 1-1 1-1 1 3 1 0 1 2 1-1 1 1 1 0 1-2 1-1 1-2 1 2 1 0 1 1 1-1 1 2 1-1 1 0 1 1 1-2 1 2 1 0 1 1 1-1 1-1 1 1 1-1 1 1 1 0 1 1 1 0 1 0 1-1 1 1 1 0 1 0 1 2 1 1 1 0 1-1 1 0 1-1 1-1 1 1 1 1 1 0 1 0 1-1 1 0 1 1 1-1 1 0 1 1 1 0 1 1 1 0 1-1 1 0 1 1 1-1 1 2 1 1 1-2 1 1 1 1 1 0 1 0 1 0 1 1 1-1 1 2 1-2 1 2 1-2 1-1 1-1 1 1 1 1 1 0 1-1 1-1 1 1 1-2 1-1 1 0 1 1 1 1 1 2 1 0 1 0 1 1 1 1 1-1 1-1 1-1 1 1 1 1 1 0 1 0 1 0 1 0 1-2 1 1 1 1 1 2 1 0 1-1 1 0 1 1 1-2 1-1 1 2 1 1 1-1 1-1 1-1 1 1 1 1 1 0 1 1 1-1 1-1 1 0 1 0 1 0 1 1 1-1 1-1 1 2 1 1 1 1 1-1 1 1 1 1 1 1 1-1 1-1 1 1 1 0 1 0 1-1 1-2 1 2 1-2 1 3 1-1 1 0 1 0 1 0 1 1 1 1 1 0 1 1 1-1 1 0 1 3 1-2 1-1 1 1 1-1 1 0 1-1 1 1 1 0 1 0 1 0 1 0 1 1 1 0 1-1 1 2 1 0 1-2 1 1 1-1 1 0 1 0 1 1 1-1 1-1 1 0"/>
</g>
<path fill="#FD3216" d="M1096.02,585.79l9.15,9.15l9.15,-9.15l-9.15,-9.15l9.15,-9.15l-9.15,-9.15l-9.15,9.15l-9.15,-9.15l-9.15,9.15l9.15,9.15l-9.15,9.15l9.15,9.15ZM1443.38,547.24l9.15,9.15l9.15,-9.15l-9.15,-9.15l9.15,-9.15l-9.15,-9.15l-9.15,9.15l-9.15,-9.15l-9.15,9.15l9.15,9.15l-9.15,9.15l9.15,9.15Z"/>
<g transform="translate(1096.02,892.77) scale(0.8684,-0.24095)">
<path class="bG" d="M0 1312l1-594 1 96 1 68 1 45 1 28 1 22 1 17 1 14 1 10 1 10 1 12 1 10 1 9 1 9 1 7 1 6 1 7 1 4 1 6 1 6 1 5 1 3 1 3 1 3 1 5 1 3 1 6 1 4 1 10 1 0 1 5 1 2 1 4 1 4 1 1 1 4 1 4 1 1 1 4 1 2 1 5 1 2 1 2 1 2 1 2 1 1 1 4 1 3 1 1 1-1 1 4 1 2 1 0 1 2 1 3 1 2 1 4 1 2 1 2 1 3 1 2 1 0 1 3 1 0 1 3 1 3 1 1 1 2 1 0 1 3 1 1 1-1 1 0 1 2 1 3 1 2 1 0 1 0 1 1 1-1 1 0 1 3 1 2 1 0 1 1 1 0 1 2 1 1 1 1 1 1 1 1 1 0 1 2 1 1 1 0 1 2 1 1 1 2 1 1 1-1 1-2 1 5 1 2 1 2 1 1 1 1 1-2 1 3 1 2 1 0 1 2 1 0 1 0 1 0 1 3 1 0 1 4 1-1 1 0 1-1 1 1 1 0 1 1 1 2 1 0 1-3 1 3 1 1 1 1 1 0 1 2 1-1 1 1 1 1 1 0 1 2 1 2 1 2 1 1 1-2 1 3 1 0 1 0 1 1 1-1 1 0 1 3 1 0 1 1 1-1 1 0 1 1 1 1 1-4 1 0 1 3 1 1 1-1 1 1 1 0 1 1 1 1 1 1 1 1 1 2 1-1 1 1 1 0 1-1 1 1 1 1 1-1 1 2 1 3 1-1 1 1 1-1 1 7 1 1 1-2 1 1 1 1 1 1 1 0 1 0 1 1 1 0 1 0 1 2 1-2 1 2 1 0 1-1 1-2 1 3 1 1 1 0 1 1 1-2 1 1 1 1 1 0 1 1 1-1 1 1 1-5 1-1 1 1 1 3 1 1 1-1 1-1 1 3 1 0 1-1 1 5 1-1 1 0 1 2 1-1 1 1 1 1 1-2 1 1 1-1 1 0 1 0 1 0 1 0 1 1 1 2 1 0 1 0 1-1 1-1 1 0 1 0 1 1 1 2 1 1 1 0 1 1 1-1 1 1 1-1 1 0 1 0 1 4 1 0 1-2 1 2 1-1 1-1 1 0 1 1 1-2 1 3 1 0 1 3 1-1 1-2 1 0 1-1 1 1 1 1 1-1 1 0 1 1 1-1 1 0 1 1 1 0 1 0 1-2 1 1 1-2 1 2 1-2 1 1 1 1 1 0 1-1 1 0 1 1 1 1 1 0 1-1 1-2 1 0 1 0 1 1 1 0 1 1 1 0 1 0 1-1 1 0 1 0 1 3 1-1 1-1 1-1 1 1 1-1 1 1 1-1 1 1 1 1 1 0 1 1 1-1 1 2 1 1 1-2 1 1 1-1 1 0 1 0 1 1 1 1 1 0 1 0 1 1 1-2 1 0 1 1 1 1 1-1 1 2 1 0 1-1 1 1 1-1 1 1 1 0 1 1 1 0 1 0 1-1 1-2 1 2 1-1 1 1 1 1 1-4 1 1 1 0 1-1 1 0 1 2 1 0 1-1 1 2 1 0 1 0 1 0 1 1 1-2 1 1 1-1 1-1 1 1 1 1 1 1 1-1 1 2 1 2 1-1 1-1 1-1 1 4 1-1 1-1 1 2 1-1 1-1 1 2 1-1 1 1 1 0 1-2 1 1 1-1 1 0 1 0 1 0 1-1 1 0 1 1 1-1 1 1 1 1 1-1 1 0 1 1 1 2 1-1 1-1 1 1 1 2 0-83-1-1-1 0-1 1-1 2-1-2-1 0-1 0-1 1-1-1-1-2-1 1-1 0-1 2-1 1-1 0-1 2-1 0-1-1-1-3-1 2-1 1-1 2-1-1-1 0-1-6-1 2-1 0-1 0-1 2-1-2-1 1-1 0-1-1-1 2-1-3-1-1-1 0-1 1-1-2-1 0-1 0-1 0-1-1-1-1-1 1-1-2-1 1-1 1-1 0-1 1-1-1-1-2-1 2-1-1-1-2-1 1-1 0-1-2-1 1-1-1-1 1-1-2-1 1-1 0-1 0-1-1-1-1-1 0-1 0-1-2-1 1-1 0-1 0-1-2-1-1-1 3-1 0-1 0-1 0-1 0-1-1-1 0-1 0-1 0-1 1-1-1-1 0-1-2-1 0-1 2-1 2-1-3-1-1-1-1-1 1-1-1-1 1-1-1-1 3-1 1-1 0-1-6-1 0-1 2-1-1-1 1-1-2-1 0-1 1-1-1-1 1-1-1-1-1-1 0-1 1-1 0-1 0-1 1-1 2-1-2-1 0-1 0-1 0-1-2-1 0-1 0-1-1-1-1-1 1-1 0-1 1-1 0-1-2-1-1-1-1-1 3-1-3-1 3-1 0-1-2-1-1-1 2-1-3-1 0-1-1-1 0-1-2-1 0-1 0-1 1-1-1-1 0-1 0-1 0-1 2-1 2-1-1-1 1-1-1-1 1-1-2-1-1-1 0-1 0-1 1-1-1-1-1-1 1-1 1-1-3-1-2-1 0-1-1-1 1-1-2-1 3-1-1-1 1-1-2-1 0-1 1-1-2-1 2-1-3-1 0-1 1-1-1-1-1-1-1-1 0-1 4-1-3-1-1-1 2-1 1-1-5-1 2-1 0-1-2-1-1-1-3-1 2-1 0-1-1-1 3-1-4-1 1-1 0-1 0-1-1-1-1-1 2-1-3-1 0-1-1-1 0-1 1-1-1-1 0-1 0-1-2-1-1-1 0-1-1-1-2-1-1-1-1-1 1-1-1-1 0-1-1-1 1-1 1-1-1-1-3-1 1-1-1-1-1-1 0-1-1-1 1-1-2-1 2-1-1-1-4-1 1-1-2-1-2-1-1-1 1-1 1-1-5-1 2-1-2-1 1-1-1-1-2-1 0-1 1-1-2-1 0-1 0-1-2-1-1-1-2-1 0-1-2-1-1-1 1-1-2-1-2-1 0-1-1-1-1-1 1-1-1-1-1-1-1-1-1-1 1-1 0-1-1-1 0-1-1-1-1-1 0-1 0-1 0-1-1-1-3-1 0-1-5-1 0-1 0-1-3-1-1-1 0-1-1-1-1-1-2-1-4-1 0-1-3-1-1-1-1-1 3-1-2-1-3-1-2-1-2-1 2-1 0-1-1-1-3-1 1-1-2-1 0-1-4-1-4-1 2-1-1-1-2-1 1-1-2-1-1-1-3-1-3-1 3-1-5-1-1-1-2-1-1-1-3-1-1-1 0-1-3-1-1-1-2-1-2-1-2-1-3-1-1-1-2-1-1-1-2-1-2-1-2-1-4-1-2-1-2-1-1-1-2-1 1-1-1-1-2-1 0-1-3-1-2-1-2-1-3-1-3-1 0-1-1-1-4-1-4-1-4-1-2-1-3-1-2-1-3-1 1-1-2-1-6-1-3-1-4-1-4-1-3-1-3-1-3-1-4-1-5-1-6-1-5-1-3-1-6-1-7-1-6-1-5-1-6-1-10-1-10-1-12-1-11-1-14-1-17-1-25-1-40-1-61-1-87-1 626z"/>
<path class="lG" d="M0 1312l1-610 1 93 1 66 1 44 1 26 1 20 1 16 1 13 1 10 1 10 1 11 1 7 1 9 1 7 1 6 1 6 1 6 1 5 1 5 1 6 1 6 1 4 1 3 1 2 1 4 1 5 1 4 1 4 1 5 1 0 1 2 1 2 1 3 1 4 1 4 1 5 1 4 1 1 1 3 1 3 1 3 1 2 1 2 1 3 1 0 1 1 1 3 1 2 1 3 1 0 1 2 1 2 1 3 1 2 1 2 1 1 1 2 1 2 1 2 1 2 1 3 1 1 1 3 1 0 1 3 1 0 1 3 1 2 1 1 1 0 1 1 1 2 1-1 1 3 1 2 1 3 1 1 1 0 1 1 1 1 1 0 1 1 1 2 1 0 1 2 1 1 1 2 1 0 1 2 1-1 1 1 1 2 1 2 1 0 1 1 1 1 1 3 1 0 1 2 1 2 1 0 1 3 1 0 1 1 1 1 1 0 1 0 1 2 1 3 1 0 1 1 1 1 1 0 1 2 1 0 1 1 1 2 1-1 1 0 1 0 1 1 1 0 1 0 1 2 1 1 1-1 1 1 1 1 1 0 1 2 1 1 1-1 1 1 1 1 1 1 1 2 1 2 1 2 1 0 1 1 1 0 1-1 1 1 1 0 1 0 1 0 1 2 1-1 1 5 1-1 1-1 1 0 1 1 1 2 1 1 1 0 1 1 1-2 1 2 1-1 1 1 1 1 1 1 1 1 1 1 1 1 1 0 1 1 1-1 1 1 1 1 1 0 1-1 1 2 1 1 1 1 1 0 1 0 1-1 1 1 1 2 1-2 1 3 1 0 1-1 1 2 1 0 1 1 1 0 1 1 1 1 1-1 1-1 1 0 1 2 1 1 1-1 1 1 1-1 1 1 1 0 1 2 1 0 1-1 1 2 1-1 1 1 1 0 1 1 1-1 1 1 1-1 1 2 1-1 1 0 1 1 1 2 1-2 1 2 1 0 1 0 1 1 1-2 1 2 1-2 1 1 1-1 1 1 1-1 1 1 1 2 1 0 1 1 1-1 1 0 1 0 1-1 1 1 1 2 1 0 1 0 1 1 1 1 1 0 1 1 1-2 1-1 1 2 1-1 1 0 1 0 1 1 1 0 1 0 1 1 1 0 1 1 1 1 1-1 1 1 1-1 1 0 1-2 1 1 1 0 1 0 1 0 1 1 1-1 1 1 1 1 1 0 1 0 1 0 1 1 1 0 1 1 1-1 1 2 1 0 1 0 1-1 1 0 1 0 1 2 1 0 1-1 1 0 1 1 1-1 1 2 1 0 1-1 1 1 1-1 1 0 1-1 1-1 1 3 1-1 1 1 1-2 1-2 1-1 1 1 1 0 1 1 1 1 1 2 1 1 1-1 1 1 1 1 1-2 1 1 1-2 1-1 1 1 1 0 1 1 1 1 1 0 1 1 1 0 1-3 1 0 1 1 1 0 1 1 1-1 1 1 1 1 1 0 1 1 1 1 1 0 1 0 1 1 1-1 1 1 1 1 1 0 1 0 1 0 1-1 1 1 1 1 1-1 1 2 1 0 1 0 1-2 1 0 1 1 1 1 1-1 1 0 1 0 1 1 1 0 1-2 1 0 1 0 1 0 1 1 1-1 1 1 1 1 1-1 1-1 1 2 1-1 1 0 1 2 1-1 1 0 1 1 1 1 1 0 1 1 1-3 1 2 1 0 1-1 1 1 1 0 1 0 1-2 1 1 1 0 1 1 1 1 1 0 1-1 1 1 1 1 1 0 1-2 1 1 1 1"/>
</g>
<path fill="#00FE35" d="M1096.02,585.79l9.15,9.15l9.15,-9.15l-9.15,-9.15l9.15,-9.15l-9.15,-9.15l-9.15,9.15l-9.15,-9.15l-9.15,9.15l9.15,9.15l-9.15,9.15l9.15,9.15ZM1443.38,583.87l9.15,9.15l9.15,-9.15l-9.15,-9.15l9.15,-9.15l-9.15,-9.15l-9.15,9.15l-9.15,-9.15l-9.15,9.15l9.15,9.15l-9.15,9.15l9.15,9.15Z"/>
<g transform="translate(1096.02,892.77) scale(0.8684,-0.24095)">
<path class="bB" d="M0 1312l1-192 1 21 1 20 1 17 1 17 1 15 1 15 1 13 1 13 1 10 1 8 1 7 1 8 1 8 1 8 1 6 1 7 1 6 1 8 1 5 1 6 1 7 1 4 1 5 1 5 1 3 1 4 1 3 1 3 1 6 1 2 1 4 1 2 1 4 1-1 1 3 1 2 1 2 1 2 1 2 1 4 1 1 1 1 1 3 1 0 1 4 1 1 1 1 1 2 1 2 1 3 1 2 1 2 1 1 1-1 1 4 1 1 1 4 1 1 1 0 1 2 1 3 1 1 1-2 1 1 1 0 1 1 1 1 1 4 1 0 1-6 1 2 1 0 1 0 1 0 1 1 1 3 1 3 1 0 1 1 1-1 1 3 1 1 1 0 1 2 1 1 1 1 1-1 1 0 1 2 1-1 1 3 1 0 1 1 1-1 1 2 1-2 1 2 1 0 1 1 1-5 1 0 1 1 1 0 1 2 1 1 1-1 1 3 1-2 1-1 1 3 1-1 1 1 1 0 1 2 1-1 1 1 1-3 1 3 1 0 1-1 1 1 1 2 1-1 1 1 1 2 1-2 1 2 1 0 1-1 1 2 1 2 1-1 1 0 1 0 1 1 1-1 1 0 1 2 1 0 1 1 1 0 1 2 1-1 1 0 1 0 1 0 1 0 1 2 1 0 1 2 1 0 1-4 1-1 1 0 1 2 1-4 1 2 1-1 1 2 1 1 1 1 1-2 1 1 1 0 1 2 1-2 1-1 1 1 1 2 1 1 1 1 1 1 1 1 1-1 1 0 1 1 1 1 1 1 1-2 1 2 1-4 1 1 1 4 1-2 1 1 1 0 1 0 1 0 1 1 1 1 1 0 1 1 1-1 1 1 1-1 1 0 1 0 1-1 1 0 1 0 1 2 1-2 1 4 1 0 1 1 1-1 1 0 1-1 1 4 1 0 1-1 1-1 1-1 1 2 1 0 1-1 1 0 1 0 1 1 1 0 1-1 1 4 1-1 1-3 1-1 1 1 1 1 1 0 1 2 1-1 1 1 1 0 1 1 1 0 1-2 1 2 1 1 1-2 1 0 1 1 1 0 1-1 1 1 1 0 1 0 1-1 1-1 1 3 1-1 1 0 1-1 1-1 1 2 1-2 1 0 1 3 1-1 1 5 1 0 1-1 1-1 1 2 1 2 1-2 1 0 1 1 1 0 1 1 1 0 1 0 1 0 1 1 1-1 1-3 1 1 1-2 1 2 1 0 1 1 1 5 1-2 1 2 1 0 1 3 1-4 1 0 1-1 1 0 1 0 1 1 1-1 1 2 1-1 1 2 1 0 1 1 1-2 1 4 1-3 1 0 1-2 1 0 1 2 1 1 1-2 1 2 1-1 1 1 1-3 1 1 1 2 1-1 1-1 1 0 1 1 1 0 1 1 1-2 1 1 1-1 1 0 1 1 1-1 1 2 1 1 1 0 1 2 1-2 1-1 1 1 1-2 1 1 1 0 1-1 1-1 1-1 1-1 1 1 1 0 1 1 1-4 1 3 1-1 1 1 1 0 1 2 1-2 1-1 1 0 1 0 1 1 1 0 1-1 1 1 1 0 1 0 1-2 1 3 1-1 1 4 1-2 1-1 1 1 1 0 1 0 1 1 1-1 1 0 1 0 1-1 1-1 1 1 1-1 1 1 1-1 1-1 1 0 1-1 1 2 1 0 1-2 1 1 1-1 1 0 1 0 1 1 1 0 1-1 1 2 1-1 1 0 1 0 1 2 1 1 1 0 1 1 1 0 1-1 1 1 0-68-1 0-1 1-1 0-1-1-1 0-1-1-1-2-1 1-1-1-1 0-1 0-1 0-1 0-1-1-1 0-1 1-1 1-1 5-1-1-1 0-1 1-1 1-1 0-1 1-1-1-1 0-1 2-1 0-1 0-1 1-1-2-1 2-1-1-1 0-1-6-1 2-1 0-1 0-1-2-1-2-1 3-1-2-1-2-1 0-1 2-1-1-1 0-1 1-1 0-1 0-1 0-1 0-1 2-1-4-1 0-1 0-1 1-1-2-1 1-1 2-1 0-1-2-1 1-1-1-1-1-1 0-1 2-1 0-1 2-1 0-1 0-1 0-1 0-1 0-1-1-1 3-1 0-1-1-1 3-1-2-1-1-1 3-1 0-1-2-1 2-1-2-1 3-1-3-1 0-1 2-1-1-1 0-1 1-1-1-1 2-1 0-1 1-1-1-1 3-1 0-1-1-1 1-1-1-1-1-1 0-1-1-1 2-1-1-1 1-1-1-1 0-1-1-1 2-1-2-1 5-1 0-1-1-1-1-1 2-1-1-1 1-1-1-1-2-1 1-1-2-1 2-1 2-1 0-1-2-1 0-1 1-1-1-1 0-1-1-1 0-1 1-1 0-1-1-1 0-1 3-1 0-1-1-1 2-1-6-1 1-1 0-1 0-1-2-1 2-1-3-1 1-1 0-1 0-1-1-1 1-1 1-1 0-1 0-1 1-1 0-1 1-1 1-1-1-1-1-1 0-1-1-1-4-1-1-1-1-1 0-1 1-1 2-1-3-1 0-1 1-1 0-1 1-1-2-1 1-1-2-1 1-1 0-1 0-1-1-1 2-1-1-1 0-1-1-1 0-1 0-1-1-1-1-1-1-1 3-1-1-1-1-1 1-1-1-1 0-1-7-1 3-1-1-1-1-1 0-1 4-1 0-1 0-1 0-1-1-1 0-1-2-1-2-1 2-1-1-1 3-1 1-1 0-1 0-1 1-1 0-1-1-1 0-1-1-1-1-1 0-1 0-1-1-1-2-1-1-1 1-1 0-1-1-1-1-1 2-1-2-1 2-1-2-1 0-1 0-1-1-1-1-1 0-1-2-1 0-1 1-1 2-1 1-1 0-1-1-1 1-1-2-1 0-1 0-1 1-1-2-1 0-1-1-1 0-1 0-1-1-1 1-1 2-1-1-1 1-1-2-1-1-1 0-1 1-1 1-1-3-1 0-1 1-1 0-1-1-1 0-1 2-1-1-1-1-1 0-1-1-1-1-1 2-1-2-1 0-1-1-1-1-1 1-1 2-1-1-1-2-1-1-1 2-1-2-1 1-1 0-1-2-1-2-1 1-1 1-1 1-1-1-1-2-1 0-1-1-1-2-1 1-1 0-1 0-1-3-1 0-1-3-1 1-1-1-1-1-1 0-1-2-1 0-1 0-1-2-1 1-1 2-1 0-1 1-1-3-1-1-1 1-1 0-1-3-1-1-1 0-1 0-1 0-1-2-1 0-1 1-1-3-1-1-1-1-1-1-1-2-1-1-1-2-1 0-1-1-1-2-1-1-1 1-1-2-1-2-1-2-1 2-1-3-1-5-1 0-1-2-1-1-1-1-1-1-1-1-1-1-1-2-1-2-1-2-1-1-1-4-1-2-1-2-1-2-1-3-1-4-1-5-1-2-1-4-1-4-1-4-1-5-1-3-1-11-1-5-1-5-1-6-1-7-1-7-1-6-1-3-1-10-1-6-1-7-1-7-1-10-1-10-1-12-1-10-1-15-1-14-1-15-1-15-1-18-1-18-1 216z"/>
<path class="lB" d="M0 1312l1-204 1 21 1 19 1 16 1 16 1 15 1 16 1 10 1 13 1 10 1 9 1 6 1 9 1 7 1 9 1 5 1 8 1 5 1 8 1 4 1 6 1 5 1 6 1 4 1 5 1 5 1 3 1 3 1 3 1 6 1 4 1 4 1 1 1 3 1 2 1 3 1 2 1 2 1 1 1 2 1 1 1 1 1 1 1 2 1 2 1 2 1 2 1 2 1 2 1 1 1 3 1 2 1 2 1 0 1 2 1 0 1 2 1 1 1 1 1-1 1 3 1 2 1 1 1 1 1 2 1 1 1 0 1 2 1-1 1 2 1-1 1 1 1 1 1 0 1 1 1 0 1 0 1 0 1 0 1 0 1 0 1 1 1 0 1 0 1 2 1 0 1 1 1 0 1 1 1 2 1 0 1 2 1 0 1 1 1-1 1 2 1 0 1 0 1 1 1 1 1-1 1 1 1 1 1-2 1 1 1 1 1-1 1 3 1-3 1 1 1 2 1 0 1-1 1 0 1 3 1-1 1 0 1 2 1-1 1 1 1 1 1 1 1 2 1 0 1-1 1-1 1 1 1 0 1-1 1-1 1 2 1 1 1-2 1 1 1-1 1 2 1-1 1 1 1 1 1-1 1 3 1 0 1 1 1 1 1 0 1 1 1 2 1-1 1-1 1 1 1 1 1-1 1 1 1-2 1 1 1-1 1 0 1 1 1-1 1 2 1 0 1 0 1-1 1 2 1-1 1 1 1-3 1 0 1 2 1 1 1 1 1 0 1 1 1 0 1-1 1 1 1 1 1 0 1 1 1-1 1 1 1-1 1 0 1 2 1 0 1 0 1 0 1-1 1 0 1 1 1 0 1 0 1 0 1 1 1 0 1-1 1 0 1 1 1-1 1-1 1 2 1 0 1 0 1 2 1-1 1 1 1-1 1 1 1 0 1 1 1 1 1 1 1-2 1-1 1 2 1-1 1 1 1 0 1 0 1 1 1 1 1-1 1 3 1-2 1-2 1 0 1 1 1 1 1-1 1 1 1-2 1 1 1 0 1 2 1 1 1 0 1 0 1 2 1-2 1 1 1 0 1-1 1-1 1 2 1-1 1-1 1-1 1 1 1 1 1-2 1 1 1-1 1 0 1 0 1 0 1-1 1 1 1-3 1 3 1 0 1-2 1 1 1 0 1 1 1-2 1 1 1 1 1 0 1 2 1 1 1-1 1 3 1 1 1-2 1-2 1 2 1-2 1 2 1 0 1-1 1 1 1 1 1-1 1 2 1 1 1-3 1 3 1-1 1 0 1 0 1-1 1-1 1 1 1-2 1 1 1 0 1 2 1 1 1-2 1 0 1 1 1-3 1 1 1 0 1 1 1 0 1 1 1 1 1 0 1 0 1 0 1 1 1 0 1-2 1-1 1 2 1 1 1 0 1-1 1 1 1 1 1-1 1 1 1 0 1-1 1-1 1 1 1 0 1 0 1 0 1 1 1-2 1 1 1-2 1 0 1 1 1 0 1 0 1 0 1 1 1-2 1-1 1 3 1-1 1 0 1 0 1 2 1-1 1 0 1 0 1-1 1 1 1 0 1-1 1 0 1-1 1 2 1-1 1 2 1-2 1 1 1 1 1 1 1 1 1-2 1 1 1 0 1 2 1-1 1 0 1 0 1 0 1 0 1-1 1 0 1 0 1 1 1-2 1 1 1 0 1-1 1-1 1-1 1 0 1 1 1-1 1 1 1 1 1-1 1-1 1 0 1 1 1-1 1 4 1 1 1 1 1 0 1 0 1-1 1 0"/>
</g>
<path fill="#6A76FC" d="M1096.02,585.79l9.15,9.15l9.15,-9.15l-9.15,-9.15l9.15,-9.15l-9.15,-9.15l-9.15,9.15l-9.15,-9.15l-9.15,9.15l9.15,9.15l-9.15,9.15l9.15,9.15ZM1443.38,544.59l9.15,9.15l9.15,-9.15l-9.15,-9.15l9.15,-9.15l-9.15,-9.15l-9.15,9.15l-9.15,-9.15l-9.15,9.15l9.15,9.15l-9.15,9.15l9.15,9.15Z"/>
<g transform="translate(1096.02,892.77) scale(0.8684,-0.24095)">
<path class="bM" d="M0 1312l1 154 1-31 1-2 1 9 1 10 1 10 1 6 1 7 1 7 1 4 1 7 1 5 1 5 1 5 1 5 1 5 1 5 1 4 1 4 1 3 1 6 1 3 1 3 1 3 1 4 1 3 1 1 1 3 1 1 1 5 1 3 1 1 1 2 1 1 1 1 1 1 1-1 1 4 1 1 1 1 1-1 1-2 1 1 1 0 1 3 1 1 1 1 1 5 1 1 1-5 1 5 1 1 1 1 1 2 1 0 1 0 1-1 1 1 1 2 1 0 1 0 1 1 1 1 1 0 1 2 1 1 1 1 1 2 1 0 1-1 1-1 1 2 1 2 1 3 1 1 1-1 1 0 1 3 1-2 1 2 1-2 1 3 1 2 1 1 1 1 1-2 1-1 1-1 1 2 1 1 1-2 1 2 1-2 1 1 1-1 1-1 1 1 1 1 1 0 1 2 1-1 1 0 1 0 1 0 1 1 1 2 1-2 1-2 1 3 1 0 1-1 1 2 1 1 1 1 1-2 1 2 1-1 1 2 1 0 1-1 1 0 1 1 1-4 1 1 1 0 1 0 1 2 1-2 1 1 1-1 1 1 1 1 1-2 1 1 1 0 1 1 1 2 1-1 1 0 1-4 1 0 1 0 1 0 1 3 1 2 1-2 1 0 1 0 1 1 1-1 1-1 1-1 1-1 1 0 1 1 1 3 1 0 1 1 1 0 1-5 1 1 1 0 1 1 1 1 1-1 1 2 1 2 1 1 1 2 1 0 1 0 1-3 1 0 1 1 1 0 1 0 1-1 1 2 1 0 1 1 1 1 1 1 1 0 1-1 1 0 1-1 1-1 1 1 1 0 1 2 1 0 1-1 1 0 1 0 1-1 1 1 1 0 1 1 1 1 1-1 1 0 1 1 1 0 1-1 1 0 1 2 1-1 1-1 1 0 1 1 1-1 1-1 1 0 1 1 1 0 1 0 1 1 1-2 1 0 1 2 1-1 1 0 1 0 1-1 1-1 1 4 1 3 1-1 1-1 1 1 1 0 1-5 1 1 1 2 1 2 1-1 1 1 1-1 1 1 1 1 1-1 1-2 1 1 1 2 1-1 1-1 1 0 1 2 1-1 1 0 1-2 1 1 1 2 1-1 1 2 1-1 1-2 1 0 1 1 1 2 1-1 1 0 1 1 1 0 1-1 1 0 1 1 1-2 1 0 1-1 1 1 1 0 1 0 1 0 1 0 1 0 1 0 1-2 1 1 1 1 1 0 1 0 1-1 1 2 1-2 1 2 1-1 1-1 1 1 1 1 1 1 1 0 1 0 1 0 1 0 1 0 1 0 1 1 1 0 1 0 1 0 1 0 1 0 1 0 1 0 1 1 1 0 1 0 1-3 1 0 1-1 1 0 1-1 1 4 1-1 1 1 1 1 1-3 1 2 1-1 1 0 1 1 1 1 1 0 1 0 1 0 1-3 1 0 1-4 1 0 1 1 1 1 1 2 1 3 1 1 1-2 1 1 1 0 1 1 1 1 1 0 1-3 1 2 1 2 1-2 1 0 1 0 1 0 1 2 1 1 1 2 1 0 1-3 1 1 1-4 1-1 1 0 1 3 1 0 1 0 1 0 1 0 1 0 1 0 1 1 1 1 1-2 1 0 1 2 1 0 1 0 1 1 1-2 1-2 1-2 1 8 1-1 1-3 1 0 1 0 1 1 1 0 1-1 1 0 1 0 1-2 1 0 1 0 1-1 1 1 1 0 1-3 1 0 1 1 1-1 1-2 1 1 1-1 1 2 1-2 0-53-1-3-1 0-1 1-1 1-1 0-1-3-1-1-1 1-1 0-1 0-1-1-1 1-1 2-1 0-1-1-1 2-1-1-1 0-1 0-1 1-1-1-1 0-1 2-1 2-1-1-1-1-1 0-1 2-1-3-1 0-1 0-1 1-1-2-1 1-1 0-1 2-1-1-1-2-1 2-1 0-1 2-1-2-1-2-1 2-1 0-1 1-1-2-1 2-1 1-1 1-1 0-1-2-1 0-1 0-1 0-1 1-1-2-1-2-1 1-1-1-1-1-1 1-1-1-1 0-1-1-1 0-1 1-1 0-1-2-1 0-1 2-1 0-1 1-1-2-1 0-1-2-1 1-1 1-1-1-1-1-1 0-1 0-1 1-1-3-1 1-1 2-1-1-1-1-1-2-1-1-1 2-1 1-1 0-1 1-1-2-1 2-1 1-1 1-1 0-1-2-1 0-1 1-1-2-1-1-1 0-1-1-1 4-1-1-1 0-1-1-1 1-1 0-1-1-1-2-1 1-1-1-1-1-1 0-1 1-1 1-1 0-1 1-1-1-1 1-1 1-1 0-1 1-1 1-1-2-1 1-1-1-1 1-1-3-1 1-1 1-1 0-1 1-1-1-1 1-1-2-1-2-1 0-1 0-1 2-1 0-1-1-1 0-1 0-1-3-1 0-1 2-1 1-1-4-1 0-1-1-1 1-1 2-1 1-1 2-1 0-1-2-1-3-1-1-1 1-1 3-1-1-1-1-1-2-1 2-1-1-1 2-1-3-1-1-1 0-1 1-1-1-1 0-1 0-1 0-1 0-1-1-1 2-1 1-1-1-1-3-1 0-1 1-1 1-1 0-1 1-1-1-1 1-1 0-1-2-1-1-1 1-1-2-1 2-1-2-1-2-1 4-1 0-1-1-1-2-1 0-1-2-1-2-1-1-1 1-1 0-1-1-1 1-1 0-1-1-1 0-1 1-1 0-1 3-1-2-1 0-1 0-1-3-1 0-1 3-1 0-1 0-1 4-1-1-1 0-1-3-1 2-1 1-1 1-1 0-1 0-1-1-1 0-1-1-1-1-1 0-1 3-1-1-1-2-1 4-1-1-1-1-1 0-1-1-1 1-1 0-1 0-1 1-1 0-1 0-1 2-1-3-1-1-1 0-1-1-1-1-1 3-1-2-1 3-1 1-1-3-1 1-1-2-1 1-1 1-1 1-1-1-1-2-1 1-1-2-1 1-1 0-1 1-1-1-1 1-1 1-1 1-1 0-1-1-1 0-1 3-1-2-1 0-1 0-1-3-1 0-1-1-1 0-1-1-1 1-1 0-1 0-1-1-1 2-1 1-1 0-1-2-1 1-1 1-1 0-1 1-1 1-1 0-1 0-1-2-1 1-1-3-1-1-1 2-1 0-1-1-1 1-1-3-1-1-1 2-1 0-1-1-1 1-1 1-1-1-1-4-1-2-1-3-1 1-1-4-1 1-1 0-1 1-1-1-1-3-1 0-1 1-1-2-1 0-1-1-1-3-1 1-1-2-1-2-1 2-1 2-1-2-1-1-1-1-1-1-1-3-1-1-1 0-1-1-1 0-1-1-1 4-1-1-1-2-1 0-1 0-1-1-1-2-1-1-1 0-1-1-1 0-1-2-1-2-1-1-1 0-1-3-1-4-1-2-1-2-1-2-1-3-1-2-1-3-1-3-1-4-1-3-1-4-1-6-1-1-1-5-1-7-1-5-1-5-1-4-1-6-1 1-1-8-1-6-1-6-1-6-1-9-1-6-1 5-1 36-1-134z"/>
<path class="lM" d="M0 1312l1 144 1-34 1-3 1 8 1 9 1 8 1 6 1 5 1 7 1 7 1 3 1 6 1 4 1 4 1 4 1 5 1 4 1 4 1 6 1 3 1 5 1 4 1 3 1 2 1 4 1 0 1 2 1 3 1 2 1 3 1 2 1 1 1 3 1 0 1 1 1 1 1 0 1 3 1 1 1 1 1 0 1 1 1 0 1 1 1 2 1-1 1-1 1 2 1 1 1 1 1 4 1-1 1 1 1 2 1 2 1 0 1-2 1 2 1 2 1 0 1 1 1 0 1 2 1 0 1 2 1 0 1 2 1 1 1 0 1-1 1-2 1 2 1-1 1 3 1 2 1-1 1 0 1 1 1 0 1 1 1 0 1-1 1 1 1 1 1 1 1 0 1-1 1-1 1 1 1 2 1 0 1 0 1-1 1 1 1-1 1-1 1 1 1 1 1 1 1 0 1 0 1-1 1-1 1 0 1 0 1 1 1-2 1-1 1 2 1 3 1-2 1 3 1 1 1 0 1 0 1-1 1 0 1 1 1-1 1-1 1-1 1 1 1-1 1 0 1 0 1 0 1 3 1-2 1 0 1 2 1-2 1 1 1-2 1 2 1 0 1 2 1 0 1 0 1 0 1-2 1-1 1-1 1 0 1 2 1 1 1 1 1 0 1 1 1-1 1 1 1 1 1-2 1-1 1 1 1 0 1 1 1-2 1 2 1 1 1-2 1 0 1 2 1-1 1 0 1 2 1 0 1-1 1 0 1 1 1 0 1 1 1-2 1 1 1-1 1 1 1-2 1 0 1 2 1 0 1 1 1 1 1 1 1 0 1-2 1 1 1-1 1 1 1-1 1 1 1 2 1-1 1-1 1-1 1 2 1 0 1 1 1 0 1 1 1 1 1-1 1-1 1 1 1 1 1 1 1 0 1 1 1 0 1-2 1 0 1-1 1 0 1 0 1 0 1 0 1 0 1 1 1 2 1-2 1-2 1 3 1 0 1 0 1 0 1-2 1 1 1 1 1 2 1 0 1 0 1 0 1 0 1-2 1 1 1 3 1 1 1-1 1-1 1 0 1 1 1 2 1-1 1-3 1 1 1 2 1-3 1 0 1 1 1 1 1-1 1 0 1 0 1 1 1 2 1-1 1 1 1-1 1-1 1 1 1 0 1 1 1 0 1 0 1 0 1 0 1 2 1-3 1 0 1 0 1 0 1-1 1 1 1-1 1-1 1 0 1 0 1 1 1-1 1 0 1-1 1 1 1-1 1 0 1-1 1 1 1 1 1 1 1 0 1 1 1 0 1 0 1 1 1-1 1 1 1 0 1-1 1 0 1 0 1 3 1-2 1 2 1 2 1-2 1-1 1-1 1 3 1 1 1-1 1 0 1-1 1-1 1 0 1 0 1 1 1 1 1-2 1 0 1 2 1-2 1 2 1-1 1 0 1 1 1-1 1 0 1 2 1-2 1 2 1-1 1 0 1 0 1 0 1 1 1-2 1 0 1 1 1-1 1 1 1 0 1 1 1 1 1 0 1-2 1 2 1 2 1-1 1-1 1 0 1 0 1 2 1 1 1 0 1 1 1-4 1 3 1-1 1-1 1-2 1 4 1-1 1-2 1 1 1-2 1 1 1 2 1-1 1 0 1-2 1 1 1 1 1-1 1 1 1 0 1 0 1 0 1 0 1 2 1-1 1-3 1-1 1-1 1 1 1 1 1-1 1 0 1-1 1 0 1-1 1 0 1 0 1 3 1-1 1-2 1 0 1 0 1 0 1-1 1 1 1 0 1-1 1 0"/>
</g>
<path fill="#FE00CE" d="M1096.02,585.79l9.15,9.15l9.15,-9.15l-9.15,-9.15l9.15,-9.15l-9.15,-9.15l-9.15,9.15l-9.15,-9.15l-9.15,9.15l9.15,9.15l-9.15,9.15l9.15,9.15ZM1443.38,515.24l9.15,9.15l9.15,-9.15l-9.15,-9.15l9.15,-9.15l-9.15,-9.15l-9.15,9.15l-9.15,-9.15l-9.15,9.15l9.15,9.15l-9.15,9.15l9.15,9.15Z"/>
</g>
</g>
<g id="p_h">
<rect x="1593.09" y="461.72" width="364.8" height="317.8" fill="#E5ECF6"/>
<path d="M1688.73,461.72v317.8M1775.57,461.72v317.8M1862.41,461.72v317.8M1949.25,461.72v317.8M1593.09,699.94h364.8M1593.09,604h364.8M1593.09,506.96h364.8" stroke="#fff" stroke-width="1.85" fill="none"/>
<path d="M1601.89,461.72v317.8" stroke="#fff" stroke-width="3.6" fill="none"/>
<g clip-path="url(#ch)">
<g transform="translate(1601.89,892.77) scale(0.8684,-0.24095)">
<path class="bR" d="M0 1400l1-232 1-21 1-7 1 5 1 11 1 11 1 13 1 5 1 2 1 1 1-7 1-7 1 2 1-3 1 3 1 1 1 4 1 5 1 6 1 4 1-1 1 3 1 4 1-1 1 7 1 6 1 5 1-2 1 0 1 5 1 1 1 3 1 0 1 3 1 5 1 4 1 3 1 1 1 5 1 2 1-2 1 4 1 1 1-1 1 4 1 1 1 4 1-1 1 2 1-3 1 5 1 4 1 5 1 1 1-2 1-3 1 2 1 4 1-3 1 2 1 2 1-1 1 3 1-5 1 2 1 6 1-3 1 1 1 4 1 0 1 1 1 1 1 3 1-1 1-3 1 4 1-2 1 1 1-2 1 2 1 0 1 0 1-1 1 3 1-2 1 2 1 0 1 1 1 2 1-2 1-1 1-1 1 0 1 3 1-1 1 2 1 3 1 1 1 0 1-2 1 1 1 0 1 1 1 1 1 1 1 0 1 3 1-2 1 2 1 0 1 0 1-1 1 0 1 0 1 0 1-1 1 3 1-6 1 5 1 4 1 1 1-2 1-2 1-5 1 7 1 2 1 3 1 1 1 5 1-3 1-6 1 2 1 1 1 1 1 1 1 1 1-3 1 0 1 0 1-1 1-1 1 0 1-2 1 2 1-2 1-1 1 0 1 0 1-2 1 2 1-5 1 1 1 0 1 1 1 0 1-1 1 3 1 6 1-3 1-1 1 0 1 0 1-2 1 4 1 0 1 1 1 3 1-1 1 1 1 2 1-1 1 0 1 1 1 1 1-1 1 2 1 2 1-1 1 3 1-1 1-3 1-3 1 2 1 3 1-5 1 1 1 1 1 2 1 0 1-2 1 1 1-1 1 0 1 3 1 1 1-7 1 1 1-1 1 6 1-2 1-4 1 1 1 1 1-1 1 1 1 0 1 0 1-4 1 4 1 4 1-1 1-3 1-6 1 2 1 0 1 3 1-2 1 6 1-1 1-1 1 1 1-5 1 2 1-2 1 3 1-2 1 2 1 4 1-1 1 1 1 1 1 1 1 2 1 0 1 1 1-3 1 2 1 7 1-1 1-6 1-1 1 2 1 3 1-2 1 2 1-1 1 4 1 2 1-6 1-1 1 2 1-4 1 5 1-3 1 1 1-2 1 4 1 2 1 0 1 4 1-4 1 1 1 2 1 0 1-2 1-2 1 2 1 1 1 0 1-1 1 0 1 0 1 0 1 0 1 5 1-1 1 0 1-2 1 2 1 2 1-3 1-1 1-3 1 0 1 2 1-3 1 1 1 1 1-9 1-3 1 1 1 1 1 3 1-2 1 4 1-3 1 2 1 0 1 0 1-1 1-1 1 5 1 0 1-2 1 1 1-3 1 13 1 1 1-4 1 2 1-3 1 0 1-1 1 2 1-1 1-5 1 4 1-2 1 0 1 1 1 1 1-6 1 1 1 2 1 0 1-3 1 0 1 2 1 2 1-3 1 5 1 1 1-7 1-2 1-3 1 0 1 5 1 3 1-3 1 1 1-2 1 0 1 0 1-2 1-3 1-3 1 1 1-1 1 4 1 0 1-1 1-1 1 1 1-1 1-2 1 2 1 1 1 0 1 2 1-1 1 3 1 2 1 0 1-4 1 4 1-4 1-2 1 0 1 2 1 0 1 0 1 1 1-1 1-4 1 3 1-1 1-1 1 3 1-2 1-4 1 5 1-4 1 0 1-1 1 6 1-3 1 0 1 3 1-1 1-2 1 3 1 0 1-2 1 3 1-1 1 3 1-3 1 8 1 1 1 0 0-127-1 2-1-2-1-3-1 0-1-1-1 1-1-1-1-1-1-1-1-2-1 4-1-1-1 3-1 2-1 3-1-6-1 1-1-3-1-2-1-1-1-1-1 1-1-1-1-1-1 0-1 0-1 5-1-2-1 1-1-2-1-1-1 1-1-1-1 2-1 4-1-1-1-1-1 1-1 0-1-2-1-3-1-1-1 0-1-4-1 1-1 1-1 0-1-1-1 0-1 3-1 0-1-5-1 2-1 0-1 2-1 1-1 1-1 0-1-4-1-2-1 4-1 5-1-1-1-6-1-1-1-1-1 5-1-3-1 5-1-1-1-4-1 0-1-1-1 1-1 3-1 0-1-4-1 0-1 4-1-3-1 0-1 2-1 1-1-3-1-3-1 3-1-6-1 12-1 2-1-1-1 4-1 5-1-2-1-1-1 1-1 1-1 1-1-1-1-1-1 1-1 1-1-5-1-1-1 0-1 2-1-2-1 0-1-4-1-2-1-1-1 0-1 1-1-1-1-3-1 7-1-2-1-1-1-1-1 1-1 4-1 0-1-3-1 5-1-2-1 1-1-6-1 0-1 0-1 1-1 0-1 1-1-2-1 9-1-4-1 5-1-1-1 1-1 0-1-1-1 3-1-3-1-1-1 1-1-3-1-1-1-1-1 4-1-3-1 5-1-1-1-2-1-2-1-2-1-4-1 1-1 0-1 2-1-5-1 0-1 2-1 1-1 0-1-1-1 4-1 1-1-1-1-1-1 0-1-2-1 3-1 0-1-1-1-6-1-1-1 3-1-3-1-2-1 3-1 0-1 2-1-2-1 0-1-3-1 3-1-3-1 2-1-3-1 2-1 3-1-1-1-2-1-2-1 0-1-1-1 2-1-2-1 5-1-3-1 1-1 0-1 2-1-4-1-1-1-3-1 5-1-3-1-5-1 3-1 3-1-4-1 1-1-2-1 2-1-2-1-1-1 4-1-2-1-2-1 1-1 2-1-1-1-4-1 2-1-1-1 0-1 1-1 0-1-1-1-3-1 3-1-5-1 1-1-1-1-3-1 2-1-3-1 0-1-2-1 2-1-3-1-3-1 3-1 0-1-2-1-1-1-1-1-4-1 2-1-3-1 6-1-1-1 1-1 1-1-1-1 0-1-1-1-2-1 3-1 1-1-3-1 0-1 1-1-4-1 3-1 0-1 0-1-3-1 1-1-3-1 4-1-1-1-5-1-1-1 4-1 1-1-2-1 3-1 1-1 3-1-4-1-2-1 1-1 3-1 0-1-6-1 1-1-1-1 1-1 0-1 3-1-5-1 4-1 0-1-6-1 2-1-1-1-3-1 1-1-1-1 0-1-3-1 0-1-2-1 1-1-1-1-1-1 5-1 1-1 1-1-2-1 2-1-1-1-3-1 2-1-4-1 2-1-2-1 2-1 0-1-1-1 0-1-2-1 0-1 0-1-4-1 4-1-5-1-3-1 6-1-4-1 0-1-3-1-3-1 0-1 1-1-6-1 0-1 1-1-3-1 0-1-1-1 2-1-1-1-3-1 1-1 1-1 1-1 0-1-1-1-4-1-1-1-5-1-1-1-2-1 0-1-5-1-2-1-4-1-4-1 0-1 3-1-3-1-3-1 2-1-4-1-5-1 1-1-3-1-5-1 2-1-5-1-2-1-3-1-4-1 1-1-9-1-4-1-3-1 1-1-7-1-3-1-4-1-6-1-5-1-3-1-3-1 13-1 3-1 7-1 8-1 3-1-3-1-5-1-7-1-13-1-10-1-3-1 11-1 25-1 352z"/>
<path class="lR" d="M0 1400l1-292 1-22 1-8 1 5 1 11 1 12 1 8 1 4 1 6 1 1 1-6 1-8 1-1 1-4 1 2 1 3 1 1 1 5 1 5 1 4 1 5 1 3 1 4 1 3 1 7 1 4 1 2 1 0 1 3 1 6 1-1 1 4 1-1 1 2 1 4 1 3 1 3 1 2 1 6 1 2 1-2 1 3 1 3 1-4 1 5 1 2 1 4 1-2 1 4 1 1 1 1 1 4 1 0 1-1 1-3 1 0 1 2 1 2 1-3 1 3 1 1 1 2 1 1 1 0 1 3 1 2 1 1 1 1 1 3 1 1 1 1 1-2 1 3 1 1 1-6 1 6 1 1 1-1 1 1 1-2 1 4 1 0 1-3 1 2 1 1 1 3 1-1 1 0 1 2 1-4 1 0 1-2 1 1 1 1 1 2 1 2 1-1 1 1 1 0 1-4 1 1 1 2 1 3 1-3 1 3 1 1 1 4 1-2 1 1 1 4 1-6 1 0 1 0 1 1 1-1 1 4 1 2 1-3 1 0 1 1 1 4 1-1 1-3 1-3 1 4 1 0 1 3 1 0 1 3 1 0 1-6 1 4 1 1 1 2 1 0 1 0 1-4 1 1 1-1 1-3 1 1 1-1 1 1 1 1 1 1 1-2 1 1 1 1 1 1 1-2 1-5 1 0 1 0 1 3 1-4 1 2 1 2 1 3 1 0 1 1 1 0 1-1 1 1 1 0 1 5 1-3 1 3 1 3 1-2 1 4 1-1 1 2 1-1 1 2 1-2 1 0 1 4 1-1 1 5 1 1 1-2 1-4 1 3 1 1 1-4 1 1 1 1 1 1 1 2 1-4 1 3 1-2 1 1 1 2 1 3 1-4 1 2 1-2 1 4 1-3 1-2 1-2 1 3 1 0 1-1 1 2 1-1 1-2 1 4 1 2 1-2 1 0 1-2 1 2 1 0 1 4 1-3 1 4 1 0 1 0 1-3 1 1 1 2 1 1 1 3 1-1 1 1 1 1 1 2 1-1 1 2 1-2 1-1 1 1 1 0 1 1 1-2 1 2 1 0 1-5 1-1 1 0 1 4 1-2 1 3 1-2 1 3 1 2 1-6 1 3 1 0 1-4 1 4 1-2 1 1 1 2 1 4 1-4 1-1 1 3 1-4 1 6 1-2 1-5 1 4 1-7 1 5 1-2 1 4 1-2 1-2 1-4 1 1 1 1 1 5 1-1 1 1 1-2 1 3 1 0 1-1 1-5 1 1 1-2 1 3 1-6 1 6 1 0 1-2 1-2 1 1 1 1 1 5 1-4 1 4 1 0 1 0 1-1 1 2 1-1 1-2 1 5 1-2 1 1 1 0 1-3 1 2 1 2 1-5 1 1 1 0 1-3 1-1 1 5 1-1 1-2 1 4 1-3 1-2 1 0 1 2 1-3 1-1 1 3 1 2 1-3 1-2 1 4 1-2 1 1 1 1 1 1 1 0 1-4 1 0 1 2 1 5 1 3 1-4 1-2 1 1 1 3 1 2 1-2 1-3 1-5 1 3 1-4 1 3 1 1 1-2 1 1 1-3 1 0 1-2 1 1 1-1 1-1 1 5 1 4 1 1 1 2 1 0 1-4 1 2 1-3 1-4 1-2 1 0 1 2 1 3 1-2 1 2 1-5 1-2 1-2 1 2 1 2 1 2 1-2 1 1 1 1 1 4 1-4 1 5 1-1 1 0 1-1 1 1 1-2 1 1 1 2 1 1 1 1 1-2 1 4 1-3 1 7 1-1 1-1"/>
</g>
<path fill="#FD3216" d="M1601.89,564.59l9.15,9.15l9.15,-9.15l-9.15,-9.15l9.15,-9.15l-9.15,-9.15l-9.15,9.15l-9.15,-9.15l-9.15,9.15l9.15,9.15l-9.15,9.15l9.15,9.15ZM1949.25,593.50l9.15,9.15l9.15,-9.15l-9.15,-9.15l9.15,-9.15l-9.15,-9.15l-9.15,9.15l-9.15,-9.15l-9.15,9.15l9.15,9.15l-9.15,9.15l9.15,9.15Z"/>
<g transform="translate(1601.89,892.77) scale(0.8684,-0.24095)">
<path class="bG" d="M0 1396l1-429 1 31 1 13 1 33 1 26 1 21 1 11 1 8 1 6 1 1 1 0 1 1 1-5 1-3 1-3 1-1 1-4 1 2 1 0 1 5 1-2 1 0 1 4 1 10 1-3 1 3 1-2 1 0 1 1 1 1 1-1 1 8 1 0 1 3 1 5 1-1 1 6 1-5 1 6 1 7 1 5 1 2 1 0 1 1 1-2 1 0 1-3 1 2 1-2 1-2 1-1 1-5 1 4 1 2 1 4 1 2 1 2 1 2 1 10 1 0 1 2 1 4 1 3 1 0 1 0 1 5 1-3 1 0 1 2 1 0 1 5 1 0 1 1 1 3 1-6 1-3 1 3 1 2 1 0 1 1 1 1 1 0 1 0 1 1 1 7 1 1 1 0 1-2 1 1 1 5 1 1 1 2 1 0 1-1 1 0 1 2 1 0 1-1 1 4 1-1 1 0 1 6 1 0 1 2 1-4 1 3 1-1 1 3 1-1 1 2 1 0 1-1 1-3 1-7 1-3 1 0 1-5 1-3 1-2 1 0 1-11 1 0 1-3 1 1 1 2 1 2 1 2 1 2 1 1 1 2 1-1 1 3 1 1 1 4 1-3 1 5 1 0 1 1 1 4 1 7 1 1 1 1 1 1 1 0 1 3 1 2 1 1 1 2 1 2 1 1 1-3 1 2 1 0 1 3 1 2 1-1 1 2 1 2 1 2 1-5 1 0 1 1 1 1 1 1 1-1 1 1 1 2 1 0 1-3 1 0 1 3 1-1 1-1 1 1 1 2 1 1 1 0 1-1 1 2 1-2 1 0 1 0 1-3 1 4 1-1 1-1 1 1 1 2 1 1 1-2 1 1 1-2 1 0 1 3 1 0 1 5 1-1 1 4 1 0 1-4 1-5 1 3 1-2 1 0 1 5 1-2 1-4 1 5 1 1 1 0 1 1 1 4 1 5 1 1 1-1 1 3 1 3 1-3 1 1 1 0 1 0 1 3 1 2 1-3 1 0 1-1 1-2 1-2 1-2 1 0 1 5 1-5 1-1 1-3 1 9 1 2 1-2 1-4 1 1 1-3 1 0 1-2 1 1 1-4 1-3 1 2 1-1 1-3 1 2 1-1 1-3 1-1 1-2 1-1 1 2 1-7 1 2 1-1 1-1 1 6 1-2 1-1 1 0 1 0 1-1 1 1 1-1 1-2 1-1 1-2 1 4 1 1 1 1 1-2 1 1 1 0 1 0 1 2 1-4 1 4 1-1 1-1 1 2 1-3 1 2 1-2 1 8 1 3 1 6 1 1 1-1 1 2 1 1 1 3 1-4 1-1 1 0 1-1 1 0 1-2 1 3 1 2 1 2 1 0 1 5 1 2 1-2 1 1 1-3 1 1 1 2 1-2 1 0 1-1 1 1 1 2 1 1 1-1 1 1 1 3 1 2 1-1 1-2 1 1 1 0 1 2 1-1 1 0 1 1 1-1 1 0 1 5 1-2 1-1 1 1 1-2 1 1 1 1 1-4 1 1 1-1 1 1 1 2 1-3 1 2 1 0 1 1 1 0 1 1 1-1 1-4 1 2 1 2 1 0 1 1 1-4 1 0 1-1 1-5 1-1 1 1 1 1 1 1 1-2 1 1 1 2 1-1 1-1 1-2 1 1 1 2 1-1 1 1 1-1 1-1 1 2 1-2 1-1 1 0 1 1 1 0 1 0 1 0 1-4 1 3 1-2 1-3 1-3 1-1 1-3 1 0 1-3 1-2 1 2 1-3 1-9 1-2 1 1 1-3 1-1 0-134-1-2-1 2-1-2-1-1-1-2-1 1-1-1-1-1-1-1-1 0-1-1-1-4-1 1-1-1-1 2-1 0-1 1-1-4-1-2-1 3-1 0-1 0-1-1-1-2-1-1-1-3-1 2-1-1-1 2-1-1-1-2-1 0-1 1-1 1-1 0-1-1-1 1-1-2-1 2-1-3-1 1-1-1-1 1-1-1-1-2-1-2-1 3-1-2-1 3-1-3-1 3-1-3-1 0-1 1-1 2-1 2-1-5-1 3-1-1-1 1-1 0-1-1-1 2-1 3-1-5-1 2-1-1-1 0-1-4-1 1-1-6-1 1-1 2-1-1-1 3-1-1-1-1-1-2-1-1-1-2-1 4-1-1-1 2-1 0-1-3-1 1-1-4-1 1-1 0-1-2-1 1-1-2-1-1-1 1-1 0-1-4-1 0-1 0-1 6-1 1-1-3-1 0-1 0-1-4-1 0-1 1-1 2-1 5-1-2-1 0-1 1-1 5-1 4-1 4-1 0-1-3-1 1-1-2-1-1-1 2-1 1-1 7-1-3-1 0-1 3-1 0-1-2-1 0-1-2-1 3-1 0-1-3-1-2-1 0-1-1-1 3-1 1-1-5-1-1-1-1-1 3-1-3-1 3-1-2-1 0-1-5-1 0-1-2-1 0-1 1-1 4-1-3-1-3-1-1-1-1-1 1-1 1-1 0-1 2-1-2-1 0-1 0-1 1-1 0-1 1-1 2-1-4-1-2-1 1-1 2-1-3-1 1-1-2-1-2-1-2-1-3-1 2-1-1-1-1-1-4-1 1-1 0-1-3-1 3-1 2-1-1-1-1-1 2-1 1-1 0-1 3-1-2-1 0-1-2-1-2-1 4-1-5-1-1-1-1-1-1-1 3-1-2-1 0-1-1-1 4-1 0-1-1-1 2-1 1-1-2-1-2-1-3-1-1-1 2-1 2-1-2-1 3-1-12-1 1-1-6-1 2-1-2-1 7-1-3-1 1-1-2-1 3-1 1-1-3-1-3-1-1-1-2-1 1-1 0-1-5-1-2-1-2-1-1-1 3-1 1-1-3-1-3-1 4-1-1-1-2-1 1-1 0-1-2-1 1-1-1-1-2-1 0-1 0-1 0-1 1-1-6-1 1-1-3-1 0-1-3-1 1-1 1-1-3-1 1-1 1-1-2-1 0-1-2-1-1-1-1-1 0-1-4-1 1-1-4-1-3-1 0-1-1-1-1-1 1-1 7-1-2-1 0-1-2-1 0-1-2-1 1-1 0-1-1-1-4-1 1-1 2-1-3-1-1-1-3-1-2-1-4-1 3-1-1-1-1-1-2-1-2-1 2-1-1-1-6-1 3-1 0-1 4-1-1-1-3-1-3-1 1-1 0-1-3-1-3-1 1-1 3-1 5-1-2-1 2-1 0-1-1-1-2-1 3-1 1-1-5-1 0-1 0-1 1-1 0-1-1-1 1-1-1-1 1-1 1-1-1-1-1-1-5-1 1-1-3-1-1-1-2-1 0-1 0-1-3-1-3-1-3-1 3-1-8-1-4-1 1-1-3-1-6-1 1-1 1-1-1-1-8-1 1-1-4-1 3-1-2-1-4-1-2-1 0-1-3-1-4-1-1-1-3-1 0-1-5-1-11-1-1-1-1-1-5-1-3-1-2-1-7-1-3-1-3-1-2-1-5-1-3-1-2-1-4-1-7-1-7-1-9-1-11-1-6-1-6-1-10-1-11-1-10-1-10-1-10-1-13-1-12-1-12-1-54-1-63-1 796z"/>
<path class="lG" d="M0 1396l1-602 1 46 1 34 1 22 1 19 1 12 1 10 1 13 1 4 1 10 1 0 1 3 1 7 1 4 1 2 1 3 1 4 1 4 1-1 1 4 1 2 1 3 1 2 1-1 1 8 1 2 1 3 1 1 1 2 1 0 1 7 1-1 1 2 1 2 1 4 1 6 1-1 1 2 1 4 1 4 1 6 1-1 1 3 1-1 1-1 1 0 1-1 1-2 1 3 1 2 1-1 1-1 1 0 1 0 1 2 1 2 1 3 1 1 1-1 1 4 1 2 1 2 1 0 1 5 1 1 1 3 1-1 1 3 1 0 1 0 1-3 1 3 1 1 1-1 1 2 1 5 1 0 1 0 1 2 1 1 1 3 1 1 1 4 1-1 1-2 1 1 1 1 1 1 1 0 1-1 1 0 1 5 1 0 1-3 1 2 1 2 1 5 1 2 1-3 1 0 1 2 1 0 1 1 1 0 1 5 1 2 1 5 1-5 1 0 1-1 1-2 1 3 1 0 1-1 1 1 1-5 1 0 1-1 1-6 1-2 1 3 1-2 1 0 1 3 1 0 1-4 1 5 1-2 1 5 1 2 1 0 1 1 1 2 1-1 1 3 1 2 1 4 1 6 1-4 1 2 1-4 1 4 1 3 1-1 1 8 1-3 1-1 1 3 1 0 1 1 1 1 1-1 1 2 1-1 1-1 1-1 1-2 1 1 1 2 1 4 1-1 1-4 1 3 1 2 1-1 1 3 1-2 1 3 1 2 1 4 1-4 1 3 1 1 1 1 1-1 1 1 1-4 1 3 1 0 1-2 1 4 1 0 1 7 1-7 1 2 1 0 1 0 1-1 1 3 1 4 1-2 1 0 1 1 1-4 1 0 1-3 1 3 1 1 1 1 1 0 1 4 1-5 1 3 1 2 1-2 1 3 1 8 1-4 1-2 1 0 1-1 1 1 1 3 1-3 1 2 1-5 1-3 1 6 1-1 1 0 1 3 1-4 1 1 1 1 1 0 1 1 1 1 1-1 1 4 1-1 1-5 1 1 1 3 1 2 1-6 1 1 1 1 1-1 1-2 1-1 1-2 1-1 1 1 1 1 1 1 1-2 1 2 1 0 1 2 1-6 1 1 1-3 1 3 1 0 1 0 1-2 1 0 1-1 1 5 1-3 1-2 1 6 1-5 1 1 1-4 1-1 1 1 1 2 1 1 1 3 1-2 1 0 1 1 1 4 1-1 1 0 1 2 1 0 1 4 1-1 1-4 1 3 1 0 1 0 1-1 1 1 1-1 1 4 1 0 1-3 1 0 1 3 1 1 1-2 1 0 1 3 1-2 1 2 1-3 1 8 1-4 1 0 1 0 1 3 1 0 1-2 1 1 1-1 1 2 1-4 1 5 1-2 1 1 1-1 1 2 1 3 1-2 1 0 1 1 1-5 1 2 1 1 1 1 1-3 1 2 1 0 1 2 1 1 1 1 1-1 1-2 1 1 1 3 1-5 1 1 1 1 1 1 1-2 1 5 1 0 1-3 1 4 1-1 1 3 1-2 1-4 1-2 1-1 1 2 1-4 1 7 1-3 1 3 1-4 1 0 1-1 1 1 1 1 1-2 1 2 1 0 1-1 1 4 1-2 1-1 1 3 1-1 1-2 1 1 1 1 1 0 1-2 1-1 1-3 1 1 1-2 1 5 1 1 1-3 1 3 1-2 1-2 1-4 1 2 1-2 1-2 1 3 1-3 1 4 1-3 1 2 1-1 1 0 1 0 1-4 1 1 1 4 1-1 1-1 1-1"/>
</g>
<path fill="#00FE35" d="M1601.89,565.55l9.15,9.15l9.15,-9.15l-9.15,-9.15l9.15,-9.15l-9.15,-9.15l-9.15,9.15l-9.15,-9.15l-9.15,9.15l9.15,9.15l-9.15,9.15l9.15,9.15ZM1949.25,620.97l9.15,9.15l9.15,-9.15l-9.15,-9.15l9.15,-9.15l-9.15,-9.15l-9.15,9.15l-9.15,-9.15l-9.15,9.15l9.15,9.15l-9.15,9.15l9.15,9.15Z"/>
<g transform="translate(1601.89,892.77) scale(0.8684,-0.24095)">
<path class="bB" d="M0 1421l1-314 1-6 1 3 1 4 1 3 1 4 1 7 1 4 1 5 1 9 1 3 1 1 1 9 1 10 1 7 1 6 1 7 1 6 1 2 1 4 1 6 1 1 1 3 1 7 1 1 1 7 1-2 1 3 1 3 1 3 1 5 1 3 1 1 1 1 1 2 1 5 1 1 1 3 1-1 1 3 1 1 1 4 1 1 1 2 1 3 1-2 1 4 1-2 1 1 1 2 1 3 1 4 1-2 1 2 1 2 1 4 1-1 1-4 1 0 1 0 1-2 1 7 1 2 1 2 1 1 1 1 1 1 1-8 1-2 1 2 1 3 1-1 1 3 1 0 1 2 1 4 1-1 1-2 1 3 1 1 1-2 1 2 1 1 1 0 1 4 1-2 1-2 1 6 1 0 1-5 1 2 1-1 1 5 1 0 1 4 1-4 1 0 1-1 1 0 1 1 1 1 1-1 1 1 1-1 1-10 1 6 1 2 1 0 1 0 1 3 1-4 1 5 1-1 1-1 1 2 1 4 1 1 1 6 1-3 1 1 1-3 1-1 1 4 1 0 1-1 1-3 1 1 1 0 1-2 1 0 1 1 1 1 1-1 1 3 1-2 1 3 1 0 1 0 1 0 1 3 1-1 1-1 1-1 1 1 1 0 1 2 1 0 1-3 1-5 1-3 1 1 1 1 1 0 1 2 1 1 1 4 1-3 1-2 1 1 1 5 1-2 1-1 1-2 1 1 1-1 1 3 1-2 1 1 1 0 1 3 1-2 1-1 1-2 1-1 1 0 1-1 1 1 1 3 1 1 1-1 1-1 1-2 1 1 1-2 1 2 1 1 1 0 1 1 1 0 1 4 1-4 1 2 1 4 1-1 1 0 1 0 1-1 1 3 1-3 1 2 1 0 1-7 1 2 1-1 1-3 1 7 1 0 1 2 1 2 1-1 1 1 1-3 1-2 1-1 1 5 1-1 1 2 1-1 1 1 1 4 1 0 1-3 1 2 1 1 1-2 1 1 1 2 1 1 1 2 1 1 1-4 1 3 1-2 1-2 1-2 1 2 1 3 1-1 1-2 1 2 1-1 1 5 1 1 1-3 1-2 1-2 1 3 1-2 1 2 1 0 1-1 1 2 1-1 1 2 1 2 1-4 1 2 1 2 1-5 1 0 1 2 1 4 1-1 1 0 1-3 1-2 1 2 1 1 1-1 1 1 1-4 1 3 1-2 1-3 1 1 1-4 1 6 1 4 1-4 1-2 1 2 1 2 1 0 1-3 1-1 1 0 1-2 1 7 1 0 1 0 1-2 1 3 1-2 1 1 1-2 1 0 1 2 1-2 1 0 1 0 1-2 1 0 1 4 1-5 1 3 1 1 1-5 1 3 1 1 1 0 1 0 1 3 1 1 1 2 1-1 1 1 1-1 1 0 1-2 1 0 1 1 1-1 1 1 1 1 1 3 1-1 1-1 1 1 1-3 1 1 1-1 1-4 1 2 1-5 1 2 1 0 1-1 1 1 1 2 1-7 1-1 1-4 1 4 1 2 1-1 1 1 1 0 1-3 1 2 1-2 1 3 1 3 1-2 1-2 1 1 1-3 1 2 1 1 1-2 1 4 1 0 1 0 1 0 1 1 1 0 1 0 1 1 1-1 1 3 1-2 1 2 1 4 1 2 1-1 1-1 1 0 1-1 1 5 1 1 1-1 1 0 1 3 1-4 1-4 1 1 1-2 1-1 1 0 1 1 1 0 1-4 1-3 1 1 1 1 1-5 1 2 1-2 1 1 1 0 1-3 0-150-1-3-1 9-1 1-1 1-1 2-1-2-1-2-1 2-1 1-1 2-1 0-1 0-1 0-1 0-1 2-1-1-1 2-1 4-1-2-1 4-1-2-1-6-1-4-1 2-1 0-1 0-1 1-1-1-1-2-1 0-1 2-1-2-1 0-1 1-1 0-1 1-1-3-1 1-1-2-1 2-1-3-1 1-1 2-1 0-1 2-1 0-1 0-1-2-1 2-1-3-1 1-1-3-1-3-1 1-1 1-1-4-1 3-1 1-1-4-1 2-1 6-1-1-1 4-1-1-1 0-1 4-1 1-1-2-1 0-1 0-1-3-1 4-1 0-1-3-1 4-1-4-1 0-1 1-1 1-1 1-1 1-1 0-1 0-1-1-1-2-1 1-1 7-1-4-1-2-1 2-1 0-1 3-1-4-1 3-1-3-1 2-1-2-1-4-1 0-1 1-1-5-1 6-1-3-1 1-1 0-1 1-1-1-1 2-1-1-1 0-1 1-1 0-1-2-1 1-1 0-1 0-1-2-1 3-1-2-1 0-1-1-1 0-1-1-1-3-1 1-1 2-1 2-1-1-1-4-1 2-1 0-1 1-1-10-1 2-1 2-1 4-1 0-1 1-1 0-1-3-1 3-1-1-1 2-1-3-1-1-1-1-1 0-1-1-1 5-1 0-1-1-1-1-1 0-1 1-1-2-1-3-1 3-1-2-1 0-1-1-1 0-1-4-1 4-1-1-1 2-1-2-1-2-1 2-1-6-1 1-1-2-1-1-1 0-1-1-1-3-1 2-1-2-1-1-1 1-1-2-1-2-1 2-1-2-1 5-1-4-1-7-1 1-1 2-1 1-1 4-1 3-1 1-1 0-1-2-1-1-1 1-1-1-1 0-1 2-1-2-1 1-1 1-1-5-1 1-1 4-1-2-1-3-1 1-1-1-1 2-1 0-1 1-1-1-1 3-1-1-1 0-1-5-1 2-1 0-1 0-1 1-1-4-1 0-1 1-1-3-1 0-1 2-1-1-1 1-1 2-1 0-1-4-1 3-1 3-1-2-1 2-1-1-1-2-1 1-1 4-1-5-1 2-1 1-1-1-1-3-1-2-1-2-1 3-1-3-1 1-1 3-1 1-1 1-1-2-1-2-1 2-1 0-1-1-1 3-1-2-1 1-1 0-1 0-1-1-1-5-1 0-1 0-1 3-1 0-1-3-1 0-1 3-1 0-1 5-1 1-1 0-1-1-1-5-1 1-1 4-1-3-1 1-1-1-1 0-1-2-1 1-1 0-1 1-1-4-1-2-1-2-1 1-1-2-1 0-1 0-1-1-1 12-1-4-1 3-1 2-1-2-1 1-1 4-1 0-1 3-1-3-1-3-1-1-1 1-1-2-1 3-1-3-1-3-1 2-1 2-1-3-1 0-1 0-1-3-1 4-1-2-1-5-1 3-1-2-1 2-1-1-1-2-1 0-1 0-1-1-1-3-1 1-1 0-1-2-1-10-1-1-1 0-1 0-1-5-1 0-1-2-1 0-1-1-1 0-1-2-1-3-1-1-1-2-1-4-1 2-1-1-1-1-1-2-1 0-1-2-1-4-1 0-1-4-1-2-1-2-1-3-1 1-1-2-1-6-1-4-1-2-1-2-1-3-1-2-1 2-1-3-1-2-1-3-1 3-1-9-1-1-1 0-1 2-1-3-1 1-1-7-1-4-1-5-1-8-1-2-1-6-1-8-1-9-1-3-1-9-1-3-1-5-1-1-1 0-1-4-1-2-1 0-1 0-1 13-1 434z"/>
<path class="lB" d="M0 1421l1-374 1-9 1 2 1 1 1 3 1 4 1 3 1 4 1 2 1 5 1 10 1 3 1 7 1 12 1 5 1 5 1 6 1 7 1 2 1 7 1 3 1 1 1 1 1 6 1 0 1 9 1-5 1 4 1 3 1 2 1 4 1 1 1 1 1 2 1 5 1 3 1 4 1 0 1 1 1 4 1 1 1 1 1-1 1 2 1 4 1 1 1 4 1-1 1 0 1-1 1 2 1 5 1-1 1-1 1 3 1 2 1 0 1 1 1 1 1-2 1 2 1 4 1 2 1 1 1-1 1 4 1 3 1 5 1-4 1 2 1 1 1-1 1 3 1 2 1-1 1 1 1-1 1-1 1 6 1 1 1-4 1 5 1 0 1-2 1 3 1-1 1-1 1 4 1 4 1-4 1 2 1 0 1 2 1 2 1 2 1-2 1-1 1-2 1-1 1 2 1-1 1-2 1-2 1-1 1-2 1-1 1 1 1 1 1-4 1 4 1-1 1 3 1-1 1 0 1 0 1 2 1-1 1 5 1-2 1 5 1-6 1-2 1 5 1 2 1 0 1-6 1 1 1 0 1-7 1-1 1 3 1-1 1 1 1 3 1 0 1 2 1 1 1 2 1 0 1-1 1 2 1-1 1-1 1-1 1 1 1-2 1 1 1-3 1-6 1-2 1-1 1 1 1 0 1 1 1 5 1 3 1 1 1-4 1 3 1 4 1-3 1-3 1 2 1-1 1-1 1 0 1 0 1-2 1 2 1 3 1 0 1-4 1-2 1 0 1 1 1 3 1-3 1 4 1 3 1-1 1-2 1-2 1 2 1 0 1 1 1 1 1-1 1 0 1 0 1 8 1-8 1 1 1 0 1 1 1 2 1-4 1 0 1 6 1-2 1 0 1-2 1-2 1 0 1-1 1-2 1 1 1-1 1 2 1-1 1 3 1 0 1-6 1 1 1-3 1 5 1 3 1-2 1 1 1-2 1 1 1 3 1 0 1 1 1 3 1-2 1 0 1-2 1 3 1 1 1 2 1-2 1 5 1 2 1-3 1 4 1-3 1 0 1-2 1 2 1-3 1 0 1 2 1 5 1-4 1 2 1 0 1 2 1-1 1-1 1 2 1-2 1 2 1 0 1 2 1 3 1-3 1 1 1 0 1-1 1 0 1 1 1 2 1-2 1 0 1-2 1-4 1 2 1 2 1 1 1-1 1-4 1 2 1-3 1 1 1-1 1-3 1 6 1 3 1-4 1 0 1 0 1 1 1-1 1 0 1 0 1 3 1 0 1 2 1 0 1-3 1-2 1 3 1-2 1-1 1 2 1 2 1 1 1-4 1-4 1 3 1 2 1 3 1 2 1-2 1 4 1 2 1-6 1 5 1-2 1 0 1-3 1 6 1 3 1 0 1-1 1 1 1-1 1-5 1 0 1 0 1 1 1-1 1-3 1 1 1 4 1-2 1 0 1 1 1-2 1 3 1-2 1 1 1 1 1-4 1 3 1-1 1-5 1 1 1 7 1-5 1-2 1 0 1 1 1-1 1 3 1 1 1 0 1-2 1 2 1 1 1 1 1-1 1 1 1 1 1-1 1-3 1 0 1-2 1-2 1 3 1-2 1 3 1-3 1 0 1-1 1 2 1 0 1-1 1 1 1-2 1 2 1-1 1 2 1-3 1 2 1 0 1-2 1 3 1 2 1 1 1-2 1 1 1-5 1 0 1 1 1-2 1 0 1-1 1-1 1-1 1-4 1 2 1 0 1 1 1 0 1-2 1 1 1-2 1 0 1-2"/>
</g>
<path fill="#6A76FC" d="M1601.89,559.53l9.15,9.15l9.15,-9.15l-9.15,-9.15l9.15,-9.15l-9.15,-9.15l-9.15,9.15l-9.15,-9.15l-9.15,9.15l9.15,9.15l-9.15,9.15l9.15,9.15ZM1949.25,604.59l9.15,9.15l9.15,-9.15l-9.15,-9.15l9.15,-9.15l-9.15,-9.15l-9.15,9.15l-9.15,-9.15l-9.15,9.15l9.15,9.15l-9.15,9.15l9.15,9.15Z"/>
<g transform="translate(1601.89,892.77) scale(0.8684,-0.24095)">
<path class="bM" d="M0 1380l1 2 1-67 1-32 1 9 1 5 1 8 1 3 1 6 1 5 1 3 1 6 1 1 1 8 1 2 1 6 1 5 1-2 1 4 1 4 1 5 1 7 1 6 1 0 1 2 1 3 1 1 1 1 1 5 1 1 1 2 1 0 1 0 1 0 1 5 1 1 1 2 1 0 1-1 1 0 1 1 1 5 1-3 1 0 1 0 1 1 1-1 1 10 1 4 1 3 1 1 1 2 1 1 1-3 1-4 1 4 1-1 1 3 1 0 1 2 1 0 1 3 1-1 1 3 1-2 1-5 1 0 1 4 1 2 1-1 1-1 1 4 1 1 1 6 1 3 1 0 1-3 1 0 1 0 1 4 1-1 1 6 1 2 1 0 1 1 1-4 1-7 1-12 1-6 1 2 1 0 1-4 1-2 1 0 1 0 1 5 1 0 1 2 1 1 1 1 1 0 1 3 1-1 1 0 1-1 1-1 1 5 1-2 1 0 1-1 1-1 1 0 1 3 1 0 1 0 1 3 1 1 1 2 1-1 1 0 1-1 1-4 1 2 1 0 1 1 1 2 1 0 1 1 1 2 1 1 1-2 1-3 1-3 1-1 1 0 1-1 1 2 1 1 1-1 1-1 1 2 1 4 1-2 1 2 1 0 1 1 1-9 1-6 1 1 1 3 1 0 1 0 1-1 1 2 1-1 1-2 1-2 1 6 1-7 1-1 1-3 1 4 1 1 1 1 1-1 1 1 1-2 1 0 1-3 1 4 1 7 1-2 1 1 1 2 1-1 1-3 1-1 1 1 1-1 1 2 1-2 1-3 1 1 1-1 1 0 1 1 1 1 1-3 1 4 1-3 1 4 1 1 1 0 1 3 1-3 1 0 1 3 1-2 1-1 1 5 1-3 1 0 1 4 1-7 1 1 1 3 1 3 1-1 1-2 1 2 1-3 1 5 1-3 1 1 1 0 1-2 1 0 1-5 1 4 1 1 1-2 1-1 1 0 1 2 1 0 1-5 1-1 1 3 1 0 1 2 1 1 1 1 1-1 1 2 1-2 1 3 1-1 1-1 1 0 1-2 1-2 1 2 1-2 1 2 1-3 1 8 1 1 1-3 1 2 1-3 1 1 1 0 1 1 1-4 1 2 1 10 1-2 1 2 1 0 1-2 1 4 1 0 1 3 1-1 1-1 1 1 1 1 1 0 1-1 1-4 1 2 1-1 1 1 1-2 1 1 1 0 1-2 1 1 1-3 1-1 1 0 1-2 1 4 1-3 1 2 1-2 1 0 1-2 1 2 1-2 1-1 1 0 1-1 1 1 1 1 1 1 1 1 1 1 1-2 1 2 1-2 1 0 1 1 1 0 1-2 1 2 1-3 1-2 1 3 1-1 1 4 1-2 1 2 1-3 1-1 1 3 1 0 1 0 1 1 1-1 1-6 1 3 1 1 1 2 1-2 1 2 1 2 1-4 1-2 1 1 1 0 1 3 1-1 1 4 1-5 1 3 1-3 1 0 1-1 1 0 1 2 1 0 1-1 1 0 1 1 1-1 1 0 1 0 1 1 1 1 1 1 1-2 1 1 1-1 1 0 1-3 1 5 1-1 1-1 1-1 1-1 1 3 1-2 1 2 1 5 1-3 1-2 1-2 1 3 1 2 1-1 1-2 1 4 1-2 1 1 1-1 1 1 1-2 1 0 1 1 1-2 1-6 1 2 1 0 1 1 1-1 1-1 1 1 1 0 1 4 1 1 1-1 1-2 1 1 1 3 1-2 1 1 1 0 1 1 1-2 1 1 0-192-1 3-1 4-1-2-1-2-1-1-1-1-1 1-1-1-1 3-1-3-1-4-1 7-1 2-1 0-1 0-1 2-1 0-1-3-1 1-1-1-1-1-1 1-1 0-1 2-1 0-1 4-1-2-1-1-1 0-1-3-1 5-1-3-1 3-1-5-1 2-1 0-1 0-1 0-1 1-1 0-1 2-1-2-1-3-1 0-1-3-1 2-1 6-1 2-1 2-1 1-1-1-1-2-1-2-1-1-1 4-1 0-1 1-1-2-1 2-1 0-1-2-1 3-1 0-1-5-1 1-1-3-1-1-1 2-1 2-1 1-1-1-1-1-1-2-1 1-1 1-1 1-1 0-1 1-1 1-1 0-1-2-1-1-1 2-1 3-1 2-1-8-1 6-1 1-1-2-1 1-1 0-1 1-1-2-1 1-1 4-1-2-1 3-1 2-1-2-1-4-1 2-1 0-1 3-1-3-1 3-1 0-1-8-1-7-1 0-1 3-1 0-1 2-1-4-1 0-1 4-1 0-1-2-1-2-1-3-1 0-1-2-1 1-1 1-1 1-1 1-1 2-1 0-1 0-1-3-1 3-1-2-1 1-1-2-1 2-1 2-1 0-1-2-1 3-1 2-1-1-1-2-1 3-1 0-1-3-1-5-1 4-1-3-1 3-1-2-1 3-1-1-1-2-1 1-1-1-1-1-1 2-1-3-1 1-1 4-1-2-1 2-1-2-1 0-1-1-1 2-1 0-1 0-1-1-1-1-1 2-1-2-1 3-1-6-1 1-1-1-1 0-1 0-1 0-1 0-1 0-1 2-1-1-1 0-1-3-1 2-1 1-1 1-1 0-1-2-1-1-1 1-1 1-1-2-1 1-1 1-1-3-1-1-1 2-1 2-1 1-1 2-1-3-1-2-1 2-1 0-1-4-1 7-1 2-1-1-1-1-1-6-1 1-1 0-1 0-1 1-1-1-1-2-1 2-1-1-1 0-1 0-1 3-1-4-1 0-1 4-1-1-1 0-1 1-1 1-1-2-1 0-1-4-1 3-1-1-1 1-1 0-1 1-1-1-1-3-1 1-1 0-1 1-1 2-1-1-1-5-1 2-1-1-1-3-1 2-1 1-1-3-1 5-1-2-1-2-1-3-1 2-1 1-1 0-1 1-1 1-1 5-1-3-1 1-1-4-1 0-1 1-1 0-1 1-1 0-1 1-1 1-1-4-1-1-1-1-1 2-1 1-1-2-1 1-1-2-1-1-1 0-1-2-1 2-1 0-1 0-1-1-1 1-1-3-1-2-1-1-1 0-1 0-1 0-1-2-1 2-1 2-1 0-1 0-1 5-1-8-1 7-1 1-1-1-1-3-1-1-1 1-1-1-1-1-1 1-1 3-1-1-1 2-1-3-1 8-1 1-1 1-1 1-1-4-1-7-1 0-1-3-1 0-1 2-1-4-1 1-1-8-1-3-1 1-1-4-1-2-1-1-1 0-1-3-1-1-1-1-1-3-1-1-1-1-1-1-1-3-1 0-1-3-1 2-1-2-1 2-1-6-1 5-1 0-1-3-1-2-1-3-1-5-1-3-1-2-1-3-1-3-1-1-1-1-1-4-1-6-1 1-1-2-1-3-1-1-1-3-1-1-1 4-1-3-1-2-1-11-1 1-1-8-1-3-1-3-1-5-1-6-1-8-1-2-1-4-1-6-1-5-1-2-1-8-1-5-1-3-1-11-1-7-1-4-1-6-1-4-1-5-1-7-1-3-1-2-1-6-1-3-1-4-1 13-1 19-1 340z"/>
<path class="lM" d="M0 1380l1-89 1-33 1-21 1-15 1-6 1-6 1-4 1 7 1 4 1 5 1 7 1 1 1 10 1 5 1 8 1 5 1 4 1 4 1 1 1 2 1 3 1 4 1 3 1 7 1 1 1 2 1 1 1 5 1 2 1 3 1 1 1-2 1-3 1 6 1 0 1 3 1 0 1 3 1-1 1 0 1 2 1 3 1 1 1 1 1 0 1-3 1 4 1 3 1 2 1 0 1-1 1 1 1-4 1-2 1 3 1-3 1 4 1-4 1 0 1 0 1 4 1-2 1-1 1 1 1 2 1-3 1 0 1 0 1 3 1-3 1 5 1-3 1 2 1 8 1 1 1-3 1 3 1 0 1 1 1 4 1 4 1 1 1-1 1 1 1-5 1-2 1-1 1-2 1-1 1 1 1-2 1 0 1-3 1 0 1-1 1-2 1 2 1-2 1 1 1-4 1 7 1-5 1 1 1-3 1 0 1 4 1 0 1-1 1-1 1 1 1 2 1 3 1 0 1 2 1 1 1 6 1-1 1 2 1 0 1-2 1-3 1 2 1-2 1-1 1 4 1 0 1 4 1 4 1-2 1 1 1 1 1 4 1-1 1 0 1 2 1-3 1 2 1-1 1-6 1 2 1-1 1-2 1 2 1-8 1-1 1 0 1 0 1-1 1-5 1 2 1-5 1-3 1 6 1 0 1 0 1 0 1 4 1 1 1 0 1 0 1 3 1 3 1 2 1-2 1 1 1-6 1 2 1-4 1 5 1 1 1 1 1-2 1 0 1 2 1 0 1-5 1-2 1 4 1 1 1-5 1-1 1-2 1-1 1 3 1-3 1-3 1-1 1 3 1-2 1 1 1-2 1 3 1 1 1-1 1 4 1 2 1 0 1-2 1-2 1-1 1 4 1 0 1-6 1 2 1 1 1 4 1-1 1 2 1 0 1-3 1 4 1-3 1 0 1 2 1-2 1 1 1 2 1 5 1 0 1-1 1 1 1-2 1 6 1-2 1-2 1 1 1 0 1 3 1-5 1 0 1-1 1-4 1 2 1 2 1 2 1-4 1 1 1-3 1 1 1-1 1 2 1-5 1 1 1-2 1 0 1 0 1-2 1 3 1-2 1 1 1-2 1 1 1-1 1 1 1 1 1 4 1-3 1 4 1-1 1 4 1 2 1-3 1 1 1-2 1-1 1 2 1-4 1 0 1-5 1 5 1 0 1 0 1-1 1 3 1-5 1 0 1-1 1 0 1 0 1 3 1-3 1 5 1-2 1 2 1 0 1-4 1 0 1 4 1-2 1-3 1 0 1 0 1 2 1-3 1 3 1 2 1 0 1-1 1 6 1-3 1 4 1-1 1-2 1 0 1 1 1-1 1 3 1 1 1-1 1 1 1 0 1 1 1-4 1 0 1 4 1-4 1-2 1-2 1-2 1 1 1 1 1 0 1 1 1-1 1 3 1 1 1-4 1 3 1-1 1-3 1 0 1 0 1 0 1 1 1-2 1 2 1-2 1 3 1-3 1 4 1 0 1-1 1-1 1 1 1 0 1-1 1-2 1 8 1 1 1 0 1-2 1 2 1-4 1 2 1-5 1 3 1 3 1-2 1 0 1 1 1 0 1-5 1 2 1 5 1-2 1-3 1 0 1-1 1 4 1-3 1 1 1-2 1 0 1 1 1 0 1-2 1-5 1 1 1 0 1-1 1-2 1-1 1 7 1 0 1-2 1 1 1 0 1 5 1-4 1-1 1-1 1-3 1 3 1 2 1-1 1 0 1 2 1-1 1 0 1-2"/>
</g>
<path fill="#FE00CE" d="M1601.89,569.41l9.15,9.15l9.15,-9.15l-9.15,-9.15l9.15,-9.15l-9.15,-9.15l-9.15,9.15l-9.15,-9.15l-9.15,9.15l9.15,9.15l-9.15,9.15l9.15,9.15ZM1949.25,582.42l9.15,9.15l9.15,-9.15l-9.15,-9.15l9.15,-9.15l-9.15,-9.15l-9.15,9.15l-9.15,-9.15l-9.15,9.15l9.15,9.15l-9.15,9.15l9.15,9.15Z"/>
</g>
</g>
<g font-size="20.6" fill="#2a3f5f" stroke="#2a3f5f" stroke-width="0.45" stroke-linejoin="round">
<text transform="translate(84.28,372.49) scale(0.99,1)" text-anchor="middle">0</text>
<text transform="translate(171.12,372.49) scale(0.99,1)" text-anchor="middle">100</text>
<text transform="translate(257.96,372.49) scale(0.99,1)" text-anchor="middle">200</text>
<text transform="translate(344.8,372.49) scale(0.99,1)" text-anchor="middle">300</text>
<text transform="translate(431.64,372.49) scale(0.99,1)" text-anchor="middle">400</text>
<text transform="translate(74.18,278.02) scale(0.985,1)" text-anchor="end">0.4</text>
<text transform="translate(74.18,181.7) scale(0.985,1)" text-anchor="end">0.6</text>
<text transform="translate(74.18,85.45) scale(0.985,1)" text-anchor="end">0.8</text>
<text transform="translate(590.15,372.49) scale(0.99,1)" text-anchor="middle">0</text>
<text transform="translate(676.99,372.49) scale(0.99,1)" text-anchor="middle">100</text>
<text transform="translate(763.83,372.49) scale(0.99,1)" text-anchor="middle">200</text>
<text transform="translate(850.67,372.49) scale(0.99,1)" text-anchor="middle">300</text>
<text transform="translate(937.51,372.49) scale(0.99,1)" text-anchor="middle">400</text>
<text transform="translate(580.05,278.02) scale(0.985,1)" text-anchor="end">0.4</text>
<text transform="translate(580.05,181.7) scale(0.985,1)" text-anchor="end">0.6</text>
<text transform="translate(580.05,85.45) scale(0.985,1)" text-anchor="end">0.8</text>
<text transform="translate(1096.02,372.49) scale(0.99,1)" text-anchor="middle">0</text>
<text transform="translate(1182.86,372.49) scale(0.99,1)" text-anchor="middle">100</text>
<text transform="translate(1269.7,372.49) scale(0.99,1)" text-anchor="middle">200</text>
<text transform="translate(1356.54,372.49) scale(0.99,1)" text-anchor="middle">300</text>
<text transform="translate(1443.38,372.49) scale(0.99,1)" text-anchor="middle">400</text>
<text transform="translate(1085.92,278.02) scale(0.985,1)" text-anchor="end">0.4</text>
<text transform="translate(1085.92,181.7) scale(0.985,1)" text-anchor="end">0.6</text>
<text transform="translate(1085.92,85.45) scale(0.985,1)" text-anchor="end">0.8</text>
<text transform="translate(1601.89,372.49) scale(0.99,1)" text-anchor="middle">0</text>
<text transform="translate(1688.73,372.49) scale(0.99,1)" text-anchor="middle">100</text>
<text transform="translate(1775.57,372.49) scale(0.99,1)" text-anchor="middle">200</text>
<text transform="translate(1862.41,372.49) scale(0.99,1)" text-anchor="middle">300</text>
<text transform="translate(1949.25,372.49) scale(0.99,1)" text-anchor="middle">400</text>
<text transform="translate(1591.79,278.02) scale(0.985,1)" text-anchor="end">0.4</text>
<text transform="translate(1591.79,181.7) scale(0.985,1)" text-anchor="end">0.6</text>
<text transform="translate(1591.79,85.45) scale(0.985,1)" text-anchor="end">0.8</text>
<text transform="translate(84.28,802.22) scale(0.99,1)" text-anchor="middle">0</text>
<text transform="translate(171.12,802.22) scale(0.99,1)" text-anchor="middle">100</text>
<text transform="translate(257.96,802.22) scale(0.99,1)" text-anchor="middle">200</text>
<text transform="translate(344.8,802.22) scale(0.99,1)" text-anchor="middle">300</text>
<text transform="translate(431.64,802.22) scale(0.99,1)" text-anchor="middle">400</text>
<text transform="translate(74.18,707.54) scale(0.985,1)" text-anchor="end">0.4</text>
<text transform="translate(74.18,611.6) scale(0.985,1)" text-anchor="end">0.6</text>
<text transform="translate(74.18,514.56) scale(0.985,1)" text-anchor="end">0.8</text>
<text transform="translate(590.15,802.22) scale(0.99,1)" text-anchor="middle">0</text>
<text transform="translate(676.99,802.22) scale(0.99,1)" text-anchor="middle">100</text>
<text transform="translate(763.83,802.22) scale(0.99,1)" text-anchor="middle">200</text>
<text transform="translate(850.67,802.22) scale(0.99,1)" text-anchor="middle">300</text>
<text transform="translate(937.51,802.22) scale(0.99,1)" text-anchor="middle">400</text>
<text transform="translate(580.05,707.54) scale(0.985,1)" text-anchor="end">0.4</text>
<text transform="translate(580.05,611.6) scale(0.985,1)" text-anchor="end">0.6</text>
<text transform="translate(580.05,514.56) scale(0.985,1)" text-anchor="end">0.8</text>
<text transform="translate(1096.02,802.22) scale(0.99,1)" text-anchor="middle">0</text>
<text transform="translate(1182.86,802.22) scale(0.99,1)" text-anchor="middle">100</text>
<text transform="translate(1269.7,802.22) scale(0.99,1)" text-anchor="middle">200</text>
<text transform="translate(1356.54,802.22) scale(0.99,1)" text-anchor="middle">300</text>
<text transform="translate(1443.38,802.22) scale(0.99,1)" text-anchor="middle">400</text>
<text transform="translate(1085.92,707.54) scale(0.985,1)" text-anchor="end">0.4</text>
<text transform="translate(1085.92,611.6) scale(0.985,1)" text-anchor="end">0.6</text>
<text transform="translate(1085.92,514.56) scale(0.985,1)" text-anchor="end">0.8</text>
<text transform="translate(1601.89,802.22) scale(0.99,1)" text-anchor="middle">0</text>
<text transform="translate(1688.73,802.22) scale(0.99,1)" text-anchor="middle">100</text>
<text transform="translate(1775.57,802.22) scale(0.99,1)" text-anchor="middle">200</text>
<text transform="translate(1862.41,802.22) scale(0.99,1)" text-anchor="middle">300</text>
<text transform="translate(1949.25,802.22) scale(0.99,1)" text-anchor="middle">400</text>
<text transform="translate(1591.79,707.54) scale(0.985,1)" text-anchor="end">0.4</text>
<text transform="translate(1591.79,611.6) scale(0.985,1)" text-anchor="end">0.6</text>
<text transform="translate(1591.79,514.56) scale(0.985,1)" text-anchor="end">0.8</text>
</g>
<g font-size="27.0" fill="#2a3f5f" stroke="#2a3f5f" stroke-width="0.4" stroke-linejoin="round">
<text transform="translate(78.88,23) scale(0.9976,1)">a) polbooks</text>
<text transform="translate(584.75,21.1) scale(0.989,1)">b) pso_128</text>
<text transform="translate(1090.62,21.1) scale(0.993,1)">c) pso_256</text>
<text transform="translate(1596.49,22.8) scale(0.9976,1)">d) metabolic</text>
<text transform="translate(78.88,449.7) scale(0.9976,1)">e) pso_512</text>
<text transform="translate(584.75,451) scale(0.989,1)">f) unicodelang</text>
<text transform="translate(1090.62,449.4) scale(0.995,1)">g) a_song_of_ice_and_fire</text>
<text transform="translate(1596.49,449.5) scale(0.995,1)">h) pso_1024</text>
</g>
<g font-size="23.5" fill="#2a3f5f" stroke="#2a3f5f" stroke-width="0.4" stroke-linejoin="round">
<text font-size="24.8" transform="translate(17.88,191.54) rotate(-90) scale(0.933,1)" text-anchor="middle">GC</text>
<text font-size="24.8" transform="translate(523.75,191.54) rotate(-90) scale(0.933,1)" text-anchor="middle">GC</text>
<text font-size="24.8" transform="translate(1029.62,191.54) rotate(-90) scale(0.933,1)" text-anchor="middle">GC</text>
<text font-size="24.8" transform="translate(1535.49,191.54) rotate(-90) scale(0.933,1)" text-anchor="middle">GC</text>
<text font-size="24.8" transform="translate(17.88,620.82) rotate(-90) scale(0.933,1)" text-anchor="middle">GC</text>
<text font-size="24.8" transform="translate(523.75,620.82) rotate(-90) scale(0.933,1)" text-anchor="middle">GC</text>
<text font-size="24.8" transform="translate(1029.62,620.82) rotate(-90) scale(0.933,1)" text-anchor="middle">GC</text>
<text font-size="24.8" transform="translate(1535.49,620.82) rotate(-90) scale(0.933,1)" text-anchor="middle">GC</text>
<text transform="translate(257.88,418.3) scale(0.985,1)" text-anchor="middle">epoch</text>
</g>
<g font-size="36.667" fill="#2a3f5f" stroke="#2a3f5f" stroke-width="0.3" stroke-linejoin="round">
<path d="M83.9,888.8h50" stroke="#FD3216" stroke-width="8.5" fill="none"/>
<text transform="translate(142,903.3) scale(1.0099,1)">RandomSampling</text>
<path d="M483.7,888.8h50" stroke="#00FE35" stroke-width="8.5" fill="none"/>
<text transform="translate(542.55,903.3) scale(1.0049,1)">DegreeDependentSampling</text>
<path d="M1069.7,888.8h50" stroke="#6A76FC" stroke-width="8.5" fill="none"/>
<text transform="translate(1128.06,903.3) scale(1.0055,1)">SourceDependentSampling</text>
<path d="M83.9,958.3h50" stroke="#FE00CE" stroke-width="8.5" fill="none"/>
<text transform="translate(142.5,972.8) scale(1.0052,1)">TargetDependentSampling</text>
</g>
</svg></body></html>
